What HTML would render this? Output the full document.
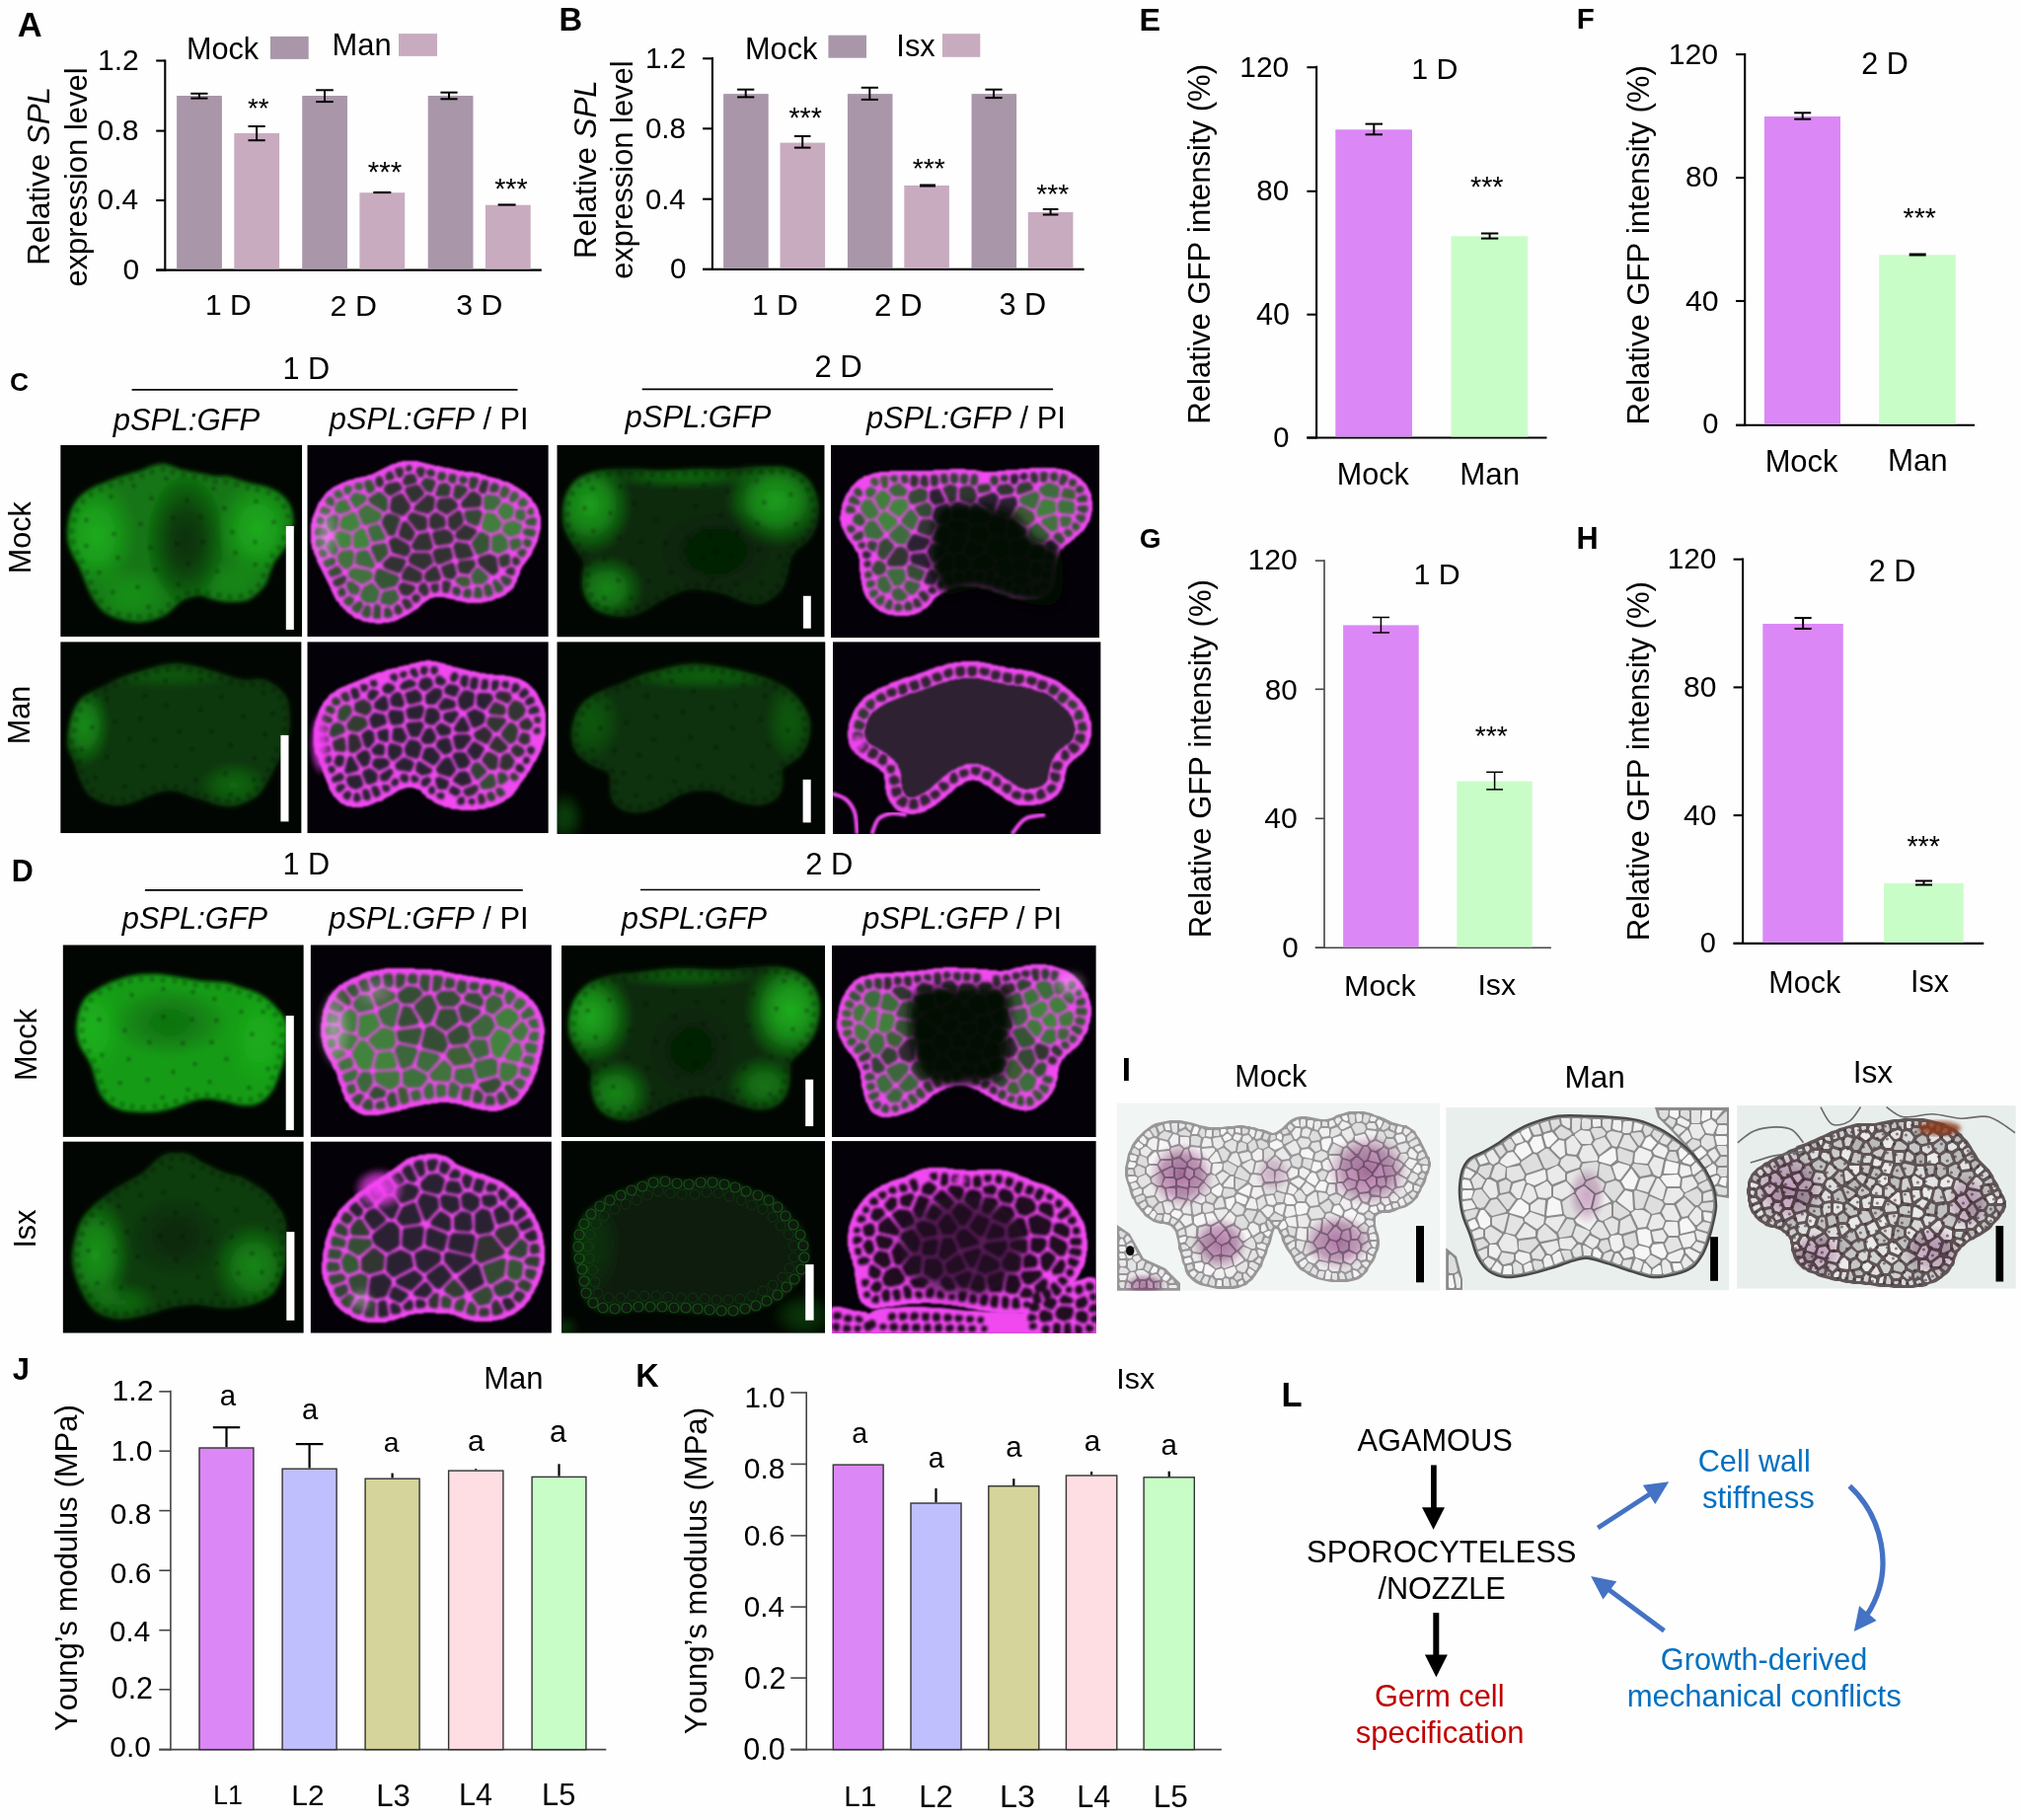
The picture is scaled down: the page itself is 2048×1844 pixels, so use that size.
<!DOCTYPE html>
<html><head><meta charset="utf-8"><title>Figure</title>
<style>html,body{margin:0;padding:0;background:#fff;} svg{display:block;will-change:transform;} text{font-family:'Liberation Sans', Arial, sans-serif;font-kerning:none;}</style>
</head><body>
<svg xmlns="http://www.w3.org/2000/svg" width="2048" height="1844" viewBox="0 0 2048 1844" font-family="'Liberation Sans', Arial, sans-serif">
<rect width="2048" height="1844" fill="#fefefe"/>
<defs>
<filter id="b06" x="-5%" y="-5%" width="110%" height="110%"><feGaussianBlur stdDeviation="0.6"/></filter>
<filter id="b1" x="-5%" y="-5%" width="110%" height="110%"><feGaussianBlur stdDeviation="1.1"/></filter>
<filter id="b13" x="-5%" y="-5%" width="110%" height="110%"><feGaussianBlur stdDeviation="1.35"/></filter>
<filter id="b2" x="-10%" y="-10%" width="120%" height="120%"><feGaussianBlur stdDeviation="2.2"/></filter>
<filter id="b4" x="-20%" y="-20%" width="140%" height="140%"><feGaussianBlur stdDeviation="4"/></filter>
<filter id="b6" x="-30%" y="-30%" width="160%" height="160%"><feGaussianBlur stdDeviation="6"/></filter>
<filter id="b8" x="-30%" y="-30%" width="160%" height="160%"><feGaussianBlur stdDeviation="8"/></filter>
<radialGradient id="gG"><stop offset="0" stop-color="#26d026"/><stop offset="0.45" stop-color="#22c422" stop-opacity="0.8"/><stop offset="0.75" stop-color="#1eb41e" stop-opacity="0.4"/><stop offset="1" stop-color="#1aa01a" stop-opacity="0"/></radialGradient>
<radialGradient id="gD2"><stop offset="0" stop-color="#041204"/><stop offset="0.4" stop-color="#041204" stop-opacity="0.8"/><stop offset="0.75" stop-color="#041204" stop-opacity="0.35"/><stop offset="1" stop-color="#041204" stop-opacity="0"/></radialGradient>
<radialGradient id="gD"><stop offset="0" stop-color="#000"/><stop offset="1" stop-color="#000" stop-opacity="0"/></radialGradient>
<radialGradient id="gM"><stop offset="0" stop-color="#ff44ff"/><stop offset="0.6" stop-color="#f040f0" stop-opacity="0.7"/><stop offset="1" stop-color="#e040e0" stop-opacity="0"/></radialGradient>
<radialGradient id="gW"><stop offset="0" stop-color="#f0c8f0"/><stop offset="1" stop-color="#f0c8f0" stop-opacity="0"/></radialGradient>
<radialGradient id="gP"><stop offset="0" stop-color="#a8609c"/><stop offset="0.6" stop-color="#b878ac" stop-opacity="0.8"/><stop offset="1" stop-color="#c890bc" stop-opacity="0"/></radialGradient>
<radialGradient id="gK"><stop offset="0" stop-color="#0a120a"/><stop offset="0.7" stop-color="#0a140a" stop-opacity="0.9"/><stop offset="1" stop-color="#0a140a" stop-opacity="0"/></radialGradient>
</defs>
<clipPath id="crC1"><rect x="61.2" y="450.9" width="245.0" height="194.3"/></clipPath>
<clipPath id="coC1"><path d="M68.3,538.3C68.5,533.2 69.3,526.4 70.7,521.3C72.1,516.3 74.3,511.6 76.8,508.0C79.2,504.3 82.2,501.9 85.2,499.5C88.3,497.1 91.3,495.2 94.9,493.4C98.6,491.6 103.0,490.2 107.1,488.6C111.1,487.0 115.1,485.1 119.2,483.7C123.2,482.3 127.3,481.3 131.3,480.1C135.4,478.9 139.4,477.9 143.4,476.5C147.5,475.0 151.9,472.7 155.6,471.6C159.2,470.5 162.4,469.8 165.3,469.8C168.1,469.8 169.7,470.7 172.5,471.6C175.4,472.5 178.6,474.2 182.2,475.2C185.9,476.3 190.3,476.9 194.3,477.7C198.4,478.5 202.4,479.3 206.5,480.1C210.5,480.9 214.6,482.1 218.6,482.5C222.6,482.9 226.7,481.9 230.7,482.5C234.8,483.1 238.8,484.9 242.8,486.2C246.9,487.4 250.9,488.8 255.0,489.8C259.0,490.8 263.0,491.0 267.1,492.2C271.1,493.4 275.6,495.0 279.2,497.1C282.8,499.1 286.3,501.5 288.9,504.3C291.5,507.2 293.6,510.4 295.0,514.0C296.4,517.7 297.3,522.1 297.4,526.2C297.5,530.2 296.6,534.2 295.6,538.3C294.6,542.3 293.0,546.8 291.3,550.4C289.6,554.0 287.5,556.9 285.3,560.1C283.0,563.3 280.0,566.2 278.0,569.8C276.0,573.4 274.6,578.3 273.1,581.9C271.7,585.6 271.3,588.6 269.5,591.6C267.7,594.7 265.1,597.5 262.2,600.1C259.4,602.7 256.2,605.8 252.5,607.4C248.9,609.0 244.5,609.4 240.4,609.8C236.4,610.2 232.3,610.2 228.3,609.8C224.3,609.4 220.2,608.4 216.2,607.4C212.1,606.4 207.7,604.1 204.0,603.7C200.4,603.3 197.6,604.1 194.3,605.0C191.1,605.8 187.7,606.8 184.7,608.6C181.6,610.4 179.0,613.4 176.2,615.9C173.3,618.3 171.1,621.1 167.7,623.1C164.2,625.2 159.6,626.8 155.6,628.0C151.5,629.2 147.9,630.2 143.4,630.4C139.0,630.6 133.5,630.0 128.9,629.2C124.2,628.4 119.6,627.2 115.6,625.6C111.5,624.0 107.9,622.1 104.6,619.5C101.4,616.9 98.6,613.2 96.2,609.8C93.7,606.4 91.9,602.7 90.1,598.9C88.3,595.1 86.9,590.8 85.2,586.8C83.6,582.7 82.2,578.5 80.4,574.7C78.6,570.8 76.2,567.6 74.3,563.7C72.5,559.9 70.5,555.9 69.5,551.6C68.5,547.4 68.1,543.3 68.3,538.3Z"/></clipPath>
<g clip-path="url(#crC1)">
<rect x="61.2" y="450.9" width="245.0" height="194.3" fill="#020602"/>
<g filter="url(#b2)">
<path d="M68.3,538.3C68.5,533.2 69.3,526.4 70.7,521.3C72.1,516.3 74.3,511.6 76.8,508.0C79.2,504.3 82.2,501.9 85.2,499.5C88.3,497.1 91.3,495.2 94.9,493.4C98.6,491.6 103.0,490.2 107.1,488.6C111.1,487.0 115.1,485.1 119.2,483.7C123.2,482.3 127.3,481.3 131.3,480.1C135.4,478.9 139.4,477.9 143.4,476.5C147.5,475.0 151.9,472.7 155.6,471.6C159.2,470.5 162.4,469.8 165.3,469.8C168.1,469.8 169.7,470.7 172.5,471.6C175.4,472.5 178.6,474.2 182.2,475.2C185.9,476.3 190.3,476.9 194.3,477.7C198.4,478.5 202.4,479.3 206.5,480.1C210.5,480.9 214.6,482.1 218.6,482.5C222.6,482.9 226.7,481.9 230.7,482.5C234.8,483.1 238.8,484.9 242.8,486.2C246.9,487.4 250.9,488.8 255.0,489.8C259.0,490.8 263.0,491.0 267.1,492.2C271.1,493.4 275.6,495.0 279.2,497.1C282.8,499.1 286.3,501.5 288.9,504.3C291.5,507.2 293.6,510.4 295.0,514.0C296.4,517.7 297.3,522.1 297.4,526.2C297.5,530.2 296.6,534.2 295.6,538.3C294.6,542.3 293.0,546.8 291.3,550.4C289.6,554.0 287.5,556.9 285.3,560.1C283.0,563.3 280.0,566.2 278.0,569.8C276.0,573.4 274.6,578.3 273.1,581.9C271.7,585.6 271.3,588.6 269.5,591.6C267.7,594.7 265.1,597.5 262.2,600.1C259.4,602.7 256.2,605.8 252.5,607.4C248.9,609.0 244.5,609.4 240.4,609.8C236.4,610.2 232.3,610.2 228.3,609.8C224.3,609.4 220.2,608.4 216.2,607.4C212.1,606.4 207.7,604.1 204.0,603.7C200.4,603.3 197.6,604.1 194.3,605.0C191.1,605.8 187.7,606.8 184.7,608.6C181.6,610.4 179.0,613.4 176.2,615.9C173.3,618.3 171.1,621.1 167.7,623.1C164.2,625.2 159.6,626.8 155.6,628.0C151.5,629.2 147.9,630.2 143.4,630.4C139.0,630.6 133.5,630.0 128.9,629.2C124.2,628.4 119.6,627.2 115.6,625.6C111.5,624.0 107.9,622.1 104.6,619.5C101.4,616.9 98.6,613.2 96.2,609.8C93.7,606.4 91.9,602.7 90.1,598.9C88.3,595.1 86.9,590.8 85.2,586.8C83.6,582.7 82.2,578.5 80.4,574.7C78.6,570.8 76.2,567.6 74.3,563.7C72.5,559.9 70.5,555.9 69.5,551.6C68.5,547.4 68.1,543.3 68.3,538.3Z" fill="rgb(18, 117, 18)"/>
<g clip-path="url(#coC1)">
<ellipse cx="97.4" cy="541.9" rx="42.4" ry="60.6" fill="url(#gG)" opacity="0.60"/>
<ellipse cx="261.0" cy="535.9" rx="42.4" ry="54.6" fill="url(#gG)" opacity="0.60"/>
<ellipse cx="133.7" cy="602.5" rx="42.4" ry="30.3" fill="url(#gG)" opacity="0.30"/>
<ellipse cx="236.8" cy="590.4" rx="36.4" ry="24.2" fill="url(#gG)" opacity="0.20"/>
<ellipse cx="188.3" cy="548.0" rx="40.0" ry="67.9" fill="url(#gD2)" opacity="0.70"/>
</g></g>
<path d="M76,538a3,3 0 1,0 -6,0a3,3 0 1,0 6,0ZM77,549a3,3 0 1,0 -6,0a3,3 0 1,0 6,0ZM81,560a3,3 0 1,0 -6,0a3,3 0 1,0 6,0ZM86,569a3,3 0 1,0 -6,0a3,3 0 1,0 6,0ZM91,580a3,3 0 1,0 -6,0a3,3 0 1,0 6,0ZM95,590a3,3 0 1,0 -6,0a3,3 0 1,0 6,0ZM99,600a3,3 0 1,0 -6,0a3,3 0 1,0 6,0ZM105,609a3,3 0 1,0 -6,0a3,3 0 1,0 6,0ZM113,617a3,3 0 1,0 -6,0a3,3 0 1,0 6,0ZM123,622a3,3 0 1,0 -6,0a3,3 0 1,0 6,0ZM134,624a3,3 0 1,0 -6,0a3,3 0 1,0 6,0ZM144,625a3,3 0 1,0 -6,0a3,3 0 1,0 6,0ZM155,624a3,3 0 1,0 -6,0a3,3 0 1,0 6,0ZM166,620a3,3 0 1,0 -6,0a3,3 0 1,0 6,0ZM174,613a3,3 0 1,0 -6,0a3,3 0 1,0 6,0ZM183,606a3,3 0 1,0 -6,0a3,3 0 1,0 6,0ZM193,601a3,3 0 1,0 -6,0a3,3 0 1,0 6,0ZM203,599a3,3 0 1,0 -6,0a3,3 0 1,0 6,0ZM214,601a3,3 0 1,0 -6,0a3,3 0 1,0 6,0ZM225,603a3,3 0 1,0 -6,0a3,3 0 1,0 6,0ZM236,605a3,3 0 1,0 -6,0a3,3 0 1,0 6,0ZM247,604a3,3 0 1,0 -6,0a3,3 0 1,0 6,0ZM257,600a3,3 0 1,0 -6,0a3,3 0 1,0 6,0ZM265,593a3,3 0 1,0 -6,0a3,3 0 1,0 6,0ZM270,583a3,3 0 1,0 -6,0a3,3 0 1,0 6,0ZM274,573a3,3 0 1,0 -6,0a3,3 0 1,0 6,0ZM279,563a3,3 0 1,0 -6,0a3,3 0 1,0 6,0ZM286,555a3,3 0 1,0 -6,0a3,3 0 1,0 6,0ZM291,545a3,3 0 1,0 -6,0a3,3 0 1,0 6,0ZM294,534a3,3 0 1,0 -6,0a3,3 0 1,0 6,0ZM295,523a3,3 0 1,0 -6,0a3,3 0 1,0 6,0ZM291,513a3,3 0 1,0 -6,0a3,3 0 1,0 6,0ZM284,505a3,3 0 1,0 -6,0a3,3 0 1,0 6,0ZM275,499a3,3 0 1,0 -6,0a3,3 0 1,0 6,0ZM264,496a3,3 0 1,0 -6,0a3,3 0 1,0 6,0ZM254,494a3,3 0 1,0 -6,0a3,3 0 1,0 6,0ZM243,491a3,3 0 1,0 -6,0a3,3 0 1,0 6,0ZM232,488a3,3 0 1,0 -6,0a3,3 0 1,0 6,0ZM221,488a3,3 0 1,0 -6,0a3,3 0 1,0 6,0ZM211,485a3,3 0 1,0 -6,0a3,3 0 1,0 6,0ZM200,483a3,3 0 1,0 -6,0a3,3 0 1,0 6,0ZM189,481a3,3 0 1,0 -6,0a3,3 0 1,0 6,0ZM178,478a3,3 0 1,0 -6,0a3,3 0 1,0 6,0ZM168,475a3,3 0 1,0 -6,0a3,3 0 1,0 6,0ZM157,478a3,3 0 1,0 -6,0a3,3 0 1,0 6,0ZM147,482a3,3 0 1,0 -6,0a3,3 0 1,0 6,0ZM136,485a3,3 0 1,0 -6,0a3,3 0 1,0 6,0ZM126,488a3,3 0 1,0 -6,0a3,3 0 1,0 6,0ZM115,492a3,3 0 1,0 -6,0a3,3 0 1,0 6,0ZM105,496a3,3 0 1,0 -6,0a3,3 0 1,0 6,0ZM95,501a3,3 0 1,0 -6,0a3,3 0 1,0 6,0ZM87,508a3,3 0 1,0 -6,0a3,3 0 1,0 6,0ZM81,517a3,3 0 1,0 -6,0a3,3 0 1,0 6,0ZM78,527a3,3 0 1,0 -6,0a3,3 0 1,0 6,0Z" fill="#000" opacity="0.18" filter="url(#b1)"/>
<path d="M182,551a2.5,2.5 0 1,0 -5,0a2.5,2.5 0 1,0 5,0ZM178,525a2.5,2.5 0 1,0 -5,0a2.5,2.5 0 1,0 5,0ZM192,507a2.5,2.5 0 1,0 -5,0a2.5,2.5 0 1,0 5,0ZM156,505a2.5,2.5 0 1,0 -5,0a2.5,2.5 0 1,0 5,0ZM230,515a2.5,2.5 0 1,0 -5,0a2.5,2.5 0 1,0 5,0ZM145,531a2.5,2.5 0 1,0 -5,0a2.5,2.5 0 1,0 5,0ZM115,503a2.5,2.5 0 1,0 -5,0a2.5,2.5 0 1,0 5,0ZM208,549a2.5,2.5 0 1,0 -5,0a2.5,2.5 0 1,0 5,0ZM183,592a2.5,2.5 0 1,0 -5,0a2.5,2.5 0 1,0 5,0ZM223,579a2.5,2.5 0 1,0 -5,0a2.5,2.5 0 1,0 5,0ZM155,555a2.5,2.5 0 1,0 -5,0a2.5,2.5 0 1,0 5,0ZM118,541a2.5,2.5 0 1,0 -5,0a2.5,2.5 0 1,0 5,0ZM171,485a2.5,2.5 0 1,0 -5,0a2.5,2.5 0 1,0 5,0ZM122,565a2.5,2.5 0 1,0 -5,0a2.5,2.5 0 1,0 5,0ZM103,580a2.5,2.5 0 1,0 -5,0a2.5,2.5 0 1,0 5,0ZM142,595a2.5,2.5 0 1,0 -5,0a2.5,2.5 0 1,0 5,0ZM117,600a2.5,2.5 0 1,0 -5,0a2.5,2.5 0 1,0 5,0ZM193,571a2.5,2.5 0 1,0 -5,0a2.5,2.5 0 1,0 5,0ZM206,524a2.5,2.5 0 1,0 -5,0a2.5,2.5 0 1,0 5,0ZM90,553a2.5,2.5 0 1,0 -5,0a2.5,2.5 0 1,0 5,0ZM160,577a2.5,2.5 0 1,0 -5,0a2.5,2.5 0 1,0 5,0ZM238,539a2.5,2.5 0 1,0 -5,0a2.5,2.5 0 1,0 5,0ZM90,527a2.5,2.5 0 1,0 -5,0a2.5,2.5 0 1,0 5,0ZM241,560a2.5,2.5 0 1,0 -5,0a2.5,2.5 0 1,0 5,0ZM153,615a2.5,2.5 0 1,0 -5,0a2.5,2.5 0 1,0 5,0ZM138,492a2.5,2.5 0 1,0 -5,0a2.5,2.5 0 1,0 5,0ZM262,508a2.5,2.5 0 1,0 -5,0a2.5,2.5 0 1,0 5,0ZM261,549a2.5,2.5 0 1,0 -5,0a2.5,2.5 0 1,0 5,0ZM261,572a2.5,2.5 0 1,0 -5,0a2.5,2.5 0 1,0 5,0ZM280,529a2.5,2.5 0 1,0 -5,0a2.5,2.5 0 1,0 5,0ZM219,495a2.5,2.5 0 1,0 -5,0a2.5,2.5 0 1,0 5,0Z" fill="#000" opacity="0.22" filter="url(#b1)"/>
<rect x="289.8" y="533.0" width="8.0" height="105.0" fill="#fff"/>
</g>
<clipPath id="crC2"><rect x="311.3" y="450.9" width="244.5" height="194.3"/></clipPath>
<g clip-path="url(#crC2)">
<rect x="311.3" y="450.9" width="244.5" height="194.3" fill="#050108"/>
<path d="M315,538 315,540 315,543 315,545 315,547 315,549 315,550 316,552 316,554 316,555 317,557 318,558 318,560 319,562 320,564 321,566 321,568 322,570 323,572 324,574 325,576 326,578 327,580 328,582 329,584 330,586 331,588 332,590 333,592 334,594 335,596 336,599 337,601 338,603 339,605 340,607 341,609 343,610 344,612 345,614 347,615 348,617 350,618 351,620 353,621 354,622 356,623 358,625 359,626 361,627 363,627 365,628 367,629 369,630 372,630 374,631 376,631 379,631 381,632 384,632 386,632 389,631 391,631 394,631 396,630 398,630 401,629 403,628 405,627 407,626 409,625 411,624 413,623 415,622 416,621 418,620 419,619 421,618 423,617 424,616 426,614 427,613 429,611 431,610 432,609 434,608 435,607 437,606 439,606 440,605 442,605 444,605 446,605 448,605 450,605 452,606 454,606 456,607 459,607 461,608 464,609 466,609 469,610 471,610 473,611 476,611 478,611 481,611 483,611 486,611 488,611 491,610 493,610 495,609 498,609 500,608 502,607 504,606 506,606 508,605 510,604 512,603 513,602 515,600 517,599 518,598 520,596 521,595 521,594 522,592 523,590 524,589 524,587 525,585 526,583 527,581 527,579 528,577 529,575 530,573 532,571 533,569 535,567 536,565 538,563 539,561 540,558 541,556 542,554 543,552 544,550 545,548 545,546 546,544 546,542 547,540 547,538 548,536 548,534 548,532 548,530 548,528 548,526 548,524 547,522 547,521 546,519 546,517 545,515 544,513 543,511 542,510 540,508 539,506 538,504 536,503 535,502 534,500 532,499 531,498 529,497 528,496 526,495 525,494 523,493 521,492 520,491 518,490 516,489 514,488 512,488 509,487 507,486 505,485 503,485 501,484 499,484 497,483 495,483 493,482 491,481 489,481 487,480 485,479 483,479 481,479 479,478 477,478 475,478 473,478 471,478 469,477 467,477 465,477 463,476 461,476 459,475 457,475 455,474 453,474 451,474 449,473 447,473 445,472 443,472 441,472 439,471 437,471 435,470 433,470 431,469 429,469 427,468 425,468 423,467 421,467 418,467 416,467 414,467 412,467 410,467 408,467 406,468 404,468 402,469 400,470 398,470 396,471 394,472 392,473 390,474 388,475 386,476 384,477 382,478 380,479 378,480 376,481 374,481 372,482 369,483 367,483 364,484 362,484 359,485 357,486 355,486 352,487 350,488 347,489 345,490 343,491 341,492 339,493 337,494 335,496 333,497 331,499 329,501 328,503 326,505 325,507 323,509 322,511 321,514 320,516 319,519 318,521 317,524 316,526 316,529 315,531 315,534 315,536Z" fill="#f04af0" filter="url(#b1)"/>
<g filter="url(#b13)">
<path d="M319,540 319,542 321,543 329,543 330,542 332,541 332,539 330,536 328,535 323,534 321,534 320,536ZM323,545 321,546 320,548 320,551 321,554 323,555 325,554 329,552 330,549 329,547 328,546ZM325,556 324,557 323,559 324,563 325,564 327,565 330,564 331,563 332,561 331,559 328,556ZM334,565 328,568 327,570 328,571 330,575 331,575 339,572 340,570 340,567 339,565 337,565ZM350,606 348,608 348,610 350,612 352,614 354,614 356,613 359,609 359,607 356,604 353,604ZM357,614 356,616 357,618 359,620 362,621 364,621 365,619 368,614 368,612 366,609 365,609 363,609ZM369,615 366,622 367,624 371,626 373,626 375,625 376,623 376,615 375,614 373,613 371,613ZM480,603 480,605 482,606 485,606 488,606 489,604 489,602 488,596 486,595 484,594 482,595 481,596ZM498,594 496,592 494,591 492,592 490,594 491,602 492,604 493,605 498,604 499,603 500,601ZM510,594 503,587 501,587 500,588 499,590 502,599 503,600 505,601 509,599 510,598 510,596ZM535,546 533,545 532,546 530,548 530,549 531,553 535,555 537,554 538,553 539,549 538,547ZM375,486 370,487 369,489 369,491 372,499 375,500 380,497 380,494 377,487ZM321,528 321,530 322,531 325,532 326,532 328,531 329,527 328,525 326,524 324,523 322,524ZM487,562 495,558 496,556 496,545 496,543 489,539 486,539 479,548 478,550 478,552 483,562ZM376,557 382,570 385,570 393,562 394,561 392,552 390,550 378,552 376,554ZM383,498 382,499 374,504 373,506 374,508 375,510 388,518 389,519 391,518 392,517 393,516 393,505 387,499ZM385,576 383,576 381,578 379,586 380,589 385,596 387,597 389,597 401,594 404,589 405,587 404,584 403,583Z" fill="rgb(54, 84, 54)"/>
<path d="M340,574 333,578 332,580 333,581 335,585 336,585 345,582 347,579 345,576 342,573ZM378,623 378,625 379,627 381,627 385,627 386,625 386,615 384,612 381,612 379,613ZM469,602 469,604 470,605 474,606 476,606 477,605 478,603 478,598 475,596 471,597 470,598ZM527,564 529,565 531,564 533,561 534,559 533,558 532,556 530,556 528,556 525,558 524,560 525,562Z" fill="rgb(54, 78, 54)"/>
<path d="M338,593 340,594 341,595 348,592 349,591 351,588 351,584 348,583 339,587 338,588 337,589ZM400,621 401,622 403,623 405,623 408,620 408,619 408,617 405,613 403,612 401,613 399,616ZM480,483 478,483 476,484 475,491 476,495 479,496 482,495 485,488 485,486 484,484ZM428,487 426,490 432,498 435,499 438,499 442,489 440,486 432,484 431,484ZM444,492 441,501 441,502 443,503 454,503 456,501 457,493 452,489 446,490ZM517,564 515,561 513,561 507,563 506,564 505,566 506,572 508,575 511,575 517,572 517,570ZM391,521 390,522 387,527 387,531 393,542 394,543 397,543 401,542 401,540 406,526 405,525 404,523 395,520ZM461,492 460,495 459,503 462,506 466,506 473,499 474,497 474,496 473,494 472,493 465,491 463,491Z" fill="rgb(48, 60, 48)"/>
<path d="M344,596 343,598 342,599 343,603 345,605 347,605 348,604 351,602 350,598 349,596 347,595Z" fill="rgb(48, 72, 54)"/>
<path d="M389,623 389,625 391,626 395,626 397,625 398,623 398,621 395,616 393,615 390,616 389,617ZM516,585 510,583 508,584 507,585 507,587 511,593 514,594 517,592 519,588 518,586ZM502,489 500,489 498,490 496,495 496,497 497,499 499,499 503,499 504,499 506,494 506,492 505,491ZM489,521 488,518 485,516 474,517 472,517 471,519 470,521 472,527 474,530 482,533 484,533 485,532 486,530Z" fill="rgb(54, 72, 54)"/>
<path d="M411,606 409,607 407,608 407,610 410,616 411,617 413,618 416,616 418,615 418,613 415,608ZM419,610 420,611 422,611 424,610 426,607 426,604 423,602 421,601 420,602 417,605 417,607ZM433,593 432,591 429,590 427,591 424,594 424,596 424,599 429,604 432,604 434,602 435,599ZM437,598 439,601 444,600 445,597 445,593 444,591 442,591 437,592 436,594ZM448,590 448,599 450,601 454,601 455,600 457,593 457,591 456,589 452,588 450,588ZM514,576 513,577 512,579 513,581 517,583 519,583 521,583 522,579 522,576 518,574ZM485,495 485,497 487,500 489,500 492,500 493,498 495,491 495,489 495,487 491,486 489,486 488,487ZM421,477 422,479 424,483 426,484 429,483 431,477 430,474 426,473 424,473 423,474ZM414,471 412,472 411,473 411,475 411,477 414,478 417,477 418,474 416,471ZM402,474 400,475 400,477 402,482 403,484 405,484 407,484 409,480 409,476 408,474 406,473ZM392,479 390,482 391,485 392,487 394,487 398,486 400,484 398,479 397,478 395,477ZM382,483 380,486 381,492 383,493 384,494 386,494 389,490 389,487 387,483 385,482ZM439,554 435,540 434,539 424,541 418,550 417,553 418,556 421,558 436,558ZM437,563 436,561 434,560 418,560 414,565 414,568 415,571 427,577 429,578 431,577 437,572 439,571 439,569ZM459,564 457,555 454,554 441,556 438,560 441,570 443,572 446,572 458,567ZM459,542 458,540 454,537 451,536 441,538 439,539 438,541 438,543 441,552 444,553 457,551 460,547ZM483,540 483,537 482,536 473,532 471,531 470,532 462,539 461,543 463,546 465,547 476,548ZM396,546 394,548 394,550 397,560 410,564 412,564 413,563 416,559 416,557 415,552 403,545 400,544ZM435,533 436,535 438,536 440,537 451,534 452,531 451,524 443,519 441,519 439,520 435,524ZM468,520 466,517 464,517 454,524 454,533 455,534 457,537 461,538 469,531 470,527ZM433,526 432,524 431,523 419,519 417,519 416,520 413,523 413,526 422,537 423,538 425,538 432,537 433,534ZM464,511 463,509 457,504 446,505 443,507 442,514 443,516 444,517 453,522 454,521 463,515 464,514ZM421,512 420,513 419,515 420,517 422,518 434,521 440,516 441,505 439,503 437,502 433,501ZM467,512 469,515 470,515 486,514 488,511 488,503 483,499 482,498 477,498 468,508 467,510ZM459,554 462,565 465,567 477,565 480,563 480,562 475,551 464,549 462,549 461,550ZM397,504 396,507 395,515 396,518 397,519 407,523 409,523 415,517 416,515 416,512 408,500 406,500 405,500ZM457,570 447,574 447,575 447,577 450,585 456,587 458,587 460,586 463,582 461,573 460,571 459,570ZM422,491 411,494 410,497 416,508 417,509 419,509 421,509 430,501 430,499 429,497 424,491ZM486,564 484,567 484,568 485,572 497,582 499,583 502,582 505,579 505,577 503,564 496,561ZM408,487 408,489 409,491 411,492 412,492 420,490 422,489 423,487 421,482 419,480 417,480 411,481ZM389,494 389,498 390,499 395,503 397,502 406,497 407,496 408,494 406,491 405,489 402,488 392,490ZM404,540 404,543 405,544 415,549 416,548 418,547 421,540 420,538 413,529 412,528 410,528 408,529 407,530ZM447,584 443,574 440,573 432,579 430,582 430,586 431,588 432,589 435,590 444,589 446,588 447,586ZM428,582 428,581 426,579 415,573 413,573 411,575 407,582 407,584 407,587 409,588 423,591 428,588ZM390,576 404,581 407,579 411,571 412,569 411,567 409,566 396,563 388,570 388,573ZM409,590 406,591 405,592 403,596 404,597 407,603 414,604 420,599 421,597 421,595 421,594 419,593Z" fill="rgb(48, 48, 48)"/>
<path d="M458,599 459,602 463,604 464,604 466,603 467,600 467,598 466,596 463,594 459,595ZM465,486 466,489 469,491 471,490 473,489 474,486 473,484 472,483 469,482 466,483ZM454,485 454,487 455,488 458,490 460,490 462,489 462,488 463,482 462,481 460,480 456,480 455,481Z" fill="rgb(48, 66, 54)"/>
<path d="M525,565 523,564 521,564 519,566 519,570 520,572 521,573 525,573 527,570 527,567ZM437,475 433,476 432,478 432,480 434,482 435,483 439,483 440,482 441,480 441,478 440,477ZM466,568 465,569 464,571 463,573 465,579 466,581 468,581 475,582 482,573 482,571 481,568 480,567 478,567Z" fill="rgb(48, 54, 48)"/>
<path d="M534,535 531,536 530,537 530,540 531,542 537,544 539,544 541,544 543,540 543,538 541,536ZM533,527 532,529 533,531 534,532 540,533 542,533 543,532 544,527 543,525 541,524 536,525Z" fill="rgb(54, 90, 54)"/>
<path d="M541,516 538,514 535,516 534,519 535,521 537,522 539,522 541,521 541,519ZM508,504 511,505 514,503 517,497 516,495 515,494 511,492 509,493 508,495 506,501ZM324,517 324,519 325,520 330,522 333,521 334,520 335,518 335,516 333,515 328,513 327,513ZM462,586 461,588 462,590 463,591 469,595 475,594 476,593 477,591 476,586 474,585 473,584 465,584Z" fill="rgb(60, 90, 54)"/>
<path d="M525,508 525,510 525,511 526,513 528,514 533,513 535,511 535,509 534,507 531,504 529,504ZM523,498 521,498 519,498 516,504 516,507 518,509 521,509 526,504 526,503 526,501ZM361,489 360,490 359,492 359,493 360,496 364,497 365,497 367,496 368,495 368,493 367,489 365,489ZM330,506 330,508 330,510 331,511 335,513 337,513 339,511 339,507 337,504 335,503 333,503ZM479,590 480,592 482,592 487,592 489,592 495,587 495,584 487,576 485,575 483,575 481,577 477,583ZM351,591 351,594 354,601 359,603 363,602 365,597 364,594 357,589 355,589 353,589ZM405,606 404,604 402,599 400,597 389,599 388,600 387,601 385,610 387,612 388,612 396,614 403,609Z" fill="rgb(60, 96, 60)"/>
<path d="M444,479 443,485 445,487 449,487 451,486 452,484 452,480 451,479 449,478 446,478Z" fill="rgb(48, 66, 48)"/>
<path d="M350,492 349,494 348,495 348,497 350,501 352,501 354,501 356,498 357,497 357,494 356,492 354,492ZM339,498 338,499 338,501 340,504 341,505 343,505 347,504 348,502 347,500 345,497 343,496ZM517,554 518,557 520,558 527,555 528,553 529,551 527,546 525,545 524,545 519,546 517,547 516,549Z" fill="rgb(60, 102, 60)"/>
<path d="M488,533 489,536 490,537 496,540 499,540 506,537 509,530 501,520 493,519 491,521ZM514,543 518,544 527,541 529,534 529,532 527,530 520,527 511,530 509,536 509,538ZM509,526 511,527 513,527 518,525 519,524 520,522 521,516 520,514 519,512 512,509 509,510 505,516 504,518 505,520Z" fill="rgb(66, 126, 60)"/>
<path d="M380,549 390,547 391,544 385,532 382,531 373,534 373,536 373,538 377,549ZM490,513 491,516 493,517 501,517 507,510 508,507 505,503 503,502 495,501 493,501 491,503 490,505ZM374,559 373,558 370,557 362,559 361,561 360,569 361,572 376,576 378,576 379,575 380,573 380,571ZM343,526 343,524 341,522 339,521 333,524 331,525 331,534 336,539 339,538 342,536ZM339,548 338,547 336,547 334,547 331,552 330,554 335,561 338,563 340,562 341,561 343,557ZM522,522 522,524 523,526 528,528 531,527 533,524 532,518 531,516 529,516 524,516 523,517ZM365,603 365,605 366,607 370,610 371,611 379,611 382,609 383,608 385,599 379,592 377,590 368,595Z" fill="rgb(60, 108, 60)"/>
<path d="M503,561 506,561 512,558 514,557 515,555 514,546 509,541 507,540 501,542 499,543 498,545 498,556 498,558ZM355,507 360,515 361,515 370,509 372,505 371,502 369,501 361,499 359,499 358,500 354,505Z" fill="rgb(60, 114, 60)"/>
<path d="M363,520 368,532 372,532 383,529 385,527 387,524 387,520 374,512 372,511 370,512 364,516 363,518ZM353,584 355,586 367,592 377,587 378,582 377,580 375,578 359,575 354,578 353,580ZM347,558 345,559 342,563 342,566 344,572 349,576 352,577 358,572 359,561 358,559 357,557 355,557Z" fill="rgb(66, 114, 60)"/>
<path d="M358,553 359,555 360,556 362,556 371,555 373,554 374,553 375,550 370,537 368,535 365,535 358,541ZM365,530 360,519 359,519 357,519 346,524 344,533 346,536 356,539 364,534 365,532ZM340,540 339,543 339,545 344,554 346,555 348,556 355,554 356,551 356,543 355,541 353,540 345,538 343,538Z" fill="rgb(66, 132, 60)"/>
<path d="M339,515 339,518 341,519 344,521 354,518 355,517 356,515 352,508 351,506 349,506 342,508Z" fill="rgb(66, 120, 60)"/>
</g>
<ellipse cx="329.2" cy="541.9" rx="15.8" ry="36.4" fill="url(#gW)" opacity="0.45" filter="url(#b2)"/>
</g>
<clipPath id="crC3"><rect x="61.2" y="650.2" width="244.4" height="194.0"/></clipPath>
<clipPath id="coC3"><path d="M68.3,750.6C68.5,746.0 69.5,737.9 70.7,732.4C71.9,727.0 73.5,722.1 75.5,717.9C77.6,713.6 80.0,709.8 82.8,707.0C85.6,704.1 88.9,702.9 92.5,700.9C96.2,698.9 100.6,696.9 104.6,694.9C108.7,692.8 112.7,690.6 116.8,688.8C120.8,687.0 124.8,685.4 128.9,683.9C132.9,682.5 137.0,681.5 141.0,680.3C145.1,679.1 149.1,677.8 153.1,676.7C157.2,675.6 161.2,674.4 165.3,673.6C169.3,672.8 173.3,671.9 177.4,671.8C181.4,671.7 185.5,672.4 189.5,673.0C193.5,673.6 197.6,674.4 201.6,675.5C205.7,676.5 209.7,677.9 213.7,679.1C217.8,680.3 221.8,681.5 225.9,682.7C229.9,683.9 234.0,685.4 238.0,686.4C242.0,687.4 246.1,688.6 250.1,688.8C254.2,689.0 258.2,687.2 262.2,687.6C266.3,688.0 270.7,689.4 274.4,691.2C278.0,693.0 281.2,695.7 284.1,698.5C286.9,701.3 289.7,704.1 291.3,708.2C292.9,712.2 293.4,717.9 293.8,722.7C294.2,727.6 294.2,732.8 293.8,737.3C293.4,741.7 292.5,745.4 291.3,749.4C290.1,753.4 288.5,756.9 286.5,761.5C284.5,766.2 281.8,772.0 279.2,777.3C276.6,782.5 273.6,788.4 270.7,793.0C267.9,797.7 265.7,801.9 262.2,805.2C258.8,808.4 254.6,810.4 250.1,812.4C245.7,814.5 240.4,816.7 235.6,817.3C230.7,817.9 225.9,817.1 221.0,816.1C216.2,815.1 210.9,812.6 206.5,811.2C202.0,809.8 198.4,809.0 194.3,807.6C190.3,806.2 186.3,803.8 182.2,802.7C178.2,801.7 174.1,801.3 170.1,801.5C166.1,801.7 162.0,802.7 158.0,804.0C153.9,805.2 149.9,807.2 145.9,808.8C141.8,810.4 138.2,812.4 133.7,813.7C129.3,814.9 124.0,816.1 119.2,816.1C114.3,816.1 109.1,815.1 104.6,813.7C100.2,812.2 95.8,810.0 92.5,807.6C89.3,805.2 87.5,802.7 85.2,799.1C83.0,795.5 81.0,790.4 79.2,785.8C77.4,781.1 76.0,775.5 74.3,771.2C72.7,767.0 70.5,763.8 69.5,760.3C68.5,756.9 68.1,755.3 68.3,750.6Z"/></clipPath>
<g clip-path="url(#crC3)">
<rect x="61.2" y="650.2" width="244.4" height="194.0" fill="#020602"/>
<g filter="url(#b2)">
<path d="M68.3,750.6C68.5,746.0 69.5,737.9 70.7,732.4C71.9,727.0 73.5,722.1 75.5,717.9C77.6,713.6 80.0,709.8 82.8,707.0C85.6,704.1 88.9,702.9 92.5,700.9C96.2,698.9 100.6,696.9 104.6,694.9C108.7,692.8 112.7,690.6 116.8,688.8C120.8,687.0 124.8,685.4 128.9,683.9C132.9,682.5 137.0,681.5 141.0,680.3C145.1,679.1 149.1,677.8 153.1,676.7C157.2,675.6 161.2,674.4 165.3,673.6C169.3,672.8 173.3,671.9 177.4,671.8C181.4,671.7 185.5,672.4 189.5,673.0C193.5,673.6 197.6,674.4 201.6,675.5C205.7,676.5 209.7,677.9 213.7,679.1C217.8,680.3 221.8,681.5 225.9,682.7C229.9,683.9 234.0,685.4 238.0,686.4C242.0,687.4 246.1,688.6 250.1,688.8C254.2,689.0 258.2,687.2 262.2,687.6C266.3,688.0 270.7,689.4 274.4,691.2C278.0,693.0 281.2,695.7 284.1,698.5C286.9,701.3 289.7,704.1 291.3,708.2C292.9,712.2 293.4,717.9 293.8,722.7C294.2,727.6 294.2,732.8 293.8,737.3C293.4,741.7 292.5,745.4 291.3,749.4C290.1,753.4 288.5,756.9 286.5,761.5C284.5,766.2 281.8,772.0 279.2,777.3C276.6,782.5 273.6,788.4 270.7,793.0C267.9,797.7 265.7,801.9 262.2,805.2C258.8,808.4 254.6,810.4 250.1,812.4C245.7,814.5 240.4,816.7 235.6,817.3C230.7,817.9 225.9,817.1 221.0,816.1C216.2,815.1 210.9,812.6 206.5,811.2C202.0,809.8 198.4,809.0 194.3,807.6C190.3,806.2 186.3,803.8 182.2,802.7C178.2,801.7 174.1,801.3 170.1,801.5C166.1,801.7 162.0,802.7 158.0,804.0C153.9,805.2 149.9,807.2 145.9,808.8C141.8,810.4 138.2,812.4 133.7,813.7C129.3,814.9 124.0,816.1 119.2,816.1C114.3,816.1 109.1,815.1 104.6,813.7C100.2,812.2 95.8,810.0 92.5,807.6C89.3,805.2 87.5,802.7 85.2,799.1C83.0,795.5 81.0,790.4 79.2,785.8C77.4,781.1 76.0,775.5 74.3,771.2C72.7,767.0 70.5,763.8 69.5,760.3C68.5,756.9 68.1,755.3 68.3,750.6Z" fill="rgb(10, 56, 10)"/>
<g clip-path="url(#coC3)">
<ellipse cx="85.2" cy="734.9" rx="26.7" ry="42.4" fill="url(#gG)" opacity="0.55"/>
<ellipse cx="170.1" cy="683.9" rx="72.7" ry="14.5" fill="url(#gG)" opacity="0.20"/>
<ellipse cx="236.8" cy="795.5" rx="36.4" ry="24.2" fill="url(#gG)" opacity="0.30"/>
</g></g>
<path d="M76,751a3,3 0 1,0 -6,0a3,3 0 1,0 6,0ZM78,761a3,3 0 1,0 -6,0a3,3 0 1,0 6,0ZM83,772a3,3 0 1,0 -6,0a3,3 0 1,0 6,0ZM86,782a3,3 0 1,0 -6,0a3,3 0 1,0 6,0ZM91,792a3,3 0 1,0 -6,0a3,3 0 1,0 6,0ZM97,801a3,3 0 1,0 -6,0a3,3 0 1,0 6,0ZM106,807a3,3 0 1,0 -6,0a3,3 0 1,0 6,0ZM117,810a3,3 0 1,0 -6,0a3,3 0 1,0 6,0ZM128,810a3,3 0 1,0 -6,0a3,3 0 1,0 6,0ZM138,808a3,3 0 1,0 -6,0a3,3 0 1,0 6,0ZM149,804a3,3 0 1,0 -6,0a3,3 0 1,0 6,0ZM159,799a3,3 0 1,0 -6,0a3,3 0 1,0 6,0ZM170,797a3,3 0 1,0 -6,0a3,3 0 1,0 6,0ZM181,797a3,3 0 1,0 -6,0a3,3 0 1,0 6,0ZM191,800a3,3 0 1,0 -6,0a3,3 0 1,0 6,0ZM202,804a3,3 0 1,0 -6,0a3,3 0 1,0 6,0ZM212,807a3,3 0 1,0 -6,0a3,3 0 1,0 6,0ZM223,810a3,3 0 1,0 -6,0a3,3 0 1,0 6,0ZM234,812a3,3 0 1,0 -6,0a3,3 0 1,0 6,0ZM244,810a3,3 0 1,0 -6,0a3,3 0 1,0 6,0ZM255,806a3,3 0 1,0 -6,0a3,3 0 1,0 6,0ZM263,799a3,3 0 1,0 -6,0a3,3 0 1,0 6,0ZM270,790a3,3 0 1,0 -6,0a3,3 0 1,0 6,0ZM275,780a3,3 0 1,0 -6,0a3,3 0 1,0 6,0ZM280,770a3,3 0 1,0 -6,0a3,3 0 1,0 6,0ZM284,760a3,3 0 1,0 -6,0a3,3 0 1,0 6,0ZM289,750a3,3 0 1,0 -6,0a3,3 0 1,0 6,0ZM291,739a3,3 0 1,0 -6,0a3,3 0 1,0 6,0ZM292,728a3,3 0 1,0 -6,0a3,3 0 1,0 6,0ZM291,717a3,3 0 1,0 -6,0a3,3 0 1,0 6,0ZM287,707a3,3 0 1,0 -6,0a3,3 0 1,0 6,0ZM280,699a3,3 0 1,0 -6,0a3,3 0 1,0 6,0ZM270,694a3,3 0 1,0 -6,0a3,3 0 1,0 6,0ZM259,693a3,3 0 1,0 -6,0a3,3 0 1,0 6,0ZM248,693a3,3 0 1,0 -6,0a3,3 0 1,0 6,0ZM237,691a3,3 0 1,0 -6,0a3,3 0 1,0 6,0ZM227,687a3,3 0 1,0 -6,0a3,3 0 1,0 6,0ZM216,684a3,3 0 1,0 -6,0a3,3 0 1,0 6,0ZM206,681a3,3 0 1,0 -6,0a3,3 0 1,0 6,0ZM195,679a3,3 0 1,0 -6,0a3,3 0 1,0 6,0ZM184,677a3,3 0 1,0 -6,0a3,3 0 1,0 6,0ZM173,678a3,3 0 1,0 -6,0a3,3 0 1,0 6,0ZM162,680a3,3 0 1,0 -6,0a3,3 0 1,0 6,0ZM151,683a3,3 0 1,0 -6,0a3,3 0 1,0 6,0ZM141,687a3,3 0 1,0 -6,0a3,3 0 1,0 6,0ZM130,690a3,3 0 1,0 -6,0a3,3 0 1,0 6,0ZM120,694a3,3 0 1,0 -6,0a3,3 0 1,0 6,0ZM110,699a3,3 0 1,0 -6,0a3,3 0 1,0 6,0ZM100,704a3,3 0 1,0 -6,0a3,3 0 1,0 6,0ZM91,710a3,3 0 1,0 -6,0a3,3 0 1,0 6,0ZM84,719a3,3 0 1,0 -6,0a3,3 0 1,0 6,0ZM80,729a3,3 0 1,0 -6,0a3,3 0 1,0 6,0ZM78,740a3,3 0 1,0 -6,0a3,3 0 1,0 6,0Z" fill="#000" opacity="0.18" filter="url(#b1)"/>
<path d="M184,741a2.5,2.5 0 1,0 -5,0a2.5,2.5 0 1,0 5,0ZM171,715a2.5,2.5 0 1,0 -5,0a2.5,2.5 0 1,0 5,0ZM206,719a2.5,2.5 0 1,0 -5,0a2.5,2.5 0 1,0 5,0ZM145,728a2.5,2.5 0 1,0 -5,0a2.5,2.5 0 1,0 5,0ZM206,689a2.5,2.5 0 1,0 -5,0a2.5,2.5 0 1,0 5,0ZM197,759a2.5,2.5 0 1,0 -5,0a2.5,2.5 0 1,0 5,0ZM217,741a2.5,2.5 0 1,0 -5,0a2.5,2.5 0 1,0 5,0ZM236,755a2.5,2.5 0 1,0 -5,0a2.5,2.5 0 1,0 5,0ZM260,768a2.5,2.5 0 1,0 -5,0a2.5,2.5 0 1,0 5,0ZM111,708a2.5,2.5 0 1,0 -5,0a2.5,2.5 0 1,0 5,0ZM134,749a2.5,2.5 0 1,0 -5,0a2.5,2.5 0 1,0 5,0ZM159,750a2.5,2.5 0 1,0 -5,0a2.5,2.5 0 1,0 5,0ZM231,784a2.5,2.5 0 1,0 -5,0a2.5,2.5 0 1,0 5,0ZM181,776a2.5,2.5 0 1,0 -5,0a2.5,2.5 0 1,0 5,0ZM96,737a2.5,2.5 0 1,0 -5,0a2.5,2.5 0 1,0 5,0ZM201,790a2.5,2.5 0 1,0 -5,0a2.5,2.5 0 1,0 5,0ZM149,705a2.5,2.5 0 1,0 -5,0a2.5,2.5 0 1,0 5,0ZM227,706a2.5,2.5 0 1,0 -5,0a2.5,2.5 0 1,0 5,0ZM147,776a2.5,2.5 0 1,0 -5,0a2.5,2.5 0 1,0 5,0ZM129,797a2.5,2.5 0 1,0 -5,0a2.5,2.5 0 1,0 5,0ZM170,690a2.5,2.5 0 1,0 -5,0a2.5,2.5 0 1,0 5,0ZM249,726a2.5,2.5 0 1,0 -5,0a2.5,2.5 0 1,0 5,0ZM119,731a2.5,2.5 0 1,0 -5,0a2.5,2.5 0 1,0 5,0ZM260,790a2.5,2.5 0 1,0 -5,0a2.5,2.5 0 1,0 5,0ZM111,767a2.5,2.5 0 1,0 -5,0a2.5,2.5 0 1,0 5,0ZM99,788a2.5,2.5 0 1,0 -5,0a2.5,2.5 0 1,0 5,0ZM85,759a2.5,2.5 0 1,0 -5,0a2.5,2.5 0 1,0 5,0ZM271,744a2.5,2.5 0 1,0 -5,0a2.5,2.5 0 1,0 5,0ZM236,805a2.5,2.5 0 1,0 -5,0a2.5,2.5 0 1,0 5,0ZM279,723a2.5,2.5 0 1,0 -5,0a2.5,2.5 0 1,0 5,0ZM270,702a2.5,2.5 0 1,0 -5,0a2.5,2.5 0 1,0 5,0Z" fill="#000" opacity="0.22" filter="url(#b1)"/>
<rect x="284.4" y="744.9" width="8.1" height="87.5" fill="#fff"/>
</g>
<clipPath id="crC4"><rect x="311.3" y="650.2" width="244.5" height="194.0"/></clipPath>
<g clip-path="url(#crC4)">
<rect x="311.3" y="650.2" width="244.5" height="194.0" fill="#050108"/>
<path d="M318,749 318,752 318,754 318,756 319,758 319,760 319,762 320,764 321,765 322,767 323,769 323,771 324,774 325,776 326,779 327,782 328,784 329,787 330,789 331,792 332,794 333,796 333,798 334,800 335,802 336,803 337,805 338,807 340,808 341,810 343,811 344,813 346,814 348,815 350,816 352,817 355,817 357,818 359,818 362,818 364,818 367,818 369,817 372,817 374,816 377,815 379,814 381,813 384,812 386,812 388,811 390,809 392,808 394,807 396,806 398,805 399,804 401,803 402,802 404,801 406,800 407,800 409,799 410,799 412,798 414,798 415,798 417,798 419,798 420,799 422,799 423,800 425,800 426,801 427,802 428,804 430,805 431,806 432,808 434,809 436,810 438,811 440,813 442,814 444,815 447,816 449,817 451,818 454,818 456,819 459,820 461,820 464,820 467,821 469,821 472,821 475,821 477,821 480,821 483,821 485,820 488,820 490,820 493,819 495,818 498,818 500,817 503,816 505,815 507,814 509,813 511,812 513,810 515,809 517,808 519,806 521,804 522,802 524,800 525,798 527,795 528,793 530,791 531,789 533,787 534,785 535,783 537,781 538,779 539,777 540,775 541,773 543,771 544,769 545,767 546,765 547,763 548,761 549,759 549,757 550,755 551,753 551,751 552,749 552,747 553,745 553,742 553,740 553,737 553,735 553,732 553,730 553,727 553,725 553,723 552,720 552,718 551,716 550,714 549,712 548,710 547,708 546,706 545,704 544,702 543,701 542,699 540,698 539,696 537,695 536,693 534,692 533,691 531,690 529,689 527,688 525,687 523,687 521,686 519,686 517,685 515,685 513,685 511,684 509,684 507,684 505,684 503,684 501,684 499,683 497,683 495,683 493,683 491,682 489,682 487,682 485,681 483,681 481,680 479,680 477,680 475,679 473,679 471,678 469,678 467,677 465,677 463,676 461,676 458,675 456,674 454,674 452,673 450,672 448,672 446,671 444,671 442,670 440,670 438,670 436,669 434,669 432,669 430,670 428,670 426,670 424,671 422,671 420,672 418,672 415,673 413,674 410,674 408,675 406,675 403,676 401,677 398,677 396,678 393,678 391,679 389,680 386,681 384,681 381,682 379,683 376,684 374,685 372,686 369,687 367,688 364,689 362,690 359,691 357,692 354,693 352,694 350,695 347,696 345,697 343,698 341,699 339,701 337,702 335,703 333,705 332,707 330,709 328,711 327,713 326,715 324,718 323,721 322,724 321,727 320,730 319,732 319,735 318,738 318,741 318,744 318,747Z" fill="#f04af0" filter="url(#b1)"/>
<g filter="url(#b13)">
<path d="M330,745 325,746 323,747 323,749 323,752 325,753 327,753 332,752 333,749 332,747ZM331,755 325,757 324,758 324,760 326,763 328,764 329,764 335,761 335,760 334,756ZM330,766 329,767 328,769 329,772 330,773 332,774 334,773 336,771 336,768 335,766 334,765ZM334,776 333,777 332,778 333,781 334,783 335,784 338,783 339,782 340,780 340,779 338,776 336,776ZM344,783 337,787 336,788 336,790 337,793 339,793 347,791 349,788 348,785 346,783ZM342,795 341,797 340,799 341,802 343,803 345,803 346,802 350,798 350,796 349,795 347,794ZM348,804 347,807 348,808 350,810 352,811 354,810 356,806 356,804 355,802 353,801 352,801ZM358,809 358,811 359,812 362,813 364,812 365,811 366,809 364,804 363,803 361,803 359,804ZM374,801 371,799 368,800 367,801 368,809 369,810 371,811 374,811 375,810 376,808ZM386,804 383,797 379,796 377,797 376,799 378,805 379,807 381,808 384,807 385,806ZM393,795 388,795 387,796 387,797 388,801 389,802 391,803 394,802 395,800 396,799 395,797ZM404,790 402,789 401,788 399,789 397,791 396,793 397,796 400,797 402,796 404,794ZM406,791 409,793 413,793 414,790 414,786 411,784 407,784 405,787ZM420,793 423,793 424,791 425,788 423,787 420,785 418,785 417,787 416,788 417,791 418,793ZM428,797 432,797 436,793 437,791 437,790 436,788 434,787 433,787 428,789 426,794 427,795ZM435,798 434,800 434,802 435,804 438,805 440,804 441,803 441,800 440,797 437,796ZM443,804 442,806 443,808 444,809 447,810 449,810 450,808 451,806 449,803 446,803ZM463,812 463,813 464,815 467,816 469,815 471,814 471,811 471,809 469,807 467,807 464,809ZM477,809 474,811 475,814 478,816 480,815 481,814 482,812 481,810 479,809ZM528,774 526,774 524,774 523,776 522,778 523,781 527,783 529,783 531,781 532,779 531,777ZM531,774 533,774 535,774 537,771 537,770 537,768 535,767 533,766 532,767 530,769 530,772ZM539,756 537,756 535,757 534,758 534,760 535,763 538,765 540,764 541,763 542,760 542,758ZM541,707 540,706 538,706 536,706 532,710 532,712 533,714 535,715 540,713 542,712 542,710ZM526,702 526,704 526,706 528,707 530,708 535,704 536,703 536,701 534,698 532,697 530,698ZM519,694 518,700 519,702 521,702 523,702 527,698 527,696 526,694 524,692 521,692 520,693ZM508,694 510,697 514,698 515,697 516,695 516,692 515,690 514,690 510,690 509,691ZM498,692 498,698 499,700 501,700 503,699 505,697 506,691 505,689 503,689 500,689 499,690ZM488,690 487,697 488,699 490,699 493,699 495,696 495,690 494,688 493,688 490,688 488,689ZM479,699 481,699 483,698 484,696 485,688 484,687 482,686 479,686 478,687 477,688 476,694 476,697ZM467,686 466,693 468,695 469,696 471,697 473,696 474,694 475,686 474,685 472,684 469,684ZM456,686 456,688 457,690 458,691 461,691 464,688 465,684 462,681 459,681 458,682ZM436,680 437,682 438,683 440,684 443,682 444,680 444,678 443,676 442,675 438,675 437,676ZM428,675 427,676 426,677 426,682 427,683 429,684 431,684 433,682 434,678 433,676 432,675ZM418,677 416,678 415,680 416,683 419,686 421,687 423,686 424,685 424,683 422,678 421,677ZM413,682 412,681 411,680 408,680 406,681 405,683 405,685 406,686 408,687 410,687 412,685ZM397,683 396,683 395,685 395,687 398,690 401,691 403,688 403,685 402,683 400,682ZM377,689 375,690 375,692 375,694 376,695 378,696 381,696 383,693 382,691 381,689 380,689ZM367,693 365,694 365,696 366,699 367,701 369,701 370,701 373,698 373,697 373,695 371,693 370,693ZM357,697 356,698 355,700 357,707 358,708 360,709 362,708 364,707 365,705 363,699 362,697 360,697ZM437,754 440,752 442,749 442,745 438,738 435,737 433,738 431,739 427,747 426,749 427,751 430,754ZM454,764 456,763 459,760 456,749 453,747 445,749 442,753 442,755 442,757 450,765ZM415,745 417,747 423,747 425,746 429,737 430,736 429,733 427,731 425,731 413,732 411,735ZM398,739 397,749 399,751 406,753 408,753 410,752 413,747 409,739 408,737 406,737 400,737ZM443,735 441,737 442,740 445,745 447,746 454,745 456,744 457,743 457,737 449,733 447,732ZM412,766 422,769 424,768 425,766 428,756 424,751 422,750 415,749 411,755 410,757 410,762 411,764ZM394,721 393,725 396,734 399,735 407,734 409,732 410,729 409,722 408,720 398,719 396,719ZM397,753 395,753 394,755 393,757 393,765 394,767 396,770 399,771 407,765 408,759 407,757 405,755ZM426,714 413,717 411,720 413,728 416,729 425,729 427,728 428,726 430,719 429,715ZM410,703 413,713 416,714 427,711 428,708 427,703 422,698 413,701 411,702ZM377,758 376,760 377,762 379,765 387,766 390,764 390,756 388,754 383,753ZM388,695 387,698 388,700 389,702 392,703 395,703 399,700 401,697 399,694 394,692 392,692ZM446,769 446,767 446,765 439,757 433,757 431,758 430,759 427,768 429,770 439,776 442,774ZM446,724 445,721 442,718 439,717 434,717 432,719 430,728 430,731 433,734 439,735 446,729ZM455,733 458,733 460,732 465,724 464,721 461,720 451,722 449,724 449,729ZM401,773 400,776 402,780 414,782 416,782 418,779 420,773 417,770 409,767ZM378,741 374,739 373,739 368,742 366,745 369,755 370,757 372,758 374,758 375,757 380,751 379,742ZM443,697 440,697 431,704 431,711 432,713 434,714 441,714 448,706 448,704 448,700 447,698ZM381,722 379,722 378,723 375,726 374,729 376,736 378,738 381,738 391,734 392,733 392,731 390,724ZM459,718 461,717 462,715 462,713 461,710 453,707 451,707 449,708 444,715 445,718 447,720ZM425,697 429,700 432,700 438,696 439,694 438,689 436,687 433,686 428,687 425,690 424,695ZM398,784 399,783 398,781 397,779 395,779 394,779 386,784 385,785 385,790 387,791 388,792 393,791ZM396,714 398,716 399,716 406,717 409,716 410,712 407,703 406,702 404,701 402,701 397,704 396,706 395,708ZM464,707 464,710 465,716 468,719 470,720 471,720 480,715 481,705 481,703 479,701 473,699 469,700ZM464,695 462,694 456,693 453,694 450,698 450,700 451,703 459,706 462,706 465,700 466,698ZM427,772 425,771 423,772 422,774 421,779 421,781 422,782 427,786 436,784 437,783 438,781 438,779 436,778ZM393,777 395,774 395,772 391,768 381,768 379,769 377,773 377,775 378,777 384,781ZM478,736 479,737 481,738 489,734 491,732 492,726 491,724 490,722 481,718 475,721 473,722 473,724ZM455,795 455,793 455,791 446,787 444,787 442,788 441,789 441,792 443,798 445,800 447,800 452,800ZM442,781 443,782 444,784 454,787 456,788 458,786 462,781 462,779 457,769 455,767 453,767 449,769 442,778ZM369,780 367,783 367,784 371,794 373,795 375,795 380,793 382,792 383,785 381,782 375,778ZM494,702 485,702 483,705 483,713 483,715 489,719 492,719 499,710 500,708 499,705 498,703ZM361,768 367,777 370,777 374,775 374,774 376,767 374,762 372,760 369,760 368,760 361,765 361,766ZM451,693 452,691 452,689 447,685 445,684 443,685 441,687 441,692 444,694 448,695ZM460,788 459,790 459,792 461,793 468,797 477,794 478,792 478,791 475,783 473,782 471,781 465,782ZM472,763 469,762 462,762 460,763 458,766 459,768 464,778 465,779 467,779 473,778 476,774 477,772 476,770ZM379,717 380,718 382,719 389,721 392,720 394,717 394,715 392,706 390,705 388,705 386,706 380,711 379,713ZM352,769 349,781 350,783 351,784 353,784 363,781 364,778 358,768 357,766 355,766 353,767ZM463,744 461,745 459,746 459,748 461,758 464,760 470,759 477,750 478,748 477,746 476,745 474,744ZM342,777 345,777 348,775 349,769 349,767 348,766 346,765 342,765 340,767 338,773ZM405,695 405,697 406,698 408,699 410,699 419,696 421,695 422,693 421,691 420,690 415,688 408,691ZM390,752 392,752 394,751 394,749 394,740 392,738 384,740 382,742 383,748 384,750ZM379,709 384,703 384,701 383,700 378,698 376,699 374,700 372,705 373,708 376,710ZM455,800 455,803 460,806 462,807 464,806 467,803 466,800 465,799 459,796 458,796ZM486,768 491,759 491,758 489,756 481,751 478,753 474,759 473,761 474,763 478,768 480,770 482,770ZM476,737 471,727 469,726 467,727 466,728 460,737 460,740 463,742 473,742 476,740ZM367,797 368,796 368,793 365,785 362,785 354,786 352,787 351,789 351,792 353,796 355,798 360,800 364,799Z" fill="rgb(42, 36, 48)"/>
<path d="M484,806 484,808 485,814 486,815 488,815 491,814 492,812 492,810 490,805 488,804 486,804ZM541,739 540,740 541,742 542,744 544,744 546,744 547,743 548,740 547,737 543,737ZM548,729 548,727 546,726 544,726 542,726 541,729 542,732 543,733 545,733 547,733 548,731ZM357,743 355,744 353,745 353,747 353,760 355,763 356,763 359,763 365,759 367,756 364,747 363,745ZM482,741 480,743 480,745 482,749 492,754 493,754 495,753 499,745 498,742 493,737 491,736 489,737ZM471,799 470,800 469,803 472,806 473,807 475,807 481,805 485,800 484,796 482,795 481,795ZM503,702 502,704 502,706 503,708 512,712 514,713 516,712 519,708 518,705 517,702 514,701 507,700Z" fill="rgb(48, 42, 48)"/>
<path d="M494,810 496,811 497,812 499,812 502,810 502,809 502,807 499,802 496,802 495,803 493,804ZM522,783 519,783 517,785 517,789 519,790 521,792 523,791 524,790 526,788 525,786ZM337,708 336,710 336,712 339,715 342,715 345,713 345,709 342,707 340,706ZM326,728 326,730 327,731 328,732 334,733 337,731 337,729 336,727 331,725 329,724 327,725ZM361,725 359,725 357,726 351,734 352,738 353,740 362,742 365,741 371,737 372,736 373,734 371,728 370,727ZM515,753 518,754 521,752 523,750 525,742 525,739 523,735 522,734 519,732 517,732 515,733 508,742 508,746Z" fill="rgb(48, 60, 48)"/>
<path d="M507,798 505,798 503,799 502,801 504,806 506,807 507,808 510,806 512,805 512,803 509,799ZM330,717 330,719 330,721 332,722 337,724 339,722 340,719 336,715 334,715 332,715Z" fill="rgb(48, 66, 48)"/>
<path d="M537,717 536,719 535,721 536,723 537,724 544,723 546,722 547,721 546,718 545,716 543,715Z" fill="rgb(42, 42, 48)"/>
<path d="M347,702 346,703 345,705 346,707 349,711 353,711 354,710 355,708 353,703 352,701 350,701ZM497,780 502,780 504,778 505,768 504,766 503,765 497,762 493,762 489,768 488,771 496,780ZM500,712 495,720 495,722 496,723 498,724 509,725 511,724 512,723 513,721 512,716 511,715 503,711ZM515,725 517,728 518,729 523,731 531,725 532,722 533,719 532,717 529,712 524,710 522,709 520,710 516,715 515,717ZM500,741 502,742 504,742 505,741 512,733 513,731 513,729 512,728 510,727 497,726 494,728 493,734Z" fill="rgb(48, 54, 48)"/>
<path d="M323,739 324,741 325,742 327,743 329,743 332,740 332,737 331,736 329,735 326,735 324,736ZM360,712 359,713 359,715 359,719 360,721 362,722 370,725 372,725 376,721 377,718 376,714 375,712 370,709 368,708 366,709ZM345,747 337,751 337,755 339,761 347,762 349,762 350,761 351,759 350,750 349,747ZM496,755 496,756 496,758 505,763 508,763 513,760 514,759 515,757 514,755 505,746 502,746ZM506,776 507,779 513,781 515,780 517,779 519,778 522,771 517,764 516,763 513,763 508,766ZM534,754 536,753 537,752 537,745 535,743 529,742 527,745 525,749 526,752 531,755ZM519,757 518,758 518,760 518,762 523,767 527,767 532,763 531,759 529,757 523,754ZM540,733 535,727 534,727 527,731 526,734 528,739 534,740 536,740 539,737 540,735Z" fill="rgb(48, 48, 48)"/>
<path d="M490,800 498,799 502,797 503,794 501,786 501,785 499,784 497,784 496,784 486,793 486,794 487,798Z" fill="rgb(54, 78, 54)"/>
<path d="M344,732 340,732 336,735 335,737 333,744 336,747 339,747 350,742 350,741 349,736 347,734ZM481,788 482,790 484,790 486,789 493,783 493,781 492,779 485,772 480,773 477,778 477,782Z" fill="rgb(48, 66, 54)"/>
<path d="M342,726 342,728 344,730 347,731 350,731 357,722 356,716 353,714 350,714 347,715 343,719ZM508,782 505,783 504,786 505,794 507,795 509,795 513,792 515,790 515,788 513,784Z" fill="rgb(54, 72, 54)"/>
</g>
<ellipse cx="324.3" cy="753.0" rx="10.9" ry="33.9" fill="url(#gM)" opacity="0.90" filter="url(#b2)"/>
</g>
<clipPath id="crC5"><rect x="564.3" y="450.9" width="271.4" height="194.6"/></clipPath>
<clipPath id="coC5"><path d="M570.1,521.0C570.2,516.1 570.6,509.8 572.1,504.8C573.5,499.9 576.1,495.0 578.8,491.4C581.5,487.8 584.4,485.5 588.2,483.3C592.0,481.1 596.8,479.3 601.7,477.9C606.6,476.6 612.5,475.8 617.8,475.2C623.2,474.7 628.6,474.6 634.0,474.6C639.4,474.6 644.8,474.9 650.1,475.2C655.5,475.6 660.9,476.5 666.3,476.6C671.7,476.7 677.1,476.1 682.4,475.9C687.8,475.7 693.2,475.5 698.6,475.2C704.0,475.0 709.4,474.6 714.7,474.6C720.1,474.6 725.5,475.3 730.9,475.2C736.3,475.1 741.7,474.3 747.0,473.9C752.4,473.4 757.8,472.8 763.2,472.5C768.6,472.3 774.0,472.4 779.3,472.5C784.7,472.6 790.6,472.3 795.5,473.2C800.4,474.1 804.9,475.8 809.0,477.9C813.0,480.0 816.8,482.6 819.7,486.0C822.6,489.4 824.8,493.8 826.4,498.1C828.1,502.4 829.4,506.9 829.8,511.6C830.3,516.3 829.9,521.7 829.1,526.4C828.4,531.1 827.1,535.8 825.1,539.8C823.1,543.9 820.2,547.5 817.0,550.6C813.9,553.7 809.0,555.5 806.3,558.7C803.6,561.8 802.2,565.4 800.9,569.4C799.5,573.5 799.5,578.4 798.2,582.9C796.8,587.4 795.5,592.3 792.8,596.4C790.1,600.4 786.1,604.4 782.0,607.1C778.0,609.8 773.5,612.1 768.6,612.5C763.6,613.0 757.8,611.4 752.4,609.8C747.0,608.2 741.9,604.9 736.3,603.1C730.7,601.3 725.1,599.9 718.8,599.0C712.5,598.2 704.6,597.0 698.6,597.7C692.5,598.4 687.4,601.1 682.4,603.1C677.5,605.1 673.5,607.3 669.0,609.8C664.5,612.3 660.5,615.4 655.5,617.9C650.6,620.4 644.8,623.5 639.4,624.6C634.0,625.7 628.4,625.3 623.2,624.6C618.1,623.9 612.7,622.6 608.4,620.6C604.2,618.6 600.6,616.1 597.6,612.5C594.7,608.9 592.3,603.8 590.9,599.0C589.6,594.3 589.6,589.2 589.6,584.2C589.6,579.3 591.8,573.7 590.9,569.4C590.0,565.2 586.7,562.7 584.2,558.7C581.7,554.6 578.2,549.3 576.1,545.2C574.0,541.2 572.4,538.5 571.4,534.4C570.4,530.4 569.9,525.9 570.1,521.0Z"/></clipPath>
<g clip-path="url(#crC5)">
<rect x="564.3" y="450.9" width="271.4" height="194.6" fill="#020602"/>
<g filter="url(#b2)">
<path d="M570.1,521.0C570.2,516.1 570.6,509.8 572.1,504.8C573.5,499.9 576.1,495.0 578.8,491.4C581.5,487.8 584.4,485.5 588.2,483.3C592.0,481.1 596.8,479.3 601.7,477.9C606.6,476.6 612.5,475.8 617.8,475.2C623.2,474.7 628.6,474.6 634.0,474.6C639.4,474.6 644.8,474.9 650.1,475.2C655.5,475.6 660.9,476.5 666.3,476.6C671.7,476.7 677.1,476.1 682.4,475.9C687.8,475.7 693.2,475.5 698.6,475.2C704.0,475.0 709.4,474.6 714.7,474.6C720.1,474.6 725.5,475.3 730.9,475.2C736.3,475.1 741.7,474.3 747.0,473.9C752.4,473.4 757.8,472.8 763.2,472.5C768.6,472.3 774.0,472.4 779.3,472.5C784.7,472.6 790.6,472.3 795.5,473.2C800.4,474.1 804.9,475.8 809.0,477.9C813.0,480.0 816.8,482.6 819.7,486.0C822.6,489.4 824.8,493.8 826.4,498.1C828.1,502.4 829.4,506.9 829.8,511.6C830.3,516.3 829.9,521.7 829.1,526.4C828.4,531.1 827.1,535.8 825.1,539.8C823.1,543.9 820.2,547.5 817.0,550.6C813.9,553.7 809.0,555.5 806.3,558.7C803.6,561.8 802.2,565.4 800.9,569.4C799.5,573.5 799.5,578.4 798.2,582.9C796.8,587.4 795.5,592.3 792.8,596.4C790.1,600.4 786.1,604.4 782.0,607.1C778.0,609.8 773.5,612.1 768.6,612.5C763.6,613.0 757.8,611.4 752.4,609.8C747.0,608.2 741.9,604.9 736.3,603.1C730.7,601.3 725.1,599.9 718.8,599.0C712.5,598.2 704.6,597.0 698.6,597.7C692.5,598.4 687.4,601.1 682.4,603.1C677.5,605.1 673.5,607.3 669.0,609.8C664.5,612.3 660.5,615.4 655.5,617.9C650.6,620.4 644.8,623.5 639.4,624.6C634.0,625.7 628.4,625.3 623.2,624.6C618.1,623.9 612.7,622.6 608.4,620.6C604.2,618.6 600.6,616.1 597.6,612.5C594.7,608.9 592.3,603.8 590.9,599.0C589.6,594.3 589.6,589.2 589.6,584.2C589.6,579.3 591.8,573.7 590.9,569.4C590.0,565.2 586.7,562.7 584.2,558.7C581.7,554.6 578.2,549.3 576.1,545.2C574.0,541.2 572.4,538.5 571.4,534.4C570.4,530.4 569.9,525.9 570.1,521.0Z" fill="rgb(8, 44, 8)"/>
<g clip-path="url(#coC5)">
<ellipse cx="597.6" cy="511.6" rx="43.1" ry="51.1" fill="url(#gG)" opacity="0.70"/>
<ellipse cx="786.1" cy="507.5" rx="51.1" ry="47.1" fill="url(#gG)" opacity="0.70"/>
<ellipse cx="615.1" cy="596.4" rx="37.7" ry="33.6" fill="url(#gG)" opacity="0.55"/>
<ellipse cx="691.9" cy="482.0" rx="80.8" ry="13.5" fill="url(#gG)" opacity="0.35"/>
<ellipse cx="725.5" cy="558.7" rx="67.3" ry="47.1" fill="url(#gD2)" opacity="0.50"/>
</g></g>
<path d="M578,521a3,3 0 1,0 -6,0a3,3 0 1,0 6,0ZM579,532a3,3 0 1,0 -6,0a3,3 0 1,0 6,0ZM583,542a3,3 0 1,0 -6,0a3,3 0 1,0 6,0ZM589,552a3,3 0 1,0 -6,0a3,3 0 1,0 6,0ZM595,561a3,3 0 1,0 -6,0a3,3 0 1,0 6,0ZM599,571a3,3 0 1,0 -6,0a3,3 0 1,0 6,0ZM598,582a3,3 0 1,0 -6,0a3,3 0 1,0 6,0ZM598,593a3,3 0 1,0 -6,0a3,3 0 1,0 6,0ZM602,603a3,3 0 1,0 -6,0a3,3 0 1,0 6,0ZM608,612a3,3 0 1,0 -6,0a3,3 0 1,0 6,0ZM617,617a3,3 0 1,0 -6,0a3,3 0 1,0 6,0ZM628,620a3,3 0 1,0 -6,0a3,3 0 1,0 6,0ZM639,620a3,3 0 1,0 -6,0a3,3 0 1,0 6,0ZM649,616a3,3 0 1,0 -6,0a3,3 0 1,0 6,0ZM659,612a3,3 0 1,0 -6,0a3,3 0 1,0 6,0ZM669,606a3,3 0 1,0 -6,0a3,3 0 1,0 6,0ZM679,601a3,3 0 1,0 -6,0a3,3 0 1,0 6,0ZM689,597a3,3 0 1,0 -6,0a3,3 0 1,0 6,0ZM699,593a3,3 0 1,0 -6,0a3,3 0 1,0 6,0ZM710,593a3,3 0 1,0 -6,0a3,3 0 1,0 6,0ZM721,594a3,3 0 1,0 -6,0a3,3 0 1,0 6,0ZM732,596a3,3 0 1,0 -6,0a3,3 0 1,0 6,0ZM743,599a3,3 0 1,0 -6,0a3,3 0 1,0 6,0ZM753,603a3,3 0 1,0 -6,0a3,3 0 1,0 6,0ZM763,606a3,3 0 1,0 -6,0a3,3 0 1,0 6,0ZM774,606a3,3 0 1,0 -6,0a3,3 0 1,0 6,0ZM784,601a3,3 0 1,0 -6,0a3,3 0 1,0 6,0ZM791,594a3,3 0 1,0 -6,0a3,3 0 1,0 6,0ZM796,583a3,3 0 1,0 -6,0a3,3 0 1,0 6,0ZM798,573a3,3 0 1,0 -6,0a3,3 0 1,0 6,0ZM802,562a3,3 0 1,0 -6,0a3,3 0 1,0 6,0ZM808,553a3,3 0 1,0 -6,0a3,3 0 1,0 6,0ZM817,547a3,3 0 1,0 -6,0a3,3 0 1,0 6,0ZM823,538a3,3 0 1,0 -6,0a3,3 0 1,0 6,0ZM827,528a3,3 0 1,0 -6,0a3,3 0 1,0 6,0ZM828,517a3,3 0 1,0 -6,0a3,3 0 1,0 6,0ZM826,506a3,3 0 1,0 -6,0a3,3 0 1,0 6,0ZM822,496a3,3 0 1,0 -6,0a3,3 0 1,0 6,0ZM816,487a3,3 0 1,0 -6,0a3,3 0 1,0 6,0ZM807,481a3,3 0 1,0 -6,0a3,3 0 1,0 6,0ZM796,478a3,3 0 1,0 -6,0a3,3 0 1,0 6,0ZM785,478a3,3 0 1,0 -6,0a3,3 0 1,0 6,0ZM774,478a3,3 0 1,0 -6,0a3,3 0 1,0 6,0ZM763,478a3,3 0 1,0 -6,0a3,3 0 1,0 6,0ZM752,479a3,3 0 1,0 -6,0a3,3 0 1,0 6,0ZM741,480a3,3 0 1,0 -6,0a3,3 0 1,0 6,0ZM730,480a3,3 0 1,0 -6,0a3,3 0 1,0 6,0ZM719,480a3,3 0 1,0 -6,0a3,3 0 1,0 6,0ZM708,480a3,3 0 1,0 -6,0a3,3 0 1,0 6,0ZM697,480a3,3 0 1,0 -6,0a3,3 0 1,0 6,0ZM686,481a3,3 0 1,0 -6,0a3,3 0 1,0 6,0ZM675,481a3,3 0 1,0 -6,0a3,3 0 1,0 6,0ZM664,481a3,3 0 1,0 -6,0a3,3 0 1,0 6,0ZM653,480a3,3 0 1,0 -6,0a3,3 0 1,0 6,0ZM642,480a3,3 0 1,0 -6,0a3,3 0 1,0 6,0ZM631,480a3,3 0 1,0 -6,0a3,3 0 1,0 6,0ZM620,480a3,3 0 1,0 -6,0a3,3 0 1,0 6,0ZM609,482a3,3 0 1,0 -6,0a3,3 0 1,0 6,0ZM599,486a3,3 0 1,0 -6,0a3,3 0 1,0 6,0ZM590,491a3,3 0 1,0 -6,0a3,3 0 1,0 6,0ZM583,500a3,3 0 1,0 -6,0a3,3 0 1,0 6,0ZM579,510a3,3 0 1,0 -6,0a3,3 0 1,0 6,0Z" fill="#000" opacity="0.18" filter="url(#b1)"/>
<path d="M700,546a2.5,2.5 0 1,0 -5,0a2.5,2.5 0 1,0 5,0ZM668,527a2.5,2.5 0 1,0 -5,0a2.5,2.5 0 1,0 5,0ZM682,580a2.5,2.5 0 1,0 -5,0a2.5,2.5 0 1,0 5,0ZM724,587a2.5,2.5 0 1,0 -5,0a2.5,2.5 0 1,0 5,0ZM630,545a2.5,2.5 0 1,0 -5,0a2.5,2.5 0 1,0 5,0ZM743,563a2.5,2.5 0 1,0 -5,0a2.5,2.5 0 1,0 5,0ZM707,513a2.5,2.5 0 1,0 -5,0a2.5,2.5 0 1,0 5,0ZM750,539a2.5,2.5 0 1,0 -5,0a2.5,2.5 0 1,0 5,0ZM645,510a2.5,2.5 0 1,0 -5,0a2.5,2.5 0 1,0 5,0ZM652,549a2.5,2.5 0 1,0 -5,0a2.5,2.5 0 1,0 5,0ZM686,495a2.5,2.5 0 1,0 -5,0a2.5,2.5 0 1,0 5,0ZM642,570a2.5,2.5 0 1,0 -5,0a2.5,2.5 0 1,0 5,0ZM615,566a2.5,2.5 0 1,0 -5,0a2.5,2.5 0 1,0 5,0ZM615,606a2.5,2.5 0 1,0 -5,0a2.5,2.5 0 1,0 5,0ZM774,591a2.5,2.5 0 1,0 -5,0a2.5,2.5 0 1,0 5,0ZM629,588a2.5,2.5 0 1,0 -5,0a2.5,2.5 0 1,0 5,0ZM660,490a2.5,2.5 0 1,0 -5,0a2.5,2.5 0 1,0 5,0ZM660,589a2.5,2.5 0 1,0 -5,0a2.5,2.5 0 1,0 5,0ZM677,550a2.5,2.5 0 1,0 -5,0a2.5,2.5 0 1,0 5,0ZM740,498a2.5,2.5 0 1,0 -5,0a2.5,2.5 0 1,0 5,0ZM642,606a2.5,2.5 0 1,0 -5,0a2.5,2.5 0 1,0 5,0ZM749,592a2.5,2.5 0 1,0 -5,0a2.5,2.5 0 1,0 5,0ZM604,538a2.5,2.5 0 1,0 -5,0a2.5,2.5 0 1,0 5,0ZM722,542a2.5,2.5 0 1,0 -5,0a2.5,2.5 0 1,0 5,0ZM715,565a2.5,2.5 0 1,0 -5,0a2.5,2.5 0 1,0 5,0ZM733,522a2.5,2.5 0 1,0 -5,0a2.5,2.5 0 1,0 5,0ZM621,520a2.5,2.5 0 1,0 -5,0a2.5,2.5 0 1,0 5,0ZM769,487a2.5,2.5 0 1,0 -5,0a2.5,2.5 0 1,0 5,0ZM603,495a2.5,2.5 0 1,0 -5,0a2.5,2.5 0 1,0 5,0ZM631,493a2.5,2.5 0 1,0 -5,0a2.5,2.5 0 1,0 5,0ZM771,557a2.5,2.5 0 1,0 -5,0a2.5,2.5 0 1,0 5,0ZM595,515a2.5,2.5 0 1,0 -5,0a2.5,2.5 0 1,0 5,0ZM770,530a2.5,2.5 0 1,0 -5,0a2.5,2.5 0 1,0 5,0ZM777,509a2.5,2.5 0 1,0 -5,0a2.5,2.5 0 1,0 5,0ZM804,501a2.5,2.5 0 1,0 -5,0a2.5,2.5 0 1,0 5,0ZM809,531a2.5,2.5 0 1,0 -5,0a2.5,2.5 0 1,0 5,0ZM793,564a2.5,2.5 0 1,0 -5,0a2.5,2.5 0 1,0 5,0ZM716,491a2.5,2.5 0 1,0 -5,0a2.5,2.5 0 1,0 5,0Z" fill="#000" opacity="0.22" filter="url(#b1)"/>
<rect x="814.0" y="603.8" width="7.8" height="32.9" fill="#fff"/>
</g>
<clipPath id="crC6"><rect x="842.0" y="450.9" width="272.2" height="195.4"/></clipPath>
<g clip-path="url(#crC6)">
<rect x="842.0" y="450.9" width="272.2" height="195.4" fill="#050108"/>
<path d="M851,527 852,529 852,531 853,534 854,536 855,538 856,540 857,542 858,544 859,546 861,548 862,550 864,552 865,554 866,556 867,558 869,560 870,562 870,564 871,567 871,570 871,572 871,575 871,578 872,581 872,583 872,586 873,589 873,592 874,594 874,597 875,599 876,602 877,604 878,606 880,608 881,610 883,612 885,614 887,616 889,617 891,619 893,620 896,621 898,622 901,623 904,623 907,624 910,624 912,624 915,624 918,624 921,624 923,623 926,623 928,622 931,621 933,620 935,618 937,617 939,616 941,614 942,613 944,611 945,609 946,608 947,606 949,605 950,604 952,603 953,602 955,601 957,600 959,599 961,597 963,596 965,596 968,595 970,594 973,594 977,594 980,594 984,594 987,594 991,594 994,595 997,596 1001,596 1004,597 1007,599 1011,600 1014,601 1018,602 1021,603 1024,605 1028,606 1031,606 1035,607 1039,607 1042,607 1046,607 1050,607 1053,606 1055,606 1058,605 1060,604 1062,603 1063,601 1065,600 1066,598 1067,596 1068,593 1068,591 1069,588 1069,586 1069,584 1069,582 1070,579 1070,577 1070,575 1070,573 1071,570 1071,568 1072,565 1073,563 1073,561 1074,559 1075,557 1077,556 1078,555 1079,553 1081,552 1082,551 1084,550 1086,548 1087,547 1089,546 1090,544 1092,543 1093,542 1095,540 1096,539 1098,538 1099,536 1100,535 1101,533 1102,531 1103,530 1104,528 1105,526 1105,524 1106,522 1106,520 1107,517 1107,515 1107,513 1107,510 1107,508 1106,506 1106,504 1106,501 1105,499 1104,497 1103,495 1102,493 1101,491 1099,489 1098,488 1096,486 1094,484 1092,483 1090,481 1087,480 1085,478 1082,477 1080,476 1077,476 1075,475 1072,475 1069,474 1066,474 1064,474 1061,474 1058,474 1055,474 1053,474 1050,474 1047,474 1045,474 1042,475 1039,475 1037,475 1034,475 1031,476 1028,476 1026,476 1023,476 1020,476 1018,477 1015,477 1012,477 1009,478 1007,478 1004,478 1001,478 999,478 996,478 993,477 991,477 988,476 985,476 982,476 980,476 977,475 974,475 972,475 969,475 966,475 964,475 961,476 958,476 955,476 953,476 950,476 947,476 945,477 942,477 939,477 937,477 934,477 931,477 929,477 926,477 923,477 920,477 917,477 915,477 912,477 909,477 906,477 903,477 900,478 897,478 895,478 892,478 889,479 887,479 884,480 881,481 879,482 876,482 874,484 872,485 870,486 868,488 866,490 864,492 862,494 861,496 860,498 858,500 857,502 856,504 855,507 854,509 853,512 853,515 852,518 852,521 851,524Z" fill="#f04af0" filter="url(#b1)"/>
<g filter="url(#b13)">
<path d="M861,532 859,533 858,535 859,538 861,540 862,540 864,540 867,537 867,536 866,534 863,532ZM869,539 864,543 864,544 864,546 867,548 870,548 874,546 875,544 875,540 873,538ZM918,610 916,613 917,618 919,619 921,619 924,618 925,617 925,615 923,610 920,609ZM1091,493 1090,495 1090,497 1092,500 1094,500 1095,500 1098,498 1099,496 1097,493 1095,492 1093,492ZM1083,488 1083,491 1085,493 1088,493 1090,492 1091,490 1091,488 1090,486 1087,485 1085,485ZM1073,488 1073,490 1074,491 1076,492 1078,492 1082,486 1082,484 1082,482 1078,480 1076,480 1075,481ZM1064,484 1065,487 1069,488 1071,487 1072,485 1072,481 1071,479 1069,478 1066,479 1064,480ZM983,488 983,490 985,492 988,492 990,491 991,488 991,484 991,483 990,481 987,480 985,481 984,482ZM966,479 964,480 963,481 963,487 964,489 965,490 968,490 971,488 971,483 971,481 969,480Z" fill="rgb(48, 66, 48)"/>
<path d="M871,550 870,551 869,553 870,554 872,556 875,556 877,554 877,551 875,549 873,549ZM931,607 929,606 928,606 926,607 925,608 926,614 928,616 929,616 933,615 934,614 934,612ZM946,481 944,481 943,483 943,490 944,492 945,493 948,493 951,491 951,484 950,482 949,481ZM899,572 901,574 902,574 915,574 918,572 920,569 921,561 920,559 918,556 915,554 911,554 910,554 908,555 899,568 899,570ZM940,543 943,543 944,542 948,534 949,532 948,530 943,526 935,526 933,527 932,528 929,537 930,539 931,540ZM956,497 962,509 963,509 965,509 969,507 970,496 970,494 968,492 963,491 961,491 956,494 955,496ZM975,493 973,494 972,496 972,504 973,507 983,510 985,510 988,508 990,504 990,502 988,496 986,494 983,492 980,492Z" fill="rgb(48, 54, 48)"/>
<path d="M874,564 877,566 880,566 881,565 882,564 883,562 882,560 880,559 877,558 875,559 874,561ZM944,594 941,596 940,599 942,601 945,602 948,601 949,598 947,595ZM956,590 955,589 953,588 951,589 950,592 950,595 953,597 955,596 957,593ZM958,590 961,592 964,592 966,589 965,584 964,582 963,581 959,582 957,583 956,585 957,587ZM971,579 968,580 967,583 969,589 972,590 975,589 976,588 976,583 974,580ZM978,586 978,588 981,589 984,589 986,588 986,581 986,579 985,578 983,577 981,578 978,580ZM988,583 988,588 989,589 994,590 996,588 997,582 996,580 994,580 990,580 989,581ZM998,588 999,591 1000,592 1003,592 1005,592 1008,582 1008,580 1007,578 1005,578 1003,578 1000,580ZM1009,586 1007,592 1008,594 1010,595 1013,595 1015,593 1017,589 1016,586 1014,585 1011,584ZM1017,594 1018,597 1019,598 1022,599 1024,598 1026,593 1026,590 1025,588 1022,587 1020,588ZM1027,597 1027,599 1027,601 1029,602 1033,602 1034,601 1035,599 1034,597 1032,595 1030,594 1028,595ZM1037,596 1037,601 1038,602 1041,603 1043,603 1045,601 1045,599 1044,595 1043,594 1041,594 1039,594ZM1053,594 1052,593 1050,593 1048,593 1047,595 1047,599 1047,601 1049,602 1053,602 1055,600 1055,598ZM1059,589 1057,589 1055,590 1054,592 1056,596 1059,598 1062,596 1063,592 1062,590ZM1061,587 1063,587 1064,586 1065,583 1065,581 1064,580 1062,579 1059,579 1057,581 1056,583 1056,585 1057,586ZM1065,570 1060,569 1059,570 1058,571 1058,573 1059,576 1062,577 1065,576 1066,573ZM1064,559 1062,559 1060,560 1059,563 1059,565 1060,566 1064,567 1067,566 1068,564 1067,561ZM1067,558 1070,558 1071,557 1072,554 1072,553 1067,548 1066,547 1064,547 1060,550 1059,552 1060,554 1062,556ZM1037,479 1035,480 1034,481 1033,483 1034,485 1036,486 1037,487 1040,486 1041,484 1042,483 1041,481 1040,479ZM1027,480 1025,481 1024,482 1024,488 1025,490 1027,491 1029,491 1031,489 1032,486 1032,483 1031,481 1030,480ZM968,542 966,543 965,545 961,555 962,558 963,559 967,560 973,559 980,546 979,543ZM1002,545 1002,542 1000,535 998,533 987,533 985,534 982,541 982,543 983,545 995,551 998,551ZM1000,557 1001,559 1009,566 1018,564 1020,563 1021,561 1022,548 1020,546 1018,545 1004,545 1000,552ZM997,561 985,568 985,570 985,573 986,576 989,577 999,578 1006,574 1007,570 1007,568 1006,567 1000,560ZM1021,542 1022,545 1024,546 1037,543 1039,542 1040,540 1040,536 1039,535 1027,527 1025,526 1023,527 1022,528 1021,530ZM947,551 944,551 939,559 944,568 945,569 947,570 949,569 958,561 959,558 957,555ZM995,553 984,548 981,550 977,559 978,561 984,565 986,565 996,559 997,558 997,556 997,554ZM975,562 973,561 968,562 967,565 968,574 969,576 971,577 975,578 978,578 981,576 983,574 983,573 983,568ZM968,525 979,526 980,525 981,524 982,515 981,512 972,509 969,509 966,511 965,512 964,514 965,523ZM940,545 927,541 924,542 919,551 919,553 919,555 922,559 924,559 937,557 942,550 942,548 942,546ZM1011,568 1009,570 1008,574 1008,576 1011,580 1018,585 1020,586 1024,585 1026,584 1028,582 1028,580 1024,567 1021,565ZM950,535 945,545 945,547 947,548 958,553 960,552 961,551 964,541 960,534 959,533 953,533ZM949,572 947,573 947,575 949,577 954,581 963,579 966,577 965,565 964,563 963,562 961,562 959,563ZM958,511 948,514 947,516 945,523 946,526 951,531 959,530 962,526 963,524 963,515 962,513 960,511ZM945,496 943,497 942,499 942,506 943,508 947,512 955,510 957,509 958,507 957,505 953,497 952,495 950,495ZM940,579 936,589 938,592 945,593 947,592 948,590 951,585 951,582 950,580 947,578 945,577 943,577ZM1010,523 1007,523 1005,524 1001,532 1004,541 1005,542 1007,543 1017,543 1019,540 1019,527 1017,525ZM998,531 1001,529 1003,524 1003,521 991,511 989,510 986,511 984,513 982,526 983,529 985,531 986,531ZM1022,561 1023,564 1026,565 1038,563 1040,563 1041,561 1044,552 1043,549 1041,546 1040,545 1038,545 1026,548 1025,549 1024,551ZM1046,585 1047,586 1049,586 1051,585 1056,579 1057,576 1056,572 1054,570 1049,569 1046,571 1044,581ZM1005,499 992,504 991,506 991,508 992,510 1003,518 1006,518 1007,518 1012,506 1012,504 1011,502 1009,500 1007,499ZM942,576 943,574 943,571 939,562 937,560 935,560 925,561 923,562 922,567 923,569 924,571 939,576ZM1027,503 1015,505 1013,507 1010,519 1010,521 1012,522 1020,524 1022,524 1025,522 1031,511 1031,509 1030,506 1030,504ZM1045,567 1055,567 1057,565 1058,557 1058,555 1057,553 1055,552 1047,552 1045,554 1043,564ZM1043,570 1043,567 1041,565 1030,566 1028,567 1027,569 1027,571 1029,579 1030,580 1033,581 1041,581 1043,578ZM1043,590 1044,587 1042,584 1041,583 1030,583 1027,586 1028,591 1034,594 1036,594 1038,593ZM982,534 982,531 981,529 967,527 965,527 963,528 961,532 965,539 968,540 977,541 979,540 981,539Z" fill="rgb(42, 36, 48)"/>
<path d="M875,572 877,575 879,575 882,574 883,571 882,569 881,568 879,568 877,568 876,570Z" fill="rgb(48, 42, 48)"/>
<path d="M882,579 879,578 876,581 876,583 877,585 878,586 881,586 882,585 884,584 884,582ZM906,616 906,618 908,619 910,620 913,619 914,618 915,616 914,613 913,612 911,611 907,612ZM1069,541 1068,542 1067,544 1068,546 1074,551 1076,551 1078,549 1079,548 1079,546 1075,540 1072,539ZM1095,512 1092,513 1091,515 1093,518 1098,520 1100,520 1102,518 1103,515 1102,513 1101,512ZM916,481 914,481 913,483 913,487 915,490 917,490 918,490 920,489 921,487 920,483 919,481ZM865,513 860,512 858,513 857,516 857,518 858,520 860,520 864,520 867,519 867,516ZM932,523 935,524 941,524 943,523 944,521 945,514 942,510 940,509 939,509 928,513 927,516ZM922,510 925,511 926,511 938,508 939,506 940,505 940,498 938,496 932,494 930,495 922,498 920,504ZM890,563 891,565 894,567 897,567 906,555 906,552 900,546 899,545 896,546 893,548 891,550 889,561ZM892,568 889,568 887,569 883,576 884,579 887,582 889,583 891,583 896,581 897,580 898,577 898,574 897,571Z" fill="rgb(54, 72, 54)"/>
<path d="M880,588 879,589 878,590 878,593 879,595 881,596 882,596 886,594 887,591 887,589 885,588ZM888,606 887,608 887,610 889,612 892,614 894,613 895,612 897,606 897,605 895,603 893,603ZM1081,536 1079,537 1078,538 1078,540 1080,543 1081,544 1083,544 1086,543 1087,541 1087,539 1086,538 1084,536ZM1092,530 1090,529 1088,529 1086,532 1086,534 1087,536 1089,538 1091,538 1092,537 1095,534 1094,532ZM905,481 904,482 902,483 902,486 903,487 905,489 907,489 910,487 910,485 910,483 909,482ZM873,521 871,520 869,520 865,523 864,527 865,530 871,533 872,533 875,532 877,528 877,527Z" fill="rgb(54, 84, 54)"/>
<path d="M883,598 881,599 881,601 881,603 883,606 885,606 889,603 890,602 890,600 889,598 887,597ZM1045,548 1047,550 1057,550 1063,545 1064,543 1064,542 1053,531 1052,530 1050,530 1043,535 1042,537 1042,542 1042,544Z" fill="rgb(54, 90, 54)"/>
<path d="M899,609 896,614 897,616 900,618 902,618 904,617 904,615 905,610 903,607 901,607ZM1094,521 1092,521 1091,522 1090,523 1090,525 1094,529 1096,530 1098,529 1100,526 1100,524 1100,522ZM866,496 865,498 865,500 869,503 871,503 873,503 874,501 874,498 873,497 870,494 868,494ZM860,506 860,507 860,509 862,510 869,512 872,510 871,507 866,503 864,502 862,503ZM924,572 921,572 920,573 919,575 920,583 921,585 931,589 934,588 937,581 938,580 937,578 935,577Z" fill="rgb(54, 78, 54)"/>
<path d="M937,599 935,598 934,599 931,600 931,603 935,609 937,610 939,610 941,607 942,604ZM1047,478 1045,479 1044,480 1044,485 1046,489 1049,490 1052,488 1052,482 1051,480 1050,479ZM1016,481 1015,482 1014,483 1014,487 1017,488 1020,488 1021,486 1022,485 1021,482 1020,481ZM932,490 934,492 935,493 939,494 940,493 941,490 940,483 937,481 934,482 933,485ZM922,490 924,493 925,494 928,493 930,492 931,485 930,483 929,482 926,481 924,481 923,483ZM1010,494 1010,497 1014,502 1025,501 1027,499 1028,496 1027,494 1022,490 1013,491Z" fill="rgb(48, 48, 48)"/>
<path d="M1091,505 1091,506 1092,508 1093,509 1099,509 1101,509 1102,507 1102,504 1101,502 1099,501 1093,503Z" fill="rgb(48, 72, 54)"/>
<path d="M1057,478 1055,478 1054,480 1054,481 1054,487 1057,489 1060,488 1061,487 1062,481 1062,480 1060,478ZM1003,487 1004,489 1006,492 1009,492 1011,490 1012,488 1011,483 1009,482 1008,482 1005,482 1004,484ZM953,488 955,490 956,491 959,490 961,489 961,487 960,481 959,480 957,480 954,480 953,482 953,484ZM1030,498 1031,501 1034,501 1045,497 1047,496 1047,493 1043,488 1035,489 1033,490 1030,494ZM1002,498 1004,497 1004,495 1004,493 1002,490 1000,490 992,491 990,494 991,498 992,500 993,500Z" fill="rgb(48, 60, 48)"/>
<path d="M973,483 973,489 975,490 977,491 980,490 981,487 981,482 980,480 978,480 975,480 974,481ZM889,552 889,551 888,549 883,548 881,548 880,549 879,551 879,555 881,557 885,559 887,558Z" fill="rgb(48, 66, 54)"/>
<path d="M895,482 893,483 892,484 892,486 894,494 897,495 898,495 900,492 900,485 900,483 898,482ZM885,484 883,485 882,487 882,489 885,492 887,493 889,492 890,491 891,489 889,485 888,484ZM1039,533 1042,533 1048,528 1049,526 1048,521 1047,519 1036,513 1034,513 1032,513 1027,521 1027,525Z" fill="rgb(60, 90, 54)"/>
<path d="M920,518 913,527 913,528 914,530 923,537 925,537 927,535 931,525 926,518 924,516 922,516ZM902,540 901,541 901,543 902,545 909,551 915,552 917,552 918,550 923,541 921,538 913,531 910,532ZM875,537 878,545 880,545 890,547 894,544 896,541 888,529 887,528 885,527 880,528 876,534ZM918,587 918,584 917,578 915,576 903,576 901,577 899,578 899,581 899,582 905,592 906,594 908,594 913,593ZM1033,508 1035,511 1047,516 1048,516 1050,514 1054,503 1051,498 1048,498 1035,503 1033,505ZM1062,489 1053,494 1053,496 1053,498 1056,501 1058,503 1069,505 1070,505 1072,504 1073,503 1074,495 1072,492 1070,491 1064,489ZM1082,534 1084,532 1086,528 1086,525 1083,523 1076,523 1074,524 1074,526 1075,533 1076,534 1078,534Z" fill="rgb(60, 108, 60)"/>
<path d="M919,507 918,506 916,505 906,506 901,514 901,517 909,523 912,524 920,515 921,513ZM908,525 898,518 894,519 892,521 889,526 890,528 896,537 897,538 899,539 901,538 909,531 910,529 909,527Z" fill="rgb(66, 132, 60)"/>
<path d="M919,499 920,497 918,495 911,489 904,492 901,495 901,497 901,498 906,503 915,503 917,503ZM887,500 888,498 888,496 884,494 882,493 880,494 877,497 877,501 879,504 884,504ZM891,585 890,586 889,588 889,595 893,599 895,601 900,601 902,599 904,595 899,585 896,583Z" fill="rgb(60, 102, 60)"/>
<path d="M890,521 891,519 890,517 883,506 878,506 875,507 872,513 872,517 873,518 878,525 881,526 887,525Z" fill="rgb(66, 120, 60)"/>
<path d="M897,497 892,497 891,498 887,503 886,505 887,507 891,515 894,517 896,517 898,515 903,507 903,505 903,503 899,499ZM1050,518 1051,522 1052,524 1053,524 1068,520 1070,519 1070,517 1070,509 1068,507 1058,505 1055,507Z" fill="rgb(66, 126, 60)"/>
<path d="M914,597 911,595 908,596 905,597 903,602 906,607 908,609 915,609 919,606 920,604 919,602ZM927,602 933,594 932,591 922,588 920,588 918,589 916,593 916,596 921,602 923,603Z" fill="rgb(60, 96, 60)"/>
<path d="M1067,522 1056,526 1055,530 1064,538 1066,539 1071,537 1072,536 1072,525 1071,523 1069,522Z" fill="rgb(66, 114, 60)"/>
<path d="M1077,496 1075,503 1076,504 1086,506 1088,506 1090,504 1090,503 1089,497 1088,496 1080,494 1078,495Z" fill="rgb(60, 96, 54)"/>
<path d="M1072,517 1074,520 1075,520 1087,521 1089,519 1089,517 1089,510 1087,508 1076,506 1074,507 1073,508 1072,510Z" fill="rgb(60, 114, 60)"/>
</g>
<path d="M952.8,514.5C957.9,510.0 968.5,510.7 977.1,510.4C985.6,510.2 995.5,511.3 1004.1,513.1C1012.7,514.9 1021.2,515.8 1028.4,521.2C1035.6,526.6 1039.7,539.3 1047.3,545.6C1055.0,551.9 1070.3,548.5 1074.3,559.1C1078.4,569.6 1078.8,600.7 1071.6,609.0C1064.4,617.4 1044.6,611.1 1031.1,609.0C1017.6,607.0 1003.0,598.2 990.6,596.9C978.2,595.5 964.5,605.0 956.8,600.9C949.2,596.9 946.5,583.2 944.7,572.6C942.9,562.0 944.7,547.1 946.0,537.5C947.4,527.8 947.6,519.0 952.8,514.5Z" fill="#061006" opacity="0.95" filter="url(#b4)"/>
</g>
<clipPath id="crC7"><rect x="564.3" y="650.2" width="272.2" height="194.8"/></clipPath>
<clipPath id="coC7"><path d="M578.9,744.6C578.9,739.6 580.0,733.3 581.6,728.3C583.1,723.4 585.4,718.7 588.3,714.8C591.2,711.0 595.1,708.1 599.1,705.4C603.2,702.7 608.1,700.7 612.6,698.6C617.1,696.6 621.6,695.0 626.1,693.2C630.6,691.4 635.1,689.6 639.6,687.8C644.1,686.0 648.2,684.0 653.2,682.4C658.1,680.8 664.0,679.7 669.4,678.4C674.8,677.0 680.2,675.3 685.6,674.3C691.0,673.3 696.4,672.4 701.8,672.3C707.2,672.2 712.6,673.0 718.0,673.6C723.4,674.3 728.8,675.3 734.2,676.3C739.6,677.4 745.0,678.5 750.4,679.7C755.8,681.0 761.2,682.2 766.6,683.8C772.0,685.3 777.9,687.1 782.8,689.2C787.8,691.2 792.3,693.2 796.3,695.9C800.4,698.6 804.0,702.0 807.1,705.4C810.3,708.8 813.0,712.4 815.2,716.2C817.5,720.0 819.6,724.1 820.7,728.3C821.7,732.6 821.8,737.4 821.3,741.9C820.9,746.4 819.6,751.3 818.0,755.4C816.3,759.4 814.1,763.0 811.2,766.2C808.3,769.3 803.3,772.0 800.4,774.3C797.5,776.5 794.8,776.5 793.6,779.7C792.5,782.8 794.1,789.1 793.6,793.2C793.2,797.2 792.7,800.8 790.9,804.0C789.1,807.1 786.2,810.1 782.8,812.1C779.5,814.1 775.2,815.7 770.7,816.1C766.2,816.6 761.0,815.9 755.8,814.8C750.6,813.7 744.6,811.4 739.6,809.4C734.7,807.4 731.0,804.0 726.1,802.6C721.1,801.3 715.3,801.1 709.9,801.3C704.5,801.5 698.6,802.4 693.7,804.0C688.7,805.6 684.2,808.5 680.2,810.7C676.1,813.0 673.9,815.5 669.4,817.5C664.9,819.5 658.6,822.0 653.2,822.9C647.7,823.8 641.9,824.0 636.9,822.9C632.0,821.8 626.6,819.3 623.4,816.1C620.3,813.0 618.9,808.0 618.0,804.0C617.1,799.9 618.5,795.4 618.0,791.8C617.6,788.2 618.0,784.9 615.3,782.4C612.6,779.9 606.3,779.5 601.8,777.0C597.3,774.5 591.7,770.7 588.3,767.5C584.9,764.4 583.1,761.9 581.6,758.1C580.0,754.2 578.9,749.5 578.9,744.6Z"/></clipPath>
<g clip-path="url(#crC7)">
<rect x="564.3" y="650.2" width="272.2" height="194.8" fill="#020602"/>
<ellipse cx="572.1" cy="828.3" rx="20.3" ry="27.0" fill="url(#gG)" opacity="0.30" filter="url(#b4)"/>
<g filter="url(#b2)">
<path d="M578.9,744.6C578.9,739.6 580.0,733.3 581.6,728.3C583.1,723.4 585.4,718.7 588.3,714.8C591.2,711.0 595.1,708.1 599.1,705.4C603.2,702.7 608.1,700.7 612.6,698.6C617.1,696.6 621.6,695.0 626.1,693.2C630.6,691.4 635.1,689.6 639.6,687.8C644.1,686.0 648.2,684.0 653.2,682.4C658.1,680.8 664.0,679.7 669.4,678.4C674.8,677.0 680.2,675.3 685.6,674.3C691.0,673.3 696.4,672.4 701.8,672.3C707.2,672.2 712.6,673.0 718.0,673.6C723.4,674.3 728.8,675.3 734.2,676.3C739.6,677.4 745.0,678.5 750.4,679.7C755.8,681.0 761.2,682.2 766.6,683.8C772.0,685.3 777.9,687.1 782.8,689.2C787.8,691.2 792.3,693.2 796.3,695.9C800.4,698.6 804.0,702.0 807.1,705.4C810.3,708.8 813.0,712.4 815.2,716.2C817.5,720.0 819.6,724.1 820.7,728.3C821.7,732.6 821.8,737.4 821.3,741.9C820.9,746.4 819.6,751.3 818.0,755.4C816.3,759.4 814.1,763.0 811.2,766.2C808.3,769.3 803.3,772.0 800.4,774.3C797.5,776.5 794.8,776.5 793.6,779.7C792.5,782.8 794.1,789.1 793.6,793.2C793.2,797.2 792.7,800.8 790.9,804.0C789.1,807.1 786.2,810.1 782.8,812.1C779.5,814.1 775.2,815.7 770.7,816.1C766.2,816.6 761.0,815.9 755.8,814.8C750.6,813.7 744.6,811.4 739.6,809.4C734.7,807.4 731.0,804.0 726.1,802.6C721.1,801.3 715.3,801.1 709.9,801.3C704.5,801.5 698.6,802.4 693.7,804.0C688.7,805.6 684.2,808.5 680.2,810.7C676.1,813.0 673.9,815.5 669.4,817.5C664.9,819.5 658.6,822.0 653.2,822.9C647.7,823.8 641.9,824.0 636.9,822.9C632.0,821.8 626.6,819.3 623.4,816.1C620.3,813.0 618.9,808.0 618.0,804.0C617.1,799.9 618.5,795.4 618.0,791.8C617.6,788.2 618.0,784.9 615.3,782.4C612.6,779.9 606.3,779.5 601.8,777.0C597.3,774.5 591.7,770.7 588.3,767.5C584.9,764.4 583.1,761.9 581.6,758.1C580.0,754.2 578.9,749.5 578.9,744.6Z" fill="rgb(9, 48, 9)"/>
<g clip-path="url(#coC7)">
<ellipse cx="597.8" cy="731.0" rx="33.8" ry="44.6" fill="url(#gG)" opacity="0.25"/>
<ellipse cx="800.4" cy="731.0" rx="27.0" ry="44.6" fill="url(#gG)" opacity="0.25"/>
<ellipse cx="712.6" cy="683.8" rx="94.6" ry="16.2" fill="url(#gG)" opacity="0.30"/>
</g></g>
<path d="M587,744a3,3 0 1,0 -6,0a3,3 0 1,0 6,0ZM589,755a3,3 0 1,0 -6,0a3,3 0 1,0 6,0ZM595,764a3,3 0 1,0 -6,0a3,3 0 1,0 6,0ZM605,771a3,3 0 1,0 -6,0a3,3 0 1,0 6,0ZM614,775a3,3 0 1,0 -6,0a3,3 0 1,0 6,0ZM623,781a3,3 0 1,0 -6,0a3,3 0 1,0 6,0ZM626,792a3,3 0 1,0 -6,0a3,3 0 1,0 6,0ZM626,803a3,3 0 1,0 -6,0a3,3 0 1,0 6,0ZM631,813a3,3 0 1,0 -6,0a3,3 0 1,0 6,0ZM641,818a3,3 0 1,0 -6,0a3,3 0 1,0 6,0ZM652,818a3,3 0 1,0 -6,0a3,3 0 1,0 6,0ZM663,815a3,3 0 1,0 -6,0a3,3 0 1,0 6,0ZM673,811a3,3 0 1,0 -6,0a3,3 0 1,0 6,0ZM682,806a3,3 0 1,0 -6,0a3,3 0 1,0 6,0ZM692,801a3,3 0 1,0 -6,0a3,3 0 1,0 6,0ZM703,798a3,3 0 1,0 -6,0a3,3 0 1,0 6,0ZM714,796a3,3 0 1,0 -6,0a3,3 0 1,0 6,0ZM725,797a3,3 0 1,0 -6,0a3,3 0 1,0 6,0ZM735,800a3,3 0 1,0 -6,0a3,3 0 1,0 6,0ZM745,805a3,3 0 1,0 -6,0a3,3 0 1,0 6,0ZM756,809a3,3 0 1,0 -6,0a3,3 0 1,0 6,0ZM767,811a3,3 0 1,0 -6,0a3,3 0 1,0 6,0ZM778,810a3,3 0 1,0 -6,0a3,3 0 1,0 6,0ZM787,804a3,3 0 1,0 -6,0a3,3 0 1,0 6,0ZM791,794a3,3 0 1,0 -6,0a3,3 0 1,0 6,0ZM792,783a3,3 0 1,0 -6,0a3,3 0 1,0 6,0ZM796,774a3,3 0 1,0 -6,0a3,3 0 1,0 6,0ZM805,767a3,3 0 1,0 -6,0a3,3 0 1,0 6,0ZM813,759a3,3 0 1,0 -6,0a3,3 0 1,0 6,0ZM817,750a3,3 0 1,0 -6,0a3,3 0 1,0 6,0ZM819,739a3,3 0 1,0 -6,0a3,3 0 1,0 6,0ZM818,728a3,3 0 1,0 -6,0a3,3 0 1,0 6,0ZM813,718a3,3 0 1,0 -6,0a3,3 0 1,0 6,0ZM807,709a3,3 0 1,0 -6,0a3,3 0 1,0 6,0ZM798,702a3,3 0 1,0 -6,0a3,3 0 1,0 6,0ZM789,696a3,3 0 1,0 -6,0a3,3 0 1,0 6,0ZM778,692a3,3 0 1,0 -6,0a3,3 0 1,0 6,0ZM768,688a3,3 0 1,0 -6,0a3,3 0 1,0 6,0ZM757,686a3,3 0 1,0 -6,0a3,3 0 1,0 6,0ZM746,683a3,3 0 1,0 -6,0a3,3 0 1,0 6,0ZM735,681a3,3 0 1,0 -6,0a3,3 0 1,0 6,0ZM725,679a3,3 0 1,0 -6,0a3,3 0 1,0 6,0ZM714,678a3,3 0 1,0 -6,0a3,3 0 1,0 6,0ZM703,678a3,3 0 1,0 -6,0a3,3 0 1,0 6,0ZM692,679a3,3 0 1,0 -6,0a3,3 0 1,0 6,0ZM681,681a3,3 0 1,0 -6,0a3,3 0 1,0 6,0ZM670,684a3,3 0 1,0 -6,0a3,3 0 1,0 6,0ZM659,687a3,3 0 1,0 -6,0a3,3 0 1,0 6,0ZM649,691a3,3 0 1,0 -6,0a3,3 0 1,0 6,0ZM639,695a3,3 0 1,0 -6,0a3,3 0 1,0 6,0ZM628,699a3,3 0 1,0 -6,0a3,3 0 1,0 6,0ZM618,703a3,3 0 1,0 -6,0a3,3 0 1,0 6,0ZM608,708a3,3 0 1,0 -6,0a3,3 0 1,0 6,0ZM599,715a3,3 0 1,0 -6,0a3,3 0 1,0 6,0ZM593,723a3,3 0 1,0 -6,0a3,3 0 1,0 6,0ZM589,734a3,3 0 1,0 -6,0a3,3 0 1,0 6,0Z" fill="#000" opacity="0.18" filter="url(#b1)"/>
<path d="M702,747a2.5,2.5 0 1,0 -5,0a2.5,2.5 0 1,0 5,0ZM694,721a2.5,2.5 0 1,0 -5,0a2.5,2.5 0 1,0 5,0ZM724,717a2.5,2.5 0 1,0 -5,0a2.5,2.5 0 1,0 5,0ZM733,691a2.5,2.5 0 1,0 -5,0a2.5,2.5 0 1,0 5,0ZM689,769a2.5,2.5 0 1,0 -5,0a2.5,2.5 0 1,0 5,0ZM748,715a2.5,2.5 0 1,0 -5,0a2.5,2.5 0 1,0 5,0ZM728,757a2.5,2.5 0 1,0 -5,0a2.5,2.5 0 1,0 5,0ZM756,694a2.5,2.5 0 1,0 -5,0a2.5,2.5 0 1,0 5,0ZM705,700a2.5,2.5 0 1,0 -5,0a2.5,2.5 0 1,0 5,0ZM773,729a2.5,2.5 0 1,0 -5,0a2.5,2.5 0 1,0 5,0ZM778,705a2.5,2.5 0 1,0 -5,0a2.5,2.5 0 1,0 5,0ZM686,792a2.5,2.5 0 1,0 -5,0a2.5,2.5 0 1,0 5,0ZM745,738a2.5,2.5 0 1,0 -5,0a2.5,2.5 0 1,0 5,0ZM683,690a2.5,2.5 0 1,0 -5,0a2.5,2.5 0 1,0 5,0ZM658,705a2.5,2.5 0 1,0 -5,0a2.5,2.5 0 1,0 5,0ZM665,749a2.5,2.5 0 1,0 -5,0a2.5,2.5 0 1,0 5,0ZM668,726a2.5,2.5 0 1,0 -5,0a2.5,2.5 0 1,0 5,0ZM710,776a2.5,2.5 0 1,0 -5,0a2.5,2.5 0 1,0 5,0ZM661,787a2.5,2.5 0 1,0 -5,0a2.5,2.5 0 1,0 5,0ZM634,783a2.5,2.5 0 1,0 -5,0a2.5,2.5 0 1,0 5,0ZM637,732a2.5,2.5 0 1,0 -5,0a2.5,2.5 0 1,0 5,0ZM781,755a2.5,2.5 0 1,0 -5,0a2.5,2.5 0 1,0 5,0ZM765,776a2.5,2.5 0 1,0 -5,0a2.5,2.5 0 1,0 5,0ZM625,760a2.5,2.5 0 1,0 -5,0a2.5,2.5 0 1,0 5,0ZM618,717a2.5,2.5 0 1,0 -5,0a2.5,2.5 0 1,0 5,0ZM784,787a2.5,2.5 0 1,0 -5,0a2.5,2.5 0 1,0 5,0ZM647,806a2.5,2.5 0 1,0 -5,0a2.5,2.5 0 1,0 5,0ZM801,740a2.5,2.5 0 1,0 -5,0a2.5,2.5 0 1,0 5,0ZM603,760a2.5,2.5 0 1,0 -5,0a2.5,2.5 0 1,0 5,0ZM746,788a2.5,2.5 0 1,0 -5,0a2.5,2.5 0 1,0 5,0ZM611,738a2.5,2.5 0 1,0 -5,0a2.5,2.5 0 1,0 5,0ZM650,765a2.5,2.5 0 1,0 -5,0a2.5,2.5 0 1,0 5,0ZM765,802a2.5,2.5 0 1,0 -5,0a2.5,2.5 0 1,0 5,0Z" fill="#000" opacity="0.22" filter="url(#b1)"/>
<rect x="813.6" y="789.8" width="8.1" height="43.6" fill="#fff"/>
</g>
<clipPath id="crC8"><rect x="844.0" y="650.2" width="271.6" height="194.8"/></clipPath>
<g clip-path="url(#crC8)">
<rect x="844.0" y="650.2" width="271.6" height="194.8" fill="#050108"/>
<path d="M859,747 860,750 860,752 861,755 862,757 863,759 865,761 866,762 867,764 869,765 870,766 872,768 874,769 876,770 878,772 881,773 883,774 886,776 888,777 889,778 891,779 892,781 894,782 895,783 896,785 896,787 896,789 897,791 897,794 897,796 897,799 898,801 898,804 899,806 900,809 901,811 902,813 904,815 905,817 907,819 909,821 911,822 913,823 916,824 918,824 921,825 924,825 927,825 929,824 932,824 935,823 938,822 940,820 943,819 946,817 948,816 950,814 953,812 955,810 957,809 959,807 961,805 964,803 966,801 968,799 970,797 973,796 975,795 977,793 979,792 982,791 984,791 986,790 988,791 991,791 993,792 995,793 997,795 1000,796 1002,797 1004,799 1006,800 1008,802 1011,804 1013,805 1016,807 1018,809 1021,811 1024,812 1027,814 1029,815 1032,816 1035,816 1038,816 1040,816 1043,816 1046,816 1048,816 1051,815 1054,815 1057,814 1059,813 1062,812 1064,811 1066,810 1068,808 1070,807 1071,806 1073,804 1074,802 1075,801 1076,799 1077,797 1077,795 1078,793 1079,791 1079,789 1079,786 1080,784 1080,782 1081,780 1081,778 1082,777 1083,775 1084,774 1085,773 1086,772 1088,770 1089,769 1091,768 1093,766 1095,765 1097,763 1098,762 1100,760 1101,758 1102,757 1103,755 1104,753 1104,751 1105,748 1106,746 1106,744 1106,741 1106,739 1106,737 1106,735 1106,732 1105,730 1104,728 1104,726 1103,723 1102,721 1101,719 1100,716 1098,714 1097,712 1095,710 1094,708 1092,707 1090,705 1088,703 1086,701 1084,699 1082,698 1080,696 1077,694 1075,692 1073,691 1070,689 1067,688 1065,687 1062,686 1059,685 1056,684 1054,683 1051,682 1048,681 1046,680 1043,680 1040,679 1038,679 1035,678 1032,678 1029,678 1027,677 1024,677 1021,677 1019,676 1016,675 1013,675 1010,674 1008,674 1005,673 1002,672 1000,672 997,671 994,671 992,670 989,670 986,670 983,670 981,670 978,670 975,670 973,671 970,671 967,671 965,672 962,672 959,673 956,674 954,675 951,675 948,676 946,677 943,678 940,679 938,680 935,681 932,682 929,683 927,684 924,685 921,686 919,686 916,687 913,688 911,689 908,690 905,691 902,692 900,694 897,695 894,696 892,697 889,698 887,700 884,701 882,703 879,704 877,706 875,707 874,709 872,711 870,713 869,715 867,717 866,719 865,721 864,723 863,726 862,728 861,731 860,734 860,738 859,741 859,744Z" fill="#f04af0" filter="url(#b1)"/>
<path d="M876,746 876,746 876,747 877,748 877,749 878,750 878,751 879,751 879,752 879,752 880,753 882,754 883,755 885,756 887,757 889,758 889,758 892,760 892,760 894,761 895,762 897,763 898,763 899,765 899,765 901,766 902,767 903,768 904,769 906,770 907,772 908,773 909,774 910,775 910,777 911,779 912,780 912,782 913,784 913,785 913,787 913,789 913,791 913,791 913,793 913,794 914,795 914,797 914,799 915,801 916,803 916,804 917,804 917,805 918,806 918,807 919,807 919,807 920,807 920,807 921,808 922,808 924,808 925,808 927,808 928,807 929,807 931,806 933,805 935,804 937,803 938,802 940,801 942,800 944,798 946,796 946,796 948,794 948,794 951,792 953,790 955,788 955,788 957,786 958,786 960,784 961,783 963,782 964,781 966,780 967,780 969,779 970,778 972,777 973,777 976,776 977,775 980,774 981,774 982,774 985,774 986,774 988,774 990,774 992,774 993,775 995,775 997,776 999,777 1000,777 1003,778 1003,779 1006,780 1006,780 1008,781 1008,782 1011,783 1011,783 1014,785 1014,785 1016,787 1016,787 1019,789 1020,790 1023,791 1025,793 1025,793 1028,795 1030,796 1032,798 1034,798 1035,799 1036,799 1037,799 1039,800 1040,800 1042,800 1044,799 1046,799 1048,799 1050,798 1052,798 1054,797 1055,797 1056,796 1057,796 1058,795 1058,794 1059,794 1060,793 1060,793 1060,792 1061,792 1061,791 1062,789 1062,788 1062,787 1062,786 1063,784 1063,784 1063,781 1063,781 1064,779 1064,777 1065,775 1065,773 1066,772 1066,771 1067,769 1068,768 1069,766 1069,765 1070,764 1071,763 1072,762 1073,761 1074,760 1075,759 1077,758 1078,757 1080,755 1080,755 1082,754 1084,753 1085,752 1085,752 1085,751 1086,750 1087,749 1087,749 1088,748 1088,747 1088,745 1089,744 1089,743 1089,741 1090,740 1090,739 1090,738 1089,737 1089,736 1089,734 1088,733 1088,731 1087,729 1087,728 1086,726 1085,725 1084,723 1083,722 1083,721 1082,720 1080,719 1079,717 1077,716 1075,714 1075,714 1073,712 1071,710 1069,709 1067,707 1066,706 1064,705 1063,704 1061,703 1059,702 1056,701 1054,701 1051,700 1048,699 1046,698 1044,697 1041,697 1039,696 1037,696 1035,695 1033,695 1030,695 1028,694 1028,694 1025,694 1024,694 1022,694 1021,694 1018,693 1018,693 1015,692 1015,692 1012,692 1012,692 1010,691 1007,691 1004,690 1004,690 1001,689 1001,689 998,689 996,688 994,688 992,687 990,687 988,687 986,687 984,687 981,687 979,687 977,687 975,687 972,688 970,688 968,688 966,689 963,689 961,690 959,691 957,691 954,692 951,693 951,693 948,694 948,694 946,695 943,696 940,697 937,698 935,699 932,700 932,700 929,701 929,701 926,702 924,702 921,703 919,704 916,705 914,706 911,707 909,708 906,709 904,710 901,711 899,712 897,713 894,715 892,716 891,717 889,718 888,719 887,720 885,721 884,722 883,723 882,725 881,726 880,727 880,729 879,730 879,731 878,733 877,735 877,738 876,740 876,743 876,745Z" fill="rgb(46,32,48)" filter="url(#b1)"/>
<g filter="url(#b13)">
<path d="M868,741 866,742 864,743 864,745 864,750 865,751 867,752 873,750 875,748 875,746 875,744 873,742ZM1094,732 1092,733 1092,735 1092,739 1094,741 1100,741 1101,740 1102,738 1100,732 1099,731Z" fill="rgb(48, 48, 48)"/>
<path d="M870,754 869,755 868,757 869,759 872,762 874,763 876,762 880,758 880,754 876,751ZM882,759 879,764 879,766 881,768 885,769 888,768 891,762 890,761 889,759 884,757ZM890,769 889,772 894,776 897,775 899,773 899,767 899,766 897,764 895,764 893,764ZM899,776 898,779 900,783 903,784 906,783 907,780 907,778 907,776 903,775 901,775ZM904,786 901,788 901,792 902,794 903,795 905,796 911,794 912,792 911,788 907,785ZM905,798 904,798 903,800 903,802 904,806 905,807 907,808 913,805 914,803 914,801 913,798 911,797ZM914,807 909,811 908,813 909,815 914,818 916,818 918,817 920,811 920,809 918,808 916,806ZM921,816 921,818 922,820 924,820 928,820 930,819 931,817 930,811 928,809 925,809 922,810ZM933,806 932,809 933,814 934,816 936,817 938,816 943,813 943,811 943,810 939,805 937,805ZM944,808 946,810 948,810 952,807 953,805 953,804 951,801 948,800 944,802 943,803 942,805ZM954,792 952,793 951,794 951,796 954,801 955,802 957,802 961,799 962,796 960,793ZM969,784 967,782 965,783 963,785 962,791 964,794 968,794 971,791 971,787ZM973,787 976,788 981,786 982,783 981,780 978,779 974,780 972,781 972,783ZM991,777 985,777 984,778 984,783 986,785 991,786 992,785 994,781 994,778ZM995,785 995,788 1001,791 1004,789 1005,785 1004,782 999,781 996,782ZM1013,788 1011,787 1010,786 1008,787 1007,788 1005,792 1006,795 1010,797 1012,797 1014,796 1015,793ZM1017,794 1015,799 1015,800 1019,804 1021,804 1022,804 1025,801 1025,798 1025,796 1023,794ZM1025,804 1025,805 1025,807 1027,809 1031,810 1033,810 1034,809 1036,806 1035,804 1034,802 1029,801 1027,802ZM1037,808 1038,810 1039,811 1041,812 1046,811 1048,809 1048,807 1047,805 1046,804 1041,803 1038,804ZM1050,807 1051,809 1052,810 1054,810 1058,809 1060,807 1060,806 1058,801 1056,799 1054,799 1050,803ZM1061,797 1060,799 1061,801 1063,804 1065,804 1069,801 1071,798 1070,796 1069,795 1065,794ZM1072,783 1066,782 1064,783 1064,785 1064,787 1065,790 1067,792 1071,793 1073,792 1074,790 1075,785ZM1073,771 1067,772 1066,775 1066,777 1066,779 1072,781 1075,780 1077,776 1077,773ZM1082,761 1079,759 1076,761 1075,767 1075,768 1077,770 1080,771 1084,767 1084,765ZM1089,753 1087,752 1085,753 1082,755 1082,757 1085,762 1088,764 1092,762 1094,759 1094,757 1093,755ZM1051,694 1051,696 1052,698 1054,699 1059,699 1061,697 1062,693 1061,691 1060,690 1055,689 1053,689ZM1048,686 1043,685 1041,686 1040,689 1040,691 1042,693 1046,695 1048,694 1050,693 1051,688 1050,687ZM1032,694 1036,692 1038,690 1038,685 1037,684 1036,683 1030,683 1029,684 1028,686 1028,692 1029,693ZM1016,684 1016,689 1017,691 1019,692 1024,692 1025,691 1026,690 1026,684 1025,682 1023,682 1019,681 1017,682ZM1004,687 1006,689 1008,689 1013,688 1014,683 1014,682 1013,680 1009,679 1007,679 1005,680 1004,685ZM992,681 993,682 994,684 999,685 1002,684 1003,679 1002,677 1000,677 995,676 993,677ZM987,675 982,675 981,676 980,678 981,684 984,686 988,685 990,683 990,677 989,675ZM974,675 969,676 968,678 968,679 969,685 973,686 976,685 978,684 978,682 978,677 976,675ZM962,677 957,679 956,681 956,682 957,686 961,687 965,685 966,682 965,678 964,677ZM947,682 945,683 944,685 946,690 949,691 954,690 955,688 955,686 953,682 951,681ZM933,690 935,696 937,697 942,696 943,694 944,691 941,686 940,685 938,685 934,687 933,688ZM924,690 922,691 921,692 921,694 924,700 925,700 927,700 932,698 932,697 932,695 930,689 928,689ZM912,694 910,695 910,696 911,702 912,704 914,704 916,704 919,702 920,700 919,695 918,693 917,692ZM900,698 899,699 898,701 899,704 900,706 906,706 908,704 909,701 907,697 905,697Z" fill="rgb(48, 36, 48)"/>
<path d="M1089,747 1089,750 1090,751 1096,754 1098,753 1099,752 1100,748 1100,746 1099,744 1098,743 1093,743 1090,744ZM1062,699 1062,702 1067,705 1070,704 1074,699 1073,697 1072,696 1067,693 1065,694 1064,695ZM892,702 888,705 887,707 888,709 889,711 894,711 896,711 898,709 898,706 895,702 894,702Z" fill="rgb(48, 42, 48)"/>
<path d="M1089,723 1088,728 1089,729 1091,730 1096,729 1098,728 1098,726 1097,721 1095,719 1094,719 1090,720ZM1072,705 1071,709 1074,712 1076,713 1078,713 1079,712 1083,707 1083,705 1082,704 1078,701 1076,701 1074,702ZM878,711 877,713 877,715 878,717 882,719 885,719 887,712 886,710 884,708 883,708ZM871,719 869,724 870,726 875,729 878,728 881,724 880,721 875,717 873,718ZM874,731 869,729 867,730 866,732 865,737 866,738 868,739 874,740 876,737 877,733Z" fill="rgb(48, 54, 48)"/>
<path d="M1082,711 1082,713 1082,715 1086,718 1088,719 1090,718 1092,716 1092,714 1091,712 1087,709 1085,709Z" fill="rgb(48, 60, 48)"/>
</g>
<ellipse cx="870.0" cy="752.7" rx="9.5" ry="10.8" fill="url(#gM)" opacity="0.95" filter="url(#b2)"/>
<path d="M843.0,804.0C845.3,804.9 852.7,806.2 856.5,809.4C860.3,812.5 863.9,817.0 866.0,822.9C868.0,828.8 868.2,841.4 868.7,845.1" fill="none" stroke="#f04af0" stroke-width="4" filter="url(#b1)"/>
<path d="M883.5,845.1C884.6,842.5 886.9,833.1 890.3,829.7C893.7,826.2 899.1,824.9 903.8,824.3C908.5,823.6 916.2,825.4 918.6,825.6" fill="none" stroke="#f04af0" stroke-width="4" filter="url(#b1)"/>
<path d="M1025.4,845.1C1027.6,842.5 1033.2,832.9 1038.9,829.7C1044.5,826.4 1055.8,826.3 1059.1,825.6" fill="none" stroke="#f04af0" stroke-width="4" filter="url(#b1)"/>
</g>
<clipPath id="crD1"><rect x="63.6" y="957.3" width="244.2" height="194.6"/></clipPath>
<clipPath id="coD1"><path d="M77.5,1044.3C77.3,1038.4 78.4,1030.5 80.0,1024.9C81.6,1019.2 84.0,1014.2 87.2,1010.3C90.5,1006.5 94.9,1004.5 99.4,1001.9C103.8,999.2 109.1,996.6 113.9,994.6C118.8,992.6 123.6,990.9 128.5,989.7C133.3,988.5 138.2,987.8 143.0,987.3C147.9,986.8 152.7,986.5 157.6,986.7C162.4,986.9 167.3,987.8 172.1,988.5C177.0,989.2 181.8,990.1 186.7,990.9C191.5,991.8 196.3,992.8 201.2,993.4C206.0,994.0 210.9,994.2 215.7,994.6C220.6,995.0 225.4,994.8 230.3,995.8C235.1,996.8 240.0,999.0 244.8,1000.6C249.7,1002.3 254.9,1003.5 259.4,1005.5C263.8,1007.5 267.9,1009.9 271.5,1012.8C275.1,1015.6 278.4,1019.2 281.2,1022.5C284.0,1025.7 286.9,1028.5 288.5,1032.2C290.1,1035.8 290.7,1039.6 290.9,1044.3C291.1,1048.9 290.3,1054.8 289.7,1060.0C289.1,1065.3 288.5,1070.8 287.3,1075.8C286.1,1080.9 284.0,1085.9 282.4,1090.3C280.8,1094.8 279.8,1098.6 277.6,1102.5C275.3,1106.3 272.5,1110.6 269.1,1113.4C265.7,1116.2 261.4,1118.4 257.0,1119.4C252.5,1120.5 247.3,1120.1 242.4,1119.4C237.6,1118.8 232.7,1116.8 227.9,1115.8C223.0,1114.8 218.2,1113.6 213.3,1113.4C208.5,1113.2 203.6,1113.6 198.8,1114.6C193.9,1115.6 189.1,1117.8 184.2,1119.4C179.4,1121.1 174.5,1123.1 169.7,1124.3C164.8,1125.5 160.0,1126.3 155.1,1126.7C150.3,1127.1 145.4,1126.9 140.6,1126.7C135.7,1126.5 130.9,1126.7 126.0,1125.5C121.2,1124.3 115.5,1122.3 111.5,1119.4C107.4,1116.6 104.2,1112.6 101.8,1108.5C99.4,1104.5 98.4,1099.6 96.9,1095.2C95.5,1090.8 94.9,1086.1 93.3,1081.9C91.7,1077.6 89.3,1073.4 87.2,1069.7C85.2,1066.1 82.8,1064.3 81.2,1060.0C79.6,1055.8 77.7,1050.1 77.5,1044.3Z"/></clipPath>
<g clip-path="url(#crD1)">
<rect x="63.6" y="957.3" width="244.2" height="194.6" fill="#020602"/>
<g filter="url(#b2)">
<path d="M77.5,1044.3C77.3,1038.4 78.4,1030.5 80.0,1024.9C81.6,1019.2 84.0,1014.2 87.2,1010.3C90.5,1006.5 94.9,1004.5 99.4,1001.9C103.8,999.2 109.1,996.6 113.9,994.6C118.8,992.6 123.6,990.9 128.5,989.7C133.3,988.5 138.2,987.8 143.0,987.3C147.9,986.8 152.7,986.5 157.6,986.7C162.4,986.9 167.3,987.8 172.1,988.5C177.0,989.2 181.8,990.1 186.7,990.9C191.5,991.8 196.3,992.8 201.2,993.4C206.0,994.0 210.9,994.2 215.7,994.6C220.6,995.0 225.4,994.8 230.3,995.8C235.1,996.8 240.0,999.0 244.8,1000.6C249.7,1002.3 254.9,1003.5 259.4,1005.5C263.8,1007.5 267.9,1009.9 271.5,1012.8C275.1,1015.6 278.4,1019.2 281.2,1022.5C284.0,1025.7 286.9,1028.5 288.5,1032.2C290.1,1035.8 290.7,1039.6 290.9,1044.3C291.1,1048.9 290.3,1054.8 289.7,1060.0C289.1,1065.3 288.5,1070.8 287.3,1075.8C286.1,1080.9 284.0,1085.9 282.4,1090.3C280.8,1094.8 279.8,1098.6 277.6,1102.5C275.3,1106.3 272.5,1110.6 269.1,1113.4C265.7,1116.2 261.4,1118.4 257.0,1119.4C252.5,1120.5 247.3,1120.1 242.4,1119.4C237.6,1118.8 232.7,1116.8 227.9,1115.8C223.0,1114.8 218.2,1113.6 213.3,1113.4C208.5,1113.2 203.6,1113.6 198.8,1114.6C193.9,1115.6 189.1,1117.8 184.2,1119.4C179.4,1121.1 174.5,1123.1 169.7,1124.3C164.8,1125.5 160.0,1126.3 155.1,1126.7C150.3,1127.1 145.4,1126.9 140.6,1126.7C135.7,1126.5 130.9,1126.7 126.0,1125.5C121.2,1124.3 115.5,1122.3 111.5,1119.4C107.4,1116.6 104.2,1112.6 101.8,1108.5C99.4,1104.5 98.4,1099.6 96.9,1095.2C95.5,1090.8 94.9,1086.1 93.3,1081.9C91.7,1077.6 89.3,1073.4 87.2,1069.7C85.2,1066.1 82.8,1064.3 81.2,1060.0C79.6,1055.8 77.7,1050.1 77.5,1044.3Z" fill="rgb(22, 155, 22)"/>
<g clip-path="url(#coD1)">
<ellipse cx="93.3" cy="1041.9" rx="36.4" ry="54.6" fill="url(#gG)" opacity="0.40"/>
<ellipse cx="263.0" cy="1054.0" rx="36.4" ry="60.6" fill="url(#gG)" opacity="0.35"/>
<ellipse cx="172.1" cy="1035.8" rx="60.6" ry="36.4" fill="url(#gD2)" opacity="0.30"/>
</g></g>
<path d="M86,1044a3,3 0 1,0 -6,0a3,3 0 1,0 6,0ZM88,1055a3,3 0 1,0 -6,0a3,3 0 1,0 6,0ZM93,1065a3,3 0 1,0 -6,0a3,3 0 1,0 6,0ZM98,1075a3,3 0 1,0 -6,0a3,3 0 1,0 6,0ZM102,1085a3,3 0 1,0 -6,0a3,3 0 1,0 6,0ZM105,1096a3,3 0 1,0 -6,0a3,3 0 1,0 6,0ZM109,1106a3,3 0 1,0 -6,0a3,3 0 1,0 6,0ZM117,1114a3,3 0 1,0 -6,0a3,3 0 1,0 6,0ZM127,1119a3,3 0 1,0 -6,0a3,3 0 1,0 6,0ZM137,1121a3,3 0 1,0 -6,0a3,3 0 1,0 6,0ZM148,1122a3,3 0 1,0 -6,0a3,3 0 1,0 6,0ZM160,1121a3,3 0 1,0 -6,0a3,3 0 1,0 6,0ZM171,1120a3,3 0 1,0 -6,0a3,3 0 1,0 6,0ZM181,1116a3,3 0 1,0 -6,0a3,3 0 1,0 6,0ZM192,1113a3,3 0 1,0 -6,0a3,3 0 1,0 6,0ZM202,1110a3,3 0 1,0 -6,0a3,3 0 1,0 6,0ZM213,1109a3,3 0 1,0 -6,0a3,3 0 1,0 6,0ZM224,1110a3,3 0 1,0 -6,0a3,3 0 1,0 6,0ZM235,1112a3,3 0 1,0 -6,0a3,3 0 1,0 6,0ZM246,1114a3,3 0 1,0 -6,0a3,3 0 1,0 6,0ZM257,1114a3,3 0 1,0 -6,0a3,3 0 1,0 6,0ZM267,1110a3,3 0 1,0 -6,0a3,3 0 1,0 6,0ZM275,1102a3,3 0 1,0 -6,0a3,3 0 1,0 6,0ZM279,1092a3,3 0 1,0 -6,0a3,3 0 1,0 6,0ZM283,1081a3,3 0 1,0 -6,0a3,3 0 1,0 6,0ZM286,1071a3,3 0 1,0 -6,0a3,3 0 1,0 6,0ZM288,1060a3,3 0 1,0 -6,0a3,3 0 1,0 6,0ZM289,1049a3,3 0 1,0 -6,0a3,3 0 1,0 6,0ZM287,1038a3,3 0 1,0 -6,0a3,3 0 1,0 6,0ZM282,1028a3,3 0 1,0 -6,0a3,3 0 1,0 6,0ZM275,1020a3,3 0 1,0 -6,0a3,3 0 1,0 6,0ZM266,1013a3,3 0 1,0 -6,0a3,3 0 1,0 6,0ZM256,1009a3,3 0 1,0 -6,0a3,3 0 1,0 6,0ZM245,1005a3,3 0 1,0 -6,0a3,3 0 1,0 6,0ZM235,1002a3,3 0 1,0 -6,0a3,3 0 1,0 6,0ZM224,1000a3,3 0 1,0 -6,0a3,3 0 1,0 6,0ZM213,999a3,3 0 1,0 -6,0a3,3 0 1,0 6,0ZM201,998a3,3 0 1,0 -6,0a3,3 0 1,0 6,0ZM190,996a3,3 0 1,0 -6,0a3,3 0 1,0 6,0ZM180,994a3,3 0 1,0 -6,0a3,3 0 1,0 6,0ZM168,993a3,3 0 1,0 -6,0a3,3 0 1,0 6,0ZM157,992a3,3 0 1,0 -6,0a3,3 0 1,0 6,0ZM146,992a3,3 0 1,0 -6,0a3,3 0 1,0 6,0ZM135,994a3,3 0 1,0 -6,0a3,3 0 1,0 6,0ZM125,997a3,3 0 1,0 -6,0a3,3 0 1,0 6,0ZM114,1001a3,3 0 1,0 -6,0a3,3 0 1,0 6,0ZM104,1006a3,3 0 1,0 -6,0a3,3 0 1,0 6,0ZM95,1013a3,3 0 1,0 -6,0a3,3 0 1,0 6,0ZM90,1022a3,3 0 1,0 -6,0a3,3 0 1,0 6,0ZM87,1033a3,3 0 1,0 -6,0a3,3 0 1,0 6,0Z" fill="#000" opacity="0.18" filter="url(#b1)"/>
<path d="M188,1057a2.5,2.5 0 1,0 -5,0a2.5,2.5 0 1,0 5,0ZM168,1030a2.5,2.5 0 1,0 -5,0a2.5,2.5 0 1,0 5,0ZM154,1056a2.5,2.5 0 1,0 -5,0a2.5,2.5 0 1,0 5,0ZM136,1008a2.5,2.5 0 1,0 -5,0a2.5,2.5 0 1,0 5,0ZM197,1033a2.5,2.5 0 1,0 -5,0a2.5,2.5 0 1,0 5,0ZM129,1044a2.5,2.5 0 1,0 -5,0a2.5,2.5 0 1,0 5,0ZM103,1033a2.5,2.5 0 1,0 -5,0a2.5,2.5 0 1,0 5,0ZM106,1069a2.5,2.5 0 1,0 -5,0a2.5,2.5 0 1,0 5,0ZM168,1002a2.5,2.5 0 1,0 -5,0a2.5,2.5 0 1,0 5,0ZM217,1056a2.5,2.5 0 1,0 -5,0a2.5,2.5 0 1,0 5,0ZM198,1005a2.5,2.5 0 1,0 -5,0a2.5,2.5 0 1,0 5,0ZM133,1073a2.5,2.5 0 1,0 -5,0a2.5,2.5 0 1,0 5,0ZM200,1078a2.5,2.5 0 1,0 -5,0a2.5,2.5 0 1,0 5,0ZM220,1012a2.5,2.5 0 1,0 -5,0a2.5,2.5 0 1,0 5,0ZM258,1048a2.5,2.5 0 1,0 -5,0a2.5,2.5 0 1,0 5,0ZM152,1094a2.5,2.5 0 1,0 -5,0a2.5,2.5 0 1,0 5,0ZM124,1097a2.5,2.5 0 1,0 -5,0a2.5,2.5 0 1,0 5,0ZM222,1034a2.5,2.5 0 1,0 -5,0a2.5,2.5 0 1,0 5,0ZM232,1073a2.5,2.5 0 1,0 -5,0a2.5,2.5 0 1,0 5,0ZM247,1025a2.5,2.5 0 1,0 -5,0a2.5,2.5 0 1,0 5,0ZM269,1025a2.5,2.5 0 1,0 -5,0a2.5,2.5 0 1,0 5,0ZM178,1086a2.5,2.5 0 1,0 -5,0a2.5,2.5 0 1,0 5,0ZM274,1083a2.5,2.5 0 1,0 -5,0a2.5,2.5 0 1,0 5,0ZM255,1102a2.5,2.5 0 1,0 -5,0a2.5,2.5 0 1,0 5,0ZM215,1096a2.5,2.5 0 1,0 -5,0a2.5,2.5 0 1,0 5,0ZM167,1112a2.5,2.5 0 1,0 -5,0a2.5,2.5 0 1,0 5,0ZM280,1057a2.5,2.5 0 1,0 -5,0a2.5,2.5 0 1,0 5,0ZM193,1104a2.5,2.5 0 1,0 -5,0a2.5,2.5 0 1,0 5,0Z" fill="#000" opacity="0.22" filter="url(#b1)"/>
<rect x="289.7" y="1029.1" width="8.1" height="116.0" fill="#fff"/>
</g>
<clipPath id="crD2"><rect x="314.6" y="957.3" width="244.3" height="194.6"/></clipPath>
<g clip-path="url(#crD2)">
<rect x="314.6" y="957.3" width="244.3" height="194.6" fill="#050108"/>
<path d="M325,1044 325,1047 325,1050 326,1053 326,1055 327,1058 327,1060 328,1062 329,1065 330,1067 331,1069 332,1071 333,1073 335,1076 336,1078 337,1081 338,1083 340,1085 341,1088 342,1090 342,1093 343,1095 344,1098 345,1100 346,1102 346,1105 347,1107 348,1109 349,1111 349,1113 350,1115 351,1116 353,1118 354,1120 355,1122 356,1123 358,1124 359,1125 361,1126 362,1127 364,1128 366,1129 367,1129 369,1130 371,1130 373,1130 375,1130 377,1130 379,1130 382,1130 384,1130 387,1129 389,1129 392,1128 394,1128 396,1127 399,1127 401,1126 404,1126 406,1125 409,1124 411,1124 413,1123 416,1122 418,1122 421,1121 423,1121 426,1120 428,1120 430,1119 433,1119 435,1119 438,1118 440,1118 443,1118 445,1117 447,1117 450,1117 452,1117 455,1117 457,1118 459,1118 462,1118 464,1119 467,1119 469,1120 472,1121 474,1121 476,1122 479,1123 481,1123 484,1124 486,1124 489,1125 491,1125 493,1125 496,1126 498,1126 501,1126 503,1126 506,1125 508,1125 510,1124 513,1123 515,1122 518,1121 520,1120 523,1119 525,1117 527,1115 529,1113 530,1111 532,1109 533,1107 535,1105 536,1103 537,1100 539,1098 540,1095 541,1093 542,1090 543,1088 544,1086 545,1083 545,1081 546,1078 547,1076 547,1073 548,1070 549,1067 549,1065 550,1062 550,1059 551,1056 551,1053 551,1050 552,1047 552,1045 552,1042 551,1039 551,1037 550,1034 550,1032 549,1030 548,1027 547,1025 546,1023 545,1021 544,1019 542,1017 541,1015 539,1013 537,1012 536,1010 534,1008 532,1007 530,1005 528,1004 526,1003 524,1002 522,1000 520,999 518,998 515,997 513,996 511,995 508,995 506,994 503,993 501,993 498,992 496,992 493,992 491,991 489,991 486,991 484,990 481,990 479,989 476,989 474,989 472,988 469,988 467,987 464,987 462,987 459,986 457,986 455,985 452,985 450,984 447,983 445,983 442,983 439,983 437,982 434,982 431,982 428,982 425,982 422,982 419,981 417,981 414,981 411,981 408,981 405,981 402,981 400,981 397,981 394,981 391,981 388,982 386,982 383,983 380,983 377,984 374,984 371,985 368,986 366,987 363,989 360,990 357,991 355,992 352,994 349,995 347,997 344,998 342,1000 340,1002 338,1004 336,1006 335,1008 333,1010 332,1013 331,1015 330,1017 329,1020 328,1022 327,1025 327,1028 326,1031 326,1035 325,1038 325,1041Z" fill="#f04af0" filter="url(#b1)"/>
<g filter="url(#b13)">
<path d="M334,1039 332,1039 331,1041 330,1042 330,1046 331,1048 332,1049 340,1049 342,1048 344,1045 344,1042 343,1040ZM360,1083 348,1088 347,1091 349,1096 351,1097 358,1095 360,1093 363,1087 361,1084ZM430,1102 429,1105 430,1112 432,1113 434,1114 438,1113 440,1111 440,1109 439,1100 438,1098 436,1097 434,1097ZM442,1109 443,1111 444,1112 446,1112 450,1111 452,1110 452,1102 452,1100 451,1099 445,1098 443,1099 442,1100ZM531,1081 528,1081 527,1082 527,1087 527,1089 529,1090 534,1092 535,1091 537,1090 538,1085 537,1083 536,1082ZM532,1078 538,1080 540,1079 541,1077 542,1072 541,1071 539,1070 534,1069 531,1071 529,1075 530,1077ZM535,1056 532,1058 531,1059 533,1066 540,1068 542,1068 543,1067 545,1061 545,1060 544,1058ZM540,1045 538,1046 536,1049 536,1053 538,1055 544,1055 545,1054 546,1052 546,1046 545,1045ZM524,1012 520,1018 520,1020 522,1022 525,1024 527,1023 532,1019 533,1017 533,1015 530,1012 527,1011 525,1011ZM332,1029 331,1035 332,1036 334,1037 341,1037 342,1036 343,1034 343,1030 341,1028 334,1026 332,1027ZM400,1015 384,1023 383,1027 388,1038 396,1041 398,1041 400,1040 405,1020 405,1018 404,1016 402,1015ZM445,1074 446,1071 444,1068 428,1064 426,1065 425,1066 422,1079 423,1081 431,1086 434,1086ZM375,1010 374,1008 372,1008 368,1008 365,1008 359,1014 358,1015 358,1020 359,1021 364,1026 376,1023 378,1023 379,1021 379,1019ZM501,1090 503,1089 504,1087 504,1077 504,1075 503,1074 499,1072 497,1072 483,1075 481,1077 480,1080 484,1093 486,1093 488,1093ZM461,1085 460,1094 462,1095 467,1098 469,1099 479,1098 481,1098 482,1096 482,1094 479,1083 477,1081 462,1083Z" fill="rgb(60, 108, 60)"/>
<path d="M334,1052 333,1053 332,1054 332,1058 334,1062 336,1062 337,1062 340,1060 340,1055 340,1053 338,1052ZM433,1090 431,1088 421,1083 418,1082 410,1085 408,1086 408,1088 408,1098 413,1102 415,1102 425,1102 428,1100 432,1095 433,1094Z" fill="rgb(60, 114, 60)"/>
<path d="M341,1063 337,1065 336,1067 337,1069 340,1073 341,1074 343,1073 350,1069 350,1067 349,1066 348,1064 343,1063ZM404,1099 405,1097 405,1088 405,1087 404,1085 402,1085 382,1086 380,1087 379,1088 379,1090 381,1097 393,1104 395,1104 399,1103ZM523,1053 528,1055 531,1053 536,1044 532,1037 530,1035 528,1035 527,1036 519,1044 518,1046 519,1048 521,1051ZM511,1076 509,1076 507,1077 507,1079 506,1088 506,1091 509,1095 511,1096 514,1096 516,1096 524,1089 525,1082 524,1080 522,1078Z" fill="rgb(66, 120, 60)"/>
<path d="M344,1075 343,1077 342,1078 343,1080 345,1084 347,1085 356,1082 358,1080 358,1079 357,1073 355,1072 354,1071ZM439,1095 452,1096 454,1096 457,1094 458,1083 458,1081 451,1074 449,1074 448,1075 436,1087 435,1089 436,1092Z" fill="rgb(66, 114, 60)"/>
<path d="M353,1099 352,1100 351,1101 352,1106 353,1108 355,1109 360,1107 361,1104 359,1098 358,1098ZM405,1116 406,1118 408,1119 410,1119 414,1117 415,1116 413,1106 412,1103 407,1101 404,1102 403,1104ZM468,1104 467,1112 468,1114 469,1115 474,1115 476,1115 478,1105 478,1102 475,1101 470,1101ZM342,1007 341,1009 341,1011 343,1013 350,1018 354,1019 355,1018 356,1015 355,1012 350,1005 349,1004 347,1003 345,1004ZM387,1001 378,1005 377,1007 377,1008 381,1018 382,1019 384,1020 385,1020 399,1013 400,1012 401,1010 400,1006 389,1001Z" fill="rgb(60, 90, 54)"/>
<path d="M363,1108 357,1112 356,1114 357,1115 361,1120 364,1120 368,1113 369,1111 368,1109 365,1108ZM367,1119 367,1121 368,1123 370,1124 374,1125 376,1125 378,1123 378,1118 377,1115 374,1113 371,1114ZM380,1121 381,1123 383,1124 388,1124 390,1123 391,1122 390,1118 390,1116 388,1115 383,1116 381,1118ZM392,1114 394,1121 395,1122 397,1122 401,1121 402,1120 403,1119 401,1108 400,1107 398,1106 395,1107 392,1112ZM480,1107 479,1115 480,1117 482,1118 487,1118 488,1117 489,1116 490,1109 486,1105 485,1104 483,1104 481,1105ZM492,1113 491,1118 492,1120 496,1120 500,1120 501,1119 502,1117 501,1111 498,1110 493,1110ZM504,1108 503,1111 505,1118 506,1119 508,1120 513,1118 514,1117 515,1115 514,1113 510,1106 507,1106ZM517,1099 515,1099 513,1099 512,1100 511,1102 516,1112 518,1114 520,1114 522,1113 525,1110 526,1108 525,1106ZM488,1003 489,1008 491,1009 493,1009 497,1006 498,1005 498,999 497,998 496,997 490,997 489,998 488,1000ZM475,1000 476,1002 477,1003 482,1004 485,1002 486,997 485,996 483,995 478,995 476,996ZM467,993 466,993 464,994 462,1003 465,1006 467,1007 469,1007 472,1005 473,1003 473,995 472,994ZM460,992 453,990 452,991 450,997 450,999 452,1001 453,1002 459,1001 461,999 461,993ZM438,1002 438,1003 439,1005 441,1005 446,1003 447,1001 449,993 449,991 448,989 442,988 440,988 439,989ZM429,987 428,987 426,989 425,998 426,1000 429,1004 431,1005 433,1005 435,1003 435,1001 436,989 435,988ZM417,986 415,987 414,988 413,990 413,995 416,997 421,997 423,996 423,994 423,988 422,987ZM404,986 402,987 401,988 401,998 401,1000 403,1001 405,1001 406,1001 410,997 411,990 411,988 409,987ZM395,986 389,987 388,989 389,997 389,999 391,1000 395,1001 397,1000 399,997 398,988 397,987ZM382,988 376,990 375,991 375,993 378,1000 380,1001 382,1001 385,999 386,996 385,989 383,988ZM369,992 364,994 363,996 366,1003 367,1005 369,1005 374,1005 375,1004 375,1001 372,992 371,992ZM427,1058 428,1061 429,1062 449,1067 451,1065 453,1061 454,1059 451,1049 450,1047 438,1039 433,1040 432,1041 431,1042ZM429,1036 430,1038 432,1038 437,1036 443,1022 443,1020 439,1011 437,1008 433,1008 430,1009 420,1018 420,1022ZM404,1013 408,1017 415,1017 418,1017 427,1009 428,1008 428,1006 427,1004 425,1002 422,1000 414,999 411,1000 403,1006 403,1011ZM407,1041 423,1038 425,1035 417,1021 415,1020 411,1019 408,1020 403,1036 404,1039ZM463,1037 465,1035 465,1033 462,1024 462,1023 459,1022 448,1022 446,1023 445,1024 441,1036 442,1039 450,1044 452,1045 454,1044ZM460,1020 463,1018 466,1015 467,1012 466,1010 460,1004 449,1004 447,1004 442,1008 442,1012 446,1019 448,1020ZM471,1009 470,1012 472,1015 485,1020 487,1020 489,1019 490,1015 490,1013 485,1006 474,1006ZM383,1101 379,1101 374,1108 375,1111 379,1114 388,1112 389,1112 391,1109 391,1105ZM455,1056 457,1058 459,1059 470,1058 473,1057 477,1051 474,1040 467,1038 455,1046 454,1047 453,1050ZM467,1033 469,1036 473,1037 476,1036 486,1028 487,1027 487,1025 487,1023 470,1017 468,1017 467,1018 464,1021ZM502,1092 486,1097 485,1100 491,1107 493,1108 501,1107 507,1101 508,1099 508,1096 504,1092Z" fill="rgb(54, 78, 54)"/>
<path d="M416,1109 418,1115 420,1116 426,1114 427,1113 427,1111 426,1105 423,1104 418,1105 416,1107ZM454,1109 456,1112 457,1112 462,1113 463,1112 466,1103 466,1101 461,1097 459,1096 456,1097 455,1100ZM546,1038 544,1032 542,1032 537,1033 536,1034 535,1036 536,1038 539,1042 543,1042 545,1042 546,1040ZM534,1021 528,1027 528,1030 529,1032 531,1033 539,1030 541,1029 542,1027 540,1023 537,1020 535,1020ZM512,1015 514,1018 517,1018 522,1011 523,1009 522,1007 518,1004 516,1003 514,1004 511,1009ZM400,1065 406,1082 408,1083 410,1083 418,1079 423,1066 423,1064 422,1062 420,1061 405,1058 403,1059 402,1060 400,1064ZM369,1107 371,1107 373,1105 378,1097 377,1089 375,1087 373,1086 367,1086 365,1088 361,1095 365,1105ZM492,1051 495,1050 502,1040 499,1032 497,1030 492,1027 490,1028 478,1038 477,1039 477,1041 479,1048 480,1050 482,1051ZM475,1061 481,1072 484,1073 495,1069 496,1066 494,1056 493,1054 491,1053 481,1053 478,1054 475,1058 475,1059Z" fill="rgb(60, 102, 60)"/>
<path d="M521,1094 520,1097 521,1100 527,1104 529,1103 530,1102 533,1097 532,1095 531,1094 526,1092ZM334,1020 334,1021 335,1023 343,1026 346,1025 349,1022 348,1020 347,1019 339,1014 338,1014 336,1016ZM492,1022 492,1024 493,1025 497,1027 499,1028 501,1027 510,1019 510,1018 508,1011 501,1008 499,1008 497,1009 493,1013 492,1015Z" fill="rgb(60, 96, 60)"/>
<path d="M509,1000 503,999 501,1000 501,1002 500,1004 503,1007 508,1008 510,1006 511,1003 510,1001Z" fill="rgb(54, 90, 54)"/>
<path d="M353,999 352,1000 351,1002 352,1004 357,1010 359,1010 361,1010 364,1006 364,1004 361,999 360,997 358,997ZM424,1041 403,1044 402,1045 402,1047 403,1053 404,1055 406,1056 421,1059 424,1058 428,1045 427,1042Z" fill="rgb(54, 84, 54)"/>
<path d="M379,1080 380,1083 383,1084 399,1083 401,1082 402,1080 402,1078 399,1067 396,1065 395,1065 385,1066 383,1067 382,1069ZM367,1028 365,1029 364,1031 363,1046 363,1049 365,1051 370,1052 384,1041 385,1039 385,1037 381,1028 379,1026ZM357,1066 357,1069 363,1081 367,1084 373,1084 376,1083 380,1066 371,1055 369,1054 365,1054 364,1055ZM503,1072 507,1072 508,1071 518,1055 519,1054 516,1047 514,1046 505,1042 502,1044 496,1053 499,1068 501,1070ZM523,1076 526,1076 527,1074 530,1067 527,1057 524,1056 521,1056 520,1057 511,1070 512,1072 514,1074Z" fill="rgb(66, 132, 60)"/>
<path d="M389,1041 386,1042 374,1052 374,1054 374,1056 382,1064 396,1063 399,1061 401,1057 401,1055 400,1046 399,1044 397,1043ZM344,1049 342,1052 344,1060 345,1061 353,1064 354,1064 357,1062 362,1054 363,1052 361,1050 360,1049 349,1046 347,1046ZM357,1023 354,1022 347,1027 346,1030 345,1037 347,1042 349,1044 356,1046 358,1046 360,1044 361,1043 362,1029 361,1026ZM503,1028 501,1030 502,1032 504,1039 514,1043 516,1043 517,1042 526,1033 525,1028 524,1026 518,1022 516,1021 511,1022Z" fill="rgb(66, 126, 60)"/>
<path d="M452,1068 452,1069 453,1071 460,1080 476,1078 479,1076 479,1073 473,1062 472,1061 470,1060 456,1062Z" fill="rgb(60, 96, 54)"/>
</g>
<ellipse cx="338.2" cy="1041.9" rx="18.2" ry="42.4" fill="url(#gW)" opacity="0.55" filter="url(#b2)"/>
<ellipse cx="380.7" cy="1005.5" rx="24.2" ry="18.2" fill="url(#gW)" opacity="0.30" filter="url(#b2)"/>
</g>
<clipPath id="crD3"><rect x="63.6" y="1156.4" width="244.2" height="194.3"/></clipPath>
<clipPath id="coD3"><path d="M73.3,1271.2C73.7,1266.3 74.8,1258.8 76.3,1253.0C77.9,1247.1 79.8,1240.9 82.4,1236.0C85.0,1231.2 88.7,1227.5 92.1,1223.9C95.5,1220.3 99.0,1217.4 103.0,1214.2C107.0,1211.0 111.7,1207.5 116.3,1204.5C121.0,1201.5 126.0,1198.8 130.9,1196.0C135.7,1193.2 141.4,1190.5 145.4,1187.5C149.5,1184.5 151.5,1180.9 155.1,1177.8C158.8,1174.8 163.2,1171.0 167.3,1169.3C171.3,1167.7 175.3,1168.1 179.4,1168.1C183.4,1168.1 187.5,1167.9 191.5,1169.3C195.5,1170.7 199.6,1174.4 203.6,1176.6C207.7,1178.8 211.3,1180.6 215.7,1182.7C220.2,1184.7 225.4,1187.1 230.3,1188.7C235.1,1190.3 240.0,1190.3 244.8,1192.4C249.7,1194.4 254.9,1198.0 259.4,1200.9C263.8,1203.7 267.9,1205.9 271.5,1209.3C275.1,1212.8 278.4,1217.4 281.2,1221.5C284.0,1225.5 286.9,1229.1 288.5,1233.6C290.1,1238.0 290.5,1242.9 290.9,1248.1C291.3,1253.4 291.3,1259.2 290.9,1265.1C290.5,1271.0 289.7,1277.6 288.5,1283.3C287.3,1288.9 285.7,1294.4 283.6,1299.0C281.6,1303.7 279.6,1307.9 276.4,1311.2C273.1,1314.4 268.7,1316.4 264.2,1318.4C259.8,1320.5 254.9,1322.1 249.7,1323.3C244.4,1324.5 238.4,1325.5 232.7,1325.7C227.1,1325.9 221.4,1325.1 215.7,1324.5C210.1,1323.9 204.0,1322.3 198.8,1322.1C193.5,1321.9 189.1,1322.7 184.2,1323.3C179.4,1323.9 174.5,1324.5 169.7,1325.7C164.8,1326.9 160.0,1329.2 155.1,1330.6C150.3,1332.0 145.4,1333.2 140.6,1334.2C135.7,1335.2 130.9,1336.4 126.0,1336.6C121.2,1336.8 115.9,1336.4 111.5,1335.4C107.0,1334.4 103.0,1333.0 99.4,1330.6C95.7,1328.1 92.5,1324.5 89.7,1320.9C86.8,1317.2 84.6,1313.4 82.4,1308.7C80.2,1304.1 77.7,1297.4 76.3,1293.0C74.9,1288.5 74.4,1285.7 73.9,1282.1C73.4,1278.4 72.9,1276.0 73.3,1271.2Z"/></clipPath>
<g clip-path="url(#crD3)">
<rect x="63.6" y="1156.4" width="244.2" height="194.3" fill="#020602"/>
<g filter="url(#b2)">
<path d="M73.3,1271.2C73.7,1266.3 74.8,1258.8 76.3,1253.0C77.9,1247.1 79.8,1240.9 82.4,1236.0C85.0,1231.2 88.7,1227.5 92.1,1223.9C95.5,1220.3 99.0,1217.4 103.0,1214.2C107.0,1211.0 111.7,1207.5 116.3,1204.5C121.0,1201.5 126.0,1198.8 130.9,1196.0C135.7,1193.2 141.4,1190.5 145.4,1187.5C149.5,1184.5 151.5,1180.9 155.1,1177.8C158.8,1174.8 163.2,1171.0 167.3,1169.3C171.3,1167.7 175.3,1168.1 179.4,1168.1C183.4,1168.1 187.5,1167.9 191.5,1169.3C195.5,1170.7 199.6,1174.4 203.6,1176.6C207.7,1178.8 211.3,1180.6 215.7,1182.7C220.2,1184.7 225.4,1187.1 230.3,1188.7C235.1,1190.3 240.0,1190.3 244.8,1192.4C249.7,1194.4 254.9,1198.0 259.4,1200.9C263.8,1203.7 267.9,1205.9 271.5,1209.3C275.1,1212.8 278.4,1217.4 281.2,1221.5C284.0,1225.5 286.9,1229.1 288.5,1233.6C290.1,1238.0 290.5,1242.9 290.9,1248.1C291.3,1253.4 291.3,1259.2 290.9,1265.1C290.5,1271.0 289.7,1277.6 288.5,1283.3C287.3,1288.9 285.7,1294.4 283.6,1299.0C281.6,1303.7 279.6,1307.9 276.4,1311.2C273.1,1314.4 268.7,1316.4 264.2,1318.4C259.8,1320.5 254.9,1322.1 249.7,1323.3C244.4,1324.5 238.4,1325.5 232.7,1325.7C227.1,1325.9 221.4,1325.1 215.7,1324.5C210.1,1323.9 204.0,1322.3 198.8,1322.1C193.5,1321.9 189.1,1322.7 184.2,1323.3C179.4,1323.9 174.5,1324.5 169.7,1325.7C164.8,1326.9 160.0,1329.2 155.1,1330.6C150.3,1332.0 145.4,1333.2 140.6,1334.2C135.7,1335.2 130.9,1336.4 126.0,1336.6C121.2,1336.8 115.9,1336.4 111.5,1335.4C107.0,1334.4 103.0,1333.0 99.4,1330.6C95.7,1328.1 92.5,1324.5 89.7,1320.9C86.8,1317.2 84.6,1313.4 82.4,1308.7C80.2,1304.1 77.7,1297.4 76.3,1293.0C74.9,1288.5 74.4,1285.7 73.9,1282.1C73.4,1278.4 72.9,1276.0 73.3,1271.2Z" fill="rgb(10, 60, 10)"/>
<g clip-path="url(#coD3)">
<ellipse cx="96.9" cy="1271.2" rx="36.4" ry="63.0" fill="url(#gG)" opacity="0.60"/>
<ellipse cx="257.0" cy="1283.3" rx="42.4" ry="46.1" fill="url(#gG)" opacity="0.50"/>
<ellipse cx="123.6" cy="1319.7" rx="36.4" ry="21.8" fill="url(#gG)" opacity="0.30"/>
<ellipse cx="178.2" cy="1253.0" rx="48.5" ry="42.4" fill="url(#gD2)" opacity="0.45"/>
</g></g>
<path d="M81,1271a3,3 0 1,0 -6,0a3,3 0 1,0 6,0ZM82,1282a3,3 0 1,0 -6,0a3,3 0 1,0 6,0ZM85,1293a3,3 0 1,0 -6,0a3,3 0 1,0 6,0ZM89,1304a3,3 0 1,0 -6,0a3,3 0 1,0 6,0ZM94,1313a3,3 0 1,0 -6,0a3,3 0 1,0 6,0ZM101,1322a3,3 0 1,0 -6,0a3,3 0 1,0 6,0ZM110,1328a3,3 0 1,0 -6,0a3,3 0 1,0 6,0ZM120,1331a3,3 0 1,0 -6,0a3,3 0 1,0 6,0ZM131,1331a3,3 0 1,0 -6,0a3,3 0 1,0 6,0ZM142,1329a3,3 0 1,0 -6,0a3,3 0 1,0 6,0ZM153,1327a3,3 0 1,0 -6,0a3,3 0 1,0 6,0ZM164,1323a3,3 0 1,0 -6,0a3,3 0 1,0 6,0ZM174,1320a3,3 0 1,0 -6,0a3,3 0 1,0 6,0ZM185,1319a3,3 0 1,0 -6,0a3,3 0 1,0 6,0ZM196,1318a3,3 0 1,0 -6,0a3,3 0 1,0 6,0ZM207,1318a3,3 0 1,0 -6,0a3,3 0 1,0 6,0ZM218,1319a3,3 0 1,0 -6,0a3,3 0 1,0 6,0ZM229,1320a3,3 0 1,0 -6,0a3,3 0 1,0 6,0ZM240,1320a3,3 0 1,0 -6,0a3,3 0 1,0 6,0ZM251,1318a3,3 0 1,0 -6,0a3,3 0 1,0 6,0ZM262,1315a3,3 0 1,0 -6,0a3,3 0 1,0 6,0ZM272,1310a3,3 0 1,0 -6,0a3,3 0 1,0 6,0ZM279,1302a3,3 0 1,0 -6,0a3,3 0 1,0 6,0ZM284,1292a3,3 0 1,0 -6,0a3,3 0 1,0 6,0ZM287,1281a3,3 0 1,0 -6,0a3,3 0 1,0 6,0ZM288,1270a3,3 0 1,0 -6,0a3,3 0 1,0 6,0ZM289,1259a3,3 0 1,0 -6,0a3,3 0 1,0 6,0ZM289,1248a3,3 0 1,0 -6,0a3,3 0 1,0 6,0ZM287,1237a3,3 0 1,0 -6,0a3,3 0 1,0 6,0ZM282,1227a3,3 0 1,0 -6,0a3,3 0 1,0 6,0ZM275,1218a3,3 0 1,0 -6,0a3,3 0 1,0 6,0ZM268,1211a3,3 0 1,0 -6,0a3,3 0 1,0 6,0ZM259,1204a3,3 0 1,0 -6,0a3,3 0 1,0 6,0ZM249,1199a3,3 0 1,0 -6,0a3,3 0 1,0 6,0ZM239,1195a3,3 0 1,0 -6,0a3,3 0 1,0 6,0ZM228,1192a3,3 0 1,0 -6,0a3,3 0 1,0 6,0ZM218,1188a3,3 0 1,0 -6,0a3,3 0 1,0 6,0ZM208,1183a3,3 0 1,0 -6,0a3,3 0 1,0 6,0ZM198,1177a3,3 0 1,0 -6,0a3,3 0 1,0 6,0ZM188,1174a3,3 0 1,0 -6,0a3,3 0 1,0 6,0ZM177,1174a3,3 0 1,0 -6,0a3,3 0 1,0 6,0ZM167,1178a3,3 0 1,0 -6,0a3,3 0 1,0 6,0ZM158,1185a3,3 0 1,0 -6,0a3,3 0 1,0 6,0ZM150,1192a3,3 0 1,0 -6,0a3,3 0 1,0 6,0ZM141,1198a3,3 0 1,0 -6,0a3,3 0 1,0 6,0ZM131,1203a3,3 0 1,0 -6,0a3,3 0 1,0 6,0ZM122,1209a3,3 0 1,0 -6,0a3,3 0 1,0 6,0ZM113,1216a3,3 0 1,0 -6,0a3,3 0 1,0 6,0ZM104,1223a3,3 0 1,0 -6,0a3,3 0 1,0 6,0ZM96,1231a3,3 0 1,0 -6,0a3,3 0 1,0 6,0ZM90,1239a3,3 0 1,0 -6,0a3,3 0 1,0 6,0ZM86,1250a3,3 0 1,0 -6,0a3,3 0 1,0 6,0ZM83,1260a3,3 0 1,0 -6,0a3,3 0 1,0 6,0Z" fill="#000" opacity="0.18" filter="url(#b1)"/>
<path d="M187,1253a2.5,2.5 0 1,0 -5,0a2.5,2.5 0 1,0 5,0ZM149,1235a2.5,2.5 0 1,0 -5,0a2.5,2.5 0 1,0 5,0ZM168,1208a2.5,2.5 0 1,0 -5,0a2.5,2.5 0 1,0 5,0ZM202,1220a2.5,2.5 0 1,0 -5,0a2.5,2.5 0 1,0 5,0ZM223,1205a2.5,2.5 0 1,0 -5,0a2.5,2.5 0 1,0 5,0ZM215,1258a2.5,2.5 0 1,0 -5,0a2.5,2.5 0 1,0 5,0ZM244,1290a2.5,2.5 0 1,0 -5,0a2.5,2.5 0 1,0 5,0ZM242,1226a2.5,2.5 0 1,0 -5,0a2.5,2.5 0 1,0 5,0ZM203,1294a2.5,2.5 0 1,0 -5,0a2.5,2.5 0 1,0 5,0ZM142,1273a2.5,2.5 0 1,0 -5,0a2.5,2.5 0 1,0 5,0ZM158,1304a2.5,2.5 0 1,0 -5,0a2.5,2.5 0 1,0 5,0ZM222,1311a2.5,2.5 0 1,0 -5,0a2.5,2.5 0 1,0 5,0ZM180,1229a2.5,2.5 0 1,0 -5,0a2.5,2.5 0 1,0 5,0ZM198,1192a2.5,2.5 0 1,0 -5,0a2.5,2.5 0 1,0 5,0ZM258,1270a2.5,2.5 0 1,0 -5,0a2.5,2.5 0 1,0 5,0ZM273,1245a2.5,2.5 0 1,0 -5,0a2.5,2.5 0 1,0 5,0ZM106,1239a2.5,2.5 0 1,0 -5,0a2.5,2.5 0 1,0 5,0ZM222,1237a2.5,2.5 0 1,0 -5,0a2.5,2.5 0 1,0 5,0ZM237,1253a2.5,2.5 0 1,0 -5,0a2.5,2.5 0 1,0 5,0ZM268,1289a2.5,2.5 0 1,0 -5,0a2.5,2.5 0 1,0 5,0ZM181,1276a2.5,2.5 0 1,0 -5,0a2.5,2.5 0 1,0 5,0ZM281,1271a2.5,2.5 0 1,0 -5,0a2.5,2.5 0 1,0 5,0ZM175,1183a2.5,2.5 0 1,0 -5,0a2.5,2.5 0 1,0 5,0ZM119,1268a2.5,2.5 0 1,0 -5,0a2.5,2.5 0 1,0 5,0ZM125,1305a2.5,2.5 0 1,0 -5,0a2.5,2.5 0 1,0 5,0ZM123,1222a2.5,2.5 0 1,0 -5,0a2.5,2.5 0 1,0 5,0ZM164,1253a2.5,2.5 0 1,0 -5,0a2.5,2.5 0 1,0 5,0ZM145,1211a2.5,2.5 0 1,0 -5,0a2.5,2.5 0 1,0 5,0ZM101,1300a2.5,2.5 0 1,0 -5,0a2.5,2.5 0 1,0 5,0ZM92,1267a2.5,2.5 0 1,0 -5,0a2.5,2.5 0 1,0 5,0ZM222,1280a2.5,2.5 0 1,0 -5,0a2.5,2.5 0 1,0 5,0ZM131,1248a2.5,2.5 0 1,0 -5,0a2.5,2.5 0 1,0 5,0ZM180,1309a2.5,2.5 0 1,0 -5,0a2.5,2.5 0 1,0 5,0Z" fill="#000" opacity="0.22" filter="url(#b1)"/>
<rect x="290.3" y="1248.1" width="8.1" height="89.7" fill="#fff"/>
</g>
<clipPath id="crD4"><rect x="314.6" y="1156.4" width="244.3" height="194.3"/></clipPath>
<g clip-path="url(#crD4)">
<rect x="314.6" y="1156.4" width="244.3" height="194.3" fill="#050108"/>
<path d="M326,1283 326,1286 326,1288 326,1290 327,1292 327,1294 327,1295 328,1297 329,1299 329,1301 330,1302 331,1304 332,1306 333,1309 334,1311 335,1314 337,1316 338,1319 339,1321 341,1323 343,1325 344,1326 346,1328 348,1329 350,1331 353,1332 355,1333 357,1335 360,1336 362,1337 365,1338 368,1339 370,1339 373,1340 376,1340 379,1340 382,1340 385,1340 388,1340 391,1340 393,1339 396,1338 399,1338 401,1337 404,1336 406,1335 409,1335 411,1334 413,1333 416,1332 418,1332 421,1331 423,1331 426,1331 428,1331 430,1330 433,1330 435,1330 438,1330 440,1330 443,1331 445,1331 447,1331 450,1331 452,1331 455,1331 457,1332 459,1332 462,1333 464,1334 467,1335 469,1336 472,1337 474,1337 476,1338 479,1338 481,1339 484,1339 486,1339 489,1339 492,1339 495,1339 498,1339 500,1338 503,1338 506,1337 508,1337 511,1336 513,1335 515,1334 518,1333 520,1332 522,1331 524,1329 526,1328 528,1326 530,1325 532,1323 533,1321 535,1319 537,1317 538,1315 539,1312 541,1310 542,1307 543,1305 545,1302 546,1299 547,1297 548,1294 549,1291 550,1288 550,1285 551,1282 552,1280 552,1277 552,1274 552,1271 552,1268 552,1266 552,1263 551,1260 551,1257 550,1254 550,1251 549,1248 548,1246 547,1243 546,1240 545,1238 543,1235 542,1232 541,1230 539,1228 538,1225 536,1223 534,1221 533,1219 531,1217 529,1215 527,1213 526,1211 524,1209 522,1207 520,1206 518,1204 516,1203 514,1201 512,1200 510,1198 508,1197 506,1196 503,1195 501,1194 498,1193 496,1192 493,1191 491,1190 489,1189 486,1189 484,1188 481,1187 479,1186 476,1185 474,1184 471,1183 469,1182 466,1181 464,1180 462,1179 461,1178 459,1176 458,1175 456,1174 455,1173 453,1172 451,1171 449,1171 447,1170 445,1170 443,1169 440,1169 438,1169 435,1169 433,1169 430,1170 428,1170 426,1170 423,1171 421,1172 418,1172 416,1173 413,1174 411,1175 409,1177 407,1178 405,1180 403,1181 401,1183 399,1184 397,1186 394,1187 392,1189 389,1191 387,1192 384,1194 382,1196 379,1197 377,1199 375,1200 372,1202 370,1204 367,1206 365,1207 362,1209 360,1211 358,1213 355,1215 353,1217 351,1219 348,1222 346,1224 344,1226 342,1229 341,1232 339,1234 337,1237 336,1240 335,1243 333,1246 332,1250 331,1253 330,1256 329,1259 329,1263 328,1266 327,1270 327,1273 327,1277 326,1280Z" fill="#f04af0" filter="url(#b1)"/>
<g filter="url(#b13)">
<path d="M331,1286 332,1288 333,1289 342,1288 344,1287 345,1286 344,1281 343,1279 341,1279 333,1278 332,1280 331,1281ZM336,1254 335,1260 336,1262 337,1263 348,1264 349,1264 350,1262 351,1257 348,1255 338,1252 337,1253ZM333,1268 332,1274 333,1275 341,1276 343,1276 345,1275 347,1270 346,1268 344,1266 335,1265 333,1266ZM354,1256 352,1265 354,1267 362,1272 364,1272 366,1271 376,1263 377,1262 377,1259 375,1255 373,1255 357,1254Z" fill="rgb(54, 78, 54)"/>
<path d="M335,1292 334,1292 333,1294 333,1296 335,1301 336,1302 338,1302 349,1298 351,1295 349,1292 346,1290ZM347,1316 345,1317 345,1319 348,1323 352,1325 354,1325 355,1324 360,1315 358,1312 355,1311 353,1311ZM447,1316 447,1324 449,1325 455,1326 457,1324 458,1317 457,1316 453,1313 451,1313 449,1313 448,1314ZM460,1324 461,1327 462,1328 467,1329 469,1329 472,1320 472,1318 471,1316 470,1315 468,1315 462,1318ZM474,1322 472,1330 473,1331 477,1333 481,1333 482,1332 483,1330 483,1326 483,1324 480,1321 479,1319 477,1319 475,1320ZM367,1313 370,1312 371,1310 373,1295 372,1293 371,1292 365,1290 354,1294 353,1298 356,1307 357,1309 362,1312ZM480,1310 478,1312 478,1313 479,1315 485,1323 487,1323 496,1321 500,1313 497,1305 495,1304 493,1303ZM513,1278 512,1275 508,1275 489,1282 489,1283 489,1285 494,1300 495,1301 499,1301 511,1293Z" fill="rgb(54, 72, 54)"/>
<path d="M340,1304 339,1305 338,1307 340,1312 342,1314 344,1315 346,1314 352,1310 353,1308 352,1303 351,1301 349,1301ZM357,1325 356,1326 357,1328 358,1330 363,1332 365,1332 366,1331 367,1330 370,1320 370,1318 369,1316 367,1315 363,1316ZM534,1295 540,1297 541,1296 543,1292 544,1289 543,1287 541,1286 534,1285 533,1286 532,1288 532,1293ZM339,1245 339,1247 340,1249 341,1250 350,1253 353,1251 352,1244 346,1240 344,1239 342,1240ZM513,1296 500,1303 500,1307 502,1311 504,1313 507,1314 516,1312 522,1306 522,1303 522,1300 520,1299ZM516,1267 515,1269 515,1270 516,1272 528,1275 533,1272 534,1270 535,1260 530,1256 527,1255Z" fill="rgb(48, 66, 54)"/>
<path d="M369,1330 369,1332 370,1334 372,1335 377,1335 379,1335 380,1333 381,1321 380,1319 377,1317 375,1317 373,1318ZM485,1330 485,1332 487,1334 493,1334 495,1333 496,1332 496,1328 495,1326 494,1325 488,1325 486,1326ZM532,1280 534,1282 544,1284 546,1283 546,1281 547,1275 545,1273 544,1273 537,1273 534,1274 531,1277 531,1278ZM451,1304 450,1306 450,1308 452,1310 460,1315 469,1313 471,1310 471,1307 463,1298 462,1297 460,1296 458,1297ZM367,1236 366,1235 363,1235 361,1236 356,1242 355,1245 355,1249 357,1252 371,1252 373,1252 374,1251 375,1249 374,1247Z" fill="rgb(48, 60, 48)"/>
<path d="M383,1332 383,1333 385,1335 387,1335 391,1334 393,1334 394,1332 392,1320 391,1318 389,1317 385,1318 383,1320ZM400,1320 398,1320 396,1321 395,1322 396,1330 397,1331 399,1332 405,1331 407,1328 405,1323ZM409,1326 411,1328 418,1327 419,1323 418,1318 416,1317 414,1317 413,1318 408,1323ZM421,1323 423,1326 430,1325 432,1322 431,1319 429,1317 423,1316 421,1319ZM509,1320 513,1328 515,1328 516,1328 522,1324 522,1322 521,1320 517,1315 512,1315 509,1317ZM539,1246 532,1250 531,1252 531,1253 535,1257 538,1258 542,1257 544,1256 545,1255 544,1250 543,1247 541,1246ZM540,1240 537,1234 535,1234 526,1239 525,1240 525,1242 527,1246 528,1247 531,1247 540,1243 541,1241ZM520,1229 520,1236 521,1237 523,1238 525,1237 534,1231 534,1229 533,1227 529,1223 527,1223 526,1223ZM513,1217 513,1221 517,1226 521,1225 525,1220 525,1218 525,1217 520,1213 518,1213 516,1214ZM504,1209 507,1216 509,1217 510,1217 515,1212 516,1211 515,1209 511,1205 509,1204 507,1204ZM492,1203 493,1207 496,1208 502,1207 504,1205 504,1203 504,1201 502,1200 496,1198 495,1199ZM482,1194 479,1204 480,1207 486,1209 487,1209 489,1207 491,1199 492,1198 491,1196 485,1194 484,1194ZM468,1194 468,1197 471,1204 474,1204 476,1204 479,1195 479,1193 478,1192 472,1189 470,1190ZM458,1186 455,1190 455,1192 457,1194 463,1194 465,1194 466,1192 467,1189 466,1187 465,1186 461,1184ZM445,1184 445,1186 446,1188 450,1190 452,1190 456,1184 456,1181 453,1178 449,1176 447,1177 446,1179ZM441,1174 434,1175 433,1176 432,1178 434,1186 436,1187 437,1187 441,1186 444,1178 444,1176 443,1175ZM421,1176 420,1178 419,1179 419,1181 424,1191 426,1193 428,1192 431,1189 430,1178 429,1177 428,1175ZM409,1183 407,1187 413,1196 415,1197 418,1198 420,1198 422,1196 423,1195 422,1193 417,1182 416,1181 414,1180 412,1181ZM401,1189 397,1192 397,1194 401,1200 404,1201 409,1198 410,1196 409,1194 405,1188ZM387,1198 386,1199 386,1201 390,1208 391,1209 393,1210 397,1209 398,1207 399,1203 395,1197 394,1196 392,1195ZM379,1203 375,1207 375,1208 375,1210 380,1216 382,1216 387,1213 388,1210 387,1208 383,1203 381,1202ZM369,1211 364,1215 364,1216 369,1223 371,1224 373,1224 378,1222 379,1220 378,1218 372,1210 370,1210ZM355,1222 354,1224 354,1226 360,1232 361,1233 364,1233 367,1231 368,1227 368,1225 363,1220 362,1218 360,1218ZM437,1244 434,1244 432,1247 431,1260 432,1262 434,1263 447,1268 449,1268 450,1267 451,1265 454,1252 452,1250ZM406,1241 409,1242 424,1240 426,1239 427,1237 427,1235 421,1219 419,1218 417,1219 409,1222 407,1224 402,1234 402,1236ZM416,1268 419,1268 428,1262 430,1245 429,1244 428,1242 426,1242 410,1244 408,1246 407,1261 408,1263 409,1264ZM423,1218 430,1236 432,1237 433,1237 445,1224 444,1215 443,1213 441,1212 430,1209 428,1209 426,1211 424,1215ZM447,1273 446,1270 445,1269 430,1265 421,1269 420,1271 420,1273 422,1283 423,1285 428,1289 431,1290 446,1279 447,1276ZM377,1252 377,1255 379,1260 381,1262 390,1268 392,1269 394,1269 404,1263 405,1261 405,1246 404,1243 399,1238 396,1238 393,1238 379,1249ZM442,1210 445,1210 448,1207 451,1196 450,1194 449,1193 444,1189 441,1189 434,1190 433,1191 427,1197 426,1199 426,1201 427,1205 430,1207ZM465,1226 466,1225 466,1223 465,1215 464,1213 462,1212 450,1210 448,1211 446,1213 446,1215 447,1222 449,1225 456,1229 458,1230ZM460,1249 458,1250 456,1252 454,1263 454,1264 455,1266 475,1271 477,1271 479,1270 482,1255 481,1252 478,1250ZM454,1268 452,1269 451,1270 450,1271 450,1278 460,1290 464,1290 478,1280 479,1278 479,1276 478,1274 477,1273ZM433,1291 432,1293 432,1295 433,1296 441,1305 444,1306 446,1306 447,1305 458,1294 457,1291 449,1281 445,1282ZM420,1308 419,1309 419,1311 420,1313 430,1315 432,1315 438,1309 438,1306 433,1299 431,1299 430,1299ZM394,1271 392,1274 391,1287 396,1293 398,1294 400,1294 417,1285 419,1284 419,1282 417,1272 415,1270 406,1266ZM420,1215 421,1214 425,1207 423,1202 415,1199 412,1199 403,1203 401,1205 400,1210 405,1218 407,1219 409,1219ZM390,1213 383,1221 384,1224 394,1234 396,1235 399,1235 400,1233 405,1222 399,1213 396,1212 392,1212ZM484,1281 482,1280 480,1281 465,1293 464,1295 465,1296 475,1309 478,1308 489,1302 491,1300 486,1283ZM457,1235 455,1232 449,1228 446,1227 437,1236 436,1240 438,1242 454,1248 457,1246 457,1244ZM389,1239 391,1237 391,1235 390,1233 382,1225 380,1224 378,1224 372,1227 371,1229 369,1232 369,1233 369,1235 377,1246 379,1246 380,1246ZM373,1311 374,1314 381,1316 391,1314 397,1301 397,1299 396,1296 389,1290 377,1293 376,1294 375,1296ZM408,1319 414,1313 413,1310 402,1304 400,1303 399,1304 397,1305 394,1313 395,1315 396,1316 404,1320 406,1320ZM403,1295 401,1297 401,1298 401,1300 403,1302 414,1307 416,1308 418,1307 428,1297 429,1295 428,1293 427,1292 421,1287 419,1287ZM478,1233 478,1231 476,1229 469,1227 466,1228 460,1233 460,1245 463,1247 475,1248 477,1247 478,1246 479,1244ZM483,1250 486,1251 497,1249 499,1247 501,1245 501,1242 497,1228 495,1226 488,1224 487,1225 481,1230 481,1247ZM486,1214 484,1212 477,1208 472,1208 470,1209 467,1212 468,1222 469,1224 477,1228 479,1228 481,1227 486,1222ZM468,1208 469,1206 468,1204 465,1197 456,1196 453,1198 451,1204 451,1206 452,1208 463,1210 465,1210ZM499,1210 489,1211 488,1213 488,1215 489,1221 491,1222 497,1224 504,1220 504,1217 503,1212 501,1211ZM516,1228 509,1221 506,1222 501,1225 500,1227 500,1229 503,1239 504,1240 505,1241 515,1238 517,1237 517,1235 517,1230Z" fill="rgb(42, 36, 48)"/>
<path d="M434,1318 435,1324 437,1325 441,1326 443,1325 444,1324 445,1313 444,1310 440,1310 439,1311 435,1316ZM381,1265 379,1264 377,1265 366,1275 366,1285 366,1287 373,1291 375,1291 386,1288 388,1287 389,1285 390,1272Z" fill="rgb(48, 54, 48)"/>
<path d="M498,1322 498,1324 499,1332 501,1333 503,1333 509,1331 510,1329 510,1327 505,1318 503,1317 501,1317ZM527,1308 523,1308 520,1313 520,1316 525,1320 527,1320 528,1319 532,1314 532,1312 531,1310ZM547,1267 546,1261 544,1260 540,1260 538,1261 537,1263 537,1269 538,1270 540,1271 545,1270 547,1269ZM348,1229 345,1235 346,1237 347,1238 352,1241 355,1239 358,1235 357,1232 352,1228 350,1228ZM481,1272 482,1277 484,1278 486,1280 488,1280 509,1272 511,1270 512,1268 500,1253 499,1252 497,1251 487,1253 485,1254 484,1256ZM502,1248 501,1250 502,1252 511,1263 512,1264 514,1264 516,1263 526,1253 526,1251 526,1249 522,1242 519,1240 505,1244Z" fill="rgb(48, 48, 48)"/>
<path d="M537,1299 530,1296 526,1299 525,1300 524,1302 526,1305 534,1309 535,1309 537,1307 539,1302 538,1300Z" fill="rgb(48, 66, 48)"/>
<path d="M363,1277 361,1274 354,1270 352,1270 350,1270 346,1277 346,1279 348,1287 349,1288 353,1291 361,1288 363,1287 364,1285Z" fill="rgb(54, 90, 54)"/>
<path d="M514,1291 515,1293 516,1295 521,1297 523,1297 525,1297 528,1295 529,1292 530,1284 530,1281 528,1278 520,1276 518,1276 516,1277 515,1279Z" fill="rgb(54, 84, 54)"/>
</g>
<ellipse cx="384.3" cy="1204.5" rx="26.7" ry="21.8" fill="url(#gM)" opacity="0.95" filter="url(#b2)"/>
<ellipse cx="366.1" cy="1317.2" rx="14.5" ry="14.5" fill="url(#gW)" opacity="0.40" filter="url(#b2)"/>
</g>
<clipPath id="crD5"><rect x="568.9" y="957.7" width="267.2" height="194.3"/></clipPath>
<clipPath id="coD5"><path d="M576.0,1036.9C576.2,1032.0 577.1,1025.8 578.6,1020.9C580.2,1016.0 582.4,1011.6 585.3,1007.6C588.2,1003.6 591.7,999.8 596.0,996.9C600.2,994.0 605.5,992.1 610.6,990.3C615.7,988.5 621.2,987.1 626.6,986.3C631.9,985.5 637.2,986.1 642.5,985.6C647.9,985.2 653.2,984.3 658.5,983.6C663.8,983.0 669.2,982.1 674.5,981.6C679.8,981.2 685.1,981.0 690.5,981.0C695.8,981.0 701.1,981.4 706.4,981.6C711.8,981.8 717.1,982.2 722.4,982.3C727.7,982.4 733.0,982.6 738.4,982.3C743.7,982.0 749.0,980.8 754.3,980.3C759.7,979.7 765.0,979.2 770.3,979.0C775.6,978.7 781.0,978.4 786.3,979.0C791.6,979.5 797.4,980.6 802.3,982.3C807.1,984.0 811.8,986.1 815.6,988.9C819.3,991.8 822.4,995.6 824.9,999.6C827.3,1003.6 829.2,1008.5 830.2,1012.9C831.2,1017.3 831.3,1021.3 830.9,1026.2C830.4,1031.1 829.2,1037.3 827.6,1042.2C825.9,1047.1 823.6,1051.5 820.9,1055.5C818.2,1059.5 814.7,1062.8 811.6,1066.1C808.5,1069.5 804.0,1071.9 802.3,1075.5C800.5,1079.0 801.4,1083.2 800.9,1087.4C800.5,1091.7 800.7,1096.3 799.6,1100.8C798.5,1105.2 796.9,1110.5 794.3,1114.1C791.6,1117.6 787.6,1120.3 783.6,1122.0C779.6,1123.8 775.2,1124.7 770.3,1124.7C765.4,1124.7 759.7,1123.4 754.3,1122.0C749.0,1120.7 743.9,1118.5 738.4,1116.7C732.8,1114.9 726.8,1112.3 721.1,1111.4C715.3,1110.5 709.3,1110.7 703.8,1111.4C698.2,1112.1 693.1,1113.6 687.8,1115.4C682.5,1117.2 677.1,1119.6 671.8,1122.0C666.5,1124.5 661.2,1127.8 655.8,1130.0C650.5,1132.3 645.2,1134.7 639.9,1135.4C634.6,1136.0 628.8,1135.4 623.9,1134.0C619.0,1132.7 614.1,1130.3 610.6,1127.4C607.0,1124.5 604.6,1121.2 602.6,1116.7C600.6,1112.3 599.3,1106.1 598.6,1100.8C597.9,1095.4 599.9,1089.2 598.6,1084.8C597.3,1080.3 593.3,1077.9 590.6,1074.1C588.0,1070.4 584.9,1066.1 582.6,1062.2C580.4,1058.2 578.4,1054.4 577.3,1050.2C576.2,1046.0 575.8,1041.7 576.0,1036.9Z"/></clipPath>
<g clip-path="url(#crD5)">
<rect x="568.9" y="957.7" width="267.2" height="194.3" fill="#020602"/>
<g filter="url(#b2)">
<path d="M576.0,1036.9C576.2,1032.0 577.1,1025.8 578.6,1020.9C580.2,1016.0 582.4,1011.6 585.3,1007.6C588.2,1003.6 591.7,999.8 596.0,996.9C600.2,994.0 605.5,992.1 610.6,990.3C615.7,988.5 621.2,987.1 626.6,986.3C631.9,985.5 637.2,986.1 642.5,985.6C647.9,985.2 653.2,984.3 658.5,983.6C663.8,983.0 669.2,982.1 674.5,981.6C679.8,981.2 685.1,981.0 690.5,981.0C695.8,981.0 701.1,981.4 706.4,981.6C711.8,981.8 717.1,982.2 722.4,982.3C727.7,982.4 733.0,982.6 738.4,982.3C743.7,982.0 749.0,980.8 754.3,980.3C759.7,979.7 765.0,979.2 770.3,979.0C775.6,978.7 781.0,978.4 786.3,979.0C791.6,979.5 797.4,980.6 802.3,982.3C807.1,984.0 811.8,986.1 815.6,988.9C819.3,991.8 822.4,995.6 824.9,999.6C827.3,1003.6 829.2,1008.5 830.2,1012.9C831.2,1017.3 831.3,1021.3 830.9,1026.2C830.4,1031.1 829.2,1037.3 827.6,1042.2C825.9,1047.1 823.6,1051.5 820.9,1055.5C818.2,1059.5 814.7,1062.8 811.6,1066.1C808.5,1069.5 804.0,1071.9 802.3,1075.5C800.5,1079.0 801.4,1083.2 800.9,1087.4C800.5,1091.7 800.7,1096.3 799.6,1100.8C798.5,1105.2 796.9,1110.5 794.3,1114.1C791.6,1117.6 787.6,1120.3 783.6,1122.0C779.6,1123.8 775.2,1124.7 770.3,1124.7C765.4,1124.7 759.7,1123.4 754.3,1122.0C749.0,1120.7 743.9,1118.5 738.4,1116.7C732.8,1114.9 726.8,1112.3 721.1,1111.4C715.3,1110.5 709.3,1110.7 703.8,1111.4C698.2,1112.1 693.1,1113.6 687.8,1115.4C682.5,1117.2 677.1,1119.6 671.8,1122.0C666.5,1124.5 661.2,1127.8 655.8,1130.0C650.5,1132.3 645.2,1134.7 639.9,1135.4C634.6,1136.0 628.8,1135.4 623.9,1134.0C619.0,1132.7 614.1,1130.3 610.6,1127.4C607.0,1124.5 604.6,1121.2 602.6,1116.7C600.6,1112.3 599.3,1106.1 598.6,1100.8C597.9,1095.4 599.9,1089.2 598.6,1084.8C597.3,1080.3 593.3,1077.9 590.6,1074.1C588.0,1070.4 584.9,1066.1 582.6,1062.2C580.4,1058.2 578.4,1054.4 577.3,1050.2C576.2,1046.0 575.8,1041.7 576.0,1036.9Z" fill="rgb(8, 44, 8)"/>
<g clip-path="url(#coD5)">
<ellipse cx="598.6" cy="1030.2" rx="43.9" ry="50.6" fill="url(#gG)" opacity="0.75"/>
<ellipse cx="800.9" cy="1023.6" rx="46.6" ry="55.9" fill="url(#gG)" opacity="0.80"/>
<ellipse cx="623.9" cy="1107.4" rx="37.3" ry="34.6" fill="url(#gG)" opacity="0.55"/>
<ellipse cx="774.3" cy="1099.4" rx="37.3" ry="30.6" fill="url(#gG)" opacity="0.45"/>
<ellipse cx="694.4" cy="987.6" rx="79.9" ry="13.3" fill="url(#gG)" opacity="0.30"/>
<ellipse cx="701.1" cy="1063.5" rx="53.2" ry="53.2" fill="url(#gD2)" opacity="0.45"/>
</g></g>
<path d="M584,1037a3,3 0 1,0 -6,0a3,3 0 1,0 6,0ZM585,1048a3,3 0 1,0 -6,0a3,3 0 1,0 6,0ZM589,1058a3,3 0 1,0 -6,0a3,3 0 1,0 6,0ZM595,1067a3,3 0 1,0 -6,0a3,3 0 1,0 6,0ZM602,1076a3,3 0 1,0 -6,0a3,3 0 1,0 6,0ZM607,1086a3,3 0 1,0 -6,0a3,3 0 1,0 6,0ZM607,1097a3,3 0 1,0 -6,0a3,3 0 1,0 6,0ZM609,1108a3,3 0 1,0 -6,0a3,3 0 1,0 6,0ZM613,1118a3,3 0 1,0 -6,0a3,3 0 1,0 6,0ZM620,1125a3,3 0 1,0 -6,0a3,3 0 1,0 6,0ZM631,1129a3,3 0 1,0 -6,0a3,3 0 1,0 6,0ZM642,1130a3,3 0 1,0 -6,0a3,3 0 1,0 6,0ZM652,1127a3,3 0 1,0 -6,0a3,3 0 1,0 6,0ZM662,1123a3,3 0 1,0 -6,0a3,3 0 1,0 6,0ZM672,1118a3,3 0 1,0 -6,0a3,3 0 1,0 6,0ZM682,1114a3,3 0 1,0 -6,0a3,3 0 1,0 6,0ZM693,1110a3,3 0 1,0 -6,0a3,3 0 1,0 6,0ZM703,1107a3,3 0 1,0 -6,0a3,3 0 1,0 6,0ZM714,1106a3,3 0 1,0 -6,0a3,3 0 1,0 6,0ZM725,1107a3,3 0 1,0 -6,0a3,3 0 1,0 6,0ZM736,1110a3,3 0 1,0 -6,0a3,3 0 1,0 6,0ZM746,1113a3,3 0 1,0 -6,0a3,3 0 1,0 6,0ZM757,1117a3,3 0 1,0 -6,0a3,3 0 1,0 6,0ZM768,1119a3,3 0 1,0 -6,0a3,3 0 1,0 6,0ZM778,1119a3,3 0 1,0 -6,0a3,3 0 1,0 6,0ZM788,1114a3,3 0 1,0 -6,0a3,3 0 1,0 6,0ZM795,1106a3,3 0 1,0 -6,0a3,3 0 1,0 6,0ZM798,1096a3,3 0 1,0 -6,0a3,3 0 1,0 6,0ZM799,1085a3,3 0 1,0 -6,0a3,3 0 1,0 6,0ZM801,1074a3,3 0 1,0 -6,0a3,3 0 1,0 6,0ZM808,1066a3,3 0 1,0 -6,0a3,3 0 1,0 6,0ZM815,1058a3,3 0 1,0 -6,0a3,3 0 1,0 6,0ZM822,1049a3,3 0 1,0 -6,0a3,3 0 1,0 6,0ZM826,1039a3,3 0 1,0 -6,0a3,3 0 1,0 6,0ZM828,1028a3,3 0 1,0 -6,0a3,3 0 1,0 6,0ZM828,1017a3,3 0 1,0 -6,0a3,3 0 1,0 6,0ZM825,1006a3,3 0 1,0 -6,0a3,3 0 1,0 6,0ZM819,997a3,3 0 1,0 -6,0a3,3 0 1,0 6,0ZM811,991a3,3 0 1,0 -6,0a3,3 0 1,0 6,0ZM801,986a3,3 0 1,0 -6,0a3,3 0 1,0 6,0ZM790,984a3,3 0 1,0 -6,0a3,3 0 1,0 6,0ZM779,984a3,3 0 1,0 -6,0a3,3 0 1,0 6,0ZM768,984a3,3 0 1,0 -6,0a3,3 0 1,0 6,0ZM757,985a3,3 0 1,0 -6,0a3,3 0 1,0 6,0ZM746,987a3,3 0 1,0 -6,0a3,3 0 1,0 6,0ZM735,987a3,3 0 1,0 -6,0a3,3 0 1,0 6,0ZM724,987a3,3 0 1,0 -6,0a3,3 0 1,0 6,0ZM713,987a3,3 0 1,0 -6,0a3,3 0 1,0 6,0ZM702,986a3,3 0 1,0 -6,0a3,3 0 1,0 6,0ZM691,986a3,3 0 1,0 -6,0a3,3 0 1,0 6,0ZM680,987a3,3 0 1,0 -6,0a3,3 0 1,0 6,0ZM669,988a3,3 0 1,0 -6,0a3,3 0 1,0 6,0ZM658,989a3,3 0 1,0 -6,0a3,3 0 1,0 6,0ZM647,990a3,3 0 1,0 -6,0a3,3 0 1,0 6,0ZM636,991a3,3 0 1,0 -6,0a3,3 0 1,0 6,0ZM625,993a3,3 0 1,0 -6,0a3,3 0 1,0 6,0ZM614,995a3,3 0 1,0 -6,0a3,3 0 1,0 6,0ZM604,1000a3,3 0 1,0 -6,0a3,3 0 1,0 6,0ZM596,1007a3,3 0 1,0 -6,0a3,3 0 1,0 6,0ZM590,1016a3,3 0 1,0 -6,0a3,3 0 1,0 6,0ZM586,1026a3,3 0 1,0 -6,0a3,3 0 1,0 6,0Z" fill="#000" opacity="0.18" filter="url(#b1)"/>
<path d="M701,1057a2.5,2.5 0 1,0 -5,0a2.5,2.5 0 1,0 5,0ZM667,1056a2.5,2.5 0 1,0 -5,0a2.5,2.5 0 1,0 5,0ZM736,1051a2.5,2.5 0 1,0 -5,0a2.5,2.5 0 1,0 5,0ZM641,1044a2.5,2.5 0 1,0 -5,0a2.5,2.5 0 1,0 5,0ZM606,1051a2.5,2.5 0 1,0 -5,0a2.5,2.5 0 1,0 5,0ZM761,1039a2.5,2.5 0 1,0 -5,0a2.5,2.5 0 1,0 5,0ZM616,1079a2.5,2.5 0 1,0 -5,0a2.5,2.5 0 1,0 5,0ZM708,1078a2.5,2.5 0 1,0 -5,0a2.5,2.5 0 1,0 5,0ZM624,1101a2.5,2.5 0 1,0 -5,0a2.5,2.5 0 1,0 5,0ZM709,1015a2.5,2.5 0 1,0 -5,0a2.5,2.5 0 1,0 5,0ZM689,1090a2.5,2.5 0 1,0 -5,0a2.5,2.5 0 1,0 5,0ZM620,1013a2.5,2.5 0 1,0 -5,0a2.5,2.5 0 1,0 5,0ZM659,1082a2.5,2.5 0 1,0 -5,0a2.5,2.5 0 1,0 5,0ZM731,1092a2.5,2.5 0 1,0 -5,0a2.5,2.5 0 1,0 5,0ZM789,1022a2.5,2.5 0 1,0 -5,0a2.5,2.5 0 1,0 5,0ZM657,1017a2.5,2.5 0 1,0 -5,0a2.5,2.5 0 1,0 5,0ZM598,1024a2.5,2.5 0 1,0 -5,0a2.5,2.5 0 1,0 5,0ZM638,1072a2.5,2.5 0 1,0 -5,0a2.5,2.5 0 1,0 5,0ZM757,1082a2.5,2.5 0 1,0 -5,0a2.5,2.5 0 1,0 5,0ZM766,1007a2.5,2.5 0 1,0 -5,0a2.5,2.5 0 1,0 5,0ZM806,1043a2.5,2.5 0 1,0 -5,0a2.5,2.5 0 1,0 5,0ZM664,1108a2.5,2.5 0 1,0 -5,0a2.5,2.5 0 1,0 5,0ZM735,1015a2.5,2.5 0 1,0 -5,0a2.5,2.5 0 1,0 5,0ZM715,1037a2.5,2.5 0 1,0 -5,0a2.5,2.5 0 1,0 5,0ZM750,1105a2.5,2.5 0 1,0 -5,0a2.5,2.5 0 1,0 5,0ZM635,1122a2.5,2.5 0 1,0 -5,0a2.5,2.5 0 1,0 5,0ZM686,1030a2.5,2.5 0 1,0 -5,0a2.5,2.5 0 1,0 5,0ZM797,994a2.5,2.5 0 1,0 -5,0a2.5,2.5 0 1,0 5,0ZM685,1004a2.5,2.5 0 1,0 -5,0a2.5,2.5 0 1,0 5,0ZM784,1071a2.5,2.5 0 1,0 -5,0a2.5,2.5 0 1,0 5,0ZM820,1024a2.5,2.5 0 1,0 -5,0a2.5,2.5 0 1,0 5,0ZM783,1109a2.5,2.5 0 1,0 -5,0a2.5,2.5 0 1,0 5,0ZM727,995a2.5,2.5 0 1,0 -5,0a2.5,2.5 0 1,0 5,0Z" fill="#000" opacity="0.22" filter="url(#b1)"/>
<rect x="816.2" y="1093.7" width="8.0" height="47.4" fill="#fff"/>
</g>
<clipPath id="crD6"><rect x="843.0" y="957.7" width="267.8" height="194.3"/></clipPath>
<g clip-path="url(#crD6)">
<rect x="843.0" y="957.7" width="267.8" height="194.3" fill="#050108"/>
<path d="M848,1037 848,1039 848,1041 848,1042 849,1044 849,1045 850,1047 850,1049 851,1051 852,1053 853,1055 854,1057 855,1059 856,1061 858,1063 859,1065 861,1067 863,1069 864,1071 866,1073 867,1075 868,1077 869,1080 870,1082 871,1084 872,1087 872,1089 872,1092 873,1095 873,1098 873,1100 874,1103 875,1106 875,1108 876,1111 877,1114 877,1116 879,1118 880,1121 881,1123 882,1125 884,1127 885,1128 887,1129 889,1130 891,1131 894,1132 896,1132 899,1132 902,1132 905,1131 908,1131 911,1130 914,1129 917,1128 920,1127 923,1126 926,1125 928,1123 931,1122 933,1120 936,1118 938,1117 940,1115 942,1113 944,1111 946,1109 949,1108 952,1106 954,1105 957,1104 960,1102 962,1102 965,1101 968,1100 970,1100 973,1100 976,1100 978,1100 981,1101 984,1102 986,1103 989,1104 992,1105 994,1107 997,1108 999,1110 1002,1111 1005,1113 1007,1115 1010,1116 1013,1117 1015,1119 1018,1120 1021,1121 1023,1122 1026,1123 1029,1124 1031,1124 1034,1125 1037,1125 1039,1126 1042,1125 1044,1125 1047,1124 1049,1123 1051,1122 1053,1120 1055,1119 1057,1117 1059,1116 1061,1114 1063,1112 1064,1110 1066,1108 1067,1106 1068,1104 1069,1102 1070,1100 1070,1097 1071,1095 1072,1092 1072,1090 1072,1087 1073,1084 1073,1081 1074,1079 1075,1077 1076,1075 1077,1073 1079,1072 1080,1070 1082,1068 1084,1067 1086,1065 1088,1063 1090,1062 1092,1060 1094,1058 1095,1056 1097,1054 1098,1051 1099,1049 1101,1047 1102,1045 1103,1042 1103,1039 1104,1037 1105,1034 1105,1031 1106,1029 1106,1026 1106,1023 1106,1020 1105,1018 1105,1015 1104,1013 1103,1010 1103,1008 1102,1006 1100,1004 1099,1002 1098,999 1096,997 1095,995 1093,993 1091,991 1089,989 1087,987 1085,986 1082,984 1080,983 1077,982 1074,981 1071,980 1068,979 1065,978 1062,978 1059,977 1056,977 1053,977 1049,977 1046,977 1043,978 1040,978 1037,979 1034,980 1031,980 1028,981 1025,982 1022,983 1018,983 1015,984 1012,984 1009,983 1006,983 1003,983 1000,982 997,982 994,982 991,982 988,981 984,981 981,981 978,981 975,981 972,981 969,980 966,980 963,980 960,980 957,980 954,981 950,981 947,981 944,982 941,982 938,983 935,983 932,983 929,984 926,984 923,984 919,984 916,985 913,985 910,985 907,985 904,986 901,986 898,986 895,986 891,986 888,986 885,987 883,987 880,988 877,989 874,989 872,990 870,991 867,993 865,994 864,996 862,998 860,1000 859,1002 857,1004 856,1007 854,1010 853,1012 852,1015 851,1018 850,1021 850,1024 849,1028 849,1031 848,1034Z" fill="#f04af0" filter="url(#b1)"/>
<g filter="url(#b13)">
<path d="M852,1037 853,1039 854,1041 856,1041 863,1040 865,1037 863,1034 856,1033 854,1033 853,1034ZM853,1027 854,1029 855,1030 859,1031 861,1031 862,1029 863,1027 862,1024 858,1023 856,1023 854,1024ZM914,1050 905,1045 903,1045 899,1047 898,1048 898,1051 900,1058 906,1061 908,1062 910,1061 915,1054 915,1052ZM1032,1108 1034,1105 1031,1098 1030,1096 1028,1096 1024,1096 1023,1097 1020,1103 1021,1106 1024,1108 1029,1109Z" fill="rgb(60, 96, 54)"/>
<path d="M857,1043 855,1044 854,1045 854,1048 856,1050 857,1051 859,1051 863,1048 864,1046 863,1044 862,1043ZM856,1016 856,1018 857,1020 861,1022 863,1022 864,1021 866,1018 865,1016 864,1015 859,1013 858,1014ZM1019,1086 1020,1089 1023,1093 1025,1094 1028,1094 1031,1093 1036,1087 1037,1084 1030,1074 1028,1073 1026,1073 1023,1074 1022,1076Z" fill="rgb(60, 90, 54)"/>
<path d="M860,1052 859,1054 858,1056 860,1059 861,1060 863,1060 865,1059 868,1056 868,1054 866,1052 864,1051ZM870,1057 865,1062 865,1064 865,1066 867,1067 869,1068 876,1064 878,1062 878,1060 877,1058 873,1056ZM881,1097 879,1098 878,1099 878,1101 879,1104 880,1105 882,1105 886,1104 887,1102 887,1100 886,1098 885,1097ZM887,1106 881,1108 880,1109 880,1112 882,1114 883,1115 885,1115 891,1111 891,1108 890,1106ZM913,1119 914,1123 916,1124 918,1123 920,1122 921,1120 921,1118 919,1115 917,1114 915,1115 914,1116ZM922,1108 921,1109 920,1111 920,1113 924,1119 925,1119 927,1119 930,1117 930,1115 929,1113 926,1109 925,1108ZM1047,1109 1051,1115 1053,1115 1055,1114 1057,1112 1057,1110 1056,1108 1050,1104 1049,1104 1046,1106ZM1061,1100 1056,1098 1054,1099 1053,1101 1053,1103 1057,1107 1059,1108 1061,1108 1062,1106 1063,1103 1063,1101ZM1093,1030 1091,1031 1090,1032 1089,1034 1090,1037 1095,1039 1097,1039 1099,1038 1100,1035 1100,1033 1099,1032ZM1092,1021 1090,1023 1090,1026 1091,1028 1098,1029 1100,1029 1101,1028 1102,1024 1101,1022 1100,1021ZM861,1007 860,1009 861,1010 862,1012 869,1015 872,1013 873,1010 867,1005 865,1004 863,1004ZM923,1051 925,1049 926,1048 927,1038 927,1037 926,1035 912,1033 909,1034 907,1041 907,1043 908,1044 918,1051ZM1027,1044 1026,1046 1027,1048 1033,1060 1034,1061 1037,1062 1045,1060 1049,1057 1049,1054 1049,1053 1039,1041 1038,1040 1029,1042ZM1019,1013 1019,1020 1021,1021 1023,1021 1036,1019 1037,1017 1037,1015 1034,1006 1031,1005 1021,1010Z" fill="rgb(54, 84, 54)"/>
<path d="M872,1069 870,1072 870,1073 872,1076 874,1076 880,1074 883,1070 882,1067 880,1065 877,1066ZM1059,981 1057,982 1056,983 1055,985 1056,991 1057,992 1059,993 1061,992 1062,991 1064,986 1063,984 1062,982ZM889,991 887,991 886,993 886,1000 889,1002 891,1003 894,1001 894,994 893,992 892,991ZM935,1095 942,1092 946,1085 945,1079 930,1075 927,1076 925,1078 923,1081 923,1083 924,1086 931,1094 933,1095Z" fill="rgb(48, 60, 48)"/>
<path d="M876,1078 874,1080 874,1082 875,1084 877,1084 879,1084 881,1083 881,1081 881,1079 878,1077ZM1048,981 1047,982 1045,983 1045,985 1047,993 1050,994 1053,993 1053,985 1053,983 1052,982Z" fill="rgb(48, 48, 48)"/>
<path d="M879,1087 877,1089 876,1092 877,1094 879,1095 880,1095 886,1094 887,1091 886,1089 883,1087ZM907,1119 905,1120 904,1121 903,1123 904,1125 906,1127 908,1127 911,1125 911,1124 911,1122 910,1120ZM1030,1116 1030,1118 1031,1119 1034,1121 1036,1120 1038,1119 1038,1117 1037,1111 1036,1110 1034,1110 1032,1110ZM1040,1113 1040,1119 1043,1121 1046,1120 1048,1118 1048,1116 1046,1112 1045,1111 1043,1111 1042,1111ZM1058,1090 1057,1092 1056,1094 1057,1096 1062,1098 1064,1098 1066,1097 1067,1094 1067,1093 1066,1091 1061,1090ZM1085,1056 1086,1057 1088,1057 1090,1055 1092,1053 1091,1051 1090,1050 1087,1048 1085,1049 1084,1051 1083,1054ZM1086,1040 1085,1042 1086,1044 1087,1045 1093,1049 1095,1048 1096,1047 1097,1044 1096,1042 1095,1041 1090,1039 1088,1039ZM1092,1012 1091,1014 1090,1016 1091,1018 1092,1019 1097,1019 1099,1018 1100,1017 1100,1014 1099,1011 1097,1011ZM1096,1004 1093,1002 1090,1004 1089,1007 1091,1009 1093,1010 1094,1009 1096,1008 1096,1006ZM931,1030 932,1028 931,1026 925,1015 923,1014 915,1015 913,1017 908,1027 908,1029 911,1031 926,1033 928,1033ZM1061,1080 1060,1078 1059,1077 1057,1076 1052,1077 1047,1083 1047,1086 1050,1090 1052,1091 1054,1091 1059,1088Z" fill="rgb(54, 78, 54)"/>
<path d="M886,1116 885,1118 884,1119 885,1121 887,1124 891,1123 893,1120 893,1117 890,1115ZM893,1123 893,1126 895,1127 898,1128 900,1127 901,1126 901,1122 900,1120 899,1119 897,1118 896,1119ZM937,1107 933,1102 931,1102 929,1103 928,1105 928,1109 932,1113 934,1113 936,1113 938,1110ZM1022,1111 1020,1114 1021,1116 1023,1117 1026,1118 1027,1117 1028,1115 1029,1113 1028,1111 1026,1110 1023,1110ZM1078,1055 1076,1056 1075,1058 1075,1059 1077,1062 1080,1063 1083,1062 1084,1060 1084,1059 1081,1055ZM1085,1003 1088,1002 1090,999 1090,997 1090,996 1087,994 1085,994 1083,995 1082,998 1082,1001 1083,1002ZM868,998 867,1000 867,1002 868,1003 872,1006 874,1006 875,1005 876,1003 876,1001 873,997 871,996ZM1009,1090 1007,1091 1006,1092 1006,1095 1007,1097 1014,1102 1018,1101 1021,1097 1022,1095 1021,1093 1017,1089ZM1039,1083 1042,1084 1044,1084 1045,1083 1050,1075 1047,1065 1045,1062 1034,1064 1031,1069 1031,1071 1031,1073Z" fill="rgb(54, 72, 54)"/>
<path d="M937,1096 935,1099 936,1102 940,1107 942,1107 944,1106 946,1105 946,1103 943,1097 940,1095ZM1072,1060 1070,1059 1068,1059 1066,1061 1065,1063 1066,1066 1072,1071 1074,1070 1076,1069 1077,1065ZM907,1000 905,1002 904,1004 904,1005 912,1013 915,1013 922,1012 924,1009 924,1007 923,1004 916,1000 914,999ZM1063,1063 1063,1061 1061,1060 1054,1057 1052,1057 1050,1058 1048,1061 1048,1063 1051,1072 1053,1074 1057,1074 1060,1073 1063,1068Z" fill="rgb(48, 54, 48)"/>
<path d="M952,1090 951,1089 949,1088 947,1088 944,1091 944,1093 947,1100 948,1102 950,1102 953,1101 955,1098ZM956,1096 959,1098 963,1097 964,1094 962,1089 961,1088 958,1088 955,1090 954,1091ZM965,1093 968,1096 970,1096 973,1094 974,1089 973,1086 971,1084 969,1084 967,1085 965,1087ZM985,1094 985,1098 988,1099 991,1099 993,1097 993,1095 992,1093 989,1091 986,1092ZM997,1103 1000,1103 1003,1100 1003,1098 1003,1096 1001,1095 999,1094 996,1095 994,1098 994,1100 994,1102ZM1003,1103 1002,1105 1003,1107 1005,1108 1007,1109 1009,1109 1010,1107 1011,1104 1010,1102 1007,1100 1005,1100ZM1062,1073 1062,1076 1064,1078 1068,1079 1069,1078 1071,1076 1071,1073 1068,1070 1066,1070 1064,1070ZM1038,983 1036,984 1035,985 1035,987 1036,989 1039,990 1041,991 1042,990 1043,988 1044,987 1043,984 1041,983ZM1028,985 1026,986 1026,988 1026,991 1027,992 1028,993 1030,993 1033,991 1034,990 1034,987 1033,986 1031,985ZM1019,987 1016,989 1016,992 1016,993 1018,995 1021,994 1023,994 1024,992 1024,990 1021,987ZM1006,994 1006,996 1008,999 1010,1000 1012,999 1014,998 1014,995 1013,989 1011,988 1008,988 1006,989ZM986,993 987,996 989,996 990,996 993,994 994,992 994,988 992,986 991,986 988,986 986,987 986,989ZM976,991 976,993 977,994 979,994 982,994 984,991 984,987 982,986 981,985 978,985 976,987ZM966,986 966,991 968,993 970,994 972,994 973,993 974,991 974,986 972,985 971,985 968,985ZM959,984 957,985 956,986 956,989 956,991 958,992 960,992 963,990 964,988 963,986 962,985ZM949,985 947,986 946,988 946,989 947,997 950,998 952,998 954,995 954,993 954,988 953,987 952,985ZM939,987 937,987 936,989 936,991 936,992 938,993 941,994 943,994 944,992 944,990 943,988 942,987ZM929,988 927,988 926,990 926,993 927,995 928,996 930,996 933,994 934,993 934,991 933,989 932,988ZM919,989 917,989 916,991 916,996 917,998 921,1000 923,999 924,998 924,992 923,990 922,989ZM909,989 907,990 906,991 906,995 906,997 908,998 910,998 913,997 914,996 914,992 913,991 912,990ZM899,990 897,990 896,992 896,994 896,1002 899,1003 902,1002 904,998 903,991 902,990ZM981,1055 979,1052 973,1047 971,1046 969,1047 964,1050 965,1057 966,1059 967,1060 977,1062 980,1061ZM964,1085 967,1082 967,1080 966,1078 957,1070 954,1070 952,1072 947,1079 949,1085 951,1086 962,1086ZM971,1029 971,1032 974,1036 976,1036 987,1034 988,1033 989,1031 989,1030 989,1028 979,1019 978,1019 975,1021ZM962,1062 963,1059 962,1052 961,1050 960,1049 954,1047 952,1047 950,1048 946,1053 945,1055 946,1057 951,1067 953,1068 956,1068 958,1067ZM958,1033 953,1042 954,1044 955,1045 963,1048 969,1044 971,1042 972,1038 969,1032 961,1031 959,1031ZM934,1056 931,1057 931,1059 930,1072 932,1074 943,1077 945,1077 950,1072 950,1070 950,1068 942,1056ZM983,1063 980,1063 978,1066 977,1073 978,1076 989,1079 994,1076 996,1073 994,1068ZM983,1089 985,1088 987,1088 988,1086 988,1082 987,1081 978,1078 974,1079 973,1082 975,1086ZM929,1053 932,1054 943,1053 949,1047 949,1045 949,1043 948,1042 936,1032 932,1032 930,1034 929,1036 927,1049 928,1051ZM1004,1074 1002,1075 1001,1077 1002,1079 1005,1086 1007,1088 1009,1088 1016,1086 1020,1077 1019,1074 1014,1071ZM1004,1087 998,1078 996,1077 992,1080 990,1082 990,1087 995,1093 1001,1092 1004,1090ZM955,1019 965,1011 966,1009 965,1007 963,1006 953,1002 950,1002 948,1004 947,1006 949,1017 950,1018 952,1019 954,1020ZM993,1030 990,1033 990,1036 991,1045 993,1048 997,1049 1000,1049 1006,1041 1006,1037 1002,1029 999,1029ZM968,1078 971,1078 975,1076 976,1066 973,1064 965,1062 961,1066 960,1069ZM972,1000 971,1008 972,1010 977,1013 979,1012 988,1007 990,1005 990,1003 988,999 985,997 983,996 976,996 974,997ZM958,1027 961,1029 966,1030 968,1029 970,1028 975,1018 975,1015 972,1012 970,1011 968,1012 956,1021 956,1024ZM944,1006 927,1009 926,1012 932,1024 933,1025 935,1025 937,1025 946,1020 947,1019 947,1016 946,1009 945,1007ZM1000,1007 999,1010 999,1011 1003,1023 1005,1024 1007,1024 1017,1019 1018,1012 1017,1010 1012,1004 1010,1003 1007,1003ZM996,1069 998,1072 1000,1073 1001,1073 1012,1069 1013,1066 1011,1059 1004,1055 1003,1055 1001,1056 996,1066ZM911,1062 910,1065 912,1072 914,1074 922,1077 927,1073 929,1057 929,1056 927,1053 924,1052 920,1053 918,1054ZM939,1026 937,1029 938,1032 948,1039 950,1040 952,1039 953,1038 957,1029 954,1023 952,1022 949,1021 948,1021ZM966,994 964,993 963,993 957,994 955,996 954,998 955,1000 956,1001 965,1005 967,1005 969,1004 970,1002 970,999ZM982,1013 981,1014 980,1016 981,1018 990,1027 992,1028 994,1028 1000,1026 1001,1024 1001,1023 996,1009 991,1007ZM1007,1043 1003,1051 1003,1053 1005,1054 1012,1056 1020,1050 1021,1048 1022,1047 1021,1045 1019,1044 1009,1041ZM1005,997 1002,995 995,995 991,999 992,1005 997,1007 1004,1003 1006,1000ZM1016,1022 1005,1027 1005,1028 1005,1030 1009,1038 1021,1043 1023,1043 1025,1042 1026,1040 1026,1038 1021,1024 1020,1022 1018,1022ZM1021,1072 1023,1072 1028,1070 1032,1063 1027,1052 1025,1051 1023,1050 1022,1051 1014,1058 1014,1060 1015,1069ZM1014,1004 1018,1008 1021,1008 1029,1004 1029,1001 1027,996 1024,996 1017,997 1015,999 1014,1002ZM993,1049 989,1049 984,1053 983,1054 982,1058 983,1060 984,1062 993,1065 994,1064 996,1063 999,1054 997,1051ZM989,1039 988,1037 986,1036 976,1038 974,1039 973,1040 973,1044 980,1050 982,1051 984,1050 989,1047ZM929,1000 929,1001 929,1005 932,1006 942,1004 944,1004 945,1002 945,1000 945,999 943,998 935,995Z" fill="rgb(48, 42, 48)"/>
<path d="M1011,1108 1011,1110 1012,1112 1013,1113 1016,1114 1018,1113 1019,1112 1020,1108 1019,1106 1018,1104 1015,1104 1014,1104ZM893,1072 898,1079 901,1079 909,1074 910,1071 908,1064 901,1061 899,1061 897,1062 892,1069ZM1031,995 1030,997 1031,1001 1033,1004 1035,1004 1043,1000 1045,999 1045,997 1045,995 1043,994 1037,992 1035,992Z" fill="rgb(48, 66, 48)"/>
<path d="M1065,990 1065,992 1066,993 1068,994 1070,993 1072,991 1073,987 1073,985 1071,984 1068,983 1066,984ZM878,992 876,994 876,995 876,997 878,1002 880,1002 882,1002 884,1000 884,995 883,993 881,992ZM883,1076 884,1085 885,1086 890,1088 896,1085 897,1081 890,1072 888,1071 886,1071 883,1073Z" fill="rgb(48, 66, 54)"/>
<path d="M898,1084 899,1087 905,1096 907,1097 909,1097 911,1096 920,1086 921,1082 921,1080 919,1078 912,1076 901,1081 899,1082ZM930,1100 931,1097 930,1095 923,1088 921,1088 920,1089 911,1099 911,1101 912,1103 917,1107 924,1105 926,1104ZM905,1103 898,1110 898,1112 901,1116 903,1117 910,1117 912,1116 915,1109 914,1106 909,1102ZM1082,1016 1085,1017 1087,1017 1089,1012 1087,1006 1086,1005 1084,1004 1081,1004 1077,1008 1077,1010 1078,1012ZM1072,1045 1072,1052 1074,1053 1076,1054 1081,1053 1084,1047 1083,1044 1081,1042 1074,1042 1073,1043Z" fill="rgb(60, 102, 60)"/>
<path d="M887,1069 889,1069 891,1068 896,1061 897,1057 895,1049 889,1046 887,1046 884,1048 879,1056 881,1063 885,1068ZM892,1090 888,1094 888,1096 890,1103 891,1105 894,1107 897,1108 904,1102 905,1099 897,1088 896,1088ZM1038,1106 1042,1106 1044,1105 1048,1102 1050,1096 1050,1092 1045,1088 1043,1086 1040,1086 1039,1087 1033,1093 1032,1095 1032,1097 1036,1105ZM880,1020 882,1021 887,1021 890,1020 893,1009 892,1006 887,1003 885,1003 880,1005 878,1006 876,1009 875,1013 876,1016ZM895,1008 892,1021 893,1022 895,1023 903,1025 905,1025 907,1024 911,1018 911,1015 902,1007 901,1006 898,1006 896,1007ZM1051,996 1050,998 1049,999 1050,1001 1056,1011 1058,1012 1061,1013 1066,1009 1068,1008 1068,1006 1066,998 1065,996 1061,994 1055,994Z" fill="rgb(60, 108, 60)"/>
<path d="M907,1033 906,1029 904,1027 896,1026 894,1026 893,1027 890,1042 891,1045 896,1047 903,1044 905,1041ZM1080,1023 1082,1021 1081,1018 1075,1011 1073,1010 1068,1010 1063,1015 1064,1021 1065,1023 1070,1027 1072,1027 1073,1027Z" fill="rgb(66, 126, 60)"/>
<path d="M1039,1016 1041,1019 1043,1019 1052,1014 1053,1013 1053,1011 1053,1009 1048,1002 1044,1002 1039,1005 1037,1006 1037,1008ZM1055,1051 1054,1053 1055,1055 1057,1056 1062,1058 1065,1058 1070,1055 1070,1053 1070,1044 1068,1043 1067,1042 1060,1043Z" fill="rgb(60, 114, 60)"/>
<path d="M877,1055 882,1047 881,1044 873,1038 870,1037 868,1038 866,1040 866,1042 866,1049 871,1054 873,1055ZM871,1017 865,1022 864,1025 865,1031 866,1033 868,1035 870,1035 871,1035 873,1034 878,1022 877,1020 875,1018 873,1017ZM1073,1032 1074,1038 1076,1040 1082,1040 1085,1039 1087,1036 1088,1030 1088,1028 1086,1025 1084,1024 1082,1025 1075,1028 1073,1030ZM1041,1036 1040,1039 1041,1041 1048,1049 1051,1051 1053,1050 1057,1042 1054,1036 1052,1034 1046,1033 1044,1033Z" fill="rgb(66, 120, 60)"/>
<path d="M1043,1024 1045,1030 1047,1031 1052,1032 1055,1031 1062,1023 1061,1017 1060,1016 1056,1014 1044,1020 1043,1022ZM883,1022 881,1023 880,1024 874,1035 876,1038 884,1044 886,1044 887,1043 888,1041 890,1027 890,1025 889,1023ZM1068,1041 1070,1040 1071,1039 1071,1037 1070,1030 1066,1026 1063,1026 1057,1031 1056,1033 1056,1035 1060,1040Z" fill="rgb(66, 132, 60)"/>
<path d="M1027,1023 1025,1023 1024,1025 1024,1027 1028,1039 1032,1040 1036,1038 1038,1037 1042,1031 1040,1022 1039,1021 1037,1021ZM1073,1008 1075,1007 1079,1004 1080,1001 1079,998 1078,996 1072,994 1070,995 1068,997 1068,999 1069,1005 1070,1007Z" fill="rgb(60, 96, 60)"/>
</g>
<path d="M927.9,1004.7C936.7,996.6 960.4,1000.8 975.6,1000.8C990.9,1000.8 1011.6,996.6 1019.4,1004.7C1027.1,1012.9 1022.7,1035.7 1022.0,1049.8C1021.4,1064.0 1020.9,1081.7 1015.4,1089.6C1009.9,1097.6 997.7,1096.0 988.9,1097.6C980.0,1099.1 971.2,1100.2 962.3,1098.9C953.5,1097.6 942.5,1097.8 935.8,1089.6C929.2,1081.4 923.9,1064.0 922.6,1049.8C921.2,1035.7 919.0,1012.9 927.9,1004.7Z" fill="#061006" opacity="0.95" filter="url(#b4)"/>
<ellipse cx="1084.3" cy="996.8" rx="19.9" ry="15.9" fill="url(#gW)" opacity="0.50" filter="url(#b2)"/>
</g>
<clipPath id="crD7"><rect x="568.9" y="1156.1" width="267.2" height="194.7"/></clipPath>
<clipPath id="coD7"><path d="M580.0,1262.5C580.2,1257.4 580.9,1251.8 582.6,1246.5C584.4,1241.2 587.3,1235.2 590.6,1230.5C594.0,1225.9 597.9,1222.1 602.6,1218.6C607.3,1215.0 613.3,1211.9 618.6,1209.2C623.9,1206.6 629.2,1204.8 634.6,1202.6C639.9,1200.4 645.2,1197.9 650.5,1195.9C655.8,1193.9 661.2,1191.1 666.5,1190.6C671.8,1190.2 677.1,1192.6 682.5,1193.3C687.8,1193.9 693.1,1194.8 698.4,1194.6C703.8,1194.4 709.1,1192.2 714.4,1191.9C719.7,1191.7 725.1,1192.4 730.4,1193.3C735.7,1194.2 741.0,1195.5 746.4,1197.3C751.7,1199.0 757.0,1201.9 762.3,1203.9C767.7,1205.9 773.4,1206.8 778.3,1209.2C783.2,1211.7 787.6,1215.0 791.6,1218.6C795.6,1222.1 798.7,1226.5 802.3,1230.5C805.8,1234.5 810.0,1238.1 812.9,1242.5C815.8,1247.0 818.2,1252.1 819.6,1257.2C820.9,1262.3 821.3,1267.8 820.9,1273.1C820.5,1278.5 819.1,1284.2 816.9,1289.1C814.7,1294.0 811.4,1298.2 807.6,1302.4C803.8,1306.6 798.7,1311.1 794.3,1314.4C789.8,1317.7 785.8,1319.9 781.0,1322.4C776.1,1324.8 770.8,1327.3 765.0,1329.0C759.2,1330.8 752.6,1332.4 746.4,1333.0C740.1,1333.7 734.4,1333.2 727.7,1333.0C721.1,1332.8 713.5,1332.1 706.4,1331.7C699.3,1331.3 692.2,1330.8 685.1,1330.4C678.0,1329.9 670.9,1329.3 663.8,1329.0C656.7,1328.8 649.2,1328.6 642.5,1329.0C635.9,1329.5 629.7,1331.5 623.9,1331.7C618.1,1331.9 612.8,1331.9 607.9,1330.4C603.1,1328.8 597.9,1325.9 594.6,1322.4C591.3,1318.8 589.5,1314.2 588.0,1309.1C586.4,1304.0 586.4,1297.1 585.3,1291.8C584.2,1286.4 582.2,1282.0 581.3,1277.1C580.4,1272.2 579.8,1267.6 580.0,1262.5Z"/></clipPath>
<g clip-path="url(#crD7)">
<rect x="568.9" y="1156.1" width="267.2" height="194.7" fill="#020602"/>
<ellipse cx="814.2" cy="1333.0" rx="33.3" ry="24.0" fill="url(#gG)" opacity="0.25" filter="url(#b4)"/>
<ellipse cx="573.3" cy="1345.0" rx="13.3" ry="10.6" fill="url(#gG)" opacity="0.25" filter="url(#b4)"/>
<g filter="url(#b2)">
<path d="M580.0,1262.5C580.2,1257.4 580.9,1251.8 582.6,1246.5C584.4,1241.2 587.3,1235.2 590.6,1230.5C594.0,1225.9 597.9,1222.1 602.6,1218.6C607.3,1215.0 613.3,1211.9 618.6,1209.2C623.9,1206.6 629.2,1204.8 634.6,1202.6C639.9,1200.4 645.2,1197.9 650.5,1195.9C655.8,1193.9 661.2,1191.1 666.5,1190.6C671.8,1190.2 677.1,1192.6 682.5,1193.3C687.8,1193.9 693.1,1194.8 698.4,1194.6C703.8,1194.4 709.1,1192.2 714.4,1191.9C719.7,1191.7 725.1,1192.4 730.4,1193.3C735.7,1194.2 741.0,1195.5 746.4,1197.3C751.7,1199.0 757.0,1201.9 762.3,1203.9C767.7,1205.9 773.4,1206.8 778.3,1209.2C783.2,1211.7 787.6,1215.0 791.6,1218.6C795.6,1222.1 798.7,1226.5 802.3,1230.5C805.8,1234.5 810.0,1238.1 812.9,1242.5C815.8,1247.0 818.2,1252.1 819.6,1257.2C820.9,1262.3 821.3,1267.8 820.9,1273.1C820.5,1278.5 819.1,1284.2 816.9,1289.1C814.7,1294.0 811.4,1298.2 807.6,1302.4C803.8,1306.6 798.7,1311.1 794.3,1314.4C789.8,1317.7 785.8,1319.9 781.0,1322.4C776.1,1324.8 770.8,1327.3 765.0,1329.0C759.2,1330.8 752.6,1332.4 746.4,1333.0C740.1,1333.7 734.4,1333.2 727.7,1333.0C721.1,1332.8 713.5,1332.1 706.4,1331.7C699.3,1331.3 692.2,1330.8 685.1,1330.4C678.0,1329.9 670.9,1329.3 663.8,1329.0C656.7,1328.8 649.2,1328.6 642.5,1329.0C635.9,1329.5 629.7,1331.5 623.9,1331.7C618.1,1331.9 612.8,1331.9 607.9,1330.4C603.1,1328.8 597.9,1325.9 594.6,1322.4C591.3,1318.8 589.5,1314.2 588.0,1309.1C586.4,1304.0 586.4,1297.1 585.3,1291.8C584.2,1286.4 582.2,1282.0 581.3,1277.1C580.4,1272.2 579.8,1267.6 580.0,1262.5Z" fill="rgb(7, 31, 7)"/>
<g clip-path="url(#coD7)">
<ellipse cx="601.3" cy="1262.5" rx="26.6" ry="46.6" fill="url(#gG)" opacity="0.10"/>
</g></g>
<path d="M591,1263a5,5 0 1,0 -10,0a5,5 0 1,0 10,0ZM592,1275a5,5 0 1,0 -10,0a5,5 0 1,0 10,0ZM595,1286a5,5 0 1,0 -10,0a5,5 0 1,0 10,0ZM597,1298a5,5 0 1,0 -10,0a5,5 0 1,0 10,0ZM599,1310a5,5 0 1,0 -10,0a5,5 0 1,0 10,0ZM606,1320a5,5 0 1,0 -10,0a5,5 0 1,0 10,0ZM616,1325a5,5 0 1,0 -10,0a5,5 0 1,0 10,0ZM628,1326a5,5 0 1,0 -10,0a5,5 0 1,0 10,0ZM640,1325a5,5 0 1,0 -10,0a5,5 0 1,0 10,0ZM652,1324a5,5 0 1,0 -10,0a5,5 0 1,0 10,0ZM664,1324a5,5 0 1,0 -10,0a5,5 0 1,0 10,0ZM676,1324a5,5 0 1,0 -10,0a5,5 0 1,0 10,0ZM688,1325a5,5 0 1,0 -10,0a5,5 0 1,0 10,0ZM700,1325a5,5 0 1,0 -10,0a5,5 0 1,0 10,0ZM712,1326a5,5 0 1,0 -10,0a5,5 0 1,0 10,0ZM724,1327a5,5 0 1,0 -10,0a5,5 0 1,0 10,0ZM736,1328a5,5 0 1,0 -10,0a5,5 0 1,0 10,0ZM748,1328a5,5 0 1,0 -10,0a5,5 0 1,0 10,0ZM760,1326a5,5 0 1,0 -10,0a5,5 0 1,0 10,0ZM771,1323a5,5 0 1,0 -10,0a5,5 0 1,0 10,0ZM782,1318a5,5 0 1,0 -10,0a5,5 0 1,0 10,0ZM793,1312a5,5 0 1,0 -10,0a5,5 0 1,0 10,0ZM802,1304a5,5 0 1,0 -10,0a5,5 0 1,0 10,0ZM810,1296a5,5 0 1,0 -10,0a5,5 0 1,0 10,0ZM817,1286a5,5 0 1,0 -10,0a5,5 0 1,0 10,0ZM820,1274a5,5 0 1,0 -10,0a5,5 0 1,0 10,0ZM819,1262a5,5 0 1,0 -10,0a5,5 0 1,0 10,0ZM816,1251a5,5 0 1,0 -10,0a5,5 0 1,0 10,0ZM809,1241a5,5 0 1,0 -10,0a5,5 0 1,0 10,0ZM801,1232a5,5 0 1,0 -10,0a5,5 0 1,0 10,0ZM793,1223a5,5 0 1,0 -10,0a5,5 0 1,0 10,0ZM784,1216a5,5 0 1,0 -10,0a5,5 0 1,0 10,0ZM773,1211a5,5 0 1,0 -10,0a5,5 0 1,0 10,0ZM761,1207a5,5 0 1,0 -10,0a5,5 0 1,0 10,0ZM750,1203a5,5 0 1,0 -10,0a5,5 0 1,0 10,0ZM739,1200a5,5 0 1,0 -10,0a5,5 0 1,0 10,0ZM727,1198a5,5 0 1,0 -10,0a5,5 0 1,0 10,0ZM715,1198a5,5 0 1,0 -10,0a5,5 0 1,0 10,0ZM703,1200a5,5 0 1,0 -10,0a5,5 0 1,0 10,0ZM691,1199a5,5 0 1,0 -10,0a5,5 0 1,0 10,0ZM679,1197a5,5 0 1,0 -10,0a5,5 0 1,0 10,0ZM667,1198a5,5 0 1,0 -10,0a5,5 0 1,0 10,0ZM656,1202a5,5 0 1,0 -10,0a5,5 0 1,0 10,0ZM645,1206a5,5 0 1,0 -10,0a5,5 0 1,0 10,0ZM634,1211a5,5 0 1,0 -10,0a5,5 0 1,0 10,0ZM623,1216a5,5 0 1,0 -10,0a5,5 0 1,0 10,0ZM613,1222a5,5 0 1,0 -10,0a5,5 0 1,0 10,0ZM604,1230a5,5 0 1,0 -10,0a5,5 0 1,0 10,0ZM597,1240a5,5 0 1,0 -10,0a5,5 0 1,0 10,0ZM592,1251a5,5 0 1,0 -10,0a5,5 0 1,0 10,0Z" fill="none" stroke="#22a022" stroke-width="1.1" opacity="0.45" filter="url(#b06)"/>
<path d="M601,1263a5,5 0 1,0 -10,0a5,5 0 1,0 10,0ZM602,1275a5,5 0 1,0 -10,0a5,5 0 1,0 10,0ZM606,1287a5,5 0 1,0 -10,0a5,5 0 1,0 10,0ZM608,1299a5,5 0 1,0 -10,0a5,5 0 1,0 10,0ZM611,1310a5,5 0 1,0 -10,0a5,5 0 1,0 10,0ZM622,1315a5,5 0 1,0 -10,0a5,5 0 1,0 10,0ZM634,1315a5,5 0 1,0 -10,0a5,5 0 1,0 10,0ZM646,1313a5,5 0 1,0 -10,0a5,5 0 1,0 10,0ZM658,1313a5,5 0 1,0 -10,0a5,5 0 1,0 10,0ZM670,1313a5,5 0 1,0 -10,0a5,5 0 1,0 10,0ZM682,1314a5,5 0 1,0 -10,0a5,5 0 1,0 10,0ZM695,1315a5,5 0 1,0 -10,0a5,5 0 1,0 10,0ZM707,1315a5,5 0 1,0 -10,0a5,5 0 1,0 10,0ZM719,1316a5,5 0 1,0 -10,0a5,5 0 1,0 10,0ZM731,1317a5,5 0 1,0 -10,0a5,5 0 1,0 10,0ZM743,1317a5,5 0 1,0 -10,0a5,5 0 1,0 10,0ZM755,1316a5,5 0 1,0 -10,0a5,5 0 1,0 10,0ZM767,1313a5,5 0 1,0 -10,0a5,5 0 1,0 10,0ZM778,1308a5,5 0 1,0 -10,0a5,5 0 1,0 10,0ZM788,1302a5,5 0 1,0 -10,0a5,5 0 1,0 10,0ZM798,1294a5,5 0 1,0 -10,0a5,5 0 1,0 10,0ZM805,1285a5,5 0 1,0 -10,0a5,5 0 1,0 10,0ZM809,1274a5,5 0 1,0 -10,0a5,5 0 1,0 10,0ZM809,1262a5,5 0 1,0 -10,0a5,5 0 1,0 10,0ZM804,1251a5,5 0 1,0 -10,0a5,5 0 1,0 10,0ZM796,1242a5,5 0 1,0 -10,0a5,5 0 1,0 10,0ZM788,1233a5,5 0 1,0 -10,0a5,5 0 1,0 10,0ZM778,1225a5,5 0 1,0 -10,0a5,5 0 1,0 10,0ZM767,1221a5,5 0 1,0 -10,0a5,5 0 1,0 10,0ZM756,1216a5,5 0 1,0 -10,0a5,5 0 1,0 10,0ZM744,1212a5,5 0 1,0 -10,0a5,5 0 1,0 10,0ZM733,1209a5,5 0 1,0 -10,0a5,5 0 1,0 10,0ZM721,1208a5,5 0 1,0 -10,0a5,5 0 1,0 10,0ZM709,1210a5,5 0 1,0 -10,0a5,5 0 1,0 10,0ZM696,1210a5,5 0 1,0 -10,0a5,5 0 1,0 10,0ZM684,1209a5,5 0 1,0 -10,0a5,5 0 1,0 10,0ZM672,1207a5,5 0 1,0 -10,0a5,5 0 1,0 10,0ZM661,1211a5,5 0 1,0 -10,0a5,5 0 1,0 10,0ZM650,1216a5,5 0 1,0 -10,0a5,5 0 1,0 10,0ZM639,1220a5,5 0 1,0 -10,0a5,5 0 1,0 10,0ZM628,1225a5,5 0 1,0 -10,0a5,5 0 1,0 10,0ZM617,1232a5,5 0 1,0 -10,0a5,5 0 1,0 10,0ZM609,1240a5,5 0 1,0 -10,0a5,5 0 1,0 10,0ZM603,1251a5,5 0 1,0 -10,0a5,5 0 1,0 10,0Z" fill="none" stroke="#1a701a" stroke-width="1.0" opacity="0.3" filter="url(#b06)"/>
<rect x="816.2" y="1281.1" width="8.4" height="56.6" fill="#fff"/>
</g>
<clipPath id="crD8"><rect x="843.0" y="1156.1" width="267.8" height="194.7"/></clipPath>
<g clip-path="url(#crD8)">
<rect x="843.0" y="1156.1" width="267.8" height="194.7" fill="#050108"/>
<path d="M859,1257 859,1259 859,1262 860,1264 860,1267 861,1269 862,1271 862,1274 863,1276 864,1278 864,1281 865,1283 866,1286 866,1289 866,1292 867,1295 867,1299 868,1302 868,1305 869,1307 869,1310 870,1312 870,1314 871,1316 872,1318 873,1320 875,1321 877,1323 879,1324 881,1325 883,1326 885,1326 888,1326 890,1326 893,1325 896,1325 899,1324 902,1324 905,1324 908,1323 911,1323 914,1322 917,1322 921,1321 924,1321 928,1321 932,1321 935,1320 938,1320 942,1320 945,1321 948,1321 951,1321 954,1321 957,1322 960,1322 963,1322 966,1323 969,1323 972,1324 976,1324 979,1325 982,1326 985,1326 989,1327 992,1328 995,1328 999,1329 1002,1329 1005,1330 1009,1330 1012,1331 1015,1331 1019,1331 1023,1331 1026,1331 1030,1331 1033,1331 1037,1331 1040,1331 1042,1330 1045,1330 1047,1329 1050,1328 1053,1327 1055,1326 1058,1325 1061,1324 1063,1322 1066,1321 1068,1319 1071,1317 1074,1315 1076,1313 1079,1311 1081,1308 1083,1306 1085,1304 1087,1301 1089,1299 1091,1296 1092,1294 1094,1291 1095,1289 1096,1286 1098,1284 1099,1281 1100,1278 1100,1275 1101,1272 1101,1269 1102,1266 1102,1263 1102,1260 1102,1257 1101,1254 1101,1250 1100,1247 1100,1244 1099,1241 1098,1238 1096,1235 1095,1233 1093,1230 1092,1227 1090,1225 1088,1222 1087,1220 1085,1218 1083,1216 1081,1214 1079,1212 1076,1210 1074,1209 1071,1207 1069,1205 1066,1204 1063,1202 1060,1201 1058,1200 1054,1199 1051,1198 1048,1197 1045,1196 1042,1194 1039,1193 1036,1192 1033,1191 1030,1189 1026,1188 1023,1187 1020,1186 1017,1186 1014,1185 1011,1185 1008,1185 1005,1185 1002,1185 999,1185 995,1185 992,1185 989,1186 986,1186 983,1186 980,1186 977,1185 974,1185 971,1185 968,1185 965,1184 961,1184 958,1183 955,1183 952,1183 949,1183 946,1183 944,1183 941,1183 939,1184 936,1184 933,1185 930,1186 927,1187 924,1189 921,1190 918,1192 915,1193 911,1194 908,1195 905,1196 902,1197 899,1199 896,1200 893,1201 891,1203 888,1204 886,1206 884,1207 881,1209 879,1211 877,1213 875,1215 873,1218 871,1220 870,1222 868,1225 866,1227 865,1230 864,1233 863,1235 862,1238 861,1241 860,1244 860,1248 859,1251 859,1254Z" fill="#f04af0" filter="url(#b1)"/>
<path d="M1042,1310 1040,1315 1038,1323 1036,1332 1036,1340 1038,1347 1042,1352 1050,1355 1063,1357 1077,1358 1091,1358 1104,1356 1112,1352 1117,1346 1118,1336 1118,1325 1117,1314 1114,1304 1112,1298 1110,1295 1106,1294 1102,1294 1097,1296 1093,1297 1088,1298 1084,1298 1079,1298 1075,1299 1070,1299 1066,1300 1062,1301 1058,1301 1054,1302 1050,1303 1047,1304 1044,1306Z" fill="#f04af0" filter="url(#b1)"/>
<path d="M842,1326 840,1329 838,1333 838,1339 838,1344 839,1349 842,1352 847,1354 855,1355 864,1355 874,1355 882,1354 887,1352 889,1350 890,1347 889,1343 887,1339 885,1335 883,1332 880,1331 877,1329 874,1329 870,1328 866,1328 863,1327 859,1326 855,1325 851,1324 847,1324 844,1324Z" fill="#f04af0" filter="url(#b1)"/>
<path d="M885,1328 881,1331 876,1336 873,1341 872,1345 877,1349 887,1352 907,1354 935,1355 969,1355 1002,1355 1031,1354 1050,1352 1059,1350 1062,1346 1059,1342 1054,1338 1048,1334 1042,1331 1036,1330 1028,1329 1018,1329 1008,1329 998,1329 989,1328 980,1328 971,1327 962,1326 953,1325 945,1325 936,1324 927,1324 917,1324 907,1325 898,1325 891,1326Z" fill="#f04af0" filter="url(#b1)"/>
<g filter="url(#b13)">
<path d="M868,1252 866,1253 865,1254 864,1257 865,1260 866,1261 868,1261 872,1259 874,1257 874,1255 872,1253ZM869,1264 867,1264 866,1266 866,1268 867,1271 869,1272 871,1272 873,1271 873,1269 873,1267 872,1264ZM875,1273 870,1275 869,1277 869,1279 870,1281 872,1282 878,1281 880,1280 881,1278 882,1276 881,1275 879,1274ZM876,1296 874,1296 873,1298 873,1301 874,1303 875,1304 877,1304 879,1303 881,1299 881,1297 879,1296ZM882,1311 880,1308 878,1308 876,1309 875,1311 875,1313 877,1315 878,1315 880,1315 882,1314ZM884,1315 883,1317 883,1319 885,1320 889,1321 890,1320 891,1319 891,1315 891,1313 889,1312 887,1312ZM893,1312 895,1318 896,1319 898,1319 901,1318 902,1317 902,1309 901,1307 899,1306 897,1306 894,1309ZM904,1310 906,1316 907,1318 909,1318 912,1317 913,1315 913,1314 912,1307 910,1306 908,1306 905,1307ZM921,1303 918,1302 915,1304 916,1313 917,1315 918,1316 921,1316 923,1316 924,1314 924,1308ZM927,1312 928,1314 929,1315 932,1316 934,1315 935,1314 935,1311 934,1309 931,1308 929,1308 927,1310ZM938,1309 938,1314 940,1315 941,1315 944,1315 946,1314 947,1307 945,1304 944,1304 941,1305 939,1307ZM955,1308 952,1307 950,1308 949,1312 949,1314 950,1315 953,1316 955,1316 957,1315 957,1312ZM964,1311 962,1312 961,1313 961,1315 962,1317 964,1317 966,1317 968,1316 968,1313 966,1311ZM971,1311 971,1317 972,1318 974,1319 977,1319 978,1318 979,1316 980,1310 979,1308 977,1308 973,1308ZM982,1317 982,1319 983,1320 986,1321 988,1321 989,1320 990,1319 990,1314 988,1311 985,1311 983,1312ZM992,1319 993,1321 994,1322 995,1323 999,1323 1000,1322 1002,1315 1001,1313 1000,1312 999,1311 997,1311 994,1313ZM1003,1321 1004,1323 1005,1324 1006,1325 1010,1325 1011,1324 1012,1316 1012,1314 1011,1313 1008,1312 1005,1313ZM1015,1316 1015,1324 1016,1325 1018,1326 1021,1326 1022,1324 1023,1317 1022,1315 1020,1313 1017,1313ZM1025,1323 1026,1325 1027,1326 1029,1326 1032,1326 1034,1324 1033,1318 1033,1316 1030,1314 1029,1314 1026,1316ZM1037,1322 1037,1324 1039,1325 1042,1325 1043,1324 1044,1322 1044,1320 1043,1319 1040,1318 1038,1319 1037,1320ZM1047,1320 1048,1321 1050,1322 1053,1321 1055,1320 1056,1318 1055,1316 1053,1313 1051,1312 1049,1313 1048,1314 1047,1316ZM1057,1313 1059,1317 1061,1317 1063,1316 1065,1314 1066,1313 1065,1311 1063,1309 1061,1309 1059,1310 1057,1312ZM1070,1300 1068,1299 1066,1300 1065,1301 1064,1304 1065,1306 1067,1309 1068,1310 1070,1311 1073,1309 1074,1307 1074,1305ZM1082,1297 1077,1293 1075,1294 1073,1294 1072,1296 1072,1298 1073,1299 1077,1303 1079,1302 1080,1301 1082,1299ZM1082,1293 1084,1294 1086,1293 1088,1291 1088,1289 1088,1287 1087,1286 1084,1285 1082,1286 1081,1287 1080,1290ZM1086,1274 1084,1274 1083,1275 1082,1277 1082,1280 1084,1282 1088,1284 1090,1284 1091,1283 1093,1280 1094,1278 1093,1277ZM1092,1273 1094,1273 1095,1272 1096,1269 1096,1267 1095,1265 1093,1265 1087,1264 1085,1265 1083,1267 1083,1269 1084,1271ZM1087,1254 1085,1255 1084,1257 1084,1259 1085,1261 1087,1262 1093,1262 1095,1262 1096,1260 1096,1257 1096,1255 1094,1254ZM1094,1245 1093,1243 1092,1243 1089,1243 1087,1244 1087,1246 1087,1250 1089,1251 1091,1251 1094,1250 1095,1249ZM1090,1234 1089,1233 1087,1232 1085,1233 1082,1235 1082,1239 1086,1241 1089,1240 1090,1239 1091,1237ZM1080,1223 1071,1231 1072,1234 1075,1236 1077,1235 1084,1231 1085,1229 1085,1227 1083,1224 1082,1223ZM1070,1217 1069,1219 1070,1223 1072,1224 1074,1224 1076,1222 1077,1220 1077,1218 1075,1216 1073,1215 1071,1215ZM1060,1211 1060,1213 1062,1216 1064,1216 1066,1216 1067,1214 1068,1213 1067,1211 1065,1209 1063,1209 1062,1209ZM1048,1211 1049,1215 1051,1216 1053,1217 1054,1216 1058,1210 1058,1208 1058,1206 1055,1204 1053,1204 1051,1205ZM1044,1201 1041,1201 1039,1206 1038,1208 1039,1209 1042,1211 1046,1210 1048,1206 1048,1204 1047,1202ZM1031,1197 1027,1205 1029,1208 1031,1210 1033,1210 1035,1208 1037,1202 1037,1198 1034,1197 1032,1197ZM1023,1193 1022,1192 1020,1193 1018,1198 1019,1201 1022,1203 1025,1202 1027,1198 1027,1196 1027,1194ZM1012,1190 1010,1190 1009,1192 1008,1196 1009,1198 1012,1200 1015,1199 1016,1195 1016,1193 1015,1191ZM1000,1190 998,1190 997,1192 997,1195 998,1197 1000,1198 1002,1198 1005,1196 1005,1193 1005,1191 1004,1190ZM986,1200 987,1203 989,1203 993,1203 994,1202 995,1200 994,1192 992,1191 991,1191 988,1191 986,1194ZM975,1194 975,1199 977,1202 979,1203 981,1203 983,1201 983,1199 983,1193 980,1191 977,1191 976,1192ZM968,1190 966,1190 965,1191 964,1195 964,1197 965,1198 967,1199 971,1198 972,1197 972,1194 972,1192 971,1190ZM953,1198 953,1200 955,1202 957,1202 960,1200 961,1198 961,1192 961,1191 960,1189 957,1188 955,1189 954,1190ZM945,1188 943,1189 942,1190 942,1192 945,1196 947,1196 948,1196 950,1195 950,1193 950,1190 949,1188ZM923,1195 922,1196 921,1198 924,1205 926,1208 929,1207 930,1206 931,1203 929,1196 928,1195 926,1194ZM919,1201 916,1199 912,1200 911,1202 911,1204 913,1208 916,1208 919,1207 920,1205ZM902,1203 901,1204 900,1206 900,1207 902,1209 905,1210 908,1209 909,1206 907,1203 906,1202ZM892,1208 890,1209 890,1211 891,1213 893,1215 896,1215 899,1211 898,1209 897,1207 895,1207ZM882,1215 881,1217 881,1219 883,1221 887,1221 889,1221 890,1219 890,1218 890,1216 887,1213 885,1213ZM881,1227 881,1225 880,1223 878,1222 876,1222 875,1224 874,1226 874,1228 877,1230 880,1228ZM869,1234 868,1236 869,1238 872,1239 876,1238 877,1237 878,1235 877,1234 876,1232 872,1231 871,1231ZM865,1246 865,1248 866,1249 868,1250 870,1249 872,1248 872,1246 871,1244 869,1243 866,1244ZM976,1265 991,1261 992,1259 992,1258 991,1256 979,1245 975,1245 973,1246 969,1251 968,1253 969,1255 973,1265ZM1000,1234 991,1230 989,1232 982,1242 983,1245 991,1252 994,1253 997,1251 1003,1237 1002,1235ZM969,1269 970,1266 970,1265 966,1256 965,1254 958,1254 955,1255 951,1271 951,1273 952,1274 956,1277 957,1277ZM1004,1242 999,1253 1000,1255 1001,1256 1016,1254 1018,1252 1018,1246 1018,1244 1016,1243 1007,1239 1005,1240ZM969,1272 958,1280 958,1282 959,1287 959,1289 963,1291 965,1291 976,1287 978,1286 979,1284 978,1282 974,1273 973,1272 971,1271ZM966,1307 968,1306 968,1304 968,1302 964,1295 960,1293 958,1292 957,1293 953,1297 953,1301 958,1307 960,1308ZM983,1303 983,1305 984,1307 991,1310 994,1310 998,1307 999,1305 997,1294 992,1291 990,1291 988,1292ZM1013,1223 1005,1232 1006,1235 1017,1240 1019,1241 1021,1240 1027,1233 1028,1231 1028,1229 1025,1223 1016,1221ZM979,1268 977,1269 976,1271 976,1273 982,1283 983,1284 985,1285 987,1284 988,1283 994,1269 994,1267 993,1266 992,1265 990,1265ZM937,1278 936,1290 938,1292 945,1296 947,1297 950,1296 956,1290 955,1281 954,1279 950,1275 948,1275 939,1275ZM995,1272 990,1286 991,1288 998,1291 1011,1286 1013,1284 1013,1280 1011,1277 1000,1271 999,1270 997,1271ZM948,1242 946,1240 936,1237 934,1237 931,1238 929,1239 928,1243 934,1253 935,1254 937,1254 948,1252 949,1251 950,1250 950,1248ZM1038,1232 1040,1232 1048,1228 1050,1225 1050,1222 1049,1219 1046,1215 1044,1214 1037,1212 1035,1212 1031,1213 1028,1222 1032,1230ZM976,1220 973,1219 970,1220 965,1226 964,1228 965,1230 972,1241 974,1242 976,1242 979,1241 986,1230 985,1227ZM1060,1252 1062,1251 1064,1248 1066,1240 1065,1238 1064,1236 1051,1230 1042,1234 1042,1237 1044,1248 1046,1250 1048,1251ZM985,1293 985,1291 984,1289 982,1288 980,1288 970,1292 968,1293 967,1295 968,1297 973,1304 977,1305 980,1305 981,1303ZM1018,1204 1014,1205 1013,1206 1011,1210 1012,1214 1015,1218 1024,1220 1026,1218 1028,1214 1027,1211 1025,1207 1023,1206ZM934,1293 923,1296 922,1299 925,1304 927,1305 936,1305 940,1301 941,1299 941,1297 940,1296ZM986,1225 989,1226 991,1225 995,1212 993,1207 986,1205 982,1206 980,1208 977,1214 977,1216 978,1218ZM938,1257 936,1258 935,1259 934,1269 935,1271 937,1272 947,1272 949,1269 951,1259 950,1256 947,1255ZM1068,1252 1065,1252 1064,1254 1063,1264 1072,1272 1075,1273 1079,1272 1082,1264 1082,1262 1080,1258ZM1057,1254 1046,1254 1045,1255 1044,1265 1045,1267 1046,1268 1052,1270 1054,1270 1060,1264 1061,1258 1060,1256ZM947,1212 946,1213 946,1215 948,1217 959,1226 961,1226 962,1225 967,1219 966,1216 956,1206 953,1206ZM1019,1287 1021,1288 1029,1289 1033,1287 1034,1285 1035,1275 1034,1273 1033,1272 1024,1268 1021,1269 1016,1277 1015,1279 1016,1285ZM1002,1292 1001,1294 1000,1296 1002,1307 1005,1309 1014,1309 1016,1307 1018,1290 1016,1288 1015,1287 1013,1288ZM954,1249 955,1251 957,1251 965,1251 970,1246 971,1244 970,1242 963,1231 961,1230 959,1230 957,1231 950,1240ZM1010,1222 1011,1220 1011,1217 1008,1214 999,1213 997,1215 994,1226 996,1229 1002,1231 1004,1229ZM1052,1280 1051,1274 1049,1273 1044,1270 1041,1271 1038,1273 1037,1275 1037,1281 1037,1283 1038,1285 1040,1285 1050,1284 1051,1282ZM1063,1233 1065,1234 1067,1233 1068,1231 1067,1221 1066,1220 1064,1219 1058,1218 1055,1219 1053,1221 1052,1225 1053,1227 1054,1228ZM949,1236 955,1229 955,1227 954,1226 948,1221 945,1220 943,1222 938,1233 939,1234 941,1235 948,1237ZM931,1291 933,1290 933,1288 934,1274 932,1272 930,1272 926,1272 923,1273 915,1282 914,1284 915,1286 918,1292 921,1293ZM916,1299 917,1296 917,1294 912,1286 910,1284 907,1284 904,1284 897,1288 894,1295 894,1297 896,1302 898,1303 901,1304 903,1304 912,1302ZM939,1213 932,1211 930,1213 925,1226 928,1233 931,1235 933,1234 935,1233 941,1218 942,1216 941,1215ZM1021,1245 1022,1254 1024,1255 1025,1255 1039,1253 1041,1252 1042,1250 1042,1248 1038,1235 1036,1234 1031,1234 1022,1242ZM886,1279 895,1285 897,1285 901,1283 903,1280 903,1279 900,1269 891,1267 889,1268 885,1273 885,1277ZM1000,1259 998,1260 997,1262 997,1265 998,1266 1012,1274 1014,1274 1015,1273 1020,1266 1021,1263 1020,1258 1019,1257 1017,1257ZM1077,1239 1070,1239 1068,1241 1067,1246 1068,1249 1079,1254 1082,1254 1084,1251 1084,1244ZM920,1269 912,1259 909,1259 903,1268 906,1279 907,1281 910,1282 911,1282 913,1281 921,1272ZM927,1247 924,1245 916,1248 914,1249 912,1254 913,1256 923,1268 926,1269 930,1268 931,1266 933,1258 932,1255ZM945,1210 949,1205 949,1203 948,1201 942,1197 939,1198 935,1201 934,1204 934,1207 934,1209 941,1211 943,1211ZM891,1251 889,1252 888,1253 887,1255 889,1262 890,1264 891,1265 900,1266 905,1260 905,1256 903,1254ZM886,1267 886,1264 884,1257 881,1256 878,1256 874,1262 878,1270 880,1271 883,1271ZM1066,1286 1066,1289 1068,1292 1077,1290 1080,1282 1079,1278 1077,1276 1076,1276 1074,1276ZM1056,1285 1059,1288 1061,1288 1063,1287 1070,1276 1069,1272 1063,1268 1060,1268 1054,1273 1055,1283ZM883,1253 885,1252 887,1248 886,1241 882,1239 877,1241 875,1242 874,1244 875,1249 876,1252 879,1253ZM1062,1299 1061,1297 1060,1296 1058,1295 1056,1296 1048,1303 1048,1305 1049,1308 1052,1310 1056,1309 1061,1305ZM911,1245 901,1233 899,1233 891,1239 890,1242 890,1246 890,1248 892,1249 907,1252 909,1252 911,1251 912,1247ZM923,1228 920,1226 911,1225 906,1228 904,1230 904,1232 913,1244 915,1245 917,1245 924,1242 927,1239 927,1237 927,1235ZM892,1286 884,1281 882,1282 881,1283 880,1291 881,1293 882,1294 886,1296 891,1295 893,1290 893,1288ZM897,1229 894,1224 892,1224 887,1224 885,1225 884,1227 882,1232 883,1235 886,1237 888,1238 890,1237 897,1231ZM887,1298 885,1300 882,1304 882,1306 884,1308 886,1309 887,1310 890,1309 892,1308 894,1304 893,1300 891,1298ZM1037,1288 1035,1290 1034,1293 1038,1301 1043,1302 1046,1301 1055,1294 1056,1292 1056,1290 1055,1288 1053,1287ZM1018,1306 1019,1309 1024,1311 1029,1311 1031,1310 1035,1302 1032,1293 1030,1292 1024,1291 1021,1292ZM915,1211 912,1213 912,1215 912,1219 913,1221 915,1222 919,1223 922,1223 926,1214 927,1212 926,1211 924,1209 922,1209ZM964,1201 962,1202 961,1204 960,1205 961,1207 969,1215 970,1216 974,1216 977,1208 977,1206 976,1204 973,1201ZM1041,1259 1041,1257 1039,1256 1037,1255 1026,1257 1024,1259 1023,1262 1024,1264 1025,1265 1036,1270 1040,1269 1041,1267ZM897,1219 896,1221 897,1223 900,1227 902,1227 904,1227 909,1222 909,1215 907,1213 902,1213ZM997,1209 1000,1210 1006,1211 1008,1210 1010,1206 1010,1203 1006,1200 998,1202 996,1203 996,1205ZM1045,1306 1043,1305 1038,1304 1034,1310 1033,1312 1034,1314 1037,1315 1044,1315 1045,1314 1047,1310ZM1054,1311 1053,1310 1051,1309 1049,1309 1046,1313 1046,1315 1047,1317 1050,1318 1052,1318 1054,1317 1055,1316ZM1049,1329 1052,1328 1054,1325 1054,1324 1052,1321 1046,1320 1044,1321 1043,1323 1043,1326 1044,1328 1046,1329ZM1041,1336 1043,1339 1046,1339 1050,1337 1051,1335 1049,1332 1045,1331 1043,1331 1042,1333ZM1060,1352 1062,1352 1063,1350 1064,1346 1064,1344 1062,1343 1060,1342 1057,1343 1055,1347 1056,1349 1057,1351ZM1072,1340 1070,1340 1068,1341 1067,1343 1067,1351 1068,1352 1070,1353 1073,1352 1075,1351 1075,1349 1075,1344 1075,1342ZM1078,1344 1078,1351 1079,1353 1081,1353 1085,1352 1086,1351 1086,1349 1085,1342 1084,1340 1082,1340 1079,1341ZM1096,1344 1092,1342 1090,1342 1089,1344 1089,1349 1090,1351 1091,1352 1095,1352 1096,1351 1097,1350 1097,1345ZM1100,1347 1101,1349 1103,1350 1105,1350 1108,1348 1109,1346 1108,1344 1105,1342 1102,1342 1100,1343 1100,1345ZM1108,1340 1109,1341 1112,1339 1113,1336 1113,1334 1112,1333 1109,1332 1106,1334 1105,1337 1106,1339ZM1107,1321 1104,1324 1103,1326 1103,1327 1104,1329 1106,1330 1111,1329 1113,1328 1113,1326 1112,1322 1111,1321ZM1106,1310 1105,1311 1104,1313 1104,1315 1106,1318 1108,1318 1110,1318 1111,1316 1111,1313 1110,1311 1109,1310ZM1100,1305 1101,1307 1103,1308 1106,1308 1108,1307 1109,1305 1109,1303 1107,1300 1104,1299 1101,1300 1100,1302ZM1092,1302 1090,1304 1089,1306 1090,1310 1093,1312 1097,1310 1098,1307 1097,1303 1095,1302ZM1087,1306 1085,1304 1083,1303 1081,1304 1080,1305 1080,1307 1080,1309 1082,1310 1084,1310 1085,1310 1086,1308ZM1070,1304 1068,1305 1067,1306 1067,1310 1068,1312 1070,1313 1072,1313 1075,1310 1076,1307 1075,1306 1074,1304ZM1059,1306 1057,1307 1056,1309 1056,1311 1058,1313 1059,1314 1061,1314 1064,1312 1065,1311 1065,1309 1064,1307 1062,1306ZM1070,1328 1069,1331 1071,1336 1076,1338 1078,1339 1086,1336 1088,1329 1088,1327 1087,1325 1085,1324 1076,1323 1072,1325ZM1102,1339 1103,1332 1100,1329 1098,1328 1094,1328 1092,1329 1090,1331 1090,1336 1091,1338 1098,1341ZM1090,1318 1090,1323 1091,1325 1093,1326 1099,1325 1103,1320 1101,1315 1100,1314 1099,1313 1092,1316ZM1068,1315 1065,1315 1058,1318 1057,1320 1057,1322 1058,1324 1065,1327 1067,1327 1068,1325 1071,1321 1071,1318ZM1077,1312 1073,1317 1074,1319 1075,1320 1076,1321 1085,1321 1088,1319 1087,1316 1086,1315 1080,1312ZM1058,1340 1066,1338 1067,1337 1067,1335 1066,1330 1059,1327 1057,1327 1055,1328 1053,1331 1053,1333 1053,1336 1055,1339ZM847,1340 844,1341 843,1344 844,1347 847,1349 849,1349 850,1348 851,1346 851,1342 850,1341ZM854,1346 854,1348 855,1349 857,1350 861,1349 862,1348 863,1346 862,1344 861,1343 858,1342 856,1342 855,1343ZM869,1343 867,1343 866,1344 865,1346 866,1348 867,1349 869,1350 871,1349 873,1346 872,1343ZM876,1341 875,1344 877,1348 880,1349 883,1347 884,1346 884,1344 881,1339 878,1339ZM866,1336 867,1338 868,1339 869,1340 872,1340 874,1339 875,1337 874,1336 873,1334 870,1333 869,1333 867,1334ZM855,1335 855,1337 856,1339 860,1340 862,1339 863,1338 864,1336 863,1333 859,1332 858,1332 856,1333ZM848,1329 845,1330 844,1333 844,1335 845,1337 847,1337 850,1337 853,1335 853,1332 852,1330ZM887,1339 885,1337 883,1337 881,1338 879,1342 880,1345 883,1346 885,1346 887,1345 888,1342ZM894,1341 892,1342 891,1344 891,1345 893,1347 894,1348 897,1347 898,1346 899,1343 896,1341ZM906,1349 908,1348 910,1347 910,1344 910,1342 908,1341 906,1340 903,1341 902,1342 901,1345 902,1347 903,1348ZM921,1344 921,1342 919,1341 916,1341 913,1343 913,1347 914,1349 916,1349 920,1349 921,1347ZM927,1341 924,1343 924,1348 926,1349 927,1349 931,1349 932,1348 933,1346 932,1342 931,1341ZM936,1343 936,1348 937,1349 939,1350 942,1349 944,1348 944,1346 943,1342 942,1341 940,1341 937,1342ZM950,1341 947,1343 947,1348 948,1349 950,1350 954,1349 955,1348 955,1346 955,1343 953,1341ZM967,1345 966,1343 965,1342 961,1342 958,1344 958,1348 960,1349 961,1350 965,1349 966,1348ZM970,1344 970,1348 971,1349 975,1350 976,1349 978,1348 978,1346 977,1344 976,1342 974,1342 971,1343ZM983,1343 981,1345 981,1348 984,1350 988,1349 989,1348 989,1346 989,1344 987,1343ZM1001,1346 1000,1344 998,1343 996,1343 995,1344 994,1347 995,1349 997,1350 999,1349 1000,1348ZM1044,1341 1043,1342 1043,1344 1043,1346 1045,1347 1048,1347 1051,1345 1051,1344 1050,1341 1047,1340ZM991,1335 990,1339 993,1341 994,1341 996,1340 997,1338 997,1336 996,1334 994,1334 992,1334ZM979,1337 980,1340 981,1340 984,1340 986,1339 987,1337 987,1335 986,1334 984,1333 981,1333 979,1335ZM967,1336 969,1339 972,1340 975,1338 976,1336 976,1334 975,1333 971,1332 970,1332 968,1333ZM956,1336 957,1338 958,1339 962,1339 964,1338 965,1336 965,1333 963,1332 962,1331 958,1331 957,1332ZM945,1335 945,1337 947,1339 951,1339 953,1337 953,1332 952,1331 950,1330 947,1330 945,1332ZM934,1335 934,1337 936,1338 938,1339 941,1338 942,1335 942,1331 941,1330 939,1330 935,1330 934,1331ZM922,1335 923,1337 924,1338 926,1338 929,1337 931,1335 931,1331 929,1330 927,1329 924,1330 923,1331ZM911,1335 912,1337 913,1338 915,1338 918,1337 920,1334 919,1331 918,1330 916,1330 913,1330 911,1331ZM903,1330 901,1331 900,1332 900,1334 900,1337 902,1338 904,1338 907,1337 908,1334 908,1332 906,1330Z" fill="rgb(36, 12, 36)"/>
</g>
<ellipse cx="975.6" cy="1262.1" rx="63.7" ry="50.4" fill="#200a24" opacity="0.75" filter="url(#b8)"/>
<ellipse cx="973.0" cy="1195.8" rx="9.3" ry="6.6" fill="url(#gM)" opacity="0.90" filter="url(#b2)"/>
</g>
<clipPath id="crI1"><rect x="1131.7" y="1117.6" width="327.3" height="190.1"/></clipPath>
<g clip-path="url(#crI1)">
<rect x="1131.7" y="1117.6" width="327.3" height="190.1" fill="#f1f5f4"/>
<path d="M1140,1187 1140,1191 1141,1195 1142,1198 1143,1201 1144,1204 1145,1208 1146,1211 1147,1214 1149,1216 1150,1219 1152,1222 1154,1224 1156,1227 1158,1229 1160,1232 1163,1234 1166,1236 1169,1238 1172,1239 1176,1240 1179,1240 1183,1241 1186,1242 1189,1245 1191,1248 1192,1252 1193,1256 1194,1261 1194,1265 1196,1270 1197,1274 1198,1279 1200,1283 1201,1288 1203,1292 1206,1295 1209,1298 1212,1300 1216,1302 1220,1303 1225,1304 1229,1305 1234,1306 1239,1306 1245,1306 1250,1306 1255,1305 1260,1303 1263,1302 1266,1299 1269,1297 1272,1293 1274,1290 1276,1287 1279,1283 1280,1279 1282,1274 1284,1270 1285,1265 1287,1261 1288,1258 1289,1254 1290,1250 1291,1247 1292,1245 1293,1245 1295,1246 1296,1249 1298,1252 1299,1257 1301,1261 1303,1265 1305,1268 1308,1272 1310,1276 1312,1280 1315,1284 1318,1287 1322,1289 1326,1292 1330,1294 1335,1296 1339,1297 1344,1298 1349,1299 1354,1299 1360,1299 1365,1299 1370,1298 1374,1297 1377,1296 1380,1294 1382,1292 1384,1290 1386,1288 1387,1285 1389,1282 1392,1278 1394,1274 1395,1270 1397,1266 1398,1261 1398,1257 1397,1251 1395,1246 1394,1241 1394,1236 1394,1233 1396,1231 1398,1230 1401,1229 1404,1229 1408,1229 1411,1228 1414,1227 1418,1225 1422,1224 1425,1223 1428,1221 1431,1219 1433,1217 1435,1215 1437,1213 1438,1210 1440,1207 1441,1204 1443,1201 1445,1197 1446,1192 1448,1188 1449,1184 1450,1181 1450,1178 1449,1175 1449,1173 1447,1171 1446,1168 1445,1166 1443,1162 1441,1158 1439,1154 1436,1150 1434,1146 1431,1144 1428,1142 1425,1140 1422,1140 1418,1139 1415,1138 1411,1137 1407,1135 1403,1133 1398,1131 1394,1130 1390,1128 1386,1127 1382,1126 1378,1126 1375,1126 1371,1126 1367,1126 1364,1127 1361,1128 1357,1129 1354,1130 1351,1132 1348,1133 1344,1134 1339,1134 1334,1133 1329,1132 1323,1131 1318,1131 1313,1132 1309,1134 1306,1136 1302,1140 1299,1143 1296,1145 1293,1147 1290,1148 1287,1147 1285,1146 1282,1145 1279,1144 1276,1144 1274,1143 1271,1142 1269,1142 1266,1141 1263,1141 1260,1140 1255,1140 1249,1141 1244,1141 1238,1142 1232,1142 1226,1142 1221,1141 1216,1140 1210,1138 1206,1137 1201,1136 1196,1135 1191,1135 1186,1135 1181,1136 1176,1137 1171,1138 1167,1140 1163,1143 1159,1146 1156,1149 1152,1153 1149,1157 1147,1160 1145,1165 1143,1169 1142,1174 1141,1179 1140,1183Z" fill="#8a868a" opacity="0.85" filter="url(#b06)"/>
<g filter="url(#b06)">
<path d="M1143,1189 1144,1190 1149,1190 1149,1189 1148,1185 1144,1185 1143,1186ZM1152,1218 1154,1218 1160,1215 1160,1213 1159,1211 1157,1211 1151,1213 1151,1215ZM1176,1237 1177,1236 1178,1232 1177,1231 1173,1231 1171,1235 1172,1236ZM1203,1282 1203,1284 1204,1287 1205,1287 1209,1285 1208,1281ZM1211,1295 1212,1296 1215,1298 1216,1298 1219,1292 1219,1291 1218,1290 1215,1290ZM1225,1300 1226,1302 1230,1303 1231,1302 1231,1297 1228,1294 1227,1295ZM1248,1296 1247,1297 1248,1303 1249,1303 1253,1302 1253,1301 1252,1298 1249,1296ZM1283,1254 1282,1254 1280,1258 1281,1259 1284,1260 1285,1259 1286,1255ZM1286,1237 1284,1237 1284,1239 1286,1245 1288,1246 1290,1243ZM1309,1267 1309,1269 1311,1272 1312,1272 1316,1269 1312,1265ZM1330,1283 1329,1281 1326,1280 1322,1285 1322,1286 1325,1288 1327,1288ZM1365,1295 1366,1296 1370,1295 1370,1294 1369,1289 1368,1289 1364,1291ZM1379,1290 1381,1290 1383,1286 1383,1285 1381,1284 1377,1287ZM1390,1235 1391,1234 1392,1231 1388,1228 1386,1228 1383,1231 1385,1234ZM1439,1201 1440,1200 1442,1196 1441,1195 1438,1195 1435,1198 1436,1199ZM1442,1188 1439,1190 1438,1191 1439,1193 1442,1194 1443,1193 1444,1190ZM1439,1176 1438,1178 1440,1179 1446,1180 1447,1179 1447,1176 1445,1173ZM1411,1140 1409,1140 1409,1144 1413,1146 1414,1141ZM1400,1143 1400,1144 1402,1145 1406,1143 1408,1140 1407,1139 1404,1137 1403,1137ZM1381,1136 1382,1137 1384,1138 1386,1137 1388,1131 1387,1130 1383,1129 1382,1130ZM1368,1129 1367,1130 1368,1137 1370,1139 1373,1137 1373,1130 1371,1129ZM1300,1149 1302,1149 1305,1148 1306,1147 1304,1144 1302,1144 1299,1146ZM1287,1155 1288,1156 1292,1154 1293,1153 1292,1150 1288,1150ZM1282,1148 1281,1149 1280,1153 1280,1154 1284,1155 1286,1150ZM1259,1148 1260,1149 1264,1148 1265,1145 1264,1144 1260,1143 1259,1144ZM1235,1151 1236,1149 1235,1145 1234,1145 1231,1145 1230,1146 1230,1151 1231,1151ZM1215,1148 1216,1150 1218,1152 1220,1152 1221,1151 1221,1145 1218,1143 1217,1144ZM1170,1151 1172,1151 1173,1149 1171,1143 1170,1142 1166,1144 1166,1145ZM1150,1163 1148,1164 1147,1167 1147,1168 1152,1170 1154,1170 1154,1169 1154,1166ZM1305,1244 1307,1251 1311,1252 1312,1252 1313,1246 1313,1245 1306,1243ZM1326,1259 1324,1259 1321,1269 1323,1271 1333,1266 1334,1265 1330,1260ZM1300,1235 1300,1234 1300,1233 1292,1229 1287,1234 1288,1236 1298,1236ZM1277,1228 1276,1228 1275,1229 1271,1237 1272,1238 1276,1240 1282,1238 1283,1235ZM1273,1228 1273,1227 1272,1227 1264,1226 1263,1227 1261,1230 1266,1238 1267,1238 1269,1237ZM1295,1208 1293,1208 1292,1210 1294,1218 1295,1218 1300,1218 1302,1210ZM1282,1209 1283,1210 1291,1209 1293,1206 1292,1199 1291,1199 1282,1200 1280,1202ZM1254,1233 1253,1234 1252,1239 1252,1241 1258,1245 1263,1244 1265,1239 1260,1232 1259,1232ZM1272,1253 1271,1254 1273,1258 1275,1259 1278,1258 1280,1252 1279,1250 1277,1250ZM1252,1190 1252,1192 1263,1196 1265,1195 1266,1191 1266,1190 1257,1182 1255,1183ZM1380,1250 1379,1251 1377,1256 1380,1260 1385,1257 1386,1256 1385,1251ZM1239,1211 1241,1213 1250,1211 1252,1208 1250,1205 1241,1204 1240,1205ZM1291,1170 1291,1167 1286,1163 1285,1163 1281,1165 1281,1166 1281,1176 1284,1177ZM1362,1280 1361,1280 1360,1281 1359,1287 1363,1289 1368,1287 1369,1285 1368,1282ZM1338,1221 1338,1222 1343,1228 1348,1227 1350,1221 1347,1216 1346,1216ZM1365,1266 1366,1265 1366,1259 1359,1256 1356,1258 1355,1259 1358,1267 1361,1268ZM1310,1181 1316,1183 1318,1181 1319,1174 1316,1170 1310,1172 1308,1175ZM1359,1214 1359,1212 1354,1210 1348,1212 1347,1214 1352,1219 1353,1220 1357,1219ZM1344,1187 1340,1186 1335,1189 1338,1195 1339,1196 1342,1195 1345,1189ZM1375,1211 1376,1209 1374,1205 1373,1205 1366,1207 1363,1212 1363,1213 1368,1215ZM1217,1255 1216,1256 1217,1257 1222,1263 1223,1263 1231,1257 1231,1256 1226,1251ZM1208,1265 1208,1266 1209,1268 1216,1269 1218,1268 1220,1264 1215,1258 1214,1258ZM1327,1152 1329,1156 1330,1156 1337,1155 1338,1153 1335,1147 1332,1146 1330,1146ZM1368,1183 1369,1182 1368,1177 1362,1175 1361,1175 1359,1182 1359,1184 1363,1185ZM1231,1273 1226,1279 1226,1280 1232,1285 1236,1284 1237,1282 1236,1274 1235,1273ZM1253,1184 1253,1182 1244,1177 1240,1179 1240,1185 1247,1190 1249,1190 1250,1190ZM1254,1166 1254,1167 1255,1167 1263,1165 1263,1159 1258,1157 1256,1158 1255,1159ZM1347,1169 1348,1169 1358,1169 1360,1164 1360,1163 1352,1159 1351,1159 1347,1167ZM1376,1173 1374,1173 1370,1177 1371,1183 1376,1185 1381,1181 1381,1179 1381,1177ZM1378,1243 1377,1245 1380,1248 1385,1248 1386,1243 1384,1241 1382,1240ZM1406,1171 1406,1165 1403,1163 1402,1163 1397,1167 1399,1174 1400,1175ZM1205,1254 1204,1255 1202,1259 1205,1263 1207,1263 1212,1257 1213,1255 1212,1255ZM1223,1267 1221,1267 1218,1270 1219,1277 1221,1279 1224,1279 1228,1273ZM1404,1191 1406,1191 1413,1190 1413,1188 1410,1182 1404,1182 1403,1182 1402,1183ZM1388,1166 1386,1162 1382,1162 1377,1171 1382,1176 1383,1176 1385,1175ZM1302,1151 1301,1152 1300,1157 1301,1159 1302,1159 1310,1155 1310,1154 1308,1150ZM1284,1162 1285,1161 1284,1158 1278,1155 1275,1156 1274,1157 1276,1163 1280,1164ZM1239,1176 1241,1176 1243,1175 1246,1168 1240,1163 1235,1165 1235,1166ZM1199,1192 1199,1191 1200,1186 1199,1185 1192,1184 1191,1185 1191,1192 1192,1194 1193,1194ZM1222,1192 1222,1190 1215,1184 1211,1186 1211,1191 1218,1195 1220,1195ZM1255,1290 1254,1290 1251,1294 1251,1295 1253,1297 1258,1295 1258,1294 1258,1291ZM1271,1155 1270,1155 1265,1159 1266,1165 1268,1167 1274,1163 1272,1156ZM1194,1203 1193,1204 1193,1212 1202,1214 1203,1213 1203,1205ZM1405,1151 1407,1152 1411,1152 1412,1151 1413,1149 1413,1148 1406,1145 1403,1147ZM1371,1140 1370,1142 1374,1149 1382,1147 1384,1144 1383,1140 1380,1138 1374,1138ZM1232,1214 1232,1213 1227,1209 1223,1212 1222,1213 1223,1217 1229,1219ZM1322,1174 1321,1175 1320,1181 1326,1184 1328,1184 1330,1176 1329,1175ZM1253,1205 1254,1205 1262,1199 1263,1197 1253,1194 1252,1194 1252,1195 1252,1204ZM1190,1175 1189,1176 1189,1181 1191,1183 1200,1183 1202,1182 1202,1179 1195,1174ZM1401,1177 1400,1179 1402,1180 1410,1181 1411,1180 1413,1176 1412,1175 1407,1172ZM1398,1146 1397,1147 1395,1154 1400,1157 1402,1157 1404,1153 1404,1152 1402,1147ZM1404,1161 1408,1163 1414,1160 1415,1159 1412,1154 1406,1154 1405,1154 1403,1159ZM1170,1224 1170,1225 1173,1229 1179,1229 1179,1228 1177,1219 1175,1219ZM1215,1161 1216,1160 1217,1153 1213,1151 1208,1151 1207,1152 1207,1160ZM1195,1147 1194,1148 1196,1150 1205,1151 1206,1150 1206,1148 1201,1144ZM1162,1215 1164,1220 1168,1223 1169,1222 1173,1218 1170,1213 1163,1214ZM1162,1174 1161,1173 1156,1171 1155,1171 1153,1177 1153,1179 1161,1182 1163,1180ZM1154,1181 1152,1182 1150,1184 1151,1190 1153,1192 1160,1189 1160,1188 1160,1184ZM1174,1152 1175,1153 1183,1155 1187,1149 1187,1148 1186,1148 1180,1146 1176,1149Z" fill="rgb(222,222,222)"/>
<path d="M1144,1197 1146,1198 1151,1196 1152,1195 1152,1193 1150,1192 1144,1192 1143,1193ZM1162,1230 1164,1230 1167,1226 1167,1224 1163,1223 1160,1226 1160,1227ZM1196,1254 1195,1255 1196,1259 1197,1259 1201,1258 1202,1254 1202,1253 1200,1253ZM1207,1279 1208,1278 1206,1274 1201,1275 1200,1276 1201,1280 1202,1280ZM1238,1298 1237,1297 1234,1297 1233,1302 1233,1303 1238,1303 1238,1302ZM1286,1247 1281,1249 1282,1251 1285,1253 1286,1252 1288,1248ZM1299,1238 1296,1243 1298,1246 1303,1244 1304,1242 1302,1237 1301,1237ZM1372,1287 1371,1287 1371,1288 1372,1294 1374,1294 1377,1292 1378,1291 1375,1288ZM1392,1229 1393,1229 1396,1228 1395,1223 1394,1222 1389,1223 1388,1226ZM1404,1225 1406,1226 1410,1225 1410,1224 1409,1221 1408,1221 1405,1222ZM1415,1146 1416,1148 1420,1147 1421,1143 1421,1142 1417,1141 1416,1142ZM1395,1137 1397,1142 1397,1143 1399,1142 1401,1137 1401,1136 1397,1134ZM1360,1131 1360,1132 1361,1134 1364,1136 1366,1135 1366,1134 1365,1130 1364,1130ZM1297,1148 1294,1150 1294,1153 1297,1155 1298,1155 1299,1154 1299,1150ZM1238,1144 1237,1145 1237,1149 1239,1150 1242,1147 1243,1146 1242,1144ZM1208,1148 1208,1149 1213,1149 1215,1144 1214,1142 1211,1141 1210,1142ZM1154,1164 1156,1163 1158,1162 1158,1160 1154,1157 1153,1157 1150,1161 1151,1162ZM1143,1182 1144,1183 1149,1183 1151,1180 1151,1179 1150,1178 1145,1177 1144,1178ZM1314,1230 1316,1231 1324,1229 1326,1223 1323,1219 1322,1219 1315,1219 1313,1221 1313,1222ZM1305,1210 1303,1211 1302,1218 1303,1219 1304,1220 1312,1220 1313,1218 1310,1212ZM1236,1240 1235,1239 1228,1243 1228,1249 1232,1254 1233,1253 1241,1245 1240,1244ZM1264,1246 1263,1246 1258,1247 1256,1253 1256,1254 1259,1257 1261,1257 1267,1253 1267,1251ZM1256,1206 1255,1207 1256,1208 1266,1212 1266,1211 1268,1202 1265,1200ZM1264,1215 1263,1213 1255,1210 1254,1210 1252,1212 1253,1217 1260,1220 1262,1220ZM1245,1225 1247,1225 1251,1218 1251,1214 1250,1213 1243,1215 1242,1215 1243,1223ZM1324,1195 1325,1197 1332,1201 1333,1201 1336,1196 1333,1189 1330,1188 1328,1189ZM1338,1197 1334,1202 1333,1205 1335,1206 1343,1207 1345,1199 1342,1197ZM1344,1195 1345,1197 1347,1198 1354,1198 1354,1197 1353,1186 1351,1186 1347,1188ZM1357,1221 1356,1221 1352,1222 1350,1227 1350,1228 1359,1232 1360,1231 1361,1227ZM1362,1277 1363,1278 1368,1280 1369,1280 1374,1275 1374,1271 1367,1268 1363,1270 1362,1271ZM1229,1204 1228,1205 1228,1208 1234,1212 1237,1211 1239,1204 1237,1201 1236,1200ZM1362,1231 1362,1233 1370,1238 1371,1237 1375,1229 1373,1227 1370,1225 1363,1228ZM1320,1172 1329,1174 1330,1173 1331,1168 1326,1164 1319,1165 1318,1169ZM1329,1185 1330,1186 1333,1187 1338,1184 1339,1183 1338,1178 1333,1177 1331,1177ZM1233,1238 1234,1237 1229,1229 1222,1230 1222,1231 1224,1240 1227,1241ZM1388,1205 1383,1197 1378,1196 1377,1197 1375,1203 1378,1208 1386,1207ZM1246,1255 1243,1248 1241,1247 1233,1255 1233,1256 1233,1258 1238,1261 1244,1258ZM1344,1166 1345,1166 1349,1157 1349,1154 1348,1153 1341,1154 1339,1156 1340,1164ZM1219,1175 1218,1176 1217,1183 1223,1189 1224,1189 1226,1188 1227,1179 1224,1176ZM1299,1162 1300,1161 1299,1158 1294,1155 1287,1158 1287,1159 1287,1162 1292,1165ZM1375,1196 1376,1195 1376,1194 1375,1187 1370,1184 1365,1187 1367,1193ZM1392,1189 1392,1191 1395,1192 1402,1191 1402,1190 1400,1181 1399,1180 1398,1181ZM1213,1242 1221,1240 1222,1239 1220,1231 1220,1230 1218,1230 1210,1233 1210,1239ZM1361,1162 1364,1161 1365,1159 1359,1151 1358,1151 1351,1153 1351,1155 1351,1157ZM1222,1281 1221,1282 1220,1289 1221,1291 1226,1292 1227,1292 1231,1287 1231,1286 1224,1281ZM1393,1201 1394,1200 1394,1194 1392,1192 1390,1192 1385,1196 1385,1197 1389,1203ZM1204,1194 1206,1194 1209,1191 1209,1187 1209,1186 1203,1183 1202,1185 1201,1191 1202,1192ZM1383,1149 1382,1149 1374,1151 1373,1151 1373,1155 1381,1160 1385,1160 1387,1157ZM1211,1285 1215,1288 1218,1288 1220,1281 1218,1279 1211,1280ZM1190,1194 1181,1194 1178,1200 1179,1201 1181,1203 1191,1201 1191,1196ZM1193,1200 1194,1201 1203,1203 1204,1201 1204,1196 1200,1193 1193,1196ZM1184,1214 1185,1215 1187,1216 1191,1212 1191,1205 1190,1204 1183,1204 1182,1205ZM1208,1172 1209,1173 1216,1174 1217,1173 1216,1163 1207,1162 1206,1163 1205,1164ZM1187,1229 1187,1231 1188,1232 1194,1235 1195,1234 1198,1230 1196,1227 1191,1226 1190,1226ZM1175,1156 1174,1165 1175,1165 1185,1164 1185,1162 1183,1157 1176,1155ZM1432,1185 1433,1187 1437,1189 1440,1186 1439,1181 1437,1180 1436,1180ZM1241,1156 1242,1156 1247,1154 1248,1152 1245,1149 1243,1149 1239,1152ZM1172,1168 1171,1167 1169,1168 1164,1173 1164,1178 1165,1179 1172,1179 1173,1179 1175,1175Z" fill="rgb(246,246,246)"/>
<path d="M1146,1199 1146,1201 1148,1205 1153,1203 1154,1202 1151,1198ZM1149,1206 1148,1208 1149,1211 1150,1212 1157,1209 1157,1205 1155,1204ZM1191,1242 1191,1243 1193,1246 1199,1243 1195,1238 1194,1239ZM1199,1268 1198,1270 1200,1273 1206,1272 1207,1270 1206,1267ZM1276,1274 1275,1275 1272,1278 1276,1280 1277,1280 1278,1276ZM1276,1266 1274,1267 1276,1272 1278,1273 1279,1273 1281,1270 1281,1268ZM1291,1241 1294,1242 1296,1239 1296,1238 1295,1238 1291,1238 1290,1239ZM1306,1261 1305,1262 1307,1266 1308,1266 1312,1263 1312,1259 1312,1258 1310,1258ZM1381,1281 1384,1284 1385,1284 1387,1281 1387,1279 1384,1278 1381,1279 1380,1280ZM1387,1267 1387,1269 1391,1271 1392,1270 1394,1266 1393,1265 1390,1265ZM1387,1248 1387,1250 1393,1248 1393,1247 1392,1244 1391,1243 1388,1244ZM1386,1236 1385,1237 1384,1238 1387,1242 1388,1242 1391,1241 1392,1240 1391,1237ZM1412,1219 1411,1221 1412,1224 1413,1224 1417,1223 1417,1222 1416,1219ZM1435,1201 1433,1201 1433,1205 1433,1206 1436,1207 1437,1207 1439,1203 1438,1202ZM1422,1147 1424,1150 1425,1150 1429,1147 1429,1145 1424,1143 1423,1144ZM1376,1128 1374,1130 1375,1136 1376,1137 1379,1136 1380,1135 1380,1129 1379,1129ZM1354,1133 1353,1135 1354,1138 1356,1139 1359,1135 1359,1134 1357,1132ZM1334,1136 1332,1137 1332,1143 1332,1144 1335,1145 1338,1141 1338,1137 1337,1136ZM1319,1134 1318,1135 1318,1141 1319,1142 1322,1141 1323,1140 1323,1135 1322,1134ZM1272,1153 1273,1154 1277,1153 1279,1148 1279,1147 1275,1146 1274,1146ZM1246,1144 1244,1145 1245,1147 1247,1149 1249,1150 1250,1147 1250,1144 1249,1144ZM1195,1143 1196,1144 1200,1142 1201,1140 1200,1139 1195,1138 1195,1139ZM1165,1146 1163,1146 1160,1149 1160,1150 1164,1153 1167,1152 1168,1151ZM1327,1237 1324,1231 1316,1232 1315,1233 1316,1242 1317,1243 1325,1243ZM1337,1266 1336,1267 1337,1276 1345,1278 1346,1277 1347,1271 1342,1265ZM1336,1247 1337,1247 1338,1246 1339,1237 1338,1236 1329,1237 1328,1242ZM1357,1269 1349,1272 1348,1276 1349,1277 1358,1279 1360,1279 1360,1271ZM1244,1244 1244,1246 1248,1253 1254,1252 1256,1247 1256,1246 1250,1242ZM1266,1197 1266,1198 1270,1201 1278,1201 1280,1198 1278,1191 1270,1190 1268,1191ZM1343,1235 1341,1235 1341,1236 1340,1248 1345,1250 1350,1243 1350,1242ZM1280,1177 1273,1178 1271,1187 1271,1188 1278,1189 1283,1183 1283,1180ZM1334,1208 1333,1208 1332,1208 1325,1213 1324,1217 1328,1222 1335,1221 1336,1220ZM1366,1257 1367,1257 1368,1255 1367,1247 1366,1246 1361,1248 1359,1253 1360,1255ZM1345,1286 1346,1281 1345,1279 1337,1278 1334,1281 1337,1286 1343,1287ZM1349,1279 1347,1280 1347,1286 1350,1288 1356,1288 1358,1282 1357,1281ZM1286,1184 1284,1184 1279,1190 1282,1197 1290,1197 1291,1196 1291,1187ZM1344,1230 1343,1233 1343,1234 1352,1241 1353,1241 1357,1235 1357,1233 1348,1229ZM1292,1196 1294,1197 1304,1195 1305,1194 1303,1189 1296,1186 1293,1187 1293,1188ZM1268,1175 1259,1180 1259,1181 1267,1188 1269,1188 1271,1178 1271,1177ZM1374,1269 1375,1269 1378,1266 1378,1261 1376,1257 1369,1257 1368,1259 1368,1266ZM1299,1175 1306,1174 1307,1172 1301,1164 1300,1163 1294,1167 1293,1168 1293,1170ZM1235,1236 1236,1236 1237,1236 1244,1228 1244,1226 1242,1225 1232,1226 1231,1226 1231,1228ZM1303,1161 1303,1162 1309,1170 1316,1168 1317,1164 1313,1156 1311,1156ZM1265,1167 1256,1169 1256,1170 1259,1177 1260,1177 1268,1174 1267,1169ZM1353,1201 1352,1200 1347,1200 1345,1207 1346,1210 1348,1210 1353,1208ZM1388,1220 1389,1221 1395,1220 1398,1218 1398,1214 1397,1213 1390,1213 1388,1219ZM1256,1181 1257,1178 1254,1169 1253,1168 1249,1169 1245,1175 1245,1176 1254,1181ZM1214,1252 1215,1253 1216,1254 1226,1249 1226,1243 1222,1242 1215,1244ZM1385,1218 1386,1217 1388,1212 1387,1209 1386,1209 1378,1210 1378,1212 1381,1217ZM1403,1201 1404,1200 1403,1194 1402,1193 1396,1194 1396,1195 1396,1200 1399,1202ZM1233,1259 1231,1259 1224,1265 1224,1266 1230,1272 1235,1271 1237,1270 1237,1262ZM1319,1150 1320,1151 1326,1152 1328,1146 1328,1145 1324,1143 1321,1144 1320,1145ZM1203,1244 1202,1245 1203,1252 1211,1253 1212,1252 1212,1243 1209,1241ZM1365,1204 1366,1205 1373,1203 1374,1199 1374,1197 1367,1195 1365,1196 1362,1199ZM1386,1177 1383,1178 1383,1181 1390,1187 1391,1187 1395,1181 1395,1180 1395,1179ZM1237,1199 1238,1199 1245,1191 1245,1190 1239,1187 1233,1191ZM1210,1184 1215,1182 1216,1177 1216,1176 1208,1175 1204,1178 1204,1181ZM1268,1155 1268,1153 1265,1150 1260,1151 1259,1154 1259,1156 1264,1158ZM1425,1193 1426,1192 1429,1188 1429,1186 1424,1182 1423,1182 1418,1189ZM1401,1162 1401,1161 1401,1159 1394,1156 1389,1158 1387,1161 1390,1165 1394,1166ZM1230,1153 1229,1154 1230,1161 1232,1163 1234,1164 1239,1161 1240,1158 1237,1152ZM1394,1144 1395,1143 1393,1138 1387,1138 1385,1140 1386,1143ZM1372,1151 1369,1143 1368,1143 1361,1146 1360,1146 1360,1149 1366,1157 1370,1155ZM1416,1190 1415,1191 1414,1192 1416,1202 1417,1202 1422,1201 1425,1196 1425,1195ZM1199,1229 1206,1230 1207,1230 1206,1218 1206,1217 1204,1216 1203,1217 1198,1225 1198,1226ZM1206,1203 1205,1205 1204,1214 1205,1215 1207,1216 1214,1209 1214,1208 1214,1204ZM1195,1225 1196,1224 1201,1216 1193,1214 1189,1216 1189,1218 1191,1224ZM1189,1184 1188,1183 1187,1183 1179,1187 1179,1188 1181,1192 1189,1192 1189,1191ZM1179,1218 1179,1220 1181,1228 1182,1229 1185,1229 1189,1224 1187,1218 1183,1217ZM1210,1278 1211,1278 1217,1277 1217,1276 1217,1271 1216,1271 1209,1270 1208,1273ZM1413,1209 1411,1209 1408,1213 1410,1217 1415,1217 1417,1215 1417,1213ZM1177,1176 1176,1177 1174,1180 1177,1185 1178,1185 1187,1181 1187,1177 1187,1176ZM1171,1211 1175,1217 1178,1217 1182,1215 1180,1205 1177,1203 1174,1203ZM1169,1211 1170,1210 1172,1203 1168,1200 1166,1200 1159,1205 1159,1209 1162,1212ZM1202,1177 1204,1176 1206,1174 1204,1165 1203,1164 1200,1165 1197,1172ZM1162,1162 1160,1162 1156,1165 1156,1168 1157,1170 1162,1172 1166,1167 1167,1166Z" fill="rgb(234,234,234)"/>
<path d="M1155,1220 1155,1221 1157,1224 1159,1224 1162,1221 1161,1218 1160,1217ZM1189,1241 1193,1237 1192,1236 1188,1234 1187,1235 1186,1239ZM1195,1247 1194,1249 1195,1252 1200,1251 1201,1251 1200,1245ZM1198,1261 1197,1262 1198,1266 1199,1266 1204,1265 1204,1263 1201,1261ZM1218,1298 1219,1300 1222,1301 1223,1301 1225,1295 1225,1294 1222,1293 1221,1293ZM1240,1302 1241,1303 1245,1303 1246,1303 1245,1297 1245,1296 1242,1295 1240,1296ZM1260,1294 1262,1298 1263,1298 1267,1295 1266,1294 1262,1290 1260,1291ZM1270,1279 1267,1279 1266,1281 1266,1283 1272,1287 1273,1287 1275,1283 1275,1282ZM1300,1247 1299,1249 1301,1252 1302,1252 1304,1251 1305,1250 1303,1246 1302,1246ZM1303,1259 1305,1259 1311,1256 1311,1255 1306,1253 1303,1254 1302,1256ZM1313,1273 1312,1275 1314,1278 1315,1278 1321,1274 1322,1273 1319,1270ZM1335,1287 1332,1284 1331,1284 1328,1289 1329,1290 1333,1292 1334,1291ZM1335,1292 1336,1294 1340,1295 1341,1294 1342,1289 1341,1288 1337,1288ZM1355,1291 1354,1290 1350,1290 1350,1295 1350,1296 1354,1297 1355,1296ZM1359,1289 1358,1290 1357,1291 1358,1296 1359,1296 1363,1296 1363,1295 1362,1291ZM1427,1211 1425,1212 1423,1214 1425,1218 1426,1219 1431,1216 1430,1215ZM1432,1207 1428,1210 1429,1211 1432,1214 1433,1213 1435,1210 1435,1209ZM1437,1173 1437,1174 1439,1174 1444,1172 1444,1170 1442,1167 1441,1167 1438,1169ZM1429,1157 1428,1159 1430,1162 1431,1162 1437,1159 1438,1158 1436,1154 1435,1154ZM1426,1155 1427,1156 1428,1156 1434,1152 1434,1151 1432,1148 1430,1148 1426,1152ZM1341,1136 1340,1137 1340,1141 1341,1141 1345,1141 1345,1140 1345,1137ZM1305,1141 1305,1143 1308,1146 1309,1145 1311,1142 1308,1139 1307,1139ZM1202,1141 1205,1145 1206,1145 1207,1144 1208,1141 1207,1140 1203,1139ZM1192,1148 1193,1146 1193,1138 1192,1138 1188,1138 1187,1139 1188,1146 1189,1147ZM1174,1141 1173,1142 1175,1147 1176,1147 1179,1145 1179,1144 1178,1140 1177,1140ZM1315,1257 1314,1258 1314,1264 1318,1268 1319,1268 1320,1267 1322,1259 1322,1258ZM1275,1224 1276,1225 1277,1225 1283,1220 1281,1213 1280,1212 1274,1216ZM1327,1244 1326,1244 1326,1245 1326,1256 1327,1257 1330,1258 1336,1250 1336,1248ZM1339,1234 1341,1233 1342,1230 1337,1223 1335,1223 1328,1224 1326,1230 1329,1235ZM1335,1264 1336,1264 1342,1263 1346,1256 1345,1252 1339,1250 1338,1250 1332,1259ZM1294,1205 1295,1206 1301,1208 1303,1208 1305,1199 1305,1198 1304,1197 1294,1199 1294,1200ZM1254,1219 1252,1220 1248,1226 1248,1227 1253,1231 1259,1230 1261,1225 1260,1223ZM1312,1210 1312,1211 1315,1217 1322,1217 1323,1212 1318,1206 1316,1206ZM1262,1275 1263,1276 1264,1275 1267,1267 1267,1266 1260,1263 1256,1267 1256,1268ZM1253,1266 1254,1266 1259,1261 1258,1259 1254,1254 1248,1255 1247,1258 1247,1259ZM1361,1234 1359,1234 1356,1242 1360,1246 1368,1244 1370,1242 1369,1240ZM1235,1214 1231,1220 1231,1223 1232,1224 1240,1223 1241,1222 1239,1214 1238,1213ZM1270,1255 1268,1254 1261,1259 1260,1261 1268,1265 1271,1265 1272,1264 1272,1260ZM1303,1187 1304,1186 1308,1181 1307,1177 1306,1176 1300,1177 1297,1183 1298,1185ZM1298,1177 1297,1176 1293,1172 1292,1172 1285,1178 1285,1180 1286,1182 1292,1185 1295,1184ZM1239,1262 1238,1263 1238,1270 1239,1271 1247,1272 1251,1268 1251,1267 1245,1260ZM1345,1214 1346,1211 1343,1209 1337,1208 1336,1209 1337,1218 1338,1218 1339,1218ZM1221,1196 1221,1198 1227,1203 1234,1199 1235,1198 1231,1191 1227,1190 1224,1192ZM1371,1284 1372,1285 1376,1286 1379,1282 1378,1279 1376,1277 1374,1277 1370,1282ZM1399,1211 1401,1213 1406,1212 1410,1207 1410,1206 1404,1203 1401,1204 1400,1205ZM1325,1162 1328,1157 1326,1154 1318,1153 1316,1155 1315,1157 1319,1163ZM1210,1218 1209,1218 1208,1220 1209,1229 1210,1231 1217,1228 1217,1227 1217,1221ZM1332,1174 1333,1175 1339,1176 1345,1172 1345,1170 1344,1168 1339,1166 1333,1169ZM1230,1225 1229,1221 1222,1219 1221,1219 1219,1221 1219,1227 1221,1229 1229,1227ZM1390,1210 1397,1211 1398,1210 1398,1204 1395,1202 1390,1205 1389,1208ZM1249,1155 1248,1155 1242,1158 1241,1160 1242,1162 1248,1167 1252,1166 1253,1159 1253,1157ZM1413,1203 1412,1192 1411,1192 1406,1193 1405,1201 1411,1205ZM1254,1287 1259,1289 1261,1289 1264,1284 1264,1279 1262,1278 1254,1283 1253,1284ZM1378,1194 1379,1195 1384,1195 1389,1191 1390,1189 1383,1183 1381,1183 1377,1186ZM1221,1199 1219,1199 1215,1204 1216,1208 1221,1211 1226,1208 1226,1205ZM1240,1273 1238,1274 1238,1283 1239,1284 1241,1285 1249,1282 1249,1281 1247,1274ZM1338,1165 1338,1163 1337,1158 1336,1157 1330,1158 1329,1159 1328,1162 1332,1166 1333,1167ZM1368,1175 1372,1172 1373,1171 1365,1163 1364,1163 1362,1164 1360,1171 1361,1173ZM1348,1151 1349,1152 1350,1152 1357,1149 1359,1146 1358,1145 1355,1142 1349,1144 1349,1145ZM1387,1259 1386,1259 1381,1262 1380,1266 1384,1268 1388,1264 1389,1263ZM1211,1193 1210,1193 1206,1196 1206,1201 1207,1202 1214,1202 1217,1198 1218,1197ZM1413,1205 1413,1207 1419,1213 1422,1212 1425,1209 1422,1203 1416,1204ZM1265,1276 1266,1277 1269,1277 1274,1273 1274,1272 1272,1267 1270,1267 1269,1267ZM1374,1169 1376,1169 1380,1162 1379,1161 1371,1157 1367,1159 1366,1161ZM1432,1198 1433,1198 1437,1193 1436,1190 1431,1188 1430,1189 1427,1195 1428,1196ZM1408,1170 1409,1171 1414,1174 1415,1173 1418,1168 1414,1163 1408,1165ZM1414,1186 1415,1187 1416,1187 1421,1181 1421,1179 1416,1176 1414,1176 1412,1182ZM1187,1163 1186,1165 1189,1172 1190,1173 1195,1171 1199,1164 1198,1163 1195,1161ZM1416,1161 1419,1167 1420,1168 1425,1167 1428,1162 1426,1159 1425,1158 1417,1160ZM1176,1201 1177,1200 1179,1193 1177,1189 1176,1188 1168,1193 1167,1195 1168,1198 1173,1201ZM1426,1174 1427,1172 1425,1169 1420,1169 1419,1170 1417,1174 1422,1178 1423,1178ZM1154,1193 1153,1197 1156,1202 1157,1203 1158,1203 1166,1198 1165,1194 1161,1190Z" fill="rgb(228,228,228)"/>
<path d="M1165,1231 1165,1232 1169,1235 1170,1234 1172,1230 1170,1227 1168,1227ZM1179,1236 1180,1238 1184,1238 1186,1233 1185,1231 1180,1230ZM1206,1289 1206,1291 1209,1294 1210,1294 1213,1290 1212,1289 1210,1287ZM1255,1301 1256,1302 1259,1301 1260,1300 1260,1299 1259,1297 1258,1297 1255,1299ZM1267,1293 1269,1292 1271,1289 1271,1288 1266,1285 1265,1286 1264,1289ZM1279,1260 1274,1261 1274,1263 1275,1264 1281,1266 1282,1266 1283,1262 1282,1261ZM1317,1279 1317,1281 1319,1284 1321,1284 1325,1279 1323,1276 1322,1276ZM1343,1294 1343,1296 1347,1296 1348,1296 1349,1290 1348,1289 1346,1287 1344,1288ZM1386,1276 1388,1277 1389,1277 1391,1274 1391,1273 1387,1271 1386,1271ZM1390,1258 1389,1259 1391,1263 1393,1264 1394,1263 1395,1258 1394,1258ZM1388,1255 1389,1256 1394,1256 1395,1255 1394,1251 1392,1250 1388,1251ZM1397,1221 1396,1222 1398,1226 1401,1226 1402,1226 1402,1222 1399,1220 1398,1220ZM1422,1215 1421,1214 1419,1215 1417,1217 1419,1221 1419,1222 1423,1221 1424,1220ZM1444,1187 1446,1186 1447,1182 1446,1181 1442,1181 1441,1183 1442,1186ZM1434,1162 1434,1164 1437,1167 1441,1165 1441,1164 1439,1161 1438,1161ZM1388,1134 1389,1136 1393,1136 1394,1135 1395,1133 1394,1132 1390,1131 1389,1132ZM1347,1141 1348,1142 1353,1140 1353,1139 1351,1135 1350,1135 1347,1136ZM1325,1141 1329,1143 1330,1142 1331,1136 1330,1135 1326,1135 1325,1136ZM1313,1141 1315,1141 1317,1141 1316,1135 1315,1134 1314,1135 1310,1137 1310,1138ZM1266,1148 1269,1152 1270,1152 1271,1151 1272,1146 1271,1145 1267,1144 1267,1145ZM1257,1144 1256,1143 1252,1143 1252,1147 1257,1148 1257,1146ZM1227,1152 1228,1151 1228,1145 1224,1145 1223,1145 1222,1151ZM1181,1144 1182,1145 1186,1145 1185,1139 1184,1138 1180,1139 1180,1140ZM1155,1154 1155,1156 1159,1159 1161,1159 1162,1155 1159,1151 1158,1151ZM1145,1174 1146,1176 1150,1176 1151,1176 1152,1172 1151,1171 1146,1170 1145,1171ZM1292,1220 1293,1218 1290,1211 1289,1211 1283,1212 1283,1213 1285,1220 1290,1221ZM1302,1222 1302,1221 1301,1220 1294,1221 1292,1223 1292,1227 1299,1231 1300,1230ZM1302,1231 1303,1232 1304,1233 1312,1231 1313,1230 1311,1222 1305,1222 1304,1222ZM1304,1234 1303,1236 1306,1242 1314,1243 1314,1242 1313,1233 1312,1233ZM1317,1244 1315,1245 1314,1254 1315,1255 1323,1257 1324,1255 1324,1245 1323,1245ZM1284,1233 1286,1233 1290,1228 1290,1224 1289,1223 1284,1222 1278,1226 1279,1227ZM1325,1273 1324,1275 1326,1278 1331,1280 1332,1280 1336,1276 1335,1270 1334,1269ZM1270,1239 1267,1240 1265,1244 1269,1251 1270,1252 1276,1248 1276,1247 1275,1242ZM1263,1224 1264,1224 1273,1225 1274,1224 1272,1215 1268,1214 1267,1214 1263,1222ZM1268,1211 1269,1212 1272,1214 1280,1210 1280,1209 1278,1203 1270,1203ZM1282,1241 1281,1240 1278,1242 1278,1247 1279,1248 1280,1248 1284,1246ZM1247,1228 1245,1229 1238,1238 1238,1239 1242,1243 1250,1239 1252,1233ZM1354,1259 1353,1258 1348,1257 1344,1263 1344,1265 1349,1270 1355,1268 1356,1267ZM1308,1200 1307,1200 1307,1200 1305,1208 1306,1209 1311,1210 1314,1206 1314,1204ZM1348,1255 1354,1257 1357,1255 1359,1248 1358,1247 1354,1243 1352,1244 1346,1251ZM1309,1196 1308,1197 1309,1198 1316,1203 1317,1203 1322,1197 1321,1196 1316,1193ZM1323,1210 1325,1210 1331,1206 1332,1205 1331,1203 1324,1198 1323,1199 1319,1204ZM1314,1191 1315,1190 1315,1185 1309,1183 1305,1188 1306,1193 1308,1194ZM1327,1188 1326,1186 1320,1183 1317,1185 1317,1191 1322,1194 1323,1193ZM1240,1202 1249,1203 1250,1203 1250,1192 1249,1192 1247,1192 1240,1200ZM1279,1166 1278,1165 1275,1164 1270,1168 1269,1169 1270,1174 1273,1176 1278,1175 1279,1174ZM1382,1232 1377,1230 1376,1230 1371,1239 1372,1241 1375,1243 1382,1238 1383,1236ZM1373,1225 1375,1224 1379,1218 1377,1214 1376,1213 1370,1217 1371,1223ZM1354,1185 1357,1183 1359,1174 1358,1172 1357,1171 1347,1171 1347,1173 1352,1184ZM1362,1214 1361,1214 1358,1219 1363,1226 1368,1224 1369,1223 1368,1217ZM1369,1245 1370,1255 1371,1255 1375,1255 1378,1250 1378,1249 1374,1244 1371,1243ZM1386,1226 1387,1222 1386,1221 1381,1219 1380,1220 1376,1226 1377,1228 1382,1229ZM1249,1272 1249,1274 1251,1282 1252,1282 1260,1277 1260,1276 1254,1269 1253,1269ZM1356,1199 1355,1200 1356,1208 1360,1211 1361,1211 1364,1206 1364,1205 1360,1199ZM1380,1268 1379,1268 1376,1271 1376,1275 1379,1277 1383,1276 1384,1275 1384,1270ZM1309,1148 1312,1154 1314,1154 1317,1151 1318,1144 1317,1143 1313,1143ZM1364,1194 1365,1193 1363,1187 1358,1185 1355,1186 1356,1196 1356,1197 1361,1197ZM1234,1168 1233,1167 1232,1167 1226,1174 1226,1176 1228,1178 1236,1177 1237,1177 1237,1176ZM1346,1151 1347,1150 1347,1144 1346,1143 1339,1143 1337,1145 1337,1147 1340,1152ZM1395,1169 1391,1167 1390,1167 1387,1175 1388,1176 1397,1178 1398,1177ZM1251,1283 1242,1286 1241,1287 1243,1293 1246,1294 1249,1293 1253,1288ZM1349,1185 1350,1183 1346,1175 1344,1175 1340,1178 1341,1184 1346,1186ZM1407,1214 1406,1214 1400,1214 1400,1217 1403,1220 1404,1221 1408,1219ZM1219,1172 1220,1173 1224,1174 1231,1166 1231,1164 1229,1163 1218,1164 1218,1165ZM1217,1219 1218,1219 1221,1217 1221,1213 1220,1212 1216,1210 1211,1215 1210,1216 1211,1217ZM1359,1144 1361,1144 1367,1141 1368,1140 1366,1138 1360,1136 1357,1141ZM1201,1242 1202,1242 1208,1239 1207,1232 1200,1231 1199,1232 1196,1236ZM1238,1285 1232,1287 1230,1292 1232,1295 1239,1295 1241,1293 1240,1287ZM1231,1190 1238,1185 1239,1180 1238,1179 1230,1179 1229,1180 1228,1188ZM1185,1166 1184,1166 1175,1167 1174,1168 1176,1174 1186,1174 1187,1174ZM1424,1179 1425,1181 1429,1184 1431,1184 1435,1178 1436,1177 1435,1176 1428,1174ZM1430,1206 1431,1205 1431,1200 1427,1198 1424,1202 1423,1203 1426,1208 1427,1208ZM1162,1183 1162,1188 1166,1192 1175,1187 1175,1186 1173,1182 1172,1181 1165,1181ZM1414,1152 1416,1157 1417,1158 1424,1156 1424,1156 1424,1152 1421,1149 1415,1150ZM1392,1154 1395,1147 1394,1146 1385,1145 1384,1147 1388,1155 1389,1156ZM1428,1172 1434,1174 1435,1173 1436,1169 1431,1164 1429,1164 1427,1168ZM1193,1150 1189,1149 1185,1155 1187,1161 1188,1161 1194,1159 1194,1151ZM1256,1155 1258,1151 1257,1150 1252,1149 1250,1152 1250,1154 1254,1156ZM1218,1160 1218,1161 1219,1162 1228,1161 1228,1160 1227,1154 1222,1153 1220,1153ZM1196,1159 1200,1163 1204,1162 1205,1160 1205,1153 1204,1152 1196,1152 1196,1153ZM1173,1154 1169,1153 1165,1155 1163,1159 1163,1161 1168,1165 1172,1165Z" fill="rgb(240,240,240)"/>
</g>
<path d="M1132,1241 1132,1308 1196,1308 1196,1300 1181,1285 1159,1275 1145,1250Z" fill="#8a868a" opacity="0.85" filter="url(#b06)"/>
<g filter="url(#b06)">
<path d="M1138,1254 1140,1251 1141,1250 1136,1247 1135,1247 1134,1248 1135,1253ZM1175,1300 1174,1299 1170,1300 1170,1304 1171,1305 1175,1305 1175,1304ZM1167,1283 1166,1281 1162,1280 1160,1285 1160,1286 1163,1288 1164,1288ZM1169,1298 1175,1297 1176,1295 1172,1291 1167,1292 1166,1293 1166,1295Z" fill="rgb(222,222,222)"/>
<path d="M1138,1256 1137,1255 1135,1256 1134,1260 1135,1261 1139,1261 1140,1260ZM1139,1275 1141,1274 1139,1270 1135,1270 1134,1271 1135,1275 1136,1275ZM1140,1297 1141,1296 1142,1293 1141,1292 1135,1292 1134,1293 1135,1297 1136,1297ZM1147,1266 1147,1268 1149,1271 1150,1271 1152,1270 1152,1269 1150,1265Z" fill="rgb(240,240,240)"/>
<path d="M1139,1268 1141,1266 1140,1263 1139,1263 1135,1263 1134,1264 1135,1268 1136,1268ZM1163,1304 1164,1305 1168,1305 1168,1304 1168,1300 1164,1297 1163,1298ZM1182,1298 1183,1297 1185,1295 1185,1293 1182,1291 1181,1291 1178,1295 1179,1297ZM1166,1288 1167,1290 1172,1289 1173,1286 1173,1285 1170,1283 1169,1283Z" fill="rgb(246,246,246)"/>
<path d="M1139,1283 1141,1282 1141,1278 1140,1277 1135,1277 1134,1278 1135,1282 1136,1283ZM1143,1299 1142,1300 1141,1304 1142,1305 1146,1305 1146,1304 1146,1301ZM1154,1299 1152,1298 1149,1301 1148,1304 1149,1305 1153,1305 1154,1304ZM1186,1302 1184,1303 1185,1305 1192,1305 1193,1304 1192,1302ZM1176,1293 1178,1293 1180,1289 1179,1287 1176,1286 1175,1287 1174,1290ZM1149,1273 1148,1275 1151,1279 1153,1278 1156,1276 1154,1272 1153,1272ZM1144,1253 1142,1252 1140,1255 1141,1258 1142,1259 1145,1257 1146,1256ZM1159,1287 1153,1287 1151,1289 1155,1296 1161,1296 1164,1294 1164,1291Z" fill="rgb(234,234,234)"/>
<path d="M1142,1290 1144,1288 1141,1285 1136,1284 1135,1285 1134,1289 1135,1290ZM1136,1299 1134,1300 1135,1304 1136,1305 1139,1305 1139,1304 1140,1300 1139,1299ZM1155,1304 1157,1305 1161,1304 1161,1299 1160,1298 1157,1298 1156,1299ZM1179,1298 1178,1299 1177,1300 1177,1304 1178,1305 1182,1305 1183,1304 1182,1300ZM1185,1298 1184,1299 1186,1300 1189,1300 1190,1299 1188,1296ZM1153,1280 1153,1285 1154,1286 1157,1285 1158,1285 1160,1279 1160,1278 1157,1277ZM1142,1261 1142,1262 1144,1265 1146,1265 1149,1263 1149,1262 1147,1259 1146,1259ZM1144,1277 1143,1278 1143,1284 1146,1288 1150,1287 1151,1286 1151,1280 1147,1276ZM1143,1267 1142,1267 1141,1269 1142,1274 1143,1275 1146,1275 1147,1274 1147,1272 1145,1268ZM1150,1290 1149,1289 1146,1289 1144,1291 1143,1296 1143,1297 1147,1299 1151,1296 1152,1295Z" fill="rgb(228,228,228)"/>
</g>
<ellipse cx="1197.3" cy="1190.8" rx="33.6" ry="33.6" fill="url(#gP)" opacity="0.85" style="mix-blend-mode:multiply"/>
<ellipse cx="1385.8" cy="1185.7" rx="42.1" ry="37.0" fill="url(#gP)" opacity="0.85" style="mix-blend-mode:multiply"/>
<ellipse cx="1236.0" cy="1259.7" rx="28.6" ry="26.9" fill="url(#gP)" opacity="0.80" style="mix-blend-mode:multiply"/>
<ellipse cx="1355.5" cy="1258.0" rx="35.3" ry="28.6" fill="url(#gP)" opacity="0.80" style="mix-blend-mode:multiply"/>
<ellipse cx="1289.9" cy="1189.1" rx="18.5" ry="18.5" fill="url(#gP)" opacity="0.40" style="mix-blend-mode:multiply"/>
<ellipse cx="1160.3" cy="1301.8" rx="21.9" ry="11.8" fill="url(#gP)" opacity="0.75" style="mix-blend-mode:multiply"/>
<ellipse cx="1145.2" cy="1267.3" rx="4.2" ry="5.0" fill="#111" opacity="1.00" filter="url(#b06)"/>
<rect x="1435.0" y="1242.0" width="8.0" height="57.3" fill="#000"/>
</g>
<clipPath id="crI2"><rect x="1465.2" y="1121.9" width="287.2" height="185.5"/></clipPath>
<g clip-path="url(#crI2)">
<rect x="1465.2" y="1121.9" width="287.2" height="185.5" fill="#e9efed"/>
<path d="M1479,1199 1479,1201 1479,1204 1479,1206 1479,1209 1479,1211 1479,1214 1480,1217 1480,1220 1480,1223 1481,1226 1481,1229 1482,1232 1483,1235 1484,1238 1486,1241 1487,1244 1488,1248 1490,1251 1491,1255 1492,1258 1493,1262 1494,1266 1496,1270 1497,1273 1499,1276 1501,1279 1502,1282 1504,1284 1507,1286 1509,1288 1512,1290 1514,1291 1517,1292 1520,1293 1524,1294 1527,1294 1530,1294 1534,1294 1538,1293 1541,1293 1545,1292 1549,1291 1553,1290 1556,1289 1560,1288 1564,1287 1568,1286 1571,1285 1575,1284 1579,1283 1583,1281 1587,1280 1590,1279 1594,1278 1596,1277 1599,1276 1601,1275 1603,1275 1606,1275 1608,1275 1612,1275 1615,1276 1619,1277 1623,1278 1627,1280 1631,1281 1634,1282 1638,1283 1642,1284 1646,1286 1649,1287 1653,1288 1657,1289 1660,1291 1664,1292 1668,1293 1672,1294 1675,1294 1679,1294 1683,1294 1687,1293 1690,1293 1694,1292 1697,1291 1701,1290 1704,1289 1707,1288 1710,1287 1713,1285 1715,1284 1718,1282 1719,1280 1721,1277 1723,1275 1724,1273 1726,1270 1727,1268 1728,1266 1729,1263 1730,1261 1731,1258 1732,1255 1732,1253 1733,1250 1734,1247 1735,1245 1735,1242 1736,1239 1737,1236 1737,1233 1738,1230 1739,1227 1739,1224 1739,1221 1739,1218 1739,1215 1738,1212 1738,1208 1737,1205 1736,1202 1735,1199 1734,1196 1732,1193 1731,1190 1729,1187 1727,1184 1725,1182 1724,1179 1722,1177 1720,1174 1717,1172 1715,1169 1713,1167 1711,1165 1708,1163 1706,1160 1703,1158 1700,1156 1698,1154 1695,1152 1692,1150 1689,1148 1686,1146 1683,1144 1679,1142 1676,1141 1672,1139 1668,1138 1664,1136 1660,1135 1657,1134 1653,1134 1650,1133 1646,1133 1642,1133 1638,1132 1634,1132 1629,1132 1624,1131 1619,1131 1613,1131 1608,1131 1603,1131 1598,1130 1593,1130 1588,1130 1584,1130 1579,1131 1574,1132 1569,1133 1565,1134 1560,1135 1556,1137 1552,1138 1549,1140 1545,1141 1542,1142 1540,1144 1537,1146 1534,1147 1532,1149 1529,1151 1527,1152 1524,1154 1522,1156 1519,1157 1517,1159 1514,1161 1512,1162 1509,1164 1507,1165 1505,1166 1502,1168 1499,1169 1497,1170 1494,1171 1492,1172 1490,1174 1488,1175 1486,1177 1485,1179 1484,1180 1483,1182 1482,1184 1481,1186 1481,1189 1480,1191 1480,1194 1480,1197Z" fill="#7a7a7a" opacity="0.85" filter="url(#b06)"/>
<g filter="url(#b06)">
<path d="M1482,1203 1483,1204 1491,1204 1492,1203 1489,1196 1484,1195 1482,1196ZM1483,1206 1482,1207 1482,1214 1483,1215 1491,1214 1493,1207 1492,1206ZM1490,1245 1492,1246 1498,1243 1498,1242 1495,1236 1494,1235 1488,1238 1488,1239ZM1532,1283 1530,1282 1524,1283 1523,1290 1523,1291 1527,1291 1532,1291 1532,1290ZM1622,1274 1623,1270 1618,1265 1615,1266 1614,1272 1615,1273 1621,1275ZM1683,1283 1682,1282 1681,1282 1675,1286 1674,1290 1675,1291 1683,1291 1684,1290ZM1696,1287 1698,1288 1705,1286 1705,1285 1703,1280 1695,1280 1695,1281ZM1705,1176 1705,1177 1706,1178 1713,1180 1717,1177 1717,1176 1713,1170 1711,1170ZM1701,1166 1702,1174 1704,1175 1710,1169 1710,1168 1704,1163 1703,1163ZM1542,1146 1541,1148 1546,1155 1548,1156 1552,1151 1549,1143 1548,1143ZM1606,1202 1604,1202 1598,1206 1597,1209 1605,1223 1606,1224 1611,1224 1612,1223 1615,1210ZM1656,1205 1660,1194 1654,1185 1653,1184 1643,1197 1647,1204 1654,1205ZM1567,1231 1568,1232 1583,1230 1583,1229 1581,1217 1573,1213 1569,1216ZM1665,1276 1667,1276 1672,1271 1671,1265 1670,1264 1661,1262 1656,1266 1657,1273 1658,1274ZM1660,1246 1659,1248 1661,1260 1671,1263 1674,1259 1672,1247 1668,1245ZM1557,1168 1565,1163 1562,1152 1562,1151 1554,1152 1550,1158 1554,1167ZM1565,1149 1564,1151 1567,1161 1568,1162 1570,1162 1578,1154 1578,1153 1573,1147ZM1637,1176 1638,1175 1637,1164 1637,1164 1634,1163 1621,1172 1620,1176 1621,1177 1632,1180ZM1699,1189 1700,1188 1701,1180 1701,1179 1689,1176 1688,1177 1686,1188 1686,1189ZM1552,1168 1552,1167 1548,1159 1546,1157 1537,1161 1535,1166 1535,1167 1541,1174 1542,1175ZM1530,1227 1529,1228 1530,1229 1544,1233 1549,1227 1549,1221 1541,1215 1538,1216ZM1685,1260 1675,1261 1673,1265 1674,1270 1684,1275 1687,1274 1689,1270ZM1684,1192 1683,1194 1689,1202 1701,1202 1702,1202 1703,1194 1700,1190 1685,1191ZM1673,1165 1674,1164 1679,1158 1673,1152 1672,1151 1668,1153 1664,1161 1665,1162ZM1718,1246 1717,1243 1710,1234 1705,1235 1702,1238 1703,1249 1703,1250 1716,1247ZM1501,1226 1500,1227 1497,1234 1500,1243 1504,1245 1510,1241 1510,1234 1504,1226Z" fill="rgb(246,246,246)"/>
<path d="M1483,1217 1482,1218 1483,1225 1484,1226 1494,1224 1495,1223 1495,1222 1491,1216ZM1512,1285 1512,1287 1513,1287 1520,1290 1521,1289 1522,1283 1518,1279 1517,1278ZM1545,1288 1546,1289 1553,1287 1553,1286 1552,1280 1550,1279 1544,1282ZM1571,1273 1570,1272 1567,1272 1564,1276 1565,1283 1566,1284 1573,1282 1574,1281ZM1581,1268 1580,1268 1579,1268 1573,1272 1575,1280 1576,1281 1583,1278 1584,1278ZM1668,1280 1667,1280 1666,1280 1664,1288 1665,1289 1672,1291 1673,1290 1673,1286ZM1708,1269 1717,1278 1719,1276 1722,1271 1722,1270 1712,1265 1708,1266ZM1727,1228 1726,1229 1727,1236 1733,1238 1734,1237 1735,1230 1734,1229ZM1715,1181 1714,1182 1715,1189 1716,1190 1717,1190 1724,1185 1724,1184 1719,1178 1718,1178ZM1656,1138 1655,1146 1656,1146 1663,1145 1665,1140 1663,1139 1657,1137ZM1634,1143 1635,1144 1641,1146 1643,1145 1643,1136 1642,1135 1635,1135 1635,1136ZM1614,1140 1615,1142 1622,1141 1622,1135 1621,1134 1614,1134 1614,1135ZM1540,1148 1538,1148 1532,1152 1532,1153 1536,1159 1543,1157 1544,1156ZM1497,1173 1497,1174 1500,1180 1507,1178 1508,1177 1504,1170 1503,1170ZM1483,1192 1484,1193 1490,1194 1494,1189 1494,1188 1487,1184 1485,1184ZM1614,1227 1612,1225 1605,1226 1597,1235 1596,1236 1598,1239 1610,1246 1611,1246 1618,1236ZM1655,1226 1654,1208 1647,1206 1639,1216 1639,1217 1652,1227 1653,1227ZM1651,1183 1651,1182 1651,1181 1640,1178 1635,1181 1634,1182 1638,1194 1640,1195 1642,1195ZM1640,1251 1633,1252 1631,1255 1633,1265 1636,1268 1641,1267 1645,1263 1643,1252ZM1669,1179 1670,1178 1674,1171 1673,1167 1663,1163 1661,1163 1657,1168 1656,1177 1657,1178ZM1534,1168 1533,1167 1528,1168 1521,1175 1520,1178 1527,1182 1540,1178 1540,1176ZM1565,1185 1547,1191 1546,1194 1547,1198 1555,1201 1566,1196 1567,1194 1566,1186ZM1631,1218 1632,1218 1632,1217 1625,1208 1624,1208 1617,1211 1614,1224 1615,1225ZM1586,1170 1586,1169 1585,1156 1580,1155 1572,1162 1572,1164 1581,1173ZM1713,1190 1714,1189 1712,1182 1704,1180 1703,1180 1702,1189 1704,1192 1705,1192ZM1681,1159 1680,1160 1675,1166 1675,1167 1677,1170 1686,1173 1687,1173 1690,1166 1689,1163ZM1706,1264 1713,1263 1718,1257 1717,1250 1716,1249 1702,1252 1702,1253ZM1691,1271 1689,1275 1693,1278 1702,1278 1703,1277 1706,1270 1706,1267 1704,1266ZM1645,1274 1646,1275 1655,1273 1655,1272 1654,1267 1647,1264 1646,1265 1642,1269ZM1550,1271 1549,1270 1539,1268 1536,1271 1536,1276 1542,1280 1543,1281 1551,1277ZM1691,1252 1692,1252 1700,1252 1701,1251 1700,1239 1699,1238 1689,1238 1688,1239 1686,1245ZM1509,1263 1509,1272 1516,1275 1517,1275 1521,1268 1517,1262 1516,1261 1510,1261Z" fill="rgb(240,240,240)"/>
<path d="M1485,1227 1484,1229 1486,1235 1487,1236 1495,1233 1498,1226 1496,1225ZM1496,1257 1495,1258 1497,1265 1498,1266 1507,1262 1508,1261 1508,1260 1503,1255ZM1555,1277 1554,1278 1553,1279 1555,1286 1557,1287 1563,1285 1564,1283 1562,1278ZM1584,1267 1583,1267 1582,1268 1586,1277 1587,1277 1593,1275 1593,1274 1591,1267ZM1725,1226 1735,1227 1736,1224 1736,1218 1735,1218 1725,1219 1722,1222ZM1722,1200 1721,1202 1726,1207 1733,1205 1734,1204 1731,1197 1730,1196ZM1729,1195 1729,1193 1726,1187 1724,1187 1718,1192 1718,1193 1721,1198 1722,1198ZM1696,1156 1695,1156 1691,1161 1692,1165 1699,1165 1702,1162 1702,1160ZM1674,1149 1675,1151 1680,1156 1681,1155 1685,1149 1684,1148 1677,1145 1676,1145ZM1665,1145 1667,1150 1668,1151 1672,1149 1675,1144 1674,1143 1667,1140 1666,1141ZM1573,1144 1574,1145 1575,1144 1581,1139 1580,1135 1580,1134 1572,1135 1571,1136ZM1562,1138 1561,1139 1564,1147 1565,1147 1571,1145 1571,1144 1569,1136 1568,1136ZM1524,1158 1524,1159 1528,1166 1533,1165 1535,1160 1531,1154 1529,1154ZM1515,1164 1520,1172 1521,1172 1526,1167 1522,1160 1521,1160 1515,1163ZM1487,1181 1487,1182 1495,1186 1496,1186 1498,1181 1495,1175 1494,1174 1490,1177ZM1636,1217 1645,1205 1641,1198 1637,1196 1628,1199 1626,1206 1626,1207 1634,1216ZM1580,1176 1580,1175 1569,1164 1566,1164 1559,1169 1565,1183 1567,1184 1578,1180ZM1596,1241 1594,1236 1588,1235 1579,1249 1580,1253 1581,1254 1592,1252ZM1541,1179 1546,1188 1547,1189 1562,1184 1563,1183 1557,1170 1554,1169 1542,1177ZM1667,1224 1668,1225 1674,1230 1682,1228 1686,1220 1684,1217 1672,1212 1671,1213ZM1584,1217 1583,1218 1585,1230 1588,1233 1595,1234 1604,1225 1596,1210 1594,1210ZM1585,1154 1592,1150 1593,1149 1591,1146 1582,1141 1576,1146 1576,1147 1580,1153ZM1623,1257 1622,1258 1620,1263 1624,1268 1625,1269 1631,1266 1632,1265 1629,1256 1628,1256ZM1707,1211 1718,1221 1721,1221 1724,1217 1724,1209 1720,1204 1708,1209ZM1620,1179 1618,1177 1604,1179 1602,1184 1607,1195 1608,1195 1618,1191ZM1657,1223 1658,1225 1665,1224 1670,1211 1670,1210 1658,1206 1656,1207ZM1646,1252 1645,1253 1647,1262 1655,1265 1659,1261 1659,1260 1657,1249 1656,1249ZM1627,1149 1627,1147 1623,1143 1614,1143 1612,1145 1616,1153 1616,1154 1625,1151ZM1511,1216 1505,1225 1511,1231 1512,1232 1526,1228 1526,1226 1517,1215 1516,1215ZM1510,1180 1500,1182 1498,1187 1498,1188 1506,1194 1509,1192 1512,1182 1512,1181ZM1623,1179 1621,1180 1620,1191 1620,1192 1627,1197 1635,1195 1636,1193 1632,1182ZM1689,1173 1690,1175 1699,1177 1701,1176 1698,1167 1692,1167ZM1660,1160 1661,1161 1662,1160 1666,1153 1664,1148 1662,1147 1653,1148 1653,1150ZM1641,1163 1640,1164 1639,1165 1640,1176 1652,1180 1653,1179 1654,1177 1655,1168ZM1559,1260 1559,1259 1556,1255 1540,1257 1539,1258 1539,1265 1540,1266 1550,1269ZM1527,1225 1529,1225 1536,1215 1529,1209 1520,1211 1518,1213ZM1636,1218 1635,1220 1635,1231 1635,1232 1641,1235 1651,1230 1651,1228 1637,1218ZM1654,1181 1654,1182 1662,1192 1672,1190 1673,1189 1670,1181 1656,1179ZM1502,1206 1501,1205 1495,1206 1492,1214 1497,1223 1500,1224 1504,1223 1509,1215ZM1520,1208 1521,1209 1529,1207 1531,1199 1531,1198 1526,1195 1519,1198Z" fill="rgb(222,222,222)"/>
<path d="M1503,1247 1503,1246 1499,1245 1492,1248 1492,1249 1494,1255 1495,1255 1503,1253ZM1504,1277 1504,1279 1509,1285 1511,1284 1515,1278 1514,1277 1508,1274ZM1606,1262 1604,1262 1604,1263 1605,1272 1612,1272 1612,1271 1613,1266ZM1634,1278 1635,1279 1640,1281 1642,1281 1644,1276 1640,1270 1637,1270ZM1654,1284 1654,1286 1660,1288 1662,1288 1665,1279 1664,1278 1658,1275 1657,1276ZM1685,1290 1687,1291 1694,1289 1694,1288 1692,1280 1688,1276 1685,1277 1684,1280ZM1706,1284 1707,1285 1709,1284 1715,1280 1715,1279 1708,1272 1707,1273 1704,1279ZM1722,1268 1724,1268 1727,1261 1726,1260 1719,1258 1715,1263 1715,1264ZM1720,1247 1719,1247 1718,1248 1720,1256 1727,1258 1728,1258 1730,1251 1730,1250ZM1647,1136 1645,1137 1644,1147 1646,1148 1651,1148 1653,1146 1654,1137 1653,1136ZM1591,1134 1590,1133 1582,1133 1582,1134 1583,1139 1589,1143 1590,1143 1591,1142ZM1507,1168 1506,1170 1510,1178 1513,1180 1518,1177 1519,1174 1513,1165 1512,1165ZM1620,1258 1620,1256 1612,1252 1611,1252 1606,1259 1606,1260 1614,1265 1618,1262ZM1653,1229 1660,1244 1668,1243 1672,1232 1672,1230 1665,1226 1657,1226ZM1580,1182 1578,1181 1568,1186 1569,1195 1573,1200 1586,1195 1586,1188ZM1663,1194 1662,1195 1659,1204 1659,1205 1670,1208 1677,1194 1677,1193 1674,1192ZM1575,1202 1574,1203 1574,1212 1582,1215 1583,1215 1595,1208 1595,1206 1587,1197ZM1568,1197 1567,1197 1556,1203 1556,1204 1559,1213 1567,1214 1572,1212 1572,1202ZM1595,1151 1593,1151 1587,1156 1588,1168 1589,1169 1597,1170 1598,1169 1602,1161ZM1619,1172 1613,1161 1612,1160 1604,1161 1600,1171 1603,1177 1604,1177 1618,1176 1619,1175ZM1581,1255 1580,1257 1581,1264 1582,1265 1592,1266 1597,1260 1597,1259 1593,1254ZM1696,1219 1705,1212 1706,1209 1702,1204 1690,1204 1686,1217 1688,1219ZM1614,1155 1611,1146 1610,1146 1602,1145 1596,1149 1596,1151 1603,1159 1612,1159ZM1672,1209 1672,1210 1683,1215 1685,1215 1688,1203 1681,1194 1679,1194ZM1712,1232 1712,1234 1718,1241 1720,1241 1724,1237 1724,1227 1720,1223 1718,1224ZM1676,1190 1680,1192 1682,1192 1683,1190 1686,1176 1686,1175 1676,1172 1676,1172 1671,1180ZM1706,1207 1708,1208 1719,1202 1720,1200 1715,1192 1705,1194 1704,1203ZM1559,1215 1551,1221 1551,1226 1552,1227 1565,1231 1565,1230 1566,1217 1566,1216ZM1534,1199 1533,1200 1531,1207 1537,1214 1540,1214 1541,1213 1546,1198 1545,1197 1544,1196ZM1563,1260 1562,1260 1562,1261 1568,1270 1572,1271 1580,1265 1578,1257 1577,1257ZM1700,1237 1702,1234 1702,1233 1697,1222 1696,1221 1688,1221 1684,1228 1688,1236 1689,1236ZM1518,1210 1516,1198 1510,1195 1507,1195 1503,1203 1503,1205 1510,1214 1516,1213ZM1672,1246 1684,1244 1685,1243 1687,1237 1682,1230 1675,1231 1674,1232 1670,1243 1671,1244ZM1557,1245 1558,1245 1564,1240 1565,1234 1565,1233 1551,1228 1545,1234 1545,1237ZM1584,1232 1568,1234 1567,1235 1566,1239 1576,1247 1578,1248 1586,1234 1586,1233ZM1549,1200 1547,1201 1542,1214 1550,1219 1557,1214 1557,1212 1554,1203ZM1676,1257 1677,1258 1686,1258 1689,1253 1685,1246 1674,1248 1674,1249ZM1526,1250 1524,1251 1519,1259 1519,1261 1522,1267 1535,1269 1538,1266 1537,1256 1535,1253ZM1537,1252 1537,1253 1539,1255 1555,1253 1556,1252 1556,1247 1546,1240 1545,1240Z" fill="rgb(234,234,234)"/>
<path d="M1507,1273 1507,1272 1507,1265 1505,1265 1498,1268 1498,1269 1502,1276 1503,1276ZM1534,1290 1535,1291 1542,1290 1543,1289 1542,1282 1536,1278 1535,1279 1533,1281ZM1595,1273 1597,1274 1603,1272 1602,1262 1601,1261 1599,1261 1593,1267ZM1624,1275 1625,1276 1631,1278 1632,1277 1635,1269 1633,1268 1632,1268 1626,1270ZM1644,1281 1644,1282 1651,1285 1652,1284 1654,1276 1653,1276 1645,1277ZM1726,1238 1720,1243 1720,1245 1730,1248 1731,1247 1733,1240 1732,1239ZM1727,1209 1726,1210 1726,1215 1726,1217 1735,1216 1736,1215 1735,1207 1733,1207ZM1682,1156 1683,1158 1689,1160 1693,1155 1693,1154 1687,1150 1686,1150ZM1624,1141 1628,1146 1632,1145 1632,1144 1633,1135 1632,1134 1625,1134 1624,1135ZM1603,1142 1604,1144 1610,1144 1611,1143 1612,1142 1612,1135 1611,1134 1605,1133 1603,1134ZM1594,1133 1593,1134 1593,1145 1594,1147 1595,1148 1601,1144 1602,1134 1600,1133ZM1554,1149 1555,1150 1561,1149 1562,1148 1559,1139 1558,1139 1551,1142 1551,1143ZM1617,1226 1616,1228 1621,1236 1624,1237 1633,1232 1633,1221 1632,1220 1631,1220ZM1619,1194 1618,1193 1608,1197 1606,1200 1617,1209 1624,1206 1626,1200 1625,1198ZM1624,1239 1621,1238 1619,1238 1612,1247 1613,1250 1622,1255 1629,1254 1631,1252ZM1601,1185 1600,1185 1589,1189 1588,1190 1588,1196 1596,1204 1604,1200 1606,1197ZM1634,1234 1633,1234 1626,1237 1626,1239 1632,1250 1633,1251 1638,1249 1639,1248 1640,1237ZM1602,1259 1603,1259 1610,1250 1611,1248 1610,1247 1598,1242 1597,1243 1594,1252 1599,1258ZM1600,1183 1602,1178 1597,1172 1587,1171 1582,1175 1581,1179 1581,1180 1587,1187ZM1642,1237 1642,1238 1641,1249 1642,1250 1644,1250 1658,1246 1658,1245 1652,1232 1651,1232ZM1682,1279 1683,1277 1674,1272 1672,1272 1668,1277 1668,1278 1674,1284 1675,1284ZM1528,1183 1527,1184 1527,1193 1532,1197 1544,1194 1545,1190 1540,1181ZM1511,1192 1512,1193 1517,1196 1525,1193 1525,1192 1526,1183 1519,1179 1515,1181ZM1631,1162 1632,1161 1626,1152 1617,1155 1614,1159 1620,1169 1621,1170ZM1494,1204 1495,1204 1501,1203 1505,1195 1504,1195 1497,1189 1496,1190 1491,1195ZM1699,1220 1699,1221 1704,1232 1705,1233 1710,1232 1717,1223 1716,1222 1707,1213 1706,1214ZM1651,1150 1650,1150 1646,1150 1641,1161 1642,1162 1656,1166 1659,1162ZM1543,1236 1543,1235 1531,1231 1530,1231 1526,1248 1526,1249 1535,1251 1544,1238ZM1577,1251 1566,1241 1565,1241 1559,1247 1558,1253 1560,1257 1561,1258 1577,1255 1578,1254ZM1638,1162 1639,1161 1644,1149 1643,1148 1633,1146 1629,1148 1628,1151 1634,1161ZM1511,1243 1510,1243 1505,1246 1505,1253 1510,1260 1516,1259 1522,1251 1522,1250ZM1690,1268 1692,1269 1704,1264 1704,1263 1700,1254 1691,1254 1688,1259 1687,1260ZM1565,1272 1565,1270 1560,1262 1559,1263 1552,1270 1553,1275 1554,1275 1562,1276ZM1523,1281 1524,1281 1532,1279 1534,1276 1534,1271 1522,1269 1519,1276ZM1513,1233 1512,1234 1512,1241 1523,1248 1524,1247 1528,1231 1528,1230 1526,1230Z" fill="rgb(228,228,228)"/>
</g>
<path d="M1677,1122 1680,1132 1695,1147 1712,1166 1727,1187 1739,1212 1752,1214 1752,1122Z" fill="#7a7a7a" opacity="0.85" filter="url(#b06)"/>
<g filter="url(#b06)">
<path d="M1690,1131 1691,1126 1690,1125 1681,1125 1682,1131 1685,1134 1687,1134ZM1697,1139 1698,1135 1692,1132 1691,1133 1688,1136 1688,1137 1694,1142 1695,1142ZM1714,1165 1716,1165 1722,1161 1723,1159 1722,1156 1715,1154 1710,1159 1710,1160ZM1741,1202 1739,1202 1738,1203 1741,1210 1748,1211 1750,1210 1750,1204ZM1742,1183 1741,1184 1740,1188 1741,1189 1744,1192 1749,1192 1750,1190 1750,1183 1749,1183ZM1744,1172 1739,1178 1739,1179 1741,1181 1749,1181 1750,1180 1750,1173 1749,1172ZM1750,1127 1749,1126 1748,1127 1740,1135 1740,1137 1741,1138 1749,1138 1750,1138ZM1712,1126 1711,1125 1704,1125 1703,1126 1703,1130 1710,1134 1711,1134 1712,1133Z" fill="rgb(222,222,222)"/>
<path d="M1707,1145 1708,1144 1707,1143 1700,1140 1698,1141 1696,1144 1696,1145 1701,1150 1702,1149ZM1711,1146 1710,1145 1709,1145 1703,1151 1703,1152 1708,1158 1709,1157 1714,1153ZM1727,1149 1727,1148 1723,1139 1714,1139 1712,1143 1712,1144 1715,1152 1716,1153 1722,1154ZM1731,1169 1736,1176 1737,1177 1742,1171 1738,1164 1737,1164 1732,1167Z" fill="rgb(234,234,234)"/>
<path d="M1729,1169 1729,1167 1724,1162 1717,1167 1717,1168 1721,1174 1722,1174ZM1745,1193 1744,1194 1742,1199 1743,1200 1749,1202 1750,1194 1749,1193ZM1739,1151 1738,1152 1740,1160 1749,1160 1750,1159 1750,1152 1749,1151ZM1724,1135 1725,1136 1726,1136 1733,1133 1733,1126 1733,1125 1726,1125 1725,1125ZM1692,1130 1693,1131 1698,1133 1699,1133 1701,1131 1701,1125 1700,1125 1693,1125 1692,1126Z" fill="rgb(246,246,246)"/>
<path d="M1734,1179 1734,1177 1730,1171 1729,1171 1723,1176 1723,1177 1727,1182 1728,1182ZM1741,1161 1740,1162 1740,1163 1744,1170 1749,1170 1750,1170 1750,1163 1749,1161ZM1722,1138 1723,1136 1723,1125 1722,1125 1714,1125 1714,1126 1714,1137 1715,1138ZM1724,1160 1730,1165 1737,1162 1738,1160 1736,1151 1729,1150 1728,1150 1724,1155Z" fill="rgb(228,228,228)"/>
<path d="M1737,1180 1736,1179 1729,1184 1732,1191 1733,1191 1739,1189 1739,1182ZM1740,1191 1739,1191 1734,1193 1733,1194 1736,1200 1737,1201 1740,1199 1742,1194 1742,1192ZM1742,1140 1741,1141 1739,1148 1740,1149 1749,1149 1750,1148 1750,1141 1749,1140ZM1735,1132 1736,1133 1739,1134 1745,1126 1746,1125 1745,1125 1736,1125 1735,1126ZM1726,1138 1725,1140 1729,1148 1736,1149 1740,1140 1738,1137 1734,1134ZM1709,1142 1711,1141 1712,1139 1712,1137 1703,1132 1702,1133 1700,1134 1700,1138Z" fill="rgb(240,240,240)"/>
</g>
<path d="M1465,1264 1465,1307 1482,1307 1482,1296 1476,1273Z" fill="#7a7a7a" opacity="0.85" filter="url(#b06)"/>
<g filter="url(#b06)">
<path d="M1473,1290 1476,1289 1477,1287 1474,1275 1470,1271 1469,1271 1468,1272 1468,1289 1469,1290Z" fill="rgb(222,222,222)"/>
<path d="M1469,1292 1468,1293 1468,1304 1469,1305 1473,1305 1474,1303 1472,1293 1472,1292Z" fill="rgb(246,246,246)"/>
<path d="M1475,1291 1474,1292 1476,1304 1476,1305 1479,1305 1480,1304 1480,1296 1478,1291 1478,1290Z" fill="rgb(234,234,234)"/>
</g>
<path d="M1479.3,1199.1C1479.8,1194.1 1480.5,1188.4 1482.3,1184.2C1484.0,1180.0 1486.0,1176.8 1489.7,1173.8C1493.4,1170.9 1499.6,1169.1 1504.5,1166.4C1509.5,1163.7 1514.4,1160.7 1519.4,1157.5C1524.3,1154.3 1528.8,1150.3 1534.2,1147.1C1539.7,1143.9 1544.6,1140.9 1552.0,1138.2C1559.5,1135.5 1569.3,1132.0 1578.7,1130.8C1588.1,1129.5 1598.5,1130.5 1608.4,1130.8C1618.3,1131.0 1629.5,1131.5 1638.1,1132.3C1646.8,1133.0 1653.0,1133.3 1660.4,1135.2C1667.8,1137.2 1676.0,1140.7 1682.7,1144.1C1689.3,1147.6 1695.0,1151.8 1700.5,1156.0C1705.9,1160.2 1710.9,1164.7 1715.3,1169.4C1719.8,1174.1 1723.7,1178.8 1727.2,1184.2C1730.6,1189.7 1734.1,1195.8 1736.1,1202.0C1738.1,1208.2 1739.1,1215.1 1739.1,1221.3C1739.1,1227.5 1737.3,1233.4 1736.1,1239.1C1734.9,1244.8 1733.4,1250.3 1731.6,1255.5C1729.9,1260.7 1728.4,1265.6 1725.7,1270.3C1723.0,1275.0 1720.0,1280.2 1715.3,1283.7C1710.6,1287.1 1704.2,1289.4 1697.5,1291.1C1690.8,1292.8 1682.7,1294.6 1675.2,1294.1C1667.8,1293.6 1660.4,1290.3 1653.0,1288.1C1645.5,1285.9 1638.1,1282.9 1630.7,1280.7C1623.3,1278.5 1614.6,1275.3 1608.4,1274.8C1602.2,1274.3 1599.8,1276.0 1593.6,1277.7C1587.4,1279.5 1578.7,1282.9 1571.3,1285.2C1563.9,1287.4 1556.5,1289.6 1549.1,1291.1C1541.6,1292.6 1533.5,1294.6 1526.8,1294.1C1520.1,1293.6 1513.9,1291.6 1509.0,1288.1C1504.0,1284.7 1500.3,1279.5 1497.1,1273.3C1493.9,1267.1 1492.2,1257.9 1489.7,1251.0C1487.2,1244.1 1484.0,1237.9 1482.3,1231.7C1480.5,1225.5 1479.8,1219.3 1479.3,1213.9C1478.8,1208.5 1478.8,1204.0 1479.3,1199.1Z" fill="none" stroke="#4a4a4a" stroke-width="2.4" filter="url(#b06)"/>
<ellipse cx="1608.4" cy="1210.9" rx="19.3" ry="29.7" fill="url(#gP)" opacity="0.50" style="mix-blend-mode:multiply"/>
<rect x="1733.1" y="1253.2" width="7.9" height="44.6" fill="#000"/>
</g>
<clipPath id="crI3"><rect x="1760.1" y="1120.1" width="282.7" height="185.6"/></clipPath>
<g clip-path="url(#crI3)">
<rect x="1760.1" y="1120.1" width="282.7" height="185.6" fill="#e8eeec"/>
<path d="M1771,1200 1771,1202 1770,1205 1770,1207 1770,1209 1771,1212 1771,1214 1771,1217 1772,1219 1772,1222 1773,1224 1774,1227 1775,1229 1777,1231 1778,1233 1780,1235 1782,1237 1785,1239 1787,1240 1789,1242 1792,1243 1795,1244 1798,1244 1800,1245 1803,1246 1805,1247 1807,1249 1809,1250 1810,1252 1812,1253 1813,1255 1814,1257 1814,1259 1815,1262 1815,1264 1815,1267 1816,1269 1817,1272 1818,1275 1819,1277 1821,1280 1823,1282 1825,1284 1827,1286 1830,1287 1832,1289 1836,1290 1839,1291 1842,1293 1845,1294 1849,1295 1853,1296 1856,1297 1860,1298 1864,1298 1867,1299 1871,1300 1874,1300 1878,1301 1881,1301 1885,1301 1890,1302 1895,1302 1900,1303 1905,1304 1910,1304 1914,1304 1919,1305 1924,1305 1929,1305 1934,1305 1939,1305 1943,1304 1948,1304 1952,1303 1955,1301 1959,1300 1962,1299 1965,1297 1968,1295 1970,1293 1973,1291 1975,1289 1977,1286 1978,1284 1980,1282 1981,1279 1981,1277 1982,1274 1983,1272 1984,1269 1985,1268 1987,1266 1988,1264 1990,1263 1992,1261 1994,1259 1997,1257 2000,1256 2003,1254 2007,1252 2010,1250 2013,1248 2016,1246 2018,1244 2020,1241 2022,1239 2024,1237 2026,1235 2028,1232 2029,1230 2031,1228 2032,1225 2033,1223 2033,1220 2033,1217 2032,1215 2031,1212 2029,1209 2028,1206 2026,1203 2025,1200 2023,1197 2021,1194 2020,1191 2018,1188 2016,1185 2014,1183 2012,1181 2010,1179 2008,1177 2006,1175 2004,1172 2003,1170 2001,1167 1999,1164 1998,1162 1996,1159 1994,1156 1992,1154 1990,1152 1988,1149 1985,1147 1983,1145 1980,1143 1977,1142 1973,1140 1970,1138 1966,1137 1962,1136 1958,1135 1954,1134 1949,1133 1944,1133 1939,1133 1934,1133 1929,1133 1924,1134 1919,1134 1914,1135 1909,1136 1904,1137 1900,1138 1896,1138 1892,1138 1889,1138 1885,1138 1882,1138 1878,1139 1875,1140 1871,1141 1868,1142 1864,1143 1860,1145 1856,1146 1852,1148 1848,1150 1843,1152 1839,1154 1834,1156 1830,1158 1827,1159 1824,1160 1821,1161 1819,1163 1816,1164 1813,1165 1810,1167 1806,1169 1802,1171 1798,1173 1794,1175 1791,1177 1788,1178 1786,1180 1783,1182 1781,1183 1779,1185 1777,1187 1775,1189 1774,1191 1773,1193 1772,1195 1771,1198Z" fill="#4a3a3e" opacity="0.85" filter="url(#b06)"/>
<g filter="url(#b06)">
<path d="M1774,1202 1775,1203 1779,1204 1782,1201 1781,1200 1775,1198 1774,1199ZM1819,1261 1818,1262 1818,1266 1820,1266 1823,1265 1823,1264 1821,1261ZM1858,1293 1859,1294 1863,1294 1864,1289 1863,1288 1862,1288 1859,1290ZM1896,1298 1897,1299 1900,1300 1901,1299 1901,1296 1897,1294 1896,1295ZM1905,1295 1904,1300 1905,1300 1908,1300 1908,1299 1909,1293 1908,1293ZM2029,1215 2028,1214 2025,1215 2024,1217 2024,1219 2029,1219 2030,1219ZM2002,1186 2002,1188 2003,1189 2004,1190 2010,1185 2010,1184 2008,1182 2007,1181ZM1949,1137 1948,1137 1947,1140 1949,1142 1952,1140 1952,1138 1952,1137ZM1894,1144 1896,1147 1897,1148 1899,1145 1899,1141 1895,1141ZM1898,1221 1899,1222 1907,1222 1910,1215 1907,1214 1900,1214 1899,1214ZM1908,1201 1909,1201 1913,1198 1913,1192 1908,1191 1903,1195 1903,1198ZM1905,1242 1907,1243 1912,1241 1913,1240 1909,1232 1903,1237ZM1955,1215 1956,1214 1958,1206 1957,1205 1950,1203 1948,1205 1949,1212ZM1917,1259 1915,1261 1916,1268 1923,1271 1924,1271 1927,1268 1926,1267 1920,1259ZM1941,1223 1940,1223 1939,1224 1938,1233 1939,1233 1946,1234 1949,1230 1948,1227ZM1915,1189 1918,1180 1918,1179 1910,1178 1907,1184 1909,1188 1914,1189ZM1923,1208 1916,1214 1915,1215 1916,1216 1924,1221 1926,1219 1925,1209 1924,1208ZM1966,1201 1967,1202 1969,1203 1977,1202 1979,1196 1979,1195 1974,1192 1973,1192 1967,1196ZM1961,1179 1964,1177 1964,1171 1964,1170 1960,1168 1953,1171 1953,1177 1954,1178ZM1936,1245 1934,1244 1932,1246 1932,1251 1936,1255 1937,1255 1941,1249 1941,1248ZM1884,1181 1874,1181 1874,1183 1880,1190 1881,1190 1884,1187ZM1867,1172 1873,1176 1873,1175 1876,1167 1874,1165 1870,1164 1867,1166 1866,1171ZM1894,1266 1899,1265 1902,1261 1898,1254 1897,1253 1894,1254 1891,1257 1892,1264ZM1876,1244 1879,1245 1884,1240 1885,1239 1882,1233 1881,1233 1875,1235 1873,1239ZM1978,1247 1971,1244 1966,1252 1970,1256 1977,1256 1978,1254ZM1855,1256 1854,1257 1853,1261 1855,1266 1856,1266 1861,1266 1861,1265 1862,1257 1861,1256ZM1948,1263 1943,1272 1944,1273 1946,1274 1951,1274 1954,1266 1952,1262ZM1889,1280 1888,1281 1887,1284 1890,1288 1893,1288 1897,1283 1897,1282 1893,1279ZM1835,1232 1833,1232 1832,1238 1834,1242 1836,1242 1838,1241 1840,1235ZM1863,1280 1864,1284 1866,1285 1872,1286 1873,1285 1873,1278 1869,1274 1867,1275ZM1890,1155 1892,1155 1895,1152 1895,1150 1892,1147 1887,1148 1885,1151 1886,1152ZM1960,1253 1960,1251 1954,1245 1952,1245 1950,1247 1950,1248 1953,1256 1955,1256ZM1863,1269 1855,1269 1852,1275 1852,1277 1861,1279 1865,1272ZM1839,1278 1839,1279 1843,1284 1848,1281 1849,1279 1848,1277 1842,1275 1841,1276ZM1914,1151 1912,1152 1908,1157 1909,1161 1911,1163 1916,1163 1919,1157 1918,1156ZM2019,1219 2021,1218 2022,1215 2019,1211 2017,1211 2013,1213 2013,1214 2016,1219ZM1900,1174 1899,1175 1898,1180 1899,1181 1905,1182 1907,1176ZM1818,1204 1820,1203 1820,1202 1814,1193 1809,1195 1807,1199 1808,1201ZM1799,1204 1798,1202 1794,1200 1789,1203 1788,1204 1791,1209 1793,1210 1794,1210ZM1823,1189 1817,1191 1817,1192 1821,1198 1822,1198 1826,1194 1824,1190ZM1807,1217 1807,1218 1809,1223 1814,1223 1817,1215 1816,1214 1809,1215Z" fill="rgb(234,234,234)"/>
<path d="M1775,1206 1774,1207 1774,1211 1775,1211 1777,1211 1778,1207ZM1775,1214 1774,1215 1775,1218 1776,1219 1781,1217 1781,1216 1779,1214ZM1866,1294 1867,1296 1870,1296 1871,1290 1871,1289 1867,1289ZM1881,1295 1881,1298 1884,1298 1885,1298 1886,1296 1885,1295 1882,1295ZM1950,1298 1951,1299 1954,1299 1955,1298 1952,1291 1951,1292 1949,1295ZM1991,1256 1993,1257 1995,1255 1995,1254 1993,1251 1992,1252 1990,1255ZM2014,1235 2014,1236 2017,1239 2018,1239 2020,1237 2020,1235 2016,1233 2015,1233ZM1968,1147 1969,1148 1973,1147 1974,1145 1974,1144 1972,1143 1970,1143ZM1858,1154 1859,1154 1862,1153 1861,1149 1860,1148 1857,1150ZM1808,1171 1808,1173 1810,1178 1812,1178 1814,1176 1812,1171 1811,1170ZM1788,1182 1787,1184 1791,1189 1793,1189 1794,1188 1795,1186 1791,1181ZM1781,1187 1781,1188 1783,1191 1785,1191 1787,1190 1787,1188 1785,1185 1783,1185ZM1935,1209 1934,1208 1929,1208 1928,1209 1929,1218 1937,1219ZM1850,1200 1851,1203 1857,1207 1864,1203 1856,1195 1852,1196ZM1951,1192 1949,1182 1948,1182 1943,1182 1941,1189 1948,1193 1949,1193ZM1898,1210 1906,1211 1907,1210 1907,1204 1903,1201 1901,1201 1897,1207 1897,1209ZM1907,1246 1906,1247 1907,1248 1915,1255 1916,1254 1917,1244 1915,1243ZM1870,1196 1871,1197 1872,1197 1878,1193 1878,1192 1872,1186 1870,1186 1869,1187ZM1961,1235 1961,1234 1960,1233 1952,1232 1951,1232 1949,1235 1951,1241 1953,1242ZM1865,1241 1864,1242 1866,1250 1867,1251 1873,1246 1873,1245 1870,1241ZM1851,1248 1851,1249 1854,1253 1862,1253 1863,1252 1861,1244 1860,1243 1853,1245ZM1854,1177 1855,1175 1853,1168 1847,1168 1845,1172 1846,1173 1852,1178ZM2002,1193 1995,1202 1996,1203 2006,1205 2009,1199 2008,1197 2004,1193ZM1976,1220 1976,1221 1976,1228 1983,1231 1986,1226 1986,1225 1980,1218ZM1968,1275 1967,1274 1966,1274 1959,1279 1958,1281 1959,1283 1965,1283 1968,1279ZM1951,1168 1953,1169 1958,1165 1957,1161 1956,1160 1948,1162 1948,1166ZM1837,1254 1846,1249 1846,1248 1839,1244 1835,1245 1833,1252 1834,1253ZM1986,1232 1986,1234 1992,1236 1993,1236 1995,1234 1991,1227 1989,1227ZM1999,1244 2003,1240 2003,1239 2000,1236 1999,1235 1994,1239 1994,1243 1995,1244ZM1846,1211 1846,1213 1849,1217 1855,1216 1855,1210 1850,1206 1849,1207ZM1842,1172 1843,1167 1843,1166 1837,1166 1834,1169 1836,1174 1838,1174ZM1847,1163 1848,1164 1853,1164 1855,1162 1856,1161 1855,1160 1850,1158ZM1832,1245 1832,1244 1829,1240 1823,1241 1822,1243 1823,1248 1826,1250 1830,1250ZM1826,1264 1828,1264 1829,1263 1832,1256 1830,1253 1827,1253 1824,1258 1824,1260ZM1800,1230 1799,1231 1798,1233 1800,1236 1801,1236 1804,1235 1804,1234 1803,1231Z" fill="rgb(222,222,222)"/>
<path d="M1777,1222 1776,1223 1777,1226 1778,1227 1784,1223 1783,1220ZM1781,1229 1780,1230 1782,1233 1783,1233 1787,1230 1786,1227 1785,1226ZM1824,1276 1823,1277 1825,1280 1826,1280 1827,1280 1828,1278 1827,1275 1826,1275ZM1973,1275 1971,1275 1971,1279 1975,1281 1976,1281 1978,1278 1977,1276ZM2004,1248 2006,1249 2008,1247 2008,1246 2006,1243 2004,1243 2003,1246ZM2022,1205 2023,1203 2021,1201 2019,1201 2020,1205ZM1987,1164 1988,1164 1992,1160 1992,1159 1990,1157 1989,1157 1986,1160 1986,1163ZM1932,1142 1933,1143 1936,1143 1937,1141 1937,1137 1936,1136 1933,1136 1932,1137ZM1880,1142 1879,1143 1880,1150 1881,1151 1884,1147 1884,1143 1882,1142ZM1844,1159 1845,1160 1846,1160 1847,1156 1847,1155 1845,1155 1843,1156ZM1888,1215 1887,1216 1888,1223 1889,1224 1894,1224 1895,1222 1896,1213 1895,1212ZM1875,1217 1874,1218 1875,1219 1883,1224 1884,1224 1884,1215 1882,1213 1880,1213ZM1945,1206 1944,1206 1939,1206 1938,1207 1939,1216 1940,1217 1941,1216 1946,1213ZM1940,1191 1939,1192 1937,1193 1939,1202 1946,1202 1948,1200 1948,1196ZM1951,1199 1952,1200 1960,1203 1963,1202 1964,1196 1960,1192 1954,1193 1951,1195ZM1943,1219 1942,1220 1943,1221 1949,1224 1953,1218 1953,1217 1948,1215ZM1859,1219 1858,1220 1858,1228 1859,1229 1861,1230 1867,1226 1867,1221 1866,1220ZM1911,1274 1911,1276 1917,1280 1923,1276 1923,1275 1922,1274 1914,1271ZM1962,1249 1964,1249 1968,1242 1966,1237 1965,1237 1964,1237 1957,1243 1957,1244ZM1895,1250 1896,1251 1899,1250 1903,1246 1903,1245 1900,1239 1899,1238 1892,1242 1892,1243ZM1912,1269 1913,1263 1912,1262 1904,1263 1902,1266 1903,1267 1908,1272 1909,1272ZM1981,1243 1981,1245 1982,1245 1991,1245 1992,1244 1991,1239 1985,1236 1984,1237ZM1995,1179 1990,1176 1986,1180 1988,1185 1989,1185 1996,1184 1996,1183ZM1949,1288 1953,1288 1956,1285 1956,1284 1955,1280 1952,1277 1947,1277 1946,1278 1946,1285 1946,1287ZM1952,1149 1953,1149 1956,1146 1956,1145 1953,1143 1950,1144 1949,1145 1950,1148ZM1989,1224 1990,1224 1992,1224 1996,1219 1991,1211 1985,1213 1983,1216ZM1957,1157 1959,1157 1965,1153 1965,1151 1959,1147 1955,1151 1955,1152 1956,1157ZM1983,1161 1979,1158 1978,1158 1974,1160 1974,1165 1978,1166 1983,1163ZM1820,1231 1820,1232 1822,1238 1829,1237 1831,1230 1830,1229 1829,1228ZM1901,1283 1896,1290 1897,1291 1902,1292 1905,1290 1902,1284ZM1808,1234 1809,1235 1817,1231 1817,1230 1815,1226 1810,1226 1809,1226 1806,1229ZM1924,1153 1925,1152 1926,1148 1926,1146 1923,1145 1918,1147 1916,1148 1916,1150 1920,1154 1922,1154ZM1841,1271 1842,1272 1849,1274 1853,1268 1853,1267 1850,1263 1844,1264 1843,1265ZM1831,1265 1831,1267 1838,1269 1839,1268 1841,1263 1837,1258 1835,1257 1834,1258ZM1797,1223 1799,1227 1800,1227 1803,1228 1806,1224 1804,1219 1803,1219 1799,1219ZM1791,1213 1786,1218 1787,1222 1788,1223 1794,1222 1796,1218 1796,1217 1794,1213Z" fill="rgb(228,228,228)"/>
<path d="M1786,1234 1786,1236 1789,1238 1790,1237 1791,1235 1789,1232ZM1820,1269 1820,1270 1821,1273 1822,1273 1826,1272 1827,1268 1826,1267ZM2009,1239 2008,1241 2011,1245 2012,1244 2015,1242 2014,1241 2011,1238ZM2024,1222 2023,1223 2024,1225 2026,1227 2027,1227 2029,1223 2028,1222ZM1955,1140 1957,1143 1959,1143 1960,1140 1960,1139 1956,1138ZM1940,1139 1940,1140 1944,1140 1944,1137 1943,1136 1940,1136ZM1903,1140 1902,1141 1902,1144 1903,1145 1906,1144 1907,1143 1906,1140ZM1801,1175 1801,1176 1803,1180 1804,1181 1807,1179 1807,1178 1805,1174ZM1866,1207 1864,1206 1858,1210 1859,1216 1868,1218 1870,1217ZM1918,1189 1919,1191 1926,1193 1929,1191 1925,1182 1924,1181 1921,1182ZM1918,1193 1916,1194 1916,1198 1922,1204 1923,1204 1924,1203 1925,1196 1924,1195ZM1952,1226 1952,1229 1960,1230 1960,1229 1961,1221 1957,1219ZM1905,1189 1906,1188 1904,1185 1899,1184 1896,1191 1897,1192 1901,1193ZM1981,1193 1983,1193 1986,1187 1983,1180 1981,1180 1975,1183 1975,1184 1975,1189ZM1929,1265 1930,1265 1931,1265 1934,1258 1934,1257 1930,1254 1924,1257 1923,1258ZM1973,1221 1971,1220 1964,1222 1963,1231 1965,1234 1967,1234 1973,1228ZM1939,1258 1937,1259 1935,1265 1941,1269 1942,1269 1945,1263 1944,1262ZM1960,1160 1960,1161 1961,1165 1965,1168 1966,1168 1970,1165 1971,1159 1967,1155ZM1882,1267 1884,1267 1889,1265 1888,1258 1883,1257 1877,1261 1878,1263ZM1947,1159 1948,1159 1953,1158 1953,1157 1952,1152 1948,1150 1943,1153 1942,1155 1942,1156ZM1876,1247 1870,1253 1870,1254 1876,1258 1881,1255 1879,1248ZM1844,1234 1842,1241 1848,1245 1849,1245 1850,1243 1849,1234 1847,1233ZM1857,1231 1852,1233 1852,1234 1853,1241 1854,1242 1860,1240 1861,1239 1860,1233ZM1835,1223 1834,1223 1833,1226 1834,1228 1842,1232 1845,1231 1844,1224ZM1850,1181 1850,1179 1843,1175 1838,1178 1836,1180 1840,1185 1847,1186 1848,1185ZM2010,1210 2012,1210 2017,1208 2017,1207 2015,1202 2012,1202 2011,1202 2009,1206ZM1866,1200 1867,1200 1868,1199 1867,1188 1866,1188 1864,1187 1859,1193 1859,1194ZM1880,1288 1880,1290 1881,1292 1887,1292 1888,1290 1885,1287ZM1968,1269 1970,1269 1976,1266 1976,1260 1975,1259 1971,1259 1970,1260 1968,1266ZM2003,1227 1999,1220 1998,1221 1994,1225 1998,1232 1999,1232 2000,1232ZM1816,1235 1811,1238 1811,1239 1815,1243 1818,1242 1819,1242 1820,1239 1817,1235ZM1829,1272 1831,1276 1832,1277 1836,1277 1839,1273 1838,1272 1831,1269 1830,1270Z" fill="rgb(192,192,192)"/>
<path d="M1793,1238 1794,1240 1797,1241 1798,1238 1796,1235 1795,1235ZM1817,1254 1817,1255 1817,1258 1820,1258 1823,1253 1822,1251ZM1932,1299 1929,1296 1928,1296 1927,1297 1927,1301 1928,1302 1931,1302ZM1935,1298 1934,1299 1935,1302 1938,1302 1939,1301 1938,1297ZM1942,1300 1944,1301 1947,1300 1947,1299 1946,1297 1945,1297 1942,1298ZM1983,1256 1982,1257 1982,1258 1986,1261 1989,1259 1988,1257ZM1990,1165 1990,1167 1992,1170 1996,1167 1997,1166 1995,1163 1994,1163ZM1887,1141 1886,1142 1887,1145 1888,1145 1891,1144 1891,1142 1891,1141ZM1850,1152 1849,1153 1850,1155 1854,1156 1855,1156 1855,1155 1854,1152ZM1829,1162 1829,1163 1830,1166 1832,1167 1834,1164 1833,1161 1832,1161ZM1822,1165 1822,1166 1823,1169 1827,1167 1826,1164ZM1911,1213 1913,1213 1920,1207 1919,1205 1914,1201 1910,1203 1910,1211ZM1914,1218 1912,1218 1910,1224 1911,1228 1922,1227 1922,1224 1922,1223ZM1920,1241 1923,1232 1923,1230 1921,1230 1913,1231 1913,1232 1916,1240 1919,1241ZM1922,1168 1921,1169 1921,1178 1922,1178 1926,1178 1928,1176 1929,1169 1928,1168ZM1990,1208 1992,1204 1992,1201 1984,1196 1982,1196 1980,1203 1980,1204 1984,1210ZM1949,1244 1949,1243 1946,1237 1940,1236 1939,1237 1937,1242 1943,1247 1946,1246ZM1973,1217 1975,1217 1979,1215 1981,1213 1981,1211 1977,1205 1971,1206 1970,1207ZM1897,1173 1896,1171 1889,1171 1888,1177 1889,1178 1895,1178ZM1849,1231 1855,1228 1855,1220 1854,1219 1849,1220 1847,1223 1848,1230ZM1956,1259 1955,1261 1958,1264 1964,1265 1965,1264 1967,1258 1964,1254 1963,1254ZM1884,1270 1883,1274 1886,1277 1888,1278 1892,1276 1893,1269 1892,1268 1890,1267ZM1933,1158 1935,1158 1938,1155 1939,1152 1935,1147 1932,1146 1929,1147 1928,1154ZM1847,1189 1847,1189 1840,1188 1837,1195 1838,1198 1847,1199 1850,1194ZM1954,1274 1955,1276 1956,1277 1957,1277 1965,1271 1966,1270 1965,1269 1958,1267 1957,1267ZM1839,1201 1838,1201 1835,1207 1837,1210 1843,1210 1847,1204 1847,1202 1846,1202ZM1852,1284 1857,1288 1861,1284 1860,1282 1853,1280 1852,1281ZM1803,1201 1804,1200 1806,1195 1800,1189 1798,1189 1795,1191 1795,1197 1802,1201ZM1969,1151 1969,1152 1969,1153 1973,1157 1977,1155 1977,1154 1974,1150ZM1807,1192 1809,1192 1814,1189 1812,1182 1811,1181 1804,1184 1803,1186 1803,1187ZM1792,1197 1792,1196 1792,1193 1791,1192 1790,1192 1785,1194 1784,1199 1785,1201 1786,1201Z" fill="rgb(216,216,216)"/>
<path d="M1803,1243 1805,1242 1806,1240 1806,1238 1805,1238 1801,1240 1801,1242ZM1809,1242 1807,1245 1810,1247 1812,1245 1810,1241ZM1813,1248 1813,1250 1815,1252 1820,1249 1820,1248 1819,1246 1818,1245 1815,1246ZM1836,1286 1836,1287 1839,1288 1840,1288 1841,1287 1841,1286 1838,1283 1837,1283ZM1911,1300 1912,1301 1916,1301 1916,1297 1914,1293 1912,1293 1912,1294ZM1919,1300 1920,1301 1923,1301 1924,1298 1923,1298 1920,1298ZM1959,1289 1957,1288 1955,1290 1957,1296 1958,1297 1961,1295 1962,1294ZM1984,1264 1979,1260 1979,1261 1979,1265 1981,1267 1984,1265ZM1993,1172 1993,1174 1996,1176 2000,1174 2000,1173 1999,1170 1998,1170ZM1876,1144 1874,1143 1871,1144 1871,1145 1873,1149 1877,1150ZM1925,1228 1926,1230 1935,1231 1936,1230 1936,1223 1935,1222 1928,1222 1925,1224ZM1962,1218 1969,1217 1970,1217 1967,1206 1964,1204 1961,1206 1959,1215 1959,1217ZM1928,1180 1928,1181 1932,1191 1935,1191 1938,1189 1940,1182 1939,1181 1930,1179ZM1887,1227 1886,1228 1884,1232 1888,1239 1890,1239 1897,1236 1897,1235 1893,1227ZM1909,1166 1908,1165 1906,1164 1899,1167 1898,1169 1900,1171 1906,1172ZM1940,1274 1941,1273 1940,1272 1932,1268 1929,1269 1926,1274 1927,1276 1932,1280ZM1863,1172 1864,1171 1864,1166 1858,1164 1857,1164 1856,1167 1858,1173 1859,1173ZM1846,1219 1846,1218 1843,1214 1842,1213 1837,1214 1835,1219 1836,1220 1843,1221ZM1822,1177 1817,1178 1814,1180 1816,1187 1817,1187 1824,1186 1826,1182 1826,1180ZM2011,1229 2010,1228 2006,1228 2003,1233 2003,1234 2005,1237 2007,1237 2011,1235 2012,1231ZM1821,1217 1820,1218 1817,1224 1819,1227 1820,1228 1830,1225 1830,1222ZM1799,1215 1804,1216 1806,1213 1804,1205 1803,1204 1802,1205 1796,1212ZM1790,1226 1789,1227 1790,1230 1794,1232 1796,1231 1797,1229 1795,1226 1794,1225ZM1785,1205 1784,1204 1781,1206 1781,1211 1784,1214 1785,1214 1788,1211Z" fill="rgb(204,204,204)"/>
<path d="M1829,1282 1829,1283 1832,1285 1833,1284 1835,1281 1834,1280 1831,1280ZM1891,1291 1889,1294 1888,1297 1889,1298 1892,1299 1893,1298 1894,1293 1893,1292ZM1965,1286 1961,1287 1961,1288 1964,1292 1966,1293 1968,1291 1968,1290ZM1974,1270 1974,1272 1978,1274 1979,1273 1980,1270 1977,1268ZM2022,1208 2021,1209 2023,1212 2025,1212 2026,1211 2026,1210 2025,1207ZM2007,1191 2007,1193 2010,1194 2015,1191 2015,1190 2014,1188 2012,1187ZM1976,1148 1976,1149 1979,1151 1980,1151 1981,1149 1981,1148 1978,1146ZM1865,1152 1867,1152 1869,1150 1868,1146 1867,1146 1864,1147 1864,1147ZM1815,1168 1814,1169 1817,1174 1818,1175 1821,1174 1821,1172 1819,1167ZM1795,1178 1794,1180 1797,1185 1800,1186 1801,1183 1798,1178 1797,1177ZM1895,1194 1894,1194 1891,1200 1895,1204 1896,1203 1900,1198 1900,1196ZM1928,1195 1927,1205 1928,1206 1936,1204 1936,1203 1933,1194 1931,1194ZM1882,1192 1882,1194 1887,1199 1888,1199 1891,1193 1891,1192 1886,1190ZM1905,1281 1905,1282 1909,1290 1913,1290 1915,1287 1916,1283 1909,1278 1907,1278ZM1895,1275 1895,1277 1901,1280 1902,1280 1906,1275 1900,1269 1899,1268 1896,1269ZM1998,1217 2000,1217 2008,1212 2006,1208 1995,1206 1993,1209ZM1884,1253 1884,1254 1889,1255 1892,1252 1889,1242 1888,1242 1886,1242 1881,1247ZM1929,1291 1929,1293 1933,1296 1937,1294 1937,1290 1933,1288 1932,1288ZM1877,1154 1876,1153 1872,1152 1869,1154 1869,1155 1870,1161 1874,1161ZM1855,1192 1860,1187 1861,1186 1856,1181 1854,1180 1853,1181 1850,1187 1852,1193ZM1989,1249 1989,1248 1988,1248 1982,1248 1981,1253 1982,1253 1987,1254ZM1931,1175 1932,1176 1938,1177 1939,1176 1939,1171 1934,1167 1933,1166 1932,1168ZM1918,1289 1917,1290 1916,1291 1919,1295 1924,1295 1926,1293 1926,1292 1925,1291ZM1917,1166 1912,1166 1909,1174 1910,1175 1917,1176 1918,1176ZM1835,1197 1829,1196 1823,1202 1823,1204 1824,1205 1832,1205 1836,1200ZM1808,1204 1807,1204 1807,1205 1809,1211 1818,1211 1819,1208 1819,1207ZM1900,1150 1900,1152 1906,1154 1910,1150 1910,1149 1908,1147 1902,1148Z" fill="rgb(210,210,210)"/>
<path d="M1843,1288 1844,1290 1847,1291 1848,1290 1849,1286 1847,1285 1844,1287ZM1996,1247 1995,1248 1998,1253 1999,1253 2001,1251 2001,1250 2000,1247ZM1998,1178 1998,1180 1999,1183 2000,1184 2001,1183 2005,1179 2005,1178 2002,1176ZM1981,1154 1981,1156 1984,1157 1987,1155 1987,1154 1984,1151 1983,1151ZM1962,1144 1962,1146 1965,1146 1967,1142 1967,1141 1964,1140 1963,1140ZM1836,1159 1836,1160 1837,1162 1840,1163 1841,1162 1841,1161 1840,1158ZM1776,1194 1777,1196 1780,1197 1781,1196 1782,1194 1782,1193 1779,1191 1777,1191ZM1919,1254 1920,1255 1921,1255 1929,1252 1929,1251 1929,1246 1923,1243 1921,1244ZM1874,1200 1873,1201 1874,1202 1880,1205 1884,1201 1880,1196 1879,1196ZM1927,1233 1925,1234 1924,1241 1931,1243 1934,1242 1936,1236 1936,1234ZM1971,1190 1972,1189 1972,1183 1966,1180 1963,1180 1963,1181 1963,1190 1966,1193ZM1872,1235 1872,1233 1868,1229 1863,1232 1864,1238 1871,1238ZM2010,1215 2009,1215 2002,1219 2002,1220 2006,1225 2010,1225 2013,1221 2013,1219ZM1865,1255 1864,1266 1866,1269 1867,1269 1875,1262 1867,1255ZM1989,1188 1988,1189 1986,1194 1993,1199 1994,1198 2000,1191 1999,1188 1998,1187ZM1953,1181 1952,1182 1954,1189 1955,1190 1959,1189 1960,1182 1959,1181ZM1989,1173 1989,1172 1986,1166 1984,1166 1980,1169 1982,1177 1984,1177ZM1946,1148 1947,1145 1945,1143 1940,1143 1938,1144 1938,1146 1941,1150ZM1933,1284 1934,1285 1938,1287 1942,1286 1943,1285 1943,1277 1942,1277 1934,1282ZM1904,1161 1905,1160 1905,1157 1898,1154 1897,1154 1894,1157 1898,1164 1899,1164ZM1837,1187 1834,1182 1833,1181 1829,1182 1826,1187 1829,1193 1834,1194 1835,1193ZM1940,1294 1941,1295 1946,1294 1947,1291 1944,1289 1941,1290 1940,1291ZM2016,1222 2015,1222 2013,1227 2015,1230 2017,1230 2021,1226 2020,1222ZM1843,1261 1844,1261 1849,1260 1850,1259 1852,1255 1849,1251 1848,1251 1840,1256 1840,1258Z" fill="rgb(186,186,186)"/>
<path d="M1851,1291 1851,1292 1854,1293 1855,1293 1855,1291 1855,1290 1852,1288ZM1876,1289 1875,1288 1874,1289 1873,1296 1874,1297 1877,1297 1878,1297 1878,1294ZM2022,1233 2023,1233 2025,1230 2023,1228 2020,1231ZM2012,1197 2011,1198 2012,1199 2016,1199 2019,1198 2019,1197 2018,1194 2017,1194ZM1925,1137 1924,1138 1925,1142 1928,1144 1929,1144 1929,1143 1929,1137ZM1921,1143 1922,1141 1921,1138 1920,1137 1917,1138 1917,1139 1917,1143 1919,1143ZM1910,1139 1909,1141 1910,1145 1912,1147 1913,1147 1915,1145 1914,1140 1913,1139ZM1898,1225 1897,1225 1897,1227 1900,1234 1902,1234 1908,1229 1907,1226ZM1883,1207 1883,1210 1886,1212 1894,1209 1894,1207 1887,1202 1886,1203ZM1884,1179 1885,1177 1886,1170 1883,1168 1879,1168 1876,1177 1877,1178ZM1872,1220 1871,1220 1870,1221 1870,1226 1870,1227 1875,1232 1882,1230 1882,1228 1882,1227ZM1972,1180 1974,1180 1979,1177 1976,1169 1972,1168 1967,1171 1967,1176 1967,1177ZM1867,1185 1871,1182 1872,1180 1871,1179 1865,1174 1858,1177 1858,1179 1863,1184ZM1901,1252 1901,1253 1904,1260 1912,1259 1913,1258 1913,1257 1905,1250ZM1869,1203 1868,1204 1872,1214 1874,1214 1880,1210 1879,1208 1870,1203ZM1940,1168 1942,1168 1945,1166 1945,1162 1945,1161 1940,1158 1935,1160 1935,1163 1935,1164ZM1982,1235 1981,1233 1975,1231 1969,1236 1969,1237 1971,1241 1978,1243 1979,1242ZM1888,1181 1887,1182 1888,1187 1892,1189 1893,1189 1895,1182 1894,1181ZM1926,1278 1924,1278 1919,1282 1919,1287 1927,1289 1930,1286 1930,1283ZM1876,1285 1876,1286 1877,1286 1884,1284 1885,1283 1885,1280 1881,1276 1877,1278 1876,1279ZM1951,1258 1946,1249 1944,1250 1941,1255 1942,1257 1947,1260 1950,1259ZM1870,1270 1870,1272 1875,1275 1880,1273 1881,1270 1881,1269 1876,1265 1875,1266ZM1886,1166 1887,1167 1888,1168 1895,1168 1896,1166 1892,1159 1891,1158 1890,1159ZM1922,1157 1919,1164 1920,1165 1930,1165 1932,1163 1932,1161 1925,1156ZM1834,1177 1834,1176 1831,1170 1829,1169 1824,1173 1824,1175 1829,1179 1833,1178ZM1867,1162 1867,1161 1866,1156 1865,1155 1864,1155 1858,1158 1858,1160 1859,1161 1865,1163Z" fill="rgb(198,198,198)"/>
<path d="M1971,1282 1970,1282 1968,1284 1968,1285 1971,1287 1972,1287 1974,1284 1973,1283ZM1942,1178 1943,1179 1949,1179 1950,1178 1950,1171 1947,1169 1943,1171 1942,1172ZM1877,1162 1879,1165 1883,1165 1887,1158 1887,1157 1883,1154 1881,1154ZM1821,1212 1821,1214 1831,1219 1832,1218 1834,1213 1832,1208 1823,1207 1822,1208Z" fill="rgb(180,180,180)"/>
</g>
<path d="M1904,1219a1.6,1.6 0 1,0 -3.2,0a1.6,1.6 0 1,0 3.2,0ZM1913,1213a1.6,1.6 0 1,0 -3.2,0a1.6,1.6 0 1,0 3.2,0ZM1919,1210a1.6,1.6 0 1,0 -3.2,0a1.6,1.6 0 1,0 3.2,0ZM1902,1229a1.6,1.6 0 1,0 -3.2,0a1.6,1.6 0 1,0 3.2,0ZM1903,1209a1.6,1.6 0 1,0 -3.2,0a1.6,1.6 0 1,0 3.2,0ZM1894,1226a1.6,1.6 0 1,0 -3.2,0a1.6,1.6 0 1,0 3.2,0ZM1887,1229a1.6,1.6 0 1,0 -3.2,0a1.6,1.6 0 1,0 3.2,0ZM1915,1220a1.6,1.6 0 1,0 -3.2,0a1.6,1.6 0 1,0 3.2,0ZM1892,1213a1.6,1.6 0 1,0 -3.2,0a1.6,1.6 0 1,0 3.2,0ZM1881,1225a1.6,1.6 0 1,0 -3.2,0a1.6,1.6 0 1,0 3.2,0ZM1884,1218a1.6,1.6 0 1,0 -3.2,0a1.6,1.6 0 1,0 3.2,0ZM1932,1210a1.6,1.6 0 1,0 -3.2,0a1.6,1.6 0 1,0 3.2,0ZM1876,1216a1.6,1.6 0 1,0 -3.2,0a1.6,1.6 0 1,0 3.2,0ZM1908,1226a1.6,1.6 0 1,0 -3.2,0a1.6,1.6 0 1,0 3.2,0ZM1921,1232a1.6,1.6 0 1,0 -3.2,0a1.6,1.6 0 1,0 3.2,0ZM1913,1240a1.6,1.6 0 1,0 -3.2,0a1.6,1.6 0 1,0 3.2,0ZM1935,1204a1.6,1.6 0 1,0 -3.2,0a1.6,1.6 0 1,0 3.2,0ZM1864,1215a1.6,1.6 0 1,0 -3.2,0a1.6,1.6 0 1,0 3.2,0ZM1899,1237a1.6,1.6 0 1,0 -3.2,0a1.6,1.6 0 1,0 3.2,0ZM1872,1225a1.6,1.6 0 1,0 -3.2,0a1.6,1.6 0 1,0 3.2,0ZM1921,1202a1.6,1.6 0 1,0 -3.2,0a1.6,1.6 0 1,0 3.2,0ZM1941,1212a1.6,1.6 0 1,0 -3.2,0a1.6,1.6 0 1,0 3.2,0ZM1882,1211a1.6,1.6 0 1,0 -3.2,0a1.6,1.6 0 1,0 3.2,0ZM1903,1247a1.6,1.6 0 1,0 -3.2,0a1.6,1.6 0 1,0 3.2,0ZM1920,1251a1.6,1.6 0 1,0 -3.2,0a1.6,1.6 0 1,0 3.2,0ZM1938,1193a1.6,1.6 0 1,0 -3.2,0a1.6,1.6 0 1,0 3.2,0ZM1922,1216a1.6,1.6 0 1,0 -3.2,0a1.6,1.6 0 1,0 3.2,0ZM1889,1206a1.6,1.6 0 1,0 -3.2,0a1.6,1.6 0 1,0 3.2,0ZM1874,1208a1.6,1.6 0 1,0 -3.2,0a1.6,1.6 0 1,0 3.2,0ZM1929,1239a1.6,1.6 0 1,0 -3.2,0a1.6,1.6 0 1,0 3.2,0ZM1935,1221a1.6,1.6 0 1,0 -3.2,0a1.6,1.6 0 1,0 3.2,0ZM1907,1237a1.6,1.6 0 1,0 -3.2,0a1.6,1.6 0 1,0 3.2,0ZM1924,1223a1.6,1.6 0 1,0 -3.2,0a1.6,1.6 0 1,0 3.2,0ZM1929,1218a1.6,1.6 0 1,0 -3.2,0a1.6,1.6 0 1,0 3.2,0ZM1855,1213a1.6,1.6 0 1,0 -3.2,0a1.6,1.6 0 1,0 3.2,0ZM1946,1222a1.6,1.6 0 1,0 -3.2,0a1.6,1.6 0 1,0 3.2,0ZM1914,1232a1.6,1.6 0 1,0 -3.2,0a1.6,1.6 0 1,0 3.2,0ZM1842,1214a1.6,1.6 0 1,0 -3.2,0a1.6,1.6 0 1,0 3.2,0ZM1899,1202a1.6,1.6 0 1,0 -3.2,0a1.6,1.6 0 1,0 3.2,0ZM1913,1204a1.6,1.6 0 1,0 -3.2,0a1.6,1.6 0 1,0 3.2,0ZM1864,1202a1.6,1.6 0 1,0 -3.2,0a1.6,1.6 0 1,0 3.2,0ZM1936,1228a1.6,1.6 0 1,0 -3.2,0a1.6,1.6 0 1,0 3.2,0ZM1855,1223a1.6,1.6 0 1,0 -3.2,0a1.6,1.6 0 1,0 3.2,0ZM1848,1203a1.6,1.6 0 1,0 -3.2,0a1.6,1.6 0 1,0 3.2,0ZM1847,1210a1.6,1.6 0 1,0 -3.2,0a1.6,1.6 0 1,0 3.2,0ZM1882,1203a1.6,1.6 0 1,0 -3.2,0a1.6,1.6 0 1,0 3.2,0ZM1929,1194a1.6,1.6 0 1,0 -3.2,0a1.6,1.6 0 1,0 3.2,0ZM1954,1214a1.6,1.6 0 1,0 -3.2,0a1.6,1.6 0 1,0 3.2,0ZM1929,1231a1.6,1.6 0 1,0 -3.2,0a1.6,1.6 0 1,0 3.2,0ZM1925,1247a1.6,1.6 0 1,0 -3.2,0a1.6,1.6 0 1,0 3.2,0ZM1876,1233a1.6,1.6 0 1,0 -3.2,0a1.6,1.6 0 1,0 3.2,0ZM1837,1209a1.6,1.6 0 1,0 -3.2,0a1.6,1.6 0 1,0 3.2,0ZM1830,1220a1.6,1.6 0 1,0 -3.2,0a1.6,1.6 0 1,0 3.2,0ZM1922,1239a1.6,1.6 0 1,0 -3.2,0a1.6,1.6 0 1,0 3.2,0ZM1840,1227a1.6,1.6 0 1,0 -3.2,0a1.6,1.6 0 1,0 3.2,0ZM1939,1237a1.6,1.6 0 1,0 -3.2,0a1.6,1.6 0 1,0 3.2,0ZM1892,1240a1.6,1.6 0 1,0 -3.2,0a1.6,1.6 0 1,0 3.2,0ZM1875,1241a1.6,1.6 0 1,0 -3.2,0a1.6,1.6 0 1,0 3.2,0ZM1961,1217a1.6,1.6 0 1,0 -3.2,0a1.6,1.6 0 1,0 3.2,0ZM1919,1193a1.6,1.6 0 1,0 -3.2,0a1.6,1.6 0 1,0 3.2,0ZM1883,1242a1.6,1.6 0 1,0 -3.2,0a1.6,1.6 0 1,0 3.2,0ZM1921,1259a1.6,1.6 0 1,0 -3.2,0a1.6,1.6 0 1,0 3.2,0ZM1936,1249a1.6,1.6 0 1,0 -3.2,0a1.6,1.6 0 1,0 3.2,0ZM1906,1197a1.6,1.6 0 1,0 -3.2,0a1.6,1.6 0 1,0 3.2,0ZM1896,1219a1.6,1.6 0 1,0 -3.2,0a1.6,1.6 0 1,0 3.2,0ZM1856,1202a1.6,1.6 0 1,0 -3.2,0a1.6,1.6 0 1,0 3.2,0ZM1881,1194a1.6,1.6 0 1,0 -3.2,0a1.6,1.6 0 1,0 3.2,0ZM1912,1247a1.6,1.6 0 1,0 -3.2,0a1.6,1.6 0 1,0 3.2,0ZM1828,1210a1.6,1.6 0 1,0 -3.2,0a1.6,1.6 0 1,0 3.2,0ZM1904,1256a1.6,1.6 0 1,0 -3.2,0a1.6,1.6 0 1,0 3.2,0ZM1863,1234a1.6,1.6 0 1,0 -3.2,0a1.6,1.6 0 1,0 3.2,0ZM1948,1234a1.6,1.6 0 1,0 -3.2,0a1.6,1.6 0 1,0 3.2,0ZM1949,1205a1.6,1.6 0 1,0 -3.2,0a1.6,1.6 0 1,0 3.2,0ZM1818,1223a1.6,1.6 0 1,0 -3.2,0a1.6,1.6 0 1,0 3.2,0ZM1955,1224a1.6,1.6 0 1,0 -3.2,0a1.6,1.6 0 1,0 3.2,0ZM1964,1229a1.6,1.6 0 1,0 -3.2,0a1.6,1.6 0 1,0 3.2,0ZM1853,1230a1.6,1.6 0 1,0 -3.2,0a1.6,1.6 0 1,0 3.2,0ZM1848,1223a1.6,1.6 0 1,0 -3.2,0a1.6,1.6 0 1,0 3.2,0ZM1823,1217a1.6,1.6 0 1,0 -3.2,0a1.6,1.6 0 1,0 3.2,0ZM1971,1220a1.6,1.6 0 1,0 -3.2,0a1.6,1.6 0 1,0 3.2,0ZM1839,1200a1.6,1.6 0 1,0 -3.2,0a1.6,1.6 0 1,0 3.2,0ZM1912,1194a1.6,1.6 0 1,0 -3.2,0a1.6,1.6 0 1,0 3.2,0ZM1893,1190a1.6,1.6 0 1,0 -3.2,0a1.6,1.6 0 1,0 3.2,0ZM1828,1230a1.6,1.6 0 1,0 -3.2,0a1.6,1.6 0 1,0 3.2,0ZM1887,1249a1.6,1.6 0 1,0 -3.2,0a1.6,1.6 0 1,0 3.2,0ZM1893,1197a1.6,1.6 0 1,0 -3.2,0a1.6,1.6 0 1,0 3.2,0ZM1874,1198a1.6,1.6 0 1,0 -3.2,0a1.6,1.6 0 1,0 3.2,0ZM1821,1235a1.6,1.6 0 1,0 -3.2,0a1.6,1.6 0 1,0 3.2,0ZM1903,1190a1.6,1.6 0 1,0 -3.2,0a1.6,1.6 0 1,0 3.2,0ZM1815,1214a1.6,1.6 0 1,0 -3.2,0a1.6,1.6 0 1,0 3.2,0ZM1963,1203a1.6,1.6 0 1,0 -3.2,0a1.6,1.6 0 1,0 3.2,0ZM1868,1243a1.6,1.6 0 1,0 -3.2,0a1.6,1.6 0 1,0 3.2,0ZM1926,1254a1.6,1.6 0 1,0 -3.2,0a1.6,1.6 0 1,0 3.2,0ZM1861,1195a1.6,1.6 0 1,0 -3.2,0a1.6,1.6 0 1,0 3.2,0ZM1945,1198a1.6,1.6 0 1,0 -3.2,0a1.6,1.6 0 1,0 3.2,0ZM1848,1237a1.6,1.6 0 1,0 -3.2,0a1.6,1.6 0 1,0 3.2,0ZM1845,1194a1.6,1.6 0 1,0 -3.2,0a1.6,1.6 0 1,0 3.2,0ZM1864,1223a1.6,1.6 0 1,0 -3.2,0a1.6,1.6 0 1,0 3.2,0ZM1829,1195a1.6,1.6 0 1,0 -3.2,0a1.6,1.6 0 1,0 3.2,0ZM1864,1250a1.6,1.6 0 1,0 -3.2,0a1.6,1.6 0 1,0 3.2,0ZM1948,1245a1.6,1.6 0 1,0 -3.2,0a1.6,1.6 0 1,0 3.2,0ZM1832,1203a1.6,1.6 0 1,0 -3.2,0a1.6,1.6 0 1,0 3.2,0ZM1878,1186a1.6,1.6 0 1,0 -3.2,0a1.6,1.6 0 1,0 3.2,0ZM1868,1191a1.6,1.6 0 1,0 -3.2,0a1.6,1.6 0 1,0 3.2,0ZM1912,1186a1.6,1.6 0 1,0 -3.2,0a1.6,1.6 0 1,0 3.2,0ZM1956,1205a1.6,1.6 0 1,0 -3.2,0a1.6,1.6 0 1,0 3.2,0ZM1836,1237a1.6,1.6 0 1,0 -3.2,0a1.6,1.6 0 1,0 3.2,0ZM1948,1191a1.6,1.6 0 1,0 -3.2,0a1.6,1.6 0 1,0 3.2,0ZM1855,1248a1.6,1.6 0 1,0 -3.2,0a1.6,1.6 0 1,0 3.2,0ZM1844,1244a1.6,1.6 0 1,0 -3.2,0a1.6,1.6 0 1,0 3.2,0ZM1831,1242a1.6,1.6 0 1,0 -3.2,0a1.6,1.6 0 1,0 3.2,0ZM1917,1180a1.6,1.6 0 1,0 -3.2,0a1.6,1.6 0 1,0 3.2,0ZM1957,1239a1.6,1.6 0 1,0 -3.2,0a1.6,1.6 0 1,0 3.2,0ZM1824,1243a1.6,1.6 0 1,0 -3.2,0a1.6,1.6 0 1,0 3.2,0ZM1873,1253a1.6,1.6 0 1,0 -3.2,0a1.6,1.6 0 1,0 3.2,0ZM1893,1258a1.6,1.6 0 1,0 -3.2,0a1.6,1.6 0 1,0 3.2,0ZM1853,1188a1.6,1.6 0 1,0 -3.2,0a1.6,1.6 0 1,0 3.2,0ZM1923,1170a1.6,1.6 0 1,0 -3.2,0a1.6,1.6 0 1,0 3.2,0ZM1923,1265a1.6,1.6 0 1,0 -3.2,0a1.6,1.6 0 1,0 3.2,0ZM1806,1221a1.6,1.6 0 1,0 -3.2,0a1.6,1.6 0 1,0 3.2,0ZM1924,1186a1.6,1.6 0 1,0 -3.2,0a1.6,1.6 0 1,0 3.2,0ZM1973,1232a1.6,1.6 0 1,0 -3.2,0a1.6,1.6 0 1,0 3.2,0ZM1861,1241a1.6,1.6 0 1,0 -3.2,0a1.6,1.6 0 1,0 3.2,0ZM1871,1179a1.6,1.6 0 1,0 -3.2,0a1.6,1.6 0 1,0 3.2,0ZM1969,1213a1.6,1.6 0 1,0 -3.2,0a1.6,1.6 0 1,0 3.2,0ZM1816,1241a1.6,1.6 0 1,0 -3.2,0a1.6,1.6 0 1,0 3.2,0ZM1932,1257a1.6,1.6 0 1,0 -3.2,0a1.6,1.6 0 1,0 3.2,0ZM1928,1176a1.6,1.6 0 1,0 -3.2,0a1.6,1.6 0 1,0 3.2,0ZM1885,1258a1.6,1.6 0 1,0 -3.2,0a1.6,1.6 0 1,0 3.2,0ZM1967,1194a1.6,1.6 0 1,0 -3.2,0a1.6,1.6 0 1,0 3.2,0ZM1944,1185a1.6,1.6 0 1,0 -3.2,0a1.6,1.6 0 1,0 3.2,0ZM1980,1208a1.6,1.6 0 1,0 -3.2,0a1.6,1.6 0 1,0 3.2,0ZM1934,1166a1.6,1.6 0 1,0 -3.2,0a1.6,1.6 0 1,0 3.2,0ZM1861,1183a1.6,1.6 0 1,0 -3.2,0a1.6,1.6 0 1,0 3.2,0ZM1833,1252a1.6,1.6 0 1,0 -3.2,0a1.6,1.6 0 1,0 3.2,0ZM1914,1264a1.6,1.6 0 1,0 -3.2,0a1.6,1.6 0 1,0 3.2,0ZM1907,1175a1.6,1.6 0 1,0 -3.2,0a1.6,1.6 0 1,0 3.2,0ZM1932,1184a1.6,1.6 0 1,0 -3.2,0a1.6,1.6 0 1,0 3.2,0ZM1854,1262a1.6,1.6 0 1,0 -3.2,0a1.6,1.6 0 1,0 3.2,0ZM1797,1220a1.6,1.6 0 1,0 -3.2,0a1.6,1.6 0 1,0 3.2,0ZM1976,1197a1.6,1.6 0 1,0 -3.2,0a1.6,1.6 0 1,0 3.2,0ZM1920,1275a1.6,1.6 0 1,0 -3.2,0a1.6,1.6 0 1,0 3.2,0ZM1847,1256a1.6,1.6 0 1,0 -3.2,0a1.6,1.6 0 1,0 3.2,0ZM1953,1197a1.6,1.6 0 1,0 -3.2,0a1.6,1.6 0 1,0 3.2,0ZM1883,1272a1.6,1.6 0 1,0 -3.2,0a1.6,1.6 0 1,0 3.2,0ZM1942,1252a1.6,1.6 0 1,0 -3.2,0a1.6,1.6 0 1,0 3.2,0ZM1895,1248a1.6,1.6 0 1,0 -3.2,0a1.6,1.6 0 1,0 3.2,0ZM1836,1188a1.6,1.6 0 1,0 -3.2,0a1.6,1.6 0 1,0 3.2,0ZM1955,1248a1.6,1.6 0 1,0 -3.2,0a1.6,1.6 0 1,0 3.2,0ZM1835,1261a1.6,1.6 0 1,0 -3.2,0a1.6,1.6 0 1,0 3.2,0ZM1814,1249a1.6,1.6 0 1,0 -3.2,0a1.6,1.6 0 1,0 3.2,0ZM1885,1177a1.6,1.6 0 1,0 -3.2,0a1.6,1.6 0 1,0 3.2,0ZM1825,1187a1.6,1.6 0 1,0 -3.2,0a1.6,1.6 0 1,0 3.2,0ZM1914,1168a1.6,1.6 0 1,0 -3.2,0a1.6,1.6 0 1,0 3.2,0ZM1878,1248a1.6,1.6 0 1,0 -3.2,0a1.6,1.6 0 1,0 3.2,0ZM1979,1221a1.6,1.6 0 1,0 -3.2,0a1.6,1.6 0 1,0 3.2,0ZM1944,1169a1.6,1.6 0 1,0 -3.2,0a1.6,1.6 0 1,0 3.2,0ZM1899,1183a1.6,1.6 0 1,0 -3.2,0a1.6,1.6 0 1,0 3.2,0ZM1940,1176a1.6,1.6 0 1,0 -3.2,0a1.6,1.6 0 1,0 3.2,0ZM1901,1171a1.6,1.6 0 1,0 -3.2,0a1.6,1.6 0 1,0 3.2,0ZM1964,1184a1.6,1.6 0 1,0 -3.2,0a1.6,1.6 0 1,0 3.2,0ZM1847,1182a1.6,1.6 0 1,0 -3.2,0a1.6,1.6 0 1,0 3.2,0ZM1877,1175a1.6,1.6 0 1,0 -3.2,0a1.6,1.6 0 1,0 3.2,0ZM1928,1270a1.6,1.6 0 1,0 -3.2,0a1.6,1.6 0 1,0 3.2,0ZM1815,1230a1.6,1.6 0 1,0 -3.2,0a1.6,1.6 0 1,0 3.2,0ZM1943,1259a1.6,1.6 0 1,0 -3.2,0a1.6,1.6 0 1,0 3.2,0ZM1968,1247a1.6,1.6 0 1,0 -3.2,0a1.6,1.6 0 1,0 3.2,0ZM1809,1237a1.6,1.6 0 1,0 -3.2,0a1.6,1.6 0 1,0 3.2,0ZM1901,1163a1.6,1.6 0 1,0 -3.2,0a1.6,1.6 0 1,0 3.2,0ZM1867,1257a1.6,1.6 0 1,0 -3.2,0a1.6,1.6 0 1,0 3.2,0ZM1948,1177a1.6,1.6 0 1,0 -3.2,0a1.6,1.6 0 1,0 3.2,0ZM1944,1157a1.6,1.6 0 1,0 -3.2,0a1.6,1.6 0 1,0 3.2,0ZM1820,1198a1.6,1.6 0 1,0 -3.2,0a1.6,1.6 0 1,0 3.2,0ZM1885,1168a1.6,1.6 0 1,0 -3.2,0a1.6,1.6 0 1,0 3.2,0ZM1820,1254a1.6,1.6 0 1,0 -3.2,0a1.6,1.6 0 1,0 3.2,0ZM1927,1155a1.6,1.6 0 1,0 -3.2,0a1.6,1.6 0 1,0 3.2,0ZM1942,1269a1.6,1.6 0 1,0 -3.2,0a1.6,1.6 0 1,0 3.2,0ZM1867,1173a1.6,1.6 0 1,0 -3.2,0a1.6,1.6 0 1,0 3.2,0ZM1868,1270a1.6,1.6 0 1,0 -3.2,0a1.6,1.6 0 1,0 3.2,0ZM1971,1239a1.6,1.6 0 1,0 -3.2,0a1.6,1.6 0 1,0 3.2,0ZM1972,1184a1.6,1.6 0 1,0 -3.2,0a1.6,1.6 0 1,0 3.2,0ZM1804,1231a1.6,1.6 0 1,0 -3.2,0a1.6,1.6 0 1,0 3.2,0ZM1954,1185a1.6,1.6 0 1,0 -3.2,0a1.6,1.6 0 1,0 3.2,0ZM1811,1200a1.6,1.6 0 1,0 -3.2,0a1.6,1.6 0 1,0 3.2,0ZM1981,1245a1.6,1.6 0 1,0 -3.2,0a1.6,1.6 0 1,0 3.2,0ZM1972,1206a1.6,1.6 0 1,0 -3.2,0a1.6,1.6 0 1,0 3.2,0ZM1819,1205a1.6,1.6 0 1,0 -3.2,0a1.6,1.6 0 1,0 3.2,0ZM1904,1264a1.6,1.6 0 1,0 -3.2,0a1.6,1.6 0 1,0 3.2,0ZM1807,1194a1.6,1.6 0 1,0 -3.2,0a1.6,1.6 0 1,0 3.2,0ZM1805,1243a1.6,1.6 0 1,0 -3.2,0a1.6,1.6 0 1,0 3.2,0ZM1798,1228a1.6,1.6 0 1,0 -3.2,0a1.6,1.6 0 1,0 3.2,0ZM1803,1207a1.6,1.6 0 1,0 -3.2,0a1.6,1.6 0 1,0 3.2,0ZM1873,1265a1.6,1.6 0 1,0 -3.2,0a1.6,1.6 0 1,0 3.2,0ZM1853,1177a1.6,1.6 0 1,0 -3.2,0a1.6,1.6 0 1,0 3.2,0ZM1838,1273a1.6,1.6 0 1,0 -3.2,0a1.6,1.6 0 1,0 3.2,0ZM1975,1252a1.6,1.6 0 1,0 -3.2,0a1.6,1.6 0 1,0 3.2,0ZM1877,1279a1.6,1.6 0 1,0 -3.2,0a1.6,1.6 0 1,0 3.2,0ZM1860,1257a1.6,1.6 0 1,0 -3.2,0a1.6,1.6 0 1,0 3.2,0ZM1966,1172a1.6,1.6 0 1,0 -3.2,0a1.6,1.6 0 1,0 3.2,0ZM1889,1184a1.6,1.6 0 1,0 -3.2,0a1.6,1.6 0 1,0 3.2,0ZM1859,1173a1.6,1.6 0 1,0 -3.2,0a1.6,1.6 0 1,0 3.2,0ZM1969,1159a1.6,1.6 0 1,0 -3.2,0a1.6,1.6 0 1,0 3.2,0ZM1991,1219a1.6,1.6 0 1,0 -3.2,0a1.6,1.6 0 1,0 3.2,0ZM1856,1161a1.6,1.6 0 1,0 -3.2,0a1.6,1.6 0 1,0 3.2,0ZM1956,1162a1.6,1.6 0 1,0 -3.2,0a1.6,1.6 0 1,0 3.2,0ZM1860,1267a1.6,1.6 0 1,0 -3.2,0a1.6,1.6 0 1,0 3.2,0ZM1839,1253a1.6,1.6 0 1,0 -3.2,0a1.6,1.6 0 1,0 3.2,0ZM1796,1211a1.6,1.6 0 1,0 -3.2,0a1.6,1.6 0 1,0 3.2,0ZM1786,1219a1.6,1.6 0 1,0 -3.2,0a1.6,1.6 0 1,0 3.2,0ZM1956,1231a1.6,1.6 0 1,0 -3.2,0a1.6,1.6 0 1,0 3.2,0ZM1975,1165a1.6,1.6 0 1,0 -3.2,0a1.6,1.6 0 1,0 3.2,0ZM1911,1257a1.6,1.6 0 1,0 -3.2,0a1.6,1.6 0 1,0 3.2,0ZM1980,1156a1.6,1.6 0 1,0 -3.2,0a1.6,1.6 0 1,0 3.2,0ZM1953,1170a1.6,1.6 0 1,0 -3.2,0a1.6,1.6 0 1,0 3.2,0ZM1984,1214a1.6,1.6 0 1,0 -3.2,0a1.6,1.6 0 1,0 3.2,0ZM1878,1260a1.6,1.6 0 1,0 -3.2,0a1.6,1.6 0 1,0 3.2,0ZM1848,1269a1.6,1.6 0 1,0 -3.2,0a1.6,1.6 0 1,0 3.2,0ZM1874,1164a1.6,1.6 0 1,0 -3.2,0a1.6,1.6 0 1,0 3.2,0ZM1921,1159a1.6,1.6 0 1,0 -3.2,0a1.6,1.6 0 1,0 3.2,0ZM1827,1263a1.6,1.6 0 1,0 -3.2,0a1.6,1.6 0 1,0 3.2,0ZM1957,1177a1.6,1.6 0 1,0 -3.2,0a1.6,1.6 0 1,0 3.2,0ZM1887,1284a1.6,1.6 0 1,0 -3.2,0a1.6,1.6 0 1,0 3.2,0ZM1817,1180a1.6,1.6 0 1,0 -3.2,0a1.6,1.6 0 1,0 3.2,0ZM1933,1150a1.6,1.6 0 1,0 -3.2,0a1.6,1.6 0 1,0 3.2,0ZM1974,1259a1.6,1.6 0 1,0 -3.2,0a1.6,1.6 0 1,0 3.2,0ZM1842,1263a1.6,1.6 0 1,0 -3.2,0a1.6,1.6 0 1,0 3.2,0ZM1891,1172a1.6,1.6 0 1,0 -3.2,0a1.6,1.6 0 1,0 3.2,0ZM1969,1152a1.6,1.6 0 1,0 -3.2,0a1.6,1.6 0 1,0 3.2,0ZM1860,1151a1.6,1.6 0 1,0 -3.2,0a1.6,1.6 0 1,0 3.2,0ZM1936,1264a1.6,1.6 0 1,0 -3.2,0a1.6,1.6 0 1,0 3.2,0ZM1962,1252a1.6,1.6 0 1,0 -3.2,0a1.6,1.6 0 1,0 3.2,0ZM1796,1237a1.6,1.6 0 1,0 -3.2,0a1.6,1.6 0 1,0 3.2,0ZM1801,1199a1.6,1.6 0 1,0 -3.2,0a1.6,1.6 0 1,0 3.2,0ZM1866,1164a1.6,1.6 0 1,0 -3.2,0a1.6,1.6 0 1,0 3.2,0ZM1788,1225a1.6,1.6 0 1,0 -3.2,0a1.6,1.6 0 1,0 3.2,0ZM1957,1155a1.6,1.6 0 1,0 -3.2,0a1.6,1.6 0 1,0 3.2,0ZM1938,1278a1.6,1.6 0 1,0 -3.2,0a1.6,1.6 0 1,0 3.2,0ZM1870,1154a1.6,1.6 0 1,0 -3.2,0a1.6,1.6 0 1,0 3.2,0ZM1785,1233a1.6,1.6 0 1,0 -3.2,0a1.6,1.6 0 1,0 3.2,0ZM1984,1230a1.6,1.6 0 1,0 -3.2,0a1.6,1.6 0 1,0 3.2,0ZM1914,1154a1.6,1.6 0 1,0 -3.2,0a1.6,1.6 0 1,0 3.2,0ZM1928,1278a1.6,1.6 0 1,0 -3.2,0a1.6,1.6 0 1,0 3.2,0ZM1924,1149a1.6,1.6 0 1,0 -3.2,0a1.6,1.6 0 1,0 3.2,0ZM1837,1180a1.6,1.6 0 1,0 -3.2,0a1.6,1.6 0 1,0 3.2,0ZM1913,1272a1.6,1.6 0 1,0 -3.2,0a1.6,1.6 0 1,0 3.2,0ZM1788,1211a1.6,1.6 0 1,0 -3.2,0a1.6,1.6 0 1,0 3.2,0ZM1949,1280a1.6,1.6 0 1,0 -3.2,0a1.6,1.6 0 1,0 3.2,0ZM1879,1287a1.6,1.6 0 1,0 -3.2,0a1.6,1.6 0 1,0 3.2,0ZM1908,1159a1.6,1.6 0 1,0 -3.2,0a1.6,1.6 0 1,0 3.2,0ZM1813,1190a1.6,1.6 0 1,0 -3.2,0a1.6,1.6 0 1,0 3.2,0ZM1920,1289a1.6,1.6 0 1,0 -3.2,0a1.6,1.6 0 1,0 3.2,0ZM1795,1202a1.6,1.6 0 1,0 -3.2,0a1.6,1.6 0 1,0 3.2,0ZM1960,1191a1.6,1.6 0 1,0 -3.2,0a1.6,1.6 0 1,0 3.2,0ZM1911,1280a1.6,1.6 0 1,0 -3.2,0a1.6,1.6 0 1,0 3.2,0ZM1988,1197a1.6,1.6 0 1,0 -3.2,0a1.6,1.6 0 1,0 3.2,0ZM1897,1265a1.6,1.6 0 1,0 -3.2,0a1.6,1.6 0 1,0 3.2,0ZM1787,1204a1.6,1.6 0 1,0 -3.2,0a1.6,1.6 0 1,0 3.2,0ZM1975,1176a1.6,1.6 0 1,0 -3.2,0a1.6,1.6 0 1,0 3.2,0ZM1942,1287a1.6,1.6 0 1,0 -3.2,0a1.6,1.6 0 1,0 3.2,0ZM1951,1266a1.6,1.6 0 1,0 -3.2,0a1.6,1.6 0 1,0 3.2,0ZM1943,1147a1.6,1.6 0 1,0 -3.2,0a1.6,1.6 0 1,0 3.2,0ZM1997,1229a1.6,1.6 0 1,0 -3.2,0a1.6,1.6 0 1,0 3.2,0ZM1778,1221a1.6,1.6 0 1,0 -3.2,0a1.6,1.6 0 1,0 3.2,0ZM1878,1147a1.6,1.6 0 1,0 -3.2,0a1.6,1.6 0 1,0 3.2,0ZM1891,1268a1.6,1.6 0 1,0 -3.2,0a1.6,1.6 0 1,0 3.2,0ZM1978,1148a1.6,1.6 0 1,0 -3.2,0a1.6,1.6 0 1,0 3.2,0ZM1961,1143a1.6,1.6 0 1,0 -3.2,0a1.6,1.6 0 1,0 3.2,0ZM1865,1279a1.6,1.6 0 1,0 -3.2,0a1.6,1.6 0 1,0 3.2,0ZM1897,1273a1.6,1.6 0 1,0 -3.2,0a1.6,1.6 0 1,0 3.2,0ZM1895,1291a1.6,1.6 0 1,0 -3.2,0a1.6,1.6 0 1,0 3.2,0ZM1904,1153a1.6,1.6 0 1,0 -3.2,0a1.6,1.6 0 1,0 3.2,0ZM1906,1182a1.6,1.6 0 1,0 -3.2,0a1.6,1.6 0 1,0 3.2,0ZM1891,1279a1.6,1.6 0 1,0 -3.2,0a1.6,1.6 0 1,0 3.2,0ZM1900,1284a1.6,1.6 0 1,0 -3.2,0a1.6,1.6 0 1,0 3.2,0ZM1854,1275a1.6,1.6 0 1,0 -3.2,0a1.6,1.6 0 1,0 3.2,0ZM1839,1167a1.6,1.6 0 1,0 -3.2,0a1.6,1.6 0 1,0 3.2,0ZM1789,1190a1.6,1.6 0 1,0 -3.2,0a1.6,1.6 0 1,0 3.2,0ZM1927,1142a1.6,1.6 0 1,0 -3.2,0a1.6,1.6 0 1,0 3.2,0ZM1909,1292a1.6,1.6 0 1,0 -3.2,0a1.6,1.6 0 1,0 3.2,0ZM1931,1289a1.6,1.6 0 1,0 -3.2,0a1.6,1.6 0 1,0 3.2,0ZM1927,1298a1.6,1.6 0 1,0 -3.2,0a1.6,1.6 0 1,0 3.2,0ZM1879,1157a1.6,1.6 0 1,0 -3.2,0a1.6,1.6 0 1,0 3.2,0ZM1983,1172a1.6,1.6 0 1,0 -3.2,0a1.6,1.6 0 1,0 3.2,0ZM1912,1141a1.6,1.6 0 1,0 -3.2,0a1.6,1.6 0 1,0 3.2,0ZM1899,1298a1.6,1.6 0 1,0 -3.2,0a1.6,1.6 0 1,0 3.2,0ZM1885,1145a1.6,1.6 0 1,0 -3.2,0a1.6,1.6 0 1,0 3.2,0ZM1825,1177a1.6,1.6 0 1,0 -3.2,0a1.6,1.6 0 1,0 3.2,0ZM1872,1295a1.6,1.6 0 1,0 -3.2,0a1.6,1.6 0 1,0 3.2,0ZM1906,1271a1.6,1.6 0 1,0 -3.2,0a1.6,1.6 0 1,0 3.2,0ZM1967,1260a1.6,1.6 0 1,0 -3.2,0a1.6,1.6 0 1,0 3.2,0ZM1951,1141a1.6,1.6 0 1,0 -3.2,0a1.6,1.6 0 1,0 3.2,0ZM1889,1296a1.6,1.6 0 1,0 -3.2,0a1.6,1.6 0 1,0 3.2,0ZM1919,1301a1.6,1.6 0 1,0 -3.2,0a1.6,1.6 0 1,0 3.2,0ZM1865,1287a1.6,1.6 0 1,0 -3.2,0a1.6,1.6 0 1,0 3.2,0ZM1810,1208a1.6,1.6 0 1,0 -3.2,0a1.6,1.6 0 1,0 3.2,0ZM1952,1148a1.6,1.6 0 1,0 -3.2,0a1.6,1.6 0 1,0 3.2,0ZM1986,1183a1.6,1.6 0 1,0 -3.2,0a1.6,1.6 0 1,0 3.2,0ZM1904,1144a1.6,1.6 0 1,0 -3.2,0a1.6,1.6 0 1,0 3.2,0ZM1968,1141a1.6,1.6 0 1,0 -3.2,0a1.6,1.6 0 1,0 3.2,0ZM1783,1196a1.6,1.6 0 1,0 -3.2,0a1.6,1.6 0 1,0 3.2,0ZM1993,1158a1.6,1.6 0 1,0 -3.2,0a1.6,1.6 0 1,0 3.2,0ZM1939,1140a1.6,1.6 0 1,0 -3.2,0a1.6,1.6 0 1,0 3.2,0ZM1911,1300a1.6,1.6 0 1,0 -3.2,0a1.6,1.6 0 1,0 3.2,0ZM1880,1296a1.6,1.6 0 1,0 -3.2,0a1.6,1.6 0 1,0 3.2,0ZM1950,1255a1.6,1.6 0 1,0 -3.2,0a1.6,1.6 0 1,0 3.2,0ZM1886,1154a1.6,1.6 0 1,0 -3.2,0a1.6,1.6 0 1,0 3.2,0ZM1979,1188a1.6,1.6 0 1,0 -3.2,0a1.6,1.6 0 1,0 3.2,0ZM1919,1138a1.6,1.6 0 1,0 -3.2,0a1.6,1.6 0 1,0 3.2,0ZM1999,1184a1.6,1.6 0 1,0 -3.2,0a1.6,1.6 0 1,0 3.2,0ZM1959,1264a1.6,1.6 0 1,0 -3.2,0a1.6,1.6 0 1,0 3.2,0ZM1989,1208a1.6,1.6 0 1,0 -3.2,0a1.6,1.6 0 1,0 3.2,0ZM1895,1155a1.6,1.6 0 1,0 -3.2,0a1.6,1.6 0 1,0 3.2,0ZM1890,1162a1.6,1.6 0 1,0 -3.2,0a1.6,1.6 0 1,0 3.2,0ZM1980,1265a1.6,1.6 0 1,0 -3.2,0a1.6,1.6 0 1,0 3.2,0ZM1800,1182a1.6,1.6 0 1,0 -3.2,0a1.6,1.6 0 1,0 3.2,0ZM1987,1238a1.6,1.6 0 1,0 -3.2,0a1.6,1.6 0 1,0 3.2,0ZM1960,1272a1.6,1.6 0 1,0 -3.2,0a1.6,1.6 0 1,0 3.2,0ZM1937,1294a1.6,1.6 0 1,0 -3.2,0a1.6,1.6 0 1,0 3.2,0ZM2000,1210a1.6,1.6 0 1,0 -3.2,0a1.6,1.6 0 1,0 3.2,0ZM1835,1174a1.6,1.6 0 1,0 -3.2,0a1.6,1.6 0 1,0 3.2,0ZM1967,1284a1.6,1.6 0 1,0 -3.2,0a1.6,1.6 0 1,0 3.2,0ZM1893,1147a1.6,1.6 0 1,0 -3.2,0a1.6,1.6 0 1,0 3.2,0ZM1963,1164a1.6,1.6 0 1,0 -3.2,0a1.6,1.6 0 1,0 3.2,0ZM1934,1300a1.6,1.6 0 1,0 -3.2,0a1.6,1.6 0 1,0 3.2,0ZM1830,1183a1.6,1.6 0 1,0 -3.2,0a1.6,1.6 0 1,0 3.2,0ZM1967,1270a1.6,1.6 0 1,0 -3.2,0a1.6,1.6 0 1,0 3.2,0ZM1917,1147a1.6,1.6 0 1,0 -3.2,0a1.6,1.6 0 1,0 3.2,0ZM1936,1157a1.6,1.6 0 1,0 -3.2,0a1.6,1.6 0 1,0 3.2,0ZM1854,1168a1.6,1.6 0 1,0 -3.2,0a1.6,1.6 0 1,0 3.2,0ZM1988,1164a1.6,1.6 0 1,0 -3.2,0a1.6,1.6 0 1,0 3.2,0ZM1864,1295a1.6,1.6 0 1,0 -3.2,0a1.6,1.6 0 1,0 3.2,0ZM1985,1150a1.6,1.6 0 1,0 -3.2,0a1.6,1.6 0 1,0 3.2,0ZM1850,1155a1.6,1.6 0 1,0 -3.2,0a1.6,1.6 0 1,0 3.2,0ZM1806,1187a1.6,1.6 0 1,0 -3.2,0a1.6,1.6 0 1,0 3.2,0ZM1998,1239a1.6,1.6 0 1,0 -3.2,0a1.6,1.6 0 1,0 3.2,0ZM1972,1278a1.6,1.6 0 1,0 -3.2,0a1.6,1.6 0 1,0 3.2,0ZM1991,1171a1.6,1.6 0 1,0 -3.2,0a1.6,1.6 0 1,0 3.2,0ZM1848,1164a1.6,1.6 0 1,0 -3.2,0a1.6,1.6 0 1,0 3.2,0ZM1855,1291a1.6,1.6 0 1,0 -3.2,0a1.6,1.6 0 1,0 3.2,0ZM1979,1276a1.6,1.6 0 1,0 -3.2,0a1.6,1.6 0 1,0 3.2,0ZM1807,1174a1.6,1.6 0 1,0 -3.2,0a1.6,1.6 0 1,0 3.2,0ZM2000,1172a1.6,1.6 0 1,0 -3.2,0a1.6,1.6 0 1,0 3.2,0ZM1779,1204a1.6,1.6 0 1,0 -3.2,0a1.6,1.6 0 1,0 3.2,0ZM1844,1159a1.6,1.6 0 1,0 -3.2,0a1.6,1.6 0 1,0 3.2,0ZM1982,1253a1.6,1.6 0 1,0 -3.2,0a1.6,1.6 0 1,0 3.2,0ZM1846,1172a1.6,1.6 0 1,0 -3.2,0a1.6,1.6 0 1,0 3.2,0ZM1829,1169a1.6,1.6 0 1,0 -3.2,0a1.6,1.6 0 1,0 3.2,0ZM1835,1160a1.6,1.6 0 1,0 -3.2,0a1.6,1.6 0 1,0 3.2,0ZM1796,1193a1.6,1.6 0 1,0 -3.2,0a1.6,1.6 0 1,0 3.2,0ZM1828,1280a1.6,1.6 0 1,0 -3.2,0a1.6,1.6 0 1,0 3.2,0ZM1994,1249a1.6,1.6 0 1,0 -3.2,0a1.6,1.6 0 1,0 3.2,0ZM2001,1199a1.6,1.6 0 1,0 -3.2,0a1.6,1.6 0 1,0 3.2,0ZM1990,1226a1.6,1.6 0 1,0 -3.2,0a1.6,1.6 0 1,0 3.2,0ZM1820,1169a1.6,1.6 0 1,0 -3.2,0a1.6,1.6 0 1,0 3.2,0ZM1960,1293a1.6,1.6 0 1,0 -3.2,0a1.6,1.6 0 1,0 3.2,0ZM1958,1283a1.6,1.6 0 1,0 -3.2,0a1.6,1.6 0 1,0 3.2,0ZM1969,1291a1.6,1.6 0 1,0 -3.2,0a1.6,1.6 0 1,0 3.2,0ZM2009,1202a1.6,1.6 0 1,0 -3.2,0a1.6,1.6 0 1,0 3.2,0ZM1847,1278a1.6,1.6 0 1,0 -3.2,0a1.6,1.6 0 1,0 3.2,0ZM1996,1166a1.6,1.6 0 1,0 -3.2,0a1.6,1.6 0 1,0 3.2,0ZM1953,1297a1.6,1.6 0 1,0 -3.2,0a1.6,1.6 0 1,0 3.2,0ZM1792,1182a1.6,1.6 0 1,0 -3.2,0a1.6,1.6 0 1,0 3.2,0ZM1842,1285a1.6,1.6 0 1,0 -3.2,0a1.6,1.6 0 1,0 3.2,0ZM1854,1284a1.6,1.6 0 1,0 -3.2,0a1.6,1.6 0 1,0 3.2,0ZM1950,1288a1.6,1.6 0 1,0 -3.2,0a1.6,1.6 0 1,0 3.2,0ZM1947,1301a1.6,1.6 0 1,0 -3.2,0a1.6,1.6 0 1,0 3.2,0ZM1988,1190a1.6,1.6 0 1,0 -3.2,0a1.6,1.6 0 1,0 3.2,0ZM1992,1256a1.6,1.6 0 1,0 -3.2,0a1.6,1.6 0 1,0 3.2,0ZM1776,1211a1.6,1.6 0 1,0 -3.2,0a1.6,1.6 0 1,0 3.2,0ZM1910,1149a1.6,1.6 0 1,0 -3.2,0a1.6,1.6 0 1,0 3.2,0ZM2006,1234a1.6,1.6 0 1,0 -3.2,0a1.6,1.6 0 1,0 3.2,0ZM2006,1182a1.6,1.6 0 1,0 -3.2,0a1.6,1.6 0 1,0 3.2,0ZM1994,1178a1.6,1.6 0 1,0 -3.2,0a1.6,1.6 0 1,0 3.2,0ZM1998,1193a1.6,1.6 0 1,0 -3.2,0a1.6,1.6 0 1,0 3.2,0ZM1835,1282a1.6,1.6 0 1,0 -3.2,0a1.6,1.6 0 1,0 3.2,0ZM1945,1294a1.6,1.6 0 1,0 -3.2,0a1.6,1.6 0 1,0 3.2,0ZM1830,1269a1.6,1.6 0 1,0 -3.2,0a1.6,1.6 0 1,0 3.2,0ZM1999,1217a1.6,1.6 0 1,0 -3.2,0a1.6,1.6 0 1,0 3.2,0ZM1781,1228a1.6,1.6 0 1,0 -3.2,0a1.6,1.6 0 1,0 3.2,0ZM1810,1181a1.6,1.6 0 1,0 -3.2,0a1.6,1.6 0 1,0 3.2,0ZM2004,1248a1.6,1.6 0 1,0 -3.2,0a1.6,1.6 0 1,0 3.2,0ZM2013,1215a1.6,1.6 0 1,0 -3.2,0a1.6,1.6 0 1,0 3.2,0ZM2008,1223a1.6,1.6 0 1,0 -3.2,0a1.6,1.6 0 1,0 3.2,0ZM2017,1207a1.6,1.6 0 1,0 -3.2,0a1.6,1.6 0 1,0 3.2,0ZM1848,1291a1.6,1.6 0 1,0 -3.2,0a1.6,1.6 0 1,0 3.2,0ZM2022,1215a1.6,1.6 0 1,0 -3.2,0a1.6,1.6 0 1,0 3.2,0ZM2019,1225a1.6,1.6 0 1,0 -3.2,0a1.6,1.6 0 1,0 3.2,0ZM1871,1145a1.6,1.6 0 1,0 -3.2,0a1.6,1.6 0 1,0 3.2,0ZM1975,1270a1.6,1.6 0 1,0 -3.2,0a1.6,1.6 0 1,0 3.2,0ZM2010,1191a1.6,1.6 0 1,0 -3.2,0a1.6,1.6 0 1,0 3.2,0ZM2018,1192a1.6,1.6 0 1,0 -3.2,0a1.6,1.6 0 1,0 3.2,0ZM2014,1243a1.6,1.6 0 1,0 -3.2,0a1.6,1.6 0 1,0 3.2,0ZM2019,1237a1.6,1.6 0 1,0 -3.2,0a1.6,1.6 0 1,0 3.2,0ZM2023,1202a1.6,1.6 0 1,0 -3.2,0a1.6,1.6 0 1,0 3.2,0ZM2017,1200a1.6,1.6 0 1,0 -3.2,0a1.6,1.6 0 1,0 3.2,0ZM1821,1265a1.6,1.6 0 1,0 -3.2,0a1.6,1.6 0 1,0 3.2,0ZM1824,1273a1.6,1.6 0 1,0 -3.2,0a1.6,1.6 0 1,0 3.2,0ZM1952,1273a1.6,1.6 0 1,0 -3.2,0a1.6,1.6 0 1,0 3.2,0ZM2029,1211a1.6,1.6 0 1,0 -3.2,0a1.6,1.6 0 1,0 3.2,0ZM2013,1231a1.6,1.6 0 1,0 -3.2,0a1.6,1.6 0 1,0 3.2,0ZM2027,1230a1.6,1.6 0 1,0 -3.2,0a1.6,1.6 0 1,0 3.2,0ZM1986,1261a1.6,1.6 0 1,0 -3.2,0a1.6,1.6 0 1,0 3.2,0ZM2032,1219a1.6,1.6 0 1,0 -3.2,0a1.6,1.6 0 1,0 3.2,0Z" fill="#3a2a30" opacity="0.55" filter="url(#b06)"/>
<ellipse cx="1813.0" cy="1204.2" rx="36.2" ry="36.2" fill="url(#gP)" opacity="0.55" style="mix-blend-mode:multiply"/>
<ellipse cx="1842.0" cy="1269.5" rx="29.0" ry="21.7" fill="url(#gP)" opacity="0.50" style="mix-blend-mode:multiply"/>
<ellipse cx="1958.0" cy="1266.6" rx="29.0" ry="26.1" fill="url(#gP)" opacity="0.50" style="mix-blend-mode:multiply"/>
<ellipse cx="1994.2" cy="1218.7" rx="21.7" ry="29.0" fill="url(#gP)" opacity="0.45" style="mix-blend-mode:multiply"/>
<path d="M1760.8,1157.8C1763.5,1155.9 1770.5,1148.9 1776.7,1146.2C1783.0,1143.6 1792.0,1142.1 1798.5,1141.9C1805.0,1141.7 1811.1,1142.1 1815.9,1144.8C1820.7,1147.5 1825.6,1155.7 1827.5,1157.8" fill="none" stroke="#6a6a6a" stroke-width="1.6" filter="url(#b06)"/>
<path d="M1844.9,1121.6C1846.8,1124.5 1851.6,1136.6 1856.5,1139.0C1861.3,1141.4 1869.0,1139.0 1873.9,1136.1C1878.7,1133.2 1883.5,1124.0 1885.5,1121.6" fill="none" stroke="#6a6a6a" stroke-width="1.6" filter="url(#b06)"/>
<path d="M1911.6,1121.6C1914.5,1123.3 1921.2,1130.5 1929.0,1131.7C1936.7,1133.0 1948.3,1128.6 1958.0,1128.8C1967.6,1129.1 1977.3,1132.7 1987.0,1133.2C1996.6,1133.7 2006.8,1129.3 2015.9,1131.7C2025.1,1134.2 2037.7,1145.0 2042.0,1147.7" fill="none" stroke="#6a6a6a" stroke-width="1.6" filter="url(#b06)"/>
<path d="M1773.8,1178.1C1778.0,1176.9 1789.6,1172.8 1798.5,1170.9C1807.4,1169.0 1822.7,1167.3 1827.5,1166.5" fill="none" stroke="#6a6a6a" stroke-width="1.6" filter="url(#b06)"/>
<ellipse cx="1965.2" cy="1143.3" rx="21.7" ry="7.2" fill="#8a3a1a" opacity="0.85" filter="url(#b2)"/>
<rect x="2022.5" y="1242.0" width="7.7" height="56.5" fill="#000"/>
</g>
<text x="10.02" y="396.24" font-size="26.41" font-weight="bold">C</text>
<text x="286.47" y="384.09" font-size="30.65">1 D</text>
<line x1="133.6" y1="394.9" x2="524.5" y2="394.9" stroke="#000" stroke-width="1.7"/>
<text x="825.44" y="382.25" font-size="31.07">2 D</text>
<line x1="650.7" y1="394.3" x2="1067.1" y2="394.3" stroke="#000" stroke-width="1.7"/>
<text x="114.77" y="435.98" font-size="31.09" font-style="italic">pSPL:GFP</text>
<text x="333.87" y="435.25" font-size="30.77" font-style="italic">pSPL:GFP<tspan font-style="normal" font-weight="normal"> / PI</tspan></text>
<text x="633.57" y="433.34" font-size="30.93" font-style="italic">pSPL:GFP</text>
<text x="877.97" y="433.70" font-size="30.77" font-style="italic">pSPL:GFP<tspan font-style="normal" font-weight="normal"> / PI</tspan></text>
<text transform="translate(30.63 581.21) rotate(-90)" font-size="30.54">Mock</text>
<text transform="translate(29.58 754.31) rotate(-90)" font-size="30.64">Man</text>
<text x="11.86" y="893.20" font-size="30.52" font-weight="bold">D</text>
<text x="286.47" y="885.89" font-size="30.65">1 D</text>
<line x1="146.9" y1="901.8" x2="529.8" y2="901.8" stroke="#000" stroke-width="1.7"/>
<text x="816.24" y="886.40" font-size="30.93">2 D</text>
<line x1="649.0" y1="901.5" x2="1054.0" y2="901.5" stroke="#000" stroke-width="1.7"/>
<text x="123.87" y="940.71" font-size="30.80" font-style="italic">pSPL:GFP</text>
<text x="333.37" y="941.12" font-size="30.84" font-style="italic">pSPL:GFP<tspan font-style="normal" font-weight="normal"> / PI</tspan></text>
<text x="629.87" y="940.71" font-size="30.82" font-style="italic">pSPL:GFP</text>
<text x="874.27" y="941.10" font-size="30.77" font-style="italic">pSPL:GFP<tspan font-style="normal" font-weight="normal"> / PI</tspan></text>
<text transform="translate(37.26 1095.11) rotate(-90)" font-size="30.58">Mock</text>
<text transform="translate(36.12 1264.62) rotate(-90)" font-size="30.56">Isx</text>
<text x="1136.65" y="1095.10" font-size="33.58" font-weight="bold">I</text>
<text x="1251.19" y="1100.78" font-size="30.58">Mock</text>
<text x="1585.41" y="1101.56" font-size="31.58">Man</text>
<text x="1877.67" y="1097.12" font-size="31.75">Isx</text>
<line x1="167.3" y1="60.5" x2="167.3" y2="274.7" stroke="#000" stroke-width="2.1"/>
<line x1="158.2" y1="273.6" x2="548.8" y2="273.6" stroke="#000" stroke-width="2.1"/>
<line x1="158.2" y1="273.6" x2="167.3" y2="273.6" stroke="#000" stroke-width="2.1"/>
<line x1="158.2" y1="203.0" x2="167.3" y2="203.0" stroke="#000" stroke-width="2.1"/>
<line x1="158.2" y1="132.6" x2="167.3" y2="132.6" stroke="#000" stroke-width="2.1"/>
<line x1="158.2" y1="61.5" x2="167.3" y2="61.5" stroke="#000" stroke-width="2.1"/>
<rect x="179.1" y="97.0" width="45.8" height="175.6" fill="#A997A9"/>
<rect x="237.3" y="135.0" width="45.8" height="137.6" fill="#C8ABBF"/>
<rect x="306.2" y="97.0" width="45.8" height="175.6" fill="#A997A9"/>
<rect x="364.4" y="195.2" width="45.8" height="77.4" fill="#C8ABBF"/>
<rect x="433.7" y="97.0" width="45.8" height="175.6" fill="#A997A9"/>
<rect x="491.9" y="207.7" width="45.8" height="64.9" fill="#C8ABBF"/>
<line x1="201.9" y1="94.8" x2="201.9" y2="99.6" stroke="#000" stroke-width="2"/>
<line x1="193.3" y1="94.8" x2="210.5" y2="94.8" stroke="#000" stroke-width="2"/>
<line x1="193.3" y1="99.6" x2="210.5" y2="99.6" stroke="#000" stroke-width="2"/>
<line x1="260.1" y1="128.0" x2="260.1" y2="142.2" stroke="#000" stroke-width="2"/>
<line x1="251.5" y1="128.0" x2="268.7" y2="128.0" stroke="#000" stroke-width="2"/>
<line x1="251.5" y1="142.2" x2="268.7" y2="142.2" stroke="#000" stroke-width="2"/>
<line x1="329.0" y1="91.3" x2="329.0" y2="103.1" stroke="#000" stroke-width="2"/>
<line x1="320.2" y1="91.3" x2="337.8" y2="91.3" stroke="#000" stroke-width="2"/>
<line x1="320.2" y1="103.1" x2="337.8" y2="103.1" stroke="#000" stroke-width="2"/>
<line x1="378.3" y1="195.0" x2="396.3" y2="195.0" stroke="#000" stroke-width="2.2"/>
<line x1="455.0" y1="93.7" x2="455.0" y2="100.3" stroke="#000" stroke-width="2"/>
<line x1="446.4" y1="93.7" x2="463.6" y2="93.7" stroke="#000" stroke-width="2"/>
<line x1="446.4" y1="100.3" x2="463.6" y2="100.3" stroke="#000" stroke-width="2"/>
<line x1="504.6" y1="207.5" x2="522.6" y2="207.5" stroke="#000" stroke-width="2.2"/>
<text x="188.88" y="60.26" font-size="30.67">Mock</text>
<rect x="273.9" y="36.9" width="38.8" height="23.0" fill="#A997A9"/>
<text x="336.46" y="55.58" font-size="30.92">Man</text>
<rect x="404.0" y="34.1" width="39.0" height="22.8" fill="#C8ABBF"/>
<text x="251.05" y="119.26" font-size="27.73">**</text>
<text x="372.83" y="184.12" font-size="29.41">***</text>
<text x="501.14" y="201.06" font-size="28.70">***</text>
<text x="99.01" y="71.25" font-size="30.07">1.2</text>
<text x="98.52" y="141.85" font-size="30.21">0.8</text>
<text x="98.53" y="212.19" font-size="29.88">0.4</text>
<text x="124.53" y="282.61" font-size="29.94">0</text>
<text x="208.02" y="319.20" font-size="29.96">1 D</text>
<text x="334.57" y="319.51" font-size="30.38">2 D</text>
<text x="462.35" y="319.30" font-size="30.20">3 D</text>
<text x="17.74" y="36.80" font-size="34.45" font-weight="bold">A</text>
<text transform="translate(49.96 268.86) rotate(-90)" font-size="31.27">Relative <tspan font-style="italic">SPL</tspan></text>
<text transform="translate(87.56 290.62) rotate(-90)" font-size="31.00">expression level</text>
<line x1="721.9" y1="58.0" x2="721.9" y2="273.9" stroke="#000" stroke-width="2.1"/>
<line x1="712.1" y1="272.9" x2="1098.6" y2="272.9" stroke="#000" stroke-width="2.1"/>
<line x1="712.1" y1="272.9" x2="721.9" y2="272.9" stroke="#000" stroke-width="2.1"/>
<line x1="712.1" y1="201.7" x2="721.9" y2="201.7" stroke="#000" stroke-width="2.1"/>
<line x1="712.1" y1="130.3" x2="721.9" y2="130.3" stroke="#000" stroke-width="2.1"/>
<line x1="712.1" y1="59.3" x2="721.9" y2="59.3" stroke="#000" stroke-width="2.1"/>
<rect x="733.1" y="95.1" width="45.6" height="176.8" fill="#A997A9"/>
<rect x="790.5" y="144.6" width="45.6" height="127.3" fill="#C8ABBF"/>
<rect x="858.9" y="95.1" width="45.6" height="176.8" fill="#A997A9"/>
<rect x="916.3" y="187.9" width="45.6" height="84.0" fill="#C8ABBF"/>
<rect x="984.5" y="95.1" width="45.6" height="176.8" fill="#A997A9"/>
<rect x="1041.8" y="215.0" width="45.6" height="56.9" fill="#C8ABBF"/>
<line x1="755.7" y1="90.7" x2="755.7" y2="98.4" stroke="#000" stroke-width="2"/>
<line x1="747.1" y1="90.7" x2="764.3" y2="90.7" stroke="#000" stroke-width="2"/>
<line x1="747.1" y1="98.4" x2="764.3" y2="98.4" stroke="#000" stroke-width="2"/>
<line x1="813.2" y1="138.0" x2="813.2" y2="149.6" stroke="#000" stroke-width="2"/>
<line x1="804.9" y1="138.0" x2="821.5" y2="138.0" stroke="#000" stroke-width="2"/>
<line x1="804.9" y1="149.6" x2="821.5" y2="149.6" stroke="#000" stroke-width="2"/>
<line x1="881.3" y1="88.8" x2="881.3" y2="100.9" stroke="#000" stroke-width="2"/>
<line x1="872.7" y1="88.8" x2="889.9" y2="88.8" stroke="#000" stroke-width="2"/>
<line x1="872.7" y1="100.9" x2="889.9" y2="100.9" stroke="#000" stroke-width="2"/>
<line x1="932.0" y1="188.0" x2="948.0" y2="188.0" stroke="#000" stroke-width="3"/>
<line x1="1007.0" y1="90.7" x2="1007.0" y2="99.1" stroke="#000" stroke-width="2"/>
<line x1="998.4" y1="90.7" x2="1015.6" y2="90.7" stroke="#000" stroke-width="2"/>
<line x1="998.4" y1="99.1" x2="1015.6" y2="99.1" stroke="#000" stroke-width="2"/>
<line x1="1064.6" y1="212.0" x2="1064.6" y2="217.5" stroke="#000" stroke-width="2"/>
<line x1="1056.8" y1="212.0" x2="1072.4" y2="212.0" stroke="#000" stroke-width="2"/>
<line x1="1056.8" y1="217.5" x2="1072.4" y2="217.5" stroke="#000" stroke-width="2"/>
<text x="754.98" y="60.04" font-size="30.75">Mock</text>
<rect x="839.4" y="35.7" width="38.6" height="23.0" fill="#A997A9"/>
<text x="908.36" y="57.42" font-size="30.73">Isx</text>
<rect x="955.0" y="34.2" width="38.3" height="23.6" fill="#C8ABBF"/>
<text x="799.44" y="128.61" font-size="28.62">***</text>
<text x="924.74" y="180.03" font-size="28.26">***</text>
<text x="1050.14" y="206.38" font-size="28.35">***</text>
<text x="654.05" y="68.53" font-size="29.60">1.2</text>
<text x="653.95" y="139.86" font-size="29.52">0.8</text>
<text x="653.96" y="211.50" font-size="29.20">0.4</text>
<text x="678.94" y="282.01" font-size="29.66">0</text>
<text x="761.91" y="319.25" font-size="30.10">1 D</text>
<text x="886.03" y="319.82" font-size="31.28">2 D</text>
<text x="1012.43" y="319.46" font-size="30.68">3 D</text>
<text x="566.41" y="31.40" font-size="32.70" font-weight="bold">B</text>
<text transform="translate(603.87 262.07) rotate(-90)" font-size="31.28">Relative <tspan font-style="italic">SPL</tspan></text>
<text transform="translate(640.78 282.81) rotate(-90)" font-size="30.89">expression level</text>
<line x1="1334.1" y1="66.8" x2="1334.1" y2="444.6" stroke="#000" stroke-width="2.1"/>
<line x1="1324.4" y1="443.5" x2="1567.5" y2="443.5" stroke="#000" stroke-width="2.1"/>
<line x1="1324.4" y1="443.5" x2="1334.1" y2="443.5" stroke="#000" stroke-width="2.1"/>
<line x1="1324.4" y1="318.7" x2="1334.1" y2="318.7" stroke="#000" stroke-width="2.1"/>
<line x1="1324.4" y1="193.8" x2="1334.1" y2="193.8" stroke="#000" stroke-width="2.1"/>
<line x1="1324.4" y1="68.2" x2="1334.1" y2="68.2" stroke="#000" stroke-width="2.1"/>
<rect x="1353.3" y="131.3" width="77.7" height="311.1" fill="#DB88F6"/>
<rect x="1470.4" y="239.3" width="77.8" height="203.1" fill="#C9FDC8"/>
<line x1="1392.3" y1="125.6" x2="1392.3" y2="136.3" stroke="#000" stroke-width="2"/>
<line x1="1383.6" y1="125.6" x2="1401.0" y2="125.6" stroke="#000" stroke-width="2"/>
<line x1="1383.6" y1="136.3" x2="1401.0" y2="136.3" stroke="#000" stroke-width="2"/>
<line x1="1509.6" y1="236.5" x2="1509.6" y2="241.6" stroke="#000" stroke-width="2"/>
<line x1="1500.9" y1="236.5" x2="1518.3" y2="236.5" stroke="#000" stroke-width="2"/>
<line x1="1500.9" y1="241.6" x2="1518.3" y2="241.6" stroke="#000" stroke-width="2"/>
<text x="1256.32" y="77.53" font-size="29.87">120</text>
<text x="1273.32" y="202.76" font-size="29.52">80</text>
<text x="1272.90" y="328.72" font-size="30.56">40</text>
<text x="1290.26" y="453.02" font-size="29.10">0</text>
<text x="1430.29" y="80.35" font-size="30.37">1 D</text>
<text x="1490.04" y="198.71" font-size="28.70">***</text>
<text x="1354.79" y="490.91" font-size="30.54">Mock</text>
<text x="1479.24" y="490.60" font-size="31.25">Man</text>
<text x="1154.44" y="31.00" font-size="32.27" font-weight="bold">E</text>
<text transform="translate(1226.24 429.65) rotate(-90)" font-size="31.11">Relative GFP intensity (%)</text>
<line x1="1768.2" y1="53.9" x2="1768.2" y2="431.9" stroke="#000" stroke-width="2.1"/>
<line x1="1759.0" y1="430.8" x2="2001.0" y2="430.8" stroke="#000" stroke-width="2.1"/>
<line x1="1759.0" y1="430.8" x2="1768.2" y2="430.8" stroke="#000" stroke-width="2.1"/>
<line x1="1759.0" y1="305.0" x2="1768.2" y2="305.0" stroke="#000" stroke-width="2.1"/>
<line x1="1759.0" y1="180.1" x2="1768.2" y2="180.1" stroke="#000" stroke-width="2.1"/>
<line x1="1759.0" y1="55.1" x2="1768.2" y2="55.1" stroke="#000" stroke-width="2.1"/>
<rect x="1787.9" y="118.0" width="77.1" height="311.8" fill="#DB88F6"/>
<rect x="1904.2" y="258.2" width="77.6" height="171.6" fill="#C9FDC8"/>
<line x1="1826.7" y1="114.3" x2="1826.7" y2="120.7" stroke="#000" stroke-width="2"/>
<line x1="1818.2" y1="114.3" x2="1835.2" y2="114.3" stroke="#000" stroke-width="2"/>
<line x1="1818.2" y1="120.7" x2="1835.2" y2="120.7" stroke="#000" stroke-width="2"/>
<line x1="1934.7" y1="258.0" x2="1951.7" y2="258.0" stroke="#000" stroke-width="3"/>
<text x="1690.70" y="64.62" font-size="30.26">120</text>
<text x="1708.11" y="189.33" font-size="29.71">80</text>
<text x="1708.01" y="315.37" font-size="30.28">40</text>
<text x="1725.36" y="439.42" font-size="29.10">0</text>
<text x="1886.37" y="75.41" font-size="30.52">2 D</text>
<text x="1928.54" y="230.17" font-size="28.53">***</text>
<text x="1788.67" y="477.87" font-size="30.84">Mock</text>
<text x="1912.94" y="477.45" font-size="31.25">Man</text>
<text x="1597.63" y="29.10" font-size="29.51" font-weight="bold">F</text>
<text transform="translate(1671.01 430.45) rotate(-90)" font-size="31.07">Relative GFP intensity (%)</text>
<line x1="1342.0" y1="567.2" x2="1342.0" y2="961.0" stroke="#444" stroke-width="1.6"/>
<line x1="1332.8" y1="960.2" x2="1571.9" y2="960.2" stroke="#444" stroke-width="1.6"/>
<line x1="1332.8" y1="960.2" x2="1342.0" y2="960.2" stroke="#444" stroke-width="1.6"/>
<line x1="1332.8" y1="829.3" x2="1342.0" y2="829.3" stroke="#444" stroke-width="1.6"/>
<line x1="1332.8" y1="698.3" x2="1342.0" y2="698.3" stroke="#444" stroke-width="1.6"/>
<line x1="1332.8" y1="568.1" x2="1342.0" y2="568.1" stroke="#444" stroke-width="1.6"/>
<rect x="1361.1" y="633.4" width="76.6" height="326.0" fill="#DB88F6"/>
<rect x="1476.3" y="791.6" width="76.4" height="167.8" fill="#C9FDC8"/>
<line x1="1399.4" y1="625.5" x2="1399.4" y2="641.0" stroke="#000" stroke-width="1.5"/>
<line x1="1390.8" y1="625.5" x2="1408.0" y2="625.5" stroke="#000" stroke-width="1.5"/>
<line x1="1390.8" y1="641.0" x2="1408.0" y2="641.0" stroke="#000" stroke-width="1.5"/>
<line x1="1514.6" y1="782.3" x2="1514.6" y2="799.9" stroke="#000" stroke-width="1.5"/>
<line x1="1506.2" y1="782.3" x2="1523.0" y2="782.3" stroke="#000" stroke-width="1.5"/>
<line x1="1506.2" y1="799.9" x2="1523.0" y2="799.9" stroke="#000" stroke-width="1.5"/>
<text x="1264.40" y="577.39" font-size="30.20">120</text>
<text x="1281.81" y="708.55" font-size="29.62">80</text>
<text x="1281.21" y="838.99" font-size="30.18">40</text>
<text x="1299.14" y="969.61" font-size="29.66">0</text>
<text x="1432.59" y="591.97" font-size="30.30">1 D</text>
<text x="1494.84" y="755.38" font-size="28.26">***</text>
<text x="1362.11" y="1008.95" font-size="30.36">Mock</text>
<text x="1497.41" y="1008.35" font-size="30.22">Isx</text>
<text x="1154.85" y="555.33" font-size="27.97" font-weight="bold">G</text>
<text transform="translate(1226.75 950.34) rotate(-90)" font-size="30.98">Relative GFP intensity (%)</text>
<line x1="1766.1" y1="565.5" x2="1766.1" y2="956.9" stroke="#000" stroke-width="2.1"/>
<line x1="1756.6" y1="955.9" x2="2010.3" y2="955.9" stroke="#000" stroke-width="2.1"/>
<line x1="1756.6" y1="955.9" x2="1766.1" y2="955.9" stroke="#000" stroke-width="2.1"/>
<line x1="1756.6" y1="826.1" x2="1766.1" y2="826.1" stroke="#000" stroke-width="2.1"/>
<line x1="1756.6" y1="696.4" x2="1766.1" y2="696.4" stroke="#000" stroke-width="2.1"/>
<line x1="1756.6" y1="566.7" x2="1766.1" y2="566.7" stroke="#000" stroke-width="2.1"/>
<rect x="1786.3" y="632.0" width="81.5" height="322.9" fill="#DB88F6"/>
<rect x="1909.0" y="894.9" width="80.7" height="60.0" fill="#C9FDC8"/>
<line x1="1827.1" y1="626.1" x2="1827.1" y2="637.0" stroke="#000" stroke-width="2"/>
<line x1="1818.5" y1="626.1" x2="1835.7" y2="626.1" stroke="#000" stroke-width="2"/>
<line x1="1818.5" y1="637.0" x2="1835.7" y2="637.0" stroke="#000" stroke-width="2"/>
<line x1="1949.5" y1="892.5" x2="1949.5" y2="896.5" stroke="#000" stroke-width="2"/>
<line x1="1941.0" y1="892.5" x2="1958.0" y2="892.5" stroke="#000" stroke-width="2"/>
<line x1="1941.0" y1="896.5" x2="1958.0" y2="896.5" stroke="#000" stroke-width="2"/>
<text x="1689.63" y="576.26" font-size="29.81">120</text>
<text x="1706.00" y="706.18" font-size="30.01">80</text>
<text x="1706.01" y="835.92" font-size="29.99">40</text>
<text x="1722.77" y="965.22" font-size="28.95">0</text>
<text x="1893.76" y="589.10" font-size="30.66">2 D</text>
<text x="1932.44" y="866.51" font-size="28.62">***</text>
<text x="1792.30" y="1005.75" font-size="30.49">Mock</text>
<text x="1936.09" y="1005.18" font-size="30.47">Isx</text>
<text x="1597.55" y="556.40" font-size="30.67" font-weight="bold">H</text>
<text transform="translate(1670.71 953.35) rotate(-90)" font-size="31.07">Relative GFP intensity (%)</text>
<line x1="172.9" y1="1408.8" x2="172.9" y2="1773.4" stroke="#444" stroke-width="1.6"/>
<line x1="161.3" y1="1772.6" x2="614.3" y2="1772.6" stroke="#444" stroke-width="1.6"/>
<line x1="161.3" y1="1772.6" x2="172.9" y2="1772.6" stroke="#444" stroke-width="1.6"/>
<line x1="161.3" y1="1711.8" x2="172.9" y2="1711.8" stroke="#444" stroke-width="1.6"/>
<line x1="161.3" y1="1651.7" x2="172.9" y2="1651.7" stroke="#444" stroke-width="1.6"/>
<line x1="161.3" y1="1591.2" x2="172.9" y2="1591.2" stroke="#444" stroke-width="1.6"/>
<line x1="161.3" y1="1530.6" x2="172.9" y2="1530.6" stroke="#444" stroke-width="1.6"/>
<line x1="161.3" y1="1470.2" x2="172.9" y2="1470.2" stroke="#444" stroke-width="1.6"/>
<line x1="161.3" y1="1409.9" x2="172.9" y2="1409.9" stroke="#444" stroke-width="1.6"/>
<line x1="229.5" y1="1446.2" x2="229.5" y2="1466.3" stroke="#000" stroke-width="2.2"/>
<line x1="215.8" y1="1446.2" x2="243.2" y2="1446.2" stroke="#000" stroke-width="2.2"/>
<rect x="202.0" y="1467.0" width="54.9" height="305.6" fill="#DB88F6" stroke="#333" stroke-width="1.4"/>
<line x1="313.6" y1="1463.1" x2="313.6" y2="1487.5" stroke="#000" stroke-width="2.2"/>
<line x1="299.8" y1="1463.1" x2="327.4" y2="1463.1" stroke="#000" stroke-width="2.2"/>
<rect x="286.1" y="1488.2" width="55.0" height="284.4" fill="#C0BFFE" stroke="#333" stroke-width="1.4"/>
<line x1="397.6" y1="1492.6" x2="397.6" y2="1497.5" stroke="#000" stroke-width="2.2"/>
<rect x="370.1" y="1498.2" width="55.0" height="274.4" fill="#D5D49A" stroke="#333" stroke-width="1.4"/>
<line x1="482.2" y1="1488.2" x2="482.2" y2="1489.4" stroke="#000" stroke-width="2.2"/>
<rect x="454.6" y="1490.1" width="55.3" height="282.5" fill="#FEDEE2" stroke="#333" stroke-width="1.4"/>
<line x1="566.5" y1="1483.3" x2="566.5" y2="1495.7" stroke="#000" stroke-width="2.2"/>
<rect x="539.1" y="1496.4" width="54.8" height="276.2" fill="#C9FDC8" stroke="#333" stroke-width="1.4"/>
<text x="113.49" y="1419.38" font-size="30.31">1.2</text>
<text x="112.61" y="1479.84" font-size="30.04">1.0</text>
<text x="111.83" y="1544.12" font-size="29.98">0.8</text>
<text x="111.83" y="1604.32" font-size="29.99">0.6</text>
<text x="110.94" y="1662.91" font-size="29.66">0.4</text>
<text x="112.71" y="1721.48" font-size="30.44">0.2</text>
<text x="111.23" y="1780.09" font-size="30.03">0.0</text>
<text x="222.65" y="1424.01" font-size="29.39">a</text>
<text x="305.96" y="1438.31" font-size="29.20">a</text>
<text x="388.80" y="1471.42" font-size="28.29">a</text>
<text x="474.01" y="1470.00" font-size="30.30">a</text>
<text x="557.10" y="1461.20" font-size="30.67">a</text>
<text x="216.09" y="1828.05" font-size="26.90">L1</text>
<text x="295.35" y="1829.24" font-size="29.90">L2</text>
<text x="381.25" y="1829.51" font-size="31.13">L3</text>
<text x="465.10" y="1829.28" font-size="30.47">L4</text>
<text x="549.08" y="1829.23" font-size="30.76">L5</text>
<text x="490.36" y="1407.28" font-size="30.92">Man</text>
<text x="12.83" y="1398.20" font-size="30.96" font-weight="bold">J</text>
<text transform="translate(77.97 1753.98) rotate(-90)" font-size="31.01">Young’s modulus (MPa)</text>
<line x1="817.2" y1="1410.2" x2="817.2" y2="1773.4" stroke="#444" stroke-width="1.6"/>
<line x1="801.3" y1="1772.6" x2="1237.9" y2="1772.6" stroke="#444" stroke-width="1.6"/>
<line x1="801.3" y1="1772.6" x2="817.2" y2="1772.6" stroke="#444" stroke-width="1.6"/>
<line x1="801.3" y1="1700.1" x2="817.2" y2="1700.1" stroke="#444" stroke-width="1.6"/>
<line x1="801.3" y1="1628.1" x2="817.2" y2="1628.1" stroke="#444" stroke-width="1.6"/>
<line x1="801.3" y1="1555.9" x2="817.2" y2="1555.9" stroke="#444" stroke-width="1.6"/>
<line x1="801.3" y1="1483.4" x2="817.2" y2="1483.4" stroke="#444" stroke-width="1.6"/>
<line x1="801.3" y1="1411.0" x2="817.2" y2="1411.0" stroke="#444" stroke-width="1.6"/>
<rect x="844.3" y="1484.1" width="50.8" height="288.5" fill="#DB88F6" stroke="#333" stroke-width="1.4"/>
<line x1="948.5" y1="1508.0" x2="948.5" y2="1522.3" stroke="#000" stroke-width="2.2"/>
<rect x="923.0" y="1523.0" width="51.0" height="249.6" fill="#C0BFFE" stroke="#333" stroke-width="1.4"/>
<line x1="1027.3" y1="1498.2" x2="1027.3" y2="1505.0" stroke="#000" stroke-width="2.2"/>
<rect x="1001.8" y="1505.7" width="51.0" height="266.9" fill="#D5D49A" stroke="#333" stroke-width="1.4"/>
<line x1="1106.1" y1="1491.0" x2="1106.1" y2="1494.3" stroke="#000" stroke-width="2.2"/>
<rect x="1080.4" y="1495.0" width="51.4" height="277.6" fill="#FEDEE2" stroke="#333" stroke-width="1.4"/>
<line x1="1184.7" y1="1490.7" x2="1184.7" y2="1496.1" stroke="#000" stroke-width="2.2"/>
<rect x="1159.1" y="1496.8" width="51.2" height="275.8" fill="#C9FDC8" stroke="#333" stroke-width="1.4"/>
<text x="754.55" y="1425.98" font-size="29.57">1.0</text>
<text x="753.73" y="1498.32" font-size="29.98">0.8</text>
<text x="753.73" y="1566.22" font-size="29.99">0.6</text>
<text x="753.74" y="1638.31" font-size="29.66">0.4</text>
<text x="754.11" y="1710.88" font-size="30.44">0.2</text>
<text x="753.31" y="1783.39" font-size="30.49">0.0</text>
<text x="863.28" y="1462.22" font-size="28.66">a</text>
<text x="940.78" y="1486.62" font-size="28.66">a</text>
<text x="1019.35" y="1476.31" font-size="29.39">a</text>
<text x="1098.74" y="1470.11" font-size="29.57">a</text>
<text x="1176.54" y="1473.81" font-size="29.57">a</text>
<text x="855.28" y="1830.36" font-size="29.55">L1</text>
<text x="931.36" y="1831.03" font-size="31.02">L2</text>
<text x="1013.06" y="1831.30" font-size="32.24">L3</text>
<text x="1091.29" y="1830.72" font-size="30.57">L4</text>
<text x="1168.70" y="1830.94" font-size="31.67">L5</text>
<text x="1131.30" y="1407.45" font-size="30.39">Isx</text>
<text x="644.23" y="1404.90" font-size="32.41" font-weight="bold">K</text>
<text transform="translate(716.19 1757.18) rotate(-90)" font-size="31.04">Young’s modulus (MPa)</text>
<text x="1298.39" y="1424.50" font-size="34.59" font-weight="bold">L</text>
<text x="1375.44" y="1469.75" font-size="30.79">AGAMOUS</text>
<text x="1323.99" y="1583.26" font-size="30.96">SPOROCYTELESS</text>
<text x="1396.40" y="1620.15" font-size="30.65">/NOZZLE</text>
<text x="1392.95" y="1728.74" font-size="30.76" fill="#C00000">Germ cell</text>
<text x="1373.64" y="1765.68" font-size="31.05" fill="#C00000">specification</text>
<text x="1720.75" y="1491.39" font-size="30.62" fill="#0070C0">Cell wall</text>
<text x="1724.94" y="1528.25" font-size="31.05" fill="#0070C0">stiffness</text>
<text x="1682.86" y="1691.95" font-size="30.63" fill="#0070C0">Growth-derived</text>
<text x="1648.64" y="1729.26" font-size="31.08" fill="#0070C0">mechanical conflicts</text>
<line x1="1452.9" y1="1484.4" x2="1452.9" y2="1530.0" stroke="#000" stroke-width="5.7"/>
<polygon points="1441.0,1527.2 1464.0,1527.2 1452.6,1549.7" fill="#000"/>
<line x1="1455.3" y1="1634.0" x2="1455.3" y2="1679.0" stroke="#000" stroke-width="6.0"/>
<polygon points="1443.9,1676.5 1466.9,1676.5 1455.4,1699.3" fill="#000"/>
<line x1="1619.2" y1="1548.0" x2="1672.7" y2="1513.3" stroke="#4472C4" stroke-width="4.8"/>
<polygon points="1691.2,1501.3 1677.3,1524.0 1664.8,1504.7" fill="#4472C4"/>
<line x1="1686.4" y1="1652.2" x2="1629.8" y2="1610.2" stroke="#4472C4" stroke-width="4.8"/>
<polygon points="1612.1,1597.1 1638.2,1602.2 1624.5,1620.6" fill="#4472C4"/>
<path d="M1874.3,1505.6 C1906,1535 1922,1590 1892,1636" fill="none" stroke="#4472C4" stroke-width="5.3"/>
<polygon points="1878.8,1653.1 1884.1,1627.0 1901.6,1642.0" fill="#4472C4"/>
</svg>
</body></html>
